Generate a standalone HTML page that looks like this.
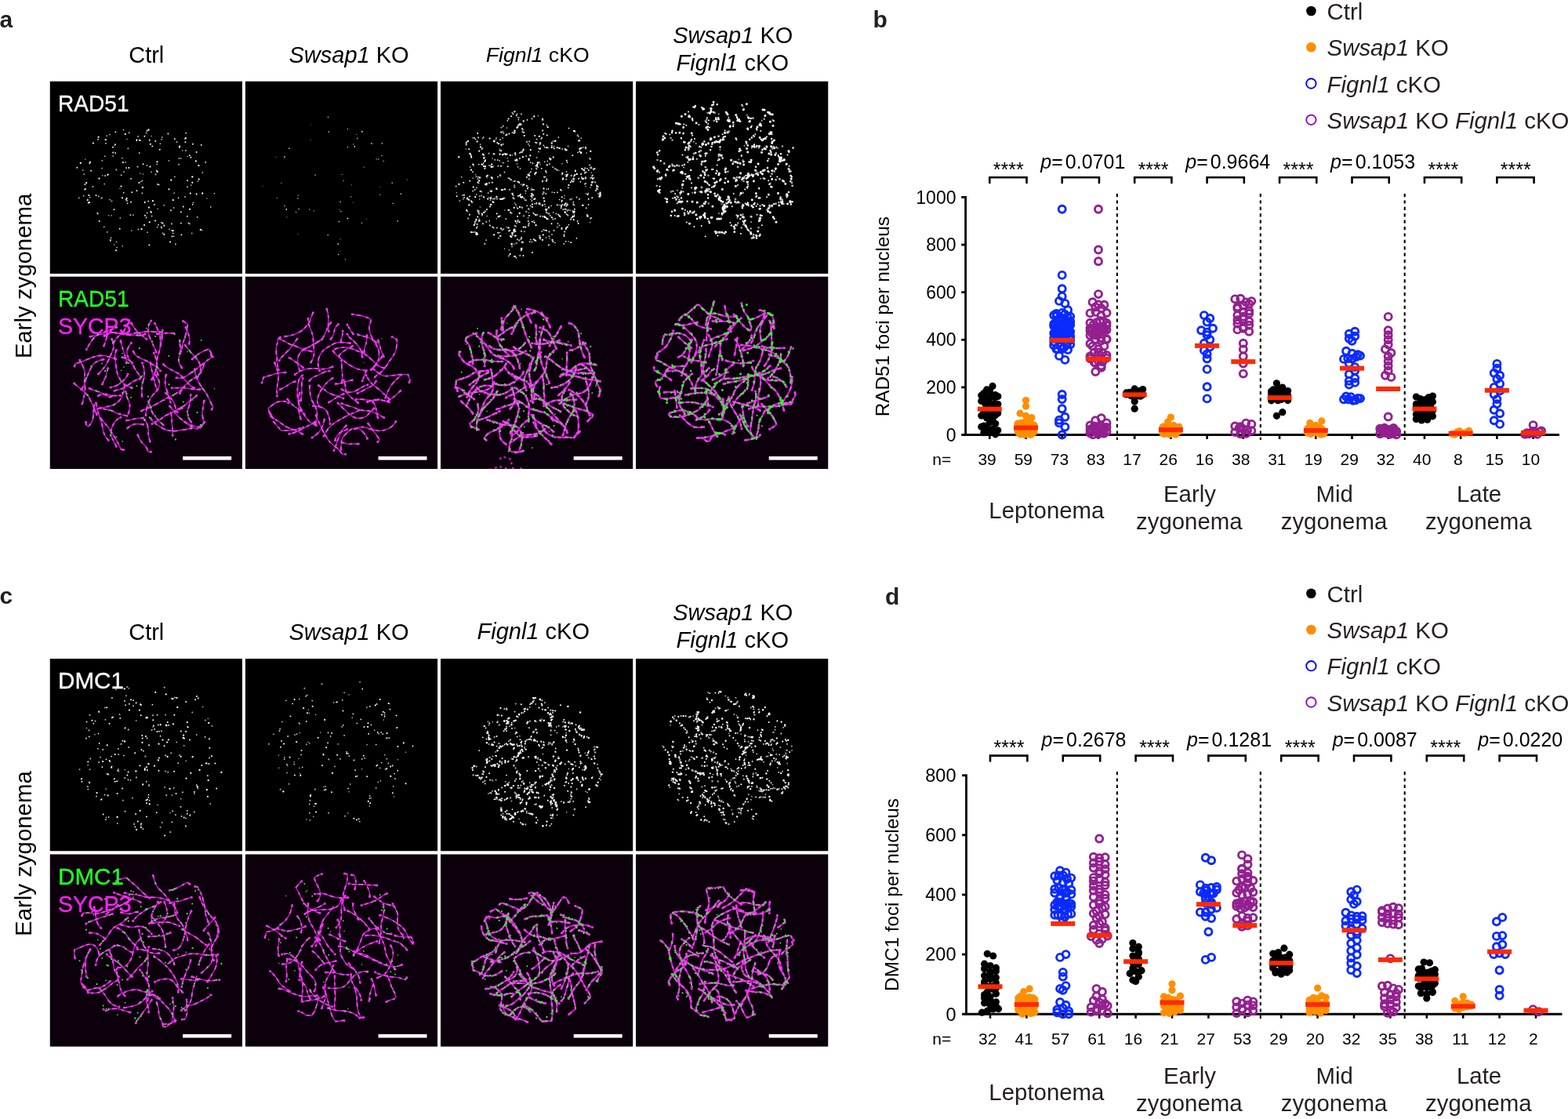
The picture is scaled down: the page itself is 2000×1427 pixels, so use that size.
<!DOCTYPE html>
<html><head><meta charset="utf-8"><title>Figure</title>
<style>html,body{margin:0;padding:0;background:#fff;}svg{display:block;}</style>
</head><body>
<svg width="2000" height="1427" viewBox="0 0 2000 1427" font-family="'Liberation Sans', Arial, Helvetica, sans-serif">
<defs><filter id="soft" x="-5%" y="-5%" width="110%" height="110%"><feGaussianBlur stdDeviation="0.45"/></filter></defs>
<rect width="2000" height="1427" fill="#fff"/>
<svg x="63.5" y="103.5" width="245.5" height="245.5" viewBox="0 0 245.5 245.5" overflow="hidden"><rect width="245.5" height="245.5" fill="#000"/><g transform="translate(0 0.0)" filter="url(#soft)"><path d="M78.7 171.4h0M93.3 103.0h0M126.1 62.7h0M200.4 149.5h0M98.4 74.1h0M82.6 82.2h0M181.3 121.9h0M89.5 136.8h0M67.3 120.2h0M129.6 70.1h0M82.3 208.6h0M169.3 88.5h0M194.9 142.6h0M75.3 171.2h0M119.0 118.6h0M66.7 148.6h0M137.6 162.9h0M92.7 210.4h0M115.4 117.6h0M175.7 96.0h0M45.2 99.7h0" stroke="#ffffff" stroke-width="1.63" stroke-opacity="0.67" stroke-linecap="round" fill="none"/><path d="M110.8 75.9h0M69.3 185.7h0M71.4 79.4h0M76.6 68.3h0M142.3 180.3h0M69.6 131.2h0M138.5 183.4h0M182.9 155.0h0M78.2 199.7h0M80.6 95.5h0M167.5 181.3h0M144.3 193.8h0M164.0 148.9h0M175.5 134.9h0M99.1 155.9h0M205.3 160.6h0M157.2 194.1h0M62.3 146.9h0M158.8 142.7h0M77.4 203.6h0M136.6 106.0h0M140.8 79.7h0M96.8 103.5h0M130.2 172.1h0M124.2 168.0h0M167.1 98.5h0M178.3 181.9h0M128.6 166.0h0M186.4 101.4h0M60.6 168.4h0M117.9 142.9h0M194.8 116.6h0M158.3 197.7h0M159.3 122.0h0M143.4 71.5h0M182.2 157.4h0M94.3 142.4h0M167.2 181.1h0M124.6 192.8h0M72.7 69.7h0M76.6 151.3h0M42.3 113.5h0M124.0 107.6h0M50.6 104.9h0M99.8 85.9h0M70.3 95.8h0M89.8 174.5h0M152.6 188.7h0M123.2 66.0h0M137.1 186.3h0M92.4 98.2h0M91.1 119.9h0M106.4 170.8h0M37.3 148.7h0M94.6 115.6h0M145.9 158.3h0M43.7 118.8h0M51.1 148.2h0M164.9 98.6h0M210.0 143.3h0" stroke="#ffffff" stroke-width="1.63" stroke-opacity="1.00" stroke-linecap="round" fill="none"/><path d="M158.1 161.5h0M194.1 190.1h0M188.8 127.6h0M142.2 185.7h0M85.6 212.1h0M136.1 114.0h0M142.7 74.2h0M136.9 115.4h0M65.8 149.2h0M43.2 146.2h0M104.3 190.6h0M180.2 132.6h0M61.4 169.0h0M66.9 101.3h0M129.7 115.9h0M116.3 128.1h0M44.3 138.2h0M151.9 101.4h0M118.0 127.0h0M73.4 192.4h0M66.6 111.1h0M94.0 62.3h0M181.2 194.0h0M85.1 204.9h0" stroke="#ffffff" stroke-width="1.90" stroke-opacity="0.67" stroke-linecap="round" fill="none"/><path d="M120.9 70.3h0M119.1 105.7h0M140.3 87.3h0M97.3 151.1h0M156.0 198.0h0M63.2 178.5h0M167.4 166.9h0M80.5 84.3h0M93.4 103.7h0M73.7 119.5h0M45.5 137.5h0M80.7 91.0h0M167.9 195.9h0M83.9 64.9h0M126.9 209.0h0M59.1 145.7h0M175.6 126.7h0M179.9 97.3h0M127.3 75.2h0M44.9 131.8h0M82.0 163.7h0M74.4 118.9h0M34.9 110.2h0M121.5 171.3h0M111.0 74.8h0M173.6 72.5h0M52.7 114.3h0M130.9 82.9h0M178.4 94.7h0M172.6 73.2h0M172.9 77.8h0M139.0 132.0h0M104.7 141.8h0M170.3 160.0h0M103.5 154.3h0M150.9 67.0h0M110.9 139.8h0M83.5 80.7h0M89.2 188.3h0M133.5 157.4h0M193.2 81.4h0M154.4 164.8h0M83.7 91.6h0M182.5 80.3h0M159.4 73.7h0M124.0 63.2h0M134.8 76.5h0M187.1 90.5h0" stroke="#ffffff" stroke-width="1.90" stroke-opacity="1.00" stroke-linecap="round" fill="none"/><path d="M98.5 152.7h0M135.0 118.9h0M77.4 202.4h0M165.4 84.6h0M118.2 135.7h0M164.5 106.3h0M61.6 74.3h0M102.9 170.7h0M112.9 189.1h0M155.5 181.9h0M186.4 102.4h0M112.5 70.5h0M142.5 187.0h0M97.5 110.7h0M177.0 181.0h0M155.7 190.6h0M173.4 88.5h0M173.7 66.3h0M175.4 172.4h0M79.0 153.0h0M70.6 120.7h0M54.9 134.6h0M123.1 173.9h0M84.9 112.9h0M172.6 147.5h0M112.0 109.2h0M162.1 77.5h0M103.6 124.4h0M160.4 207.9h0M198.7 103.4h0M101.2 65.8h0M114.3 91.7h0M125.6 153.2h0M137.3 131.5h0M188.2 173.5h0" stroke="#ffffff" stroke-width="2.17" stroke-opacity="0.67" stroke-linecap="round" fill="none"/><path d="M143.9 181.1h0M92.5 148.8h0M96.2 67.6h0M126.0 61.9h0M137.0 102.9h0M114.5 75.3h0M190.2 125.1h0M50.6 154.5h0M98.1 149.7h0M181.8 129.3h0M91.0 134.0h0M137.2 115.4h0M46.7 129.7h0M48.3 151.6h0M84.6 215.8h0M63.0 124.2h0M194.7 143.2h0M129.3 167.2h0M134.6 178.0h0M157.3 151.7h0M178.6 163.3h0M145.9 195.5h0M55.4 79.1h0M115.2 75.5h0M120.6 183.5h0M118.6 135.6h0M126.4 161.1h0M179.3 143.1h0M182.0 122.1h0M189.9 107.7h0M165.7 83.2h0M71.2 74.7h0M117.0 188.7h0M51.5 103.4h0M128.0 109.1h0M131.4 152.7h0M187.1 144.0h0M113.9 129.5h0M49.4 155.1h0M153.6 205.0h0M145.8 184.1h0M154.8 126.2h0M152.1 137.8h0M121.2 154.6h0M157.2 190.7h0M100.8 110.5h0M127.2 179.8h0M49.9 145.5h0M39.3 104.4h0M192.3 189.4h0M128.4 80.3h0M62.1 71.3h0" stroke="#ffffff" stroke-width="2.17" stroke-opacity="1.00" stroke-linecap="round" fill="none"/></g></svg>
<svg x="312.8" y="103.5" width="245.5" height="245.5" viewBox="0 0 245.5 245.5" overflow="hidden"><rect width="245.5" height="245.5" fill="#000"/><g transform="translate(0 0.0)" filter="url(#soft)"><path d="M83.4 55.3h0M121.3 216.7h0M172.0 134.9h0" stroke="#ffffff" stroke-width="1.31" stroke-opacity="0.33" stroke-linecap="round" fill="none"/><path d="M87.7 165.5h0M40.5 149.2h0M123.3 118.9h0M151.6 109.7h0M46.0 129.9h0M142.2 67.8h0" stroke="#ffffff" stroke-width="1.31" stroke-opacity="0.67" stroke-linecap="round" fill="none"/><path d="M148.5 180.8h0M50.1 159.2h0M176.4 101.8h0M134.9 147.3h0M64.8 167.1h0M118.9 220.9h0M105.7 45.9h0M130.7 61.1h0M130.6 84.2h0M81.9 163.6h0M174.2 94.9h0M188.4 156.0h0" stroke="#ffffff" stroke-width="1.31" stroke-opacity="1.00" stroke-linecap="round" fill="none"/><path d="M22.2 133.4h0M154.9 176.0h0M67.6 194.9h0M137.7 155.0h0M83.3 75.1h0M39.5 96.8h0" stroke="#ffffff" stroke-width="1.50" stroke-opacity="0.33" stroke-linecap="round" fill="none"/><path d="M171.8 144.8h0M125.4 127.1h0M127.6 227.3h0M167.3 99.5h0M67.6 145.7h0M138.0 80.5h0" stroke="#ffffff" stroke-width="1.50" stroke-opacity="0.67" stroke-linecap="round" fill="none"/><path d="M56.0 85.7h0M106.6 64.6h0M119.7 179.3h0M198.6 143.7h0M174.4 79.4h0" stroke="#ffffff" stroke-width="1.50" stroke-opacity="1.00" stroke-linecap="round" fill="none"/><path d="M120.1 163.8h0M206.4 125.7h0M121.4 201.2h0M135.5 132.3h0M52.9 173.4h0" stroke="#ffffff" stroke-width="1.69" stroke-opacity="0.33" stroke-linecap="round" fill="none"/><path d="M170.0 99.5h0M121.4 153.8h0M105.5 196.3h0M68.4 163.0h0M67.1 149.3h0M122.1 166.1h0M142.9 72.9h0M89.4 119.5h0M194.5 178.4h0M187.4 129.7h0" stroke="#ffffff" stroke-width="1.69" stroke-opacity="0.67" stroke-linecap="round" fill="none"/><path d="M118.5 207.6h0M161.2 79.5h0M130.6 175.1h0M139.5 83.3h0M149.1 64.4h0M52.5 163.4h0M50.1 96.6h0" stroke="#ffffff" stroke-width="1.69" stroke-opacity="1.00" stroke-linecap="round" fill="none"/></g></svg>
<svg x="562.0" y="103.5" width="245.5" height="245.5" viewBox="0 0 245.5 245.5" overflow="hidden"><rect width="245.5" height="245.5" fill="#000"/><g transform="translate(0 0.0)" filter="url(#soft)"><path d="M51.0 140.2h0M85.3 98.1h0M186.1 91.6h0M148.8 141.5h0M183.8 114.5h0M124.3 44.3h0M53.5 92.8h0M141.0 99.1h0M79.1 93.5h0M66.3 98.6h0M94.1 160.9h0M111.6 174.3h0M102.3 213.6h0M199.2 136.6h0M63.7 108.0h0M188.4 142.8h0M75.2 86.5h0M199.3 133.5h0M203.1 144.8h0M44.8 119.7h0M170.6 120.2h0M98.2 201.9h0M95.6 157.0h0M185.3 143.3h0M191.2 135.6h0M151.4 158.0h0M73.6 79.9h0M103.1 160.5h0M55.4 148.7h0M170.2 167.9h0M55.0 98.7h0M70.5 74.3h0M163.1 204.6h0M157.7 149.1h0M174.6 179.1h0M108.2 143.0h0M81.6 213.8h0M185.1 116.4h0M134.9 164.7h0M71.3 175.1h0M133.5 159.8h0M112.7 118.6h0M94.6 155.3h0M179.3 118.8h0M119.8 169.6h0M80.4 104.1h0M77.2 81.0h0M107.4 151.6h0M161.4 156.3h0M100.3 129.4h0M33.4 76.9h0M84.1 186.2h0M169.2 155.2h0M144.7 83.1h0M127.3 201.6h0M52.8 171.2h0M47.6 166.7h0M184.7 122.7h0M182.6 123.5h0M102.8 131.7h0M88.4 125.0h0M190.6 180.1h0M127.0 105.8h0M115.1 150.9h0M94.9 38.3h0M101.8 55.0h0M158.0 145.9h0M131.4 136.7h0M106.1 69.3h0M62.1 129.3h0M52.9 171.4h0M169.8 122.3h0M93.9 208.1h0M137.4 168.8h0M144.3 84.9h0M79.0 103.8h0M80.2 138.1h0M97.5 105.7h0M158.5 86.2h0M49.2 175.9h0M88.4 94.2h0M79.7 66.7h0M53.5 170.4h0M192.3 116.6h0M116.0 136.5h0M130.6 49.0h0M161.4 170.1h0M59.3 123.0h0M28.8 150.4h0M96.1 157.9h0M87.5 215.3h0M61.9 148.4h0M92.2 196.8h0M95.2 191.4h0M131.9 121.8h0M200.5 134.6h0M134.7 163.8h0M159.0 119.1h0M97.0 160.5h0M110.5 76.9h0M161.3 121.2h0M127.4 197.0h0M139.0 200.6h0M119.5 138.7h0M92.4 149.7h0M195.0 112.1h0M136.3 163.0h0M132.8 190.1h0M88.8 190.2h0M56.6 102.7h0M94.1 38.8h0M80.6 66.1h0M150.8 113.8h0M99.6 128.0h0M169.5 153.9h0M56.7 165.5h0M81.8 164.5h0M20.3 142.1h0M91.5 94.5h0M92.8 127.7h0M39.2 153.3h0M133.9 121.9h0M177.3 88.7h0M119.0 178.1h0M41.3 123.6h0M84.6 59.7h0M185.1 134.1h0M191.0 174.6h0M155.0 105.3h0M50.5 160.5h0M138.1 162.2h0M98.1 46.5h0M49.7 150.4h0M112.4 168.0h0M104.5 60.4h0M192.1 109.6h0M32.4 86.5h0M59.2 172.1h0" stroke="#ffffff" stroke-width="1.67" stroke-opacity="0.67" stroke-linecap="round" fill="none"/><path d="M33.0 78.3h0M122.4 155.0h0M122.7 78.6h0M94.3 64.1h0M155.4 157.4h0M92.5 148.3h0M78.6 189.8h0M94.1 132.8h0M36.5 151.4h0M42.0 192.6h0M98.3 58.0h0M128.8 111.4h0M99.4 49.1h0M115.8 138.6h0M178.4 128.3h0M85.4 50.3h0M142.4 174.0h0M130.2 144.1h0M160.6 115.6h0M78.6 150.1h0M37.7 109.5h0M46.8 194.4h0M45.4 122.0h0M81.5 116.1h0M177.3 90.0h0M170.5 166.9h0M126.7 155.5h0M173.4 200.3h0M162.3 185.5h0M116.6 152.6h0M94.7 197.1h0M52.5 86.6h0M128.2 73.3h0M146.0 206.0h0M145.2 142.1h0M120.4 150.5h0M170.4 158.1h0M92.1 145.0h0M72.9 100.6h0M131.4 81.8h0M86.2 164.0h0M202.8 145.4h0M115.0 202.2h0M129.2 191.6h0M149.0 142.0h0M43.3 72.4h0M104.1 205.0h0M175.1 90.8h0M62.3 178.2h0M151.6 151.0h0M157.5 195.6h0M67.8 187.1h0M48.9 165.7h0M154.4 153.4h0M152.7 173.0h0M161.5 103.6h0M60.7 142.6h0M159.8 204.3h0M44.7 74.0h0M116.1 179.0h0M54.7 104.3h0M166.8 174.4h0M110.5 49.4h0M105.1 88.6h0M89.8 44.7h0M169.5 167.2h0M121.5 203.7h0M188.6 157.4h0M48.8 106.2h0M92.4 41.6h0M92.4 42.0h0M89.1 167.2h0M98.2 201.8h0M150.3 71.6h0M141.0 159.0h0M149.4 181.7h0M75.2 101.5h0M143.7 167.5h0M121.3 107.9h0M132.6 84.2h0M115.0 159.2h0M134.6 199.5h0M41.2 140.2h0M93.1 191.1h0M80.3 188.7h0M145.0 86.1h0M97.5 59.4h0M115.0 115.7h0M110.2 158.8h0M130.2 49.7h0M136.4 102.0h0M64.0 149.8h0M174.7 178.3h0M96.4 225.1h0M87.3 164.7h0M80.5 93.1h0M88.0 221.3h0M204.4 145.2h0M93.9 64.0h0M160.5 169.7h0M77.4 80.9h0M148.5 84.8h0M87.9 124.2h0M102.7 215.9h0M53.8 106.3h0M118.1 144.9h0M113.7 204.8h0M117.7 138.2h0M165.7 129.1h0M131.1 196.0h0M47.9 122.2h0M45.7 187.4h0M159.7 155.7h0M130.5 195.9h0M120.8 117.7h0M163.4 183.0h0M161.4 165.5h0M132.9 157.2h0M109.2 95.7h0M84.9 93.2h0M73.4 108.1h0M98.5 178.9h0M110.0 122.1h0M93.9 149.8h0M194.1 120.0h0M158.8 86.8h0M131.5 189.6h0M69.2 100.3h0M143.2 109.7h0M137.6 137.3h0M104.3 90.4h0M45.2 177.8h0M138.4 197.8h0M83.2 175.6h0M114.8 103.6h0M103.0 41.9h0M157.4 207.3h0M146.1 175.4h0M163.6 60.1h0M122.2 156.3h0M90.4 44.8h0" stroke="#ffffff" stroke-width="1.67" stroke-opacity="1.00" stroke-linecap="round" fill="none"/><path d="M116.1 111.9h0M129.7 48.3h0M52.3 141.1h0M198.8 137.2h0M193.3 120.5h0M34.2 166.1h0M27.9 145.6h0M86.0 101.9h0M192.4 174.2h0M113.5 117.0h0M135.8 167.9h0M137.0 85.1h0M91.4 40.0h0M45.9 136.1h0M167.3 150.3h0M146.9 112.0h0M185.3 86.0h0M187.0 111.4h0M49.8 146.7h0M143.7 76.4h0M92.6 145.5h0M194.3 124.5h0M107.0 132.0h0M149.0 186.1h0M109.8 77.7h0M52.9 169.1h0M93.9 190.9h0M154.9 119.0h0M175.7 70.4h0M142.4 141.8h0M125.8 85.7h0M52.2 146.1h0M44.1 192.5h0M151.5 184.0h0M125.1 89.9h0M104.2 64.4h0M142.0 195.4h0M116.4 205.0h0M79.0 72.4h0M79.4 64.2h0M87.9 164.5h0M120.1 156.2h0M160.5 120.1h0M112.7 181.0h0M116.6 148.5h0M56.0 97.4h0M129.8 128.1h0M103.1 199.0h0M97.6 41.9h0M101.6 111.4h0M103.6 60.5h0M53.5 73.0h0M75.8 119.5h0M86.4 123.4h0M130.2 47.7h0M42.0 107.4h0M99.8 46.6h0M62.1 107.6h0M135.4 56.3h0M95.2 65.3h0M24.4 152.4h0M98.6 59.1h0M126.7 86.5h0M54.8 71.5h0M90.6 168.3h0M111.9 80.2h0M192.9 128.5h0M32.9 164.0h0M113.3 82.3h0M82.0 137.2h0M45.7 144.5h0M160.3 186.8h0M111.4 135.6h0M71.1 72.5h0M201.2 143.6h0M50.7 80.8h0M101.5 202.0h0M75.3 193.3h0M154.0 139.4h0M134.9 190.5h0M158.0 163.3h0M39.0 152.5h0M109.9 122.7h0M132.7 102.7h0M127.6 199.5h0M156.2 163.8h0M130.0 172.6h0M86.7 223.0h0M112.0 120.1h0M63.5 151.8h0M134.7 164.0h0M131.1 195.9h0M120.6 149.5h0M105.4 65.2h0M63.5 157.7h0M199.0 132.9h0M58.4 132.7h0M100.2 203.3h0M117.6 138.6h0M58.3 202.7h0M125.0 85.8h0M86.6 164.8h0M91.8 194.9h0M83.0 69.3h0M185.9 116.0h0M124.2 109.4h0M39.7 154.0h0M116.4 144.3h0M96.0 185.2h0M195.6 123.2h0M181.4 112.7h0M179.9 122.6h0M191.4 175.2h0M98.6 109.2h0M61.9 130.0h0M155.2 86.5h0M127.0 157.2h0M91.1 210.9h0M145.7 111.5h0M120.3 119.0h0M47.4 124.4h0M170.0 126.9h0M181.7 84.6h0M170.4 170.4h0M162.7 83.1h0M165.0 164.8h0M135.3 137.8h0M122.6 97.5h0M179.2 72.8h0M41.4 72.3h0M26.7 122.3h0M57.4 166.1h0M106.8 191.8h0" stroke="#ffffff" stroke-width="2.00" stroke-opacity="0.67" stroke-linecap="round" fill="none"/><path d="M178.9 91.8h0M94.4 189.1h0M154.8 152.3h0M161.9 119.1h0M63.7 149.6h0M151.8 85.5h0M113.0 171.6h0M175.7 181.4h0M160.8 101.2h0M54.9 147.6h0M138.0 209.1h0M134.1 114.5h0M119.8 180.6h0M98.9 146.4h0M156.3 123.7h0M129.7 158.6h0M82.1 137.9h0M67.9 76.6h0M53.9 181.8h0M58.6 121.2h0M84.4 68.3h0M102.8 90.6h0M141.7 173.7h0M148.5 113.2h0M83.0 93.7h0M160.4 121.4h0M50.2 123.1h0M199.4 134.3h0M98.3 128.2h0M169.7 176.9h0M135.4 126.8h0M98.1 172.6h0M101.0 98.6h0M99.0 56.4h0M59.0 163.5h0M64.5 140.7h0M46.9 195.3h0M170.4 120.5h0M153.1 138.5h0M63.0 183.9h0M134.6 174.2h0M57.1 100.8h0M89.0 94.6h0M135.8 69.0h0M117.0 160.4h0M77.1 108.3h0M110.9 137.1h0M168.9 128.3h0M168.6 172.5h0M98.3 162.3h0M72.3 78.6h0M179.2 118.5h0M44.0 179.2h0M33.4 165.0h0M183.9 117.0h0M94.6 62.9h0M127.2 172.3h0M47.2 173.1h0M156.1 125.2h0M56.4 111.5h0M120.2 69.5h0M86.6 48.1h0M188.7 150.3h0M105.2 88.0h0M134.8 164.4h0M154.0 160.0h0M168.3 94.7h0M203.5 147.0h0M38.7 94.5h0M118.5 168.4h0M67.5 154.4h0M96.8 43.8h0M110.0 133.4h0M30.0 145.2h0M200.0 137.6h0M158.2 191.9h0M89.9 125.7h0M63.0 160.0h0M74.2 79.7h0M95.0 223.5h0M168.8 172.7h0M47.3 129.0h0M29.3 129.3h0M38.8 192.4h0M78.8 138.8h0M154.5 187.3h0M136.8 176.0h0M36.2 86.7h0M171.4 119.6h0M100.3 129.2h0M159.7 163.3h0M184.3 111.0h0M103.1 200.8h0M93.7 66.2h0M23.1 97.0h0M154.8 147.7h0M46.4 195.6h0M168.4 173.6h0M193.1 129.6h0M46.6 182.6h0M71.7 168.9h0M32.7 80.9h0M20.7 146.7h0M66.4 185.9h0M132.2 172.4h0M37.3 127.2h0M196.5 111.4h0M93.6 161.6h0M87.4 67.1h0M180.3 124.0h0M39.9 192.7h0M88.9 220.3h0M52.8 169.3h0M157.6 197.4h0M131.3 67.4h0M148.8 157.9h0M73.2 193.3h0M172.0 114.9h0M93.3 189.4h0M33.7 150.1h0M96.1 101.3h0M66.0 129.2h0M39.2 96.3h0M120.2 118.0h0M37.1 146.9h0M94.0 223.6h0M94.6 127.5h0M85.7 108.7h0M50.1 123.2h0M159.6 86.9h0M107.0 69.5h0M169.6 176.4h0M166.1 205.8h0M169.1 124.8h0M161.1 186.3h0M83.7 93.1h0M153.8 158.4h0M150.2 170.3h0M36.9 170.2h0M64.7 122.8h0M130.2 63.1h0M121.1 78.3h0M134.8 84.7h0M67.6 92.8h0M141.5 181.7h0M179.5 91.3h0M118.7 201.8h0M77.3 88.8h0M138.0 160.8h0M171.9 114.1h0M155.7 125.1h0M170.9 163.3h0M188.9 113.5h0M176.2 124.3h0M68.5 92.9h0M47.2 66.4h0M119.1 150.6h0M198.1 139.6h0M105.5 222.5h0M193.3 148.7h0M143.4 204.7h0M117.0 218.6h0M179.5 85.2h0" stroke="#ffffff" stroke-width="2.00" stroke-opacity="1.00" stroke-linecap="round" fill="none"/><path d="M131.5 142.7h0M138.4 192.0h0M79.6 80.4h0M162.4 171.2h0M30.1 148.3h0M48.5 129.9h0M178.5 90.3h0M190.1 98.6h0M68.1 75.9h0M125.9 197.6h0M123.1 170.5h0M147.5 169.1h0M77.5 82.0h0M169.4 157.2h0M191.2 110.6h0M111.8 178.5h0M40.2 154.4h0M104.9 133.1h0M106.3 149.3h0M76.1 74.7h0M105.9 86.9h0M126.7 80.7h0M112.4 182.5h0M154.5 188.7h0M95.5 94.0h0M190.2 107.1h0M58.3 131.1h0M97.7 101.2h0M192.4 110.8h0M138.8 105.7h0M48.5 178.6h0M105.0 205.7h0M49.8 122.8h0M32.5 79.0h0M47.2 164.8h0M55.0 94.5h0M95.4 191.3h0M104.9 61.8h0M77.6 59.1h0M34.3 148.8h0M159.2 87.8h0M103.0 191.5h0M160.3 125.1h0M139.9 171.6h0M56.6 108.5h0M19.7 134.1h0M185.8 161.8h0M96.7 206.7h0M61.5 92.1h0M129.2 72.1h0M193.1 122.8h0M146.6 76.2h0M63.3 140.1h0M71.9 150.0h0M101.0 55.8h0M73.0 122.1h0M56.3 207.5h0M122.1 111.1h0M134.7 167.1h0M46.3 195.7h0M195.1 112.6h0M89.4 167.8h0M153.6 161.8h0M49.0 169.0h0M112.1 162.8h0M166.0 176.5h0M117.5 179.4h0M94.7 184.3h0M94.3 135.2h0M122.3 112.1h0M162.0 157.5h0M88.0 138.3h0M101.0 91.5h0M50.5 140.3h0M101.3 222.4h0M41.0 115.7h0M141.9 82.5h0M185.0 130.5h0M135.4 124.8h0M67.0 150.2h0M173.6 148.2h0M124.1 104.9h0M131.4 141.6h0M97.3 59.1h0M162.8 135.8h0M69.1 149.9h0M181.5 158.3h0M167.3 126.6h0M74.1 200.1h0M190.9 99.3h0M162.7 164.2h0M116.5 47.8h0M186.9 170.3h0M184.8 124.3h0M108.9 151.9h0M165.3 150.8h0M134.7 127.4h0M134.6 164.1h0M130.2 127.6h0M132.5 122.4h0M71.8 187.2h0M39.2 97.4h0M96.9 180.8h0M109.3 166.5h0M95.0 100.9h0M71.3 136.7h0M23.5 96.3h0M158.7 156.7h0M102.0 144.5h0M117.4 104.9h0M65.2 140.0h0M93.7 192.3h0M64.4 148.2h0M106.3 65.4h0M91.7 65.7h0M122.6 74.2h0M102.7 55.5h0M138.4 169.0h0M65.7 124.3h0M112.2 184.3h0M184.1 131.2h0M43.7 181.3h0M90.8 208.5h0M130.3 157.8h0M159.7 156.7h0M135.9 84.6h0M194.4 128.2h0M134.8 116.3h0M178.3 85.5h0M170.5 124.7h0M117.7 146.1h0M149.4 84.7h0M197.2 129.0h0M101.9 54.4h0M168.4 165.4h0M79.8 57.1h0M166.7 128.1h0M91.3 195.7h0M166.8 120.5h0M143.4 176.1h0M76.2 120.7h0M125.8 103.5h0M94.3 39.1h0M187.4 172.4h0M46.6 185.8h0M58.3 179.4h0M112.7 163.2h0M43.7 138.3h0M91.4 193.6h0M191.5 123.4h0M53.2 85.7h0M81.4 149.1h0M174.7 68.9h0M112.9 124.8h0M48.3 167.4h0M103.4 148.7h0M104.1 161.5h0M75.7 88.4h0M103.7 205.5h0M98.6 177.4h0M168.6 172.4h0M177.0 150.5h0M108.5 140.1h0M106.0 171.8h0M113.2 77.0h0M185.2 123.2h0M134.3 143.4h0M144.6 190.5h0M48.1 71.9h0M200.7 134.5h0M35.2 175.2h0" stroke="#ffffff" stroke-width="2.33" stroke-opacity="0.67" stroke-linecap="round" fill="none"/><path d="M142.6 202.6h0M159.8 188.3h0M173.8 118.5h0M127.0 86.1h0M155.4 117.4h0M160.6 87.9h0M100.7 168.5h0M39.0 113.2h0M49.6 177.9h0M184.9 84.7h0M151.7 171.9h0M45.9 193.5h0M91.5 193.6h0M90.7 207.4h0M121.1 170.6h0M169.4 167.2h0M134.6 190.4h0M101.0 145.8h0M79.1 93.8h0M104.3 147.6h0M41.8 135.1h0M68.6 76.9h0M177.1 75.7h0M96.9 99.8h0M132.4 153.0h0M78.1 138.7h0M141.8 84.6h0M37.4 92.5h0M76.3 150.4h0M146.1 76.3h0M102.3 147.7h0M135.5 175.3h0M73.7 172.9h0M123.0 108.2h0M94.3 189.4h0M158.8 167.0h0M86.6 187.0h0M76.3 197.3h0M90.3 198.6h0M64.7 109.4h0M119.3 45.0h0M59.9 120.5h0M115.7 146.5h0M121.7 116.6h0M105.8 50.9h0M176.2 76.1h0M130.0 202.3h0M54.2 93.3h0M170.1 172.3h0M71.4 137.7h0M136.7 58.7h0M171.1 64.0h0M181.3 158.3h0M193.9 124.3h0M181.7 124.7h0M91.5 143.3h0M89.1 197.7h0M108.3 186.1h0M65.2 106.2h0M140.1 99.9h0M141.8 79.0h0M41.3 106.1h0M46.6 76.9h0M68.2 195.8h0M44.2 147.6h0M133.1 173.3h0M160.5 159.1h0M66.6 109.1h0M134.4 163.4h0M132.7 173.4h0M55.3 167.3h0M143.8 97.1h0M64.3 157.5h0M45.3 194.8h0M75.4 172.1h0M177.5 86.4h0M84.1 68.2h0M187.5 171.9h0M66.7 153.9h0M35.1 76.6h0M126.6 200.0h0M180.4 111.6h0M75.6 93.2h0M113.2 120.3h0M120.2 202.9h0M112.6 100.4h0M125.5 156.2h0M36.3 158.0h0M163.4 132.6h0M161.2 119.8h0M57.0 108.9h0M77.3 65.1h0M131.6 137.1h0M114.7 87.6h0M170.0 63.3h0M187.5 144.3h0M42.8 183.3h0M37.7 92.7h0M111.6 119.3h0M52.6 106.1h0M51.0 84.0h0M78.4 150.4h0M182.9 113.5h0M158.7 167.3h0M82.3 92.7h0M95.6 197.2h0M112.6 99.1h0M57.1 131.3h0M203.4 143.6h0M95.1 92.0h0M127.1 79.0h0M157.9 158.1h0M192.3 132.3h0M104.9 96.7h0M202.5 147.2h0M65.6 123.2h0M123.2 106.3h0M105.6 131.8h0M151.4 85.6h0M49.1 127.0h0M117.0 157.1h0M55.1 108.6h0M123.8 103.8h0M95.6 178.5h0M131.6 149.2h0M45.5 176.3h0M23.4 131.4h0M170.5 166.2h0M135.8 106.9h0M56.5 101.8h0M59.0 130.8h0M116.3 143.7h0M103.3 214.6h0M100.4 54.9h0M80.1 149.7h0M71.4 147.4h0M87.4 190.8h0M100.9 160.4h0M60.2 150.1h0M203.6 142.2h0M105.8 186.1h0M103.4 213.5h0M35.7 150.8h0M139.1 98.6h0M62.6 73.1h0M77.2 187.9h0M100.6 179.6h0M125.9 70.4h0M191.3 89.4h0M114.3 94.9h0M49.3 89.1h0M121.6 183.7h0M131.0 54.8h0M55.3 97.8h0" stroke="#ffffff" stroke-width="2.33" stroke-opacity="1.00" stroke-linecap="round" fill="none"/></g></svg>
<svg x="811.0" y="103.5" width="245.5" height="245.5" viewBox="0 0 245.5 245.5" overflow="hidden"><rect width="245.5" height="245.5" fill="#000"/><g transform="translate(0 -3.5)" filter="url(#soft)"><path d="M30.2 127.9h0M105.7 45.2h0M147.4 197.2h0M76.1 145.3h0M116.6 46.4h0M175.4 176.5h0M98.1 138.6h0M132.0 90.6h0M171.1 55.2h0M154.0 63.7h0M76.7 82.9h0M52.3 175.8h0M136.5 104.2h0M105.9 172.0h0M124.7 188.4h0M163.2 89.5h0M53.6 57.7h0M39.1 117.1h0M81.2 144.5h0M91.3 44.1h0M138.6 85.7h0M167.2 88.0h0M136.8 186.4h0M61.1 113.4h0M59.1 139.7h0M38.4 122.9h0M91.7 134.7h0M83.4 145.0h0M133.7 147.3h0M34.3 76.4h0M111.1 75.5h0M129.5 177.7h0M118.2 51.0h0M63.8 121.8h0M147.8 176.4h0M45.8 69.4h0M109.4 160.2h0M50.1 112.5h0M56.6 148.5h0M132.5 158.6h0M52.3 150.2h0M158.6 198.6h0M147.1 183.1h0M106.4 104.3h0M193.4 148.1h0M60.4 70.8h0M75.4 142.0h0M98.2 127.6h0M125.4 127.1h0M141.8 46.8h0M135.0 163.1h0M117.7 132.2h0M52.0 153.8h0M160.8 53.8h0M159.1 127.7h0M181.0 89.0h0M124.6 188.9h0M83.4 162.3h0M173.4 87.9h0M78.5 158.2h0M147.9 88.8h0M97.9 177.0h0M82.3 179.0h0M107.5 91.0h0M145.6 123.6h0M143.9 162.4h0M68.3 89.1h0M131.0 52.2h0M114.1 133.4h0M59.5 119.3h0M132.6 148.9h0M136.3 35.5h0M117.5 153.8h0M136.0 163.6h0M53.0 142.7h0M112.5 160.4h0M72.2 145.8h0M96.8 115.9h0M111.6 74.8h0M118.4 49.6h0M131.3 103.5h0M33.7 127.1h0M73.8 80.8h0M164.7 48.4h0" stroke="#ffffff" stroke-width="2.03" stroke-opacity="0.67" stroke-linecap="round" fill="none"/><path d="M38.8 70.8h0M62.0 174.5h0M92.3 58.1h0M98.5 116.1h0M73.6 170.7h0M57.8 145.0h0M67.1 42.6h0M82.4 123.8h0M133.6 179.1h0M173.5 71.2h0M134.0 92.0h0M104.7 104.4h0M72.2 72.8h0M173.4 161.7h0M153.4 118.1h0M145.0 124.6h0M112.3 197.2h0M69.7 103.5h0M192.1 109.2h0M93.0 53.5h0M62.9 81.6h0M112.5 166.4h0M176.0 54.3h0M112.7 164.9h0M174.1 162.4h0M178.3 116.1h0M69.8 87.0h0M167.1 151.3h0M74.4 189.1h0M115.2 158.9h0M111.1 77.0h0M88.8 98.8h0M113.0 198.1h0M119.3 151.4h0M156.8 181.9h0M65.8 169.8h0M49.7 175.0h0M71.1 133.6h0M159.3 66.9h0M182.3 158.3h0M89.6 84.0h0M75.1 77.0h0M186.2 104.8h0M140.1 124.0h0M173.6 46.1h0M103.1 117.5h0M102.0 81.1h0M164.5 128.1h0M142.6 126.8h0M113.4 161.4h0M195.6 111.7h0M130.6 158.5h0M43.3 71.6h0M199.8 157.2h0M102.2 50.0h0M77.5 139.3h0M64.3 59.8h0M170.9 43.6h0M150.4 122.7h0M73.1 36.6h0M136.5 182.0h0M169.4 102.5h0M84.5 37.5h0M114.2 73.9h0M139.6 159.6h0M66.4 106.8h0M71.8 50.9h0M64.4 128.0h0M157.3 166.4h0M83.7 188.1h0M152.3 71.3h0M143.0 131.9h0M133.1 178.9h0M83.6 108.8h0M143.3 65.2h0M141.7 138.7h0M87.4 39.1h0M153.6 163.1h0M80.4 59.0h0M175.7 160.3h0M72.5 53.7h0M70.2 79.9h0M76.2 138.8h0M95.1 76.3h0M136.4 160.7h0M53.9 176.0h0M74.7 169.4h0M62.7 122.0h0M61.2 58.4h0M52.8 159.2h0M144.5 194.4h0M43.0 112.0h0M85.5 117.9h0M110.5 164.6h0M139.3 181.8h0M104.5 200.5h0M119.5 52.7h0M118.4 53.8h0M181.9 99.4h0M162.8 117.4h0M101.2 136.2h0M119.8 155.2h0M68.1 48.6h0M47.2 117.8h0M81.6 163.8h0M155.3 160.6h0M71.1 139.6h0M122.9 163.3h0M105.8 99.1h0M156.1 123.5h0M169.2 130.3h0M97.0 138.7h0M174.8 53.2h0M161.3 160.9h0M94.1 62.5h0M57.1 58.6h0M110.6 71.2h0M183.2 100.4h0M183.8 128.4h0M179.3 87.8h0M141.4 83.6h0M193.5 97.4h0M68.0 48.1h0M153.2 151.3h0M69.7 128.9h0M58.1 157.8h0M128.5 78.2h0M176.6 160.2h0M137.9 127.6h0M106.5 150.4h0M171.9 124.7h0M112.2 171.2h0M138.2 125.5h0M100.9 149.8h0M64.8 183.5h0M180.4 125.4h0M50.2 146.9h0M103.7 110.6h0M37.2 70.1h0M127.4 131.2h0M129.0 130.2h0M120.4 183.9h0M183.7 103.6h0M195.6 119.0h0M65.9 125.9h0M158.6 162.4h0M154.3 65.8h0M157.2 182.3h0M91.6 133.4h0M69.6 168.9h0M166.9 74.3h0M97.3 116.1h0M137.7 177.7h0M196.6 158.0h0M47.4 143.8h0M91.1 116.2h0M134.3 174.6h0M83.9 36.9h0M30.7 126.7h0M30.5 137.8h0M181.6 98.0h0M38.2 122.3h0M49.3 111.4h0M149.3 164.2h0M59.5 97.6h0M90.9 50.3h0M164.2 162.4h0M56.9 145.9h0M150.5 160.4h0M116.0 154.7h0M66.7 147.7h0M110.7 157.0h0M139.2 141.5h0M108.5 77.9h0M26.8 94.7h0M103.8 118.5h0M66.5 101.7h0M143.1 137.6h0M183.0 128.3h0M150.0 123.9h0M117.5 118.8h0M55.4 154.5h0M138.0 185.3h0M147.8 60.8h0M37.5 152.7h0M93.9 141.3h0M85.1 162.0h0M66.5 99.8h0M115.2 43.5h0M161.1 175.0h0M88.7 201.6h0M142.6 125.8h0M59.2 110.9h0M195.2 116.2h0M62.9 167.8h0M116.9 53.7h0M154.6 173.7h0M60.4 144.4h0M46.5 78.8h0M192.7 151.6h0M134.0 198.0h0M160.8 187.2h0M113.6 66.6h0M160.3 121.1h0M92.6 83.6h0" stroke="#ffffff" stroke-width="2.03" stroke-opacity="1.00" stroke-linecap="round" fill="none"/><path d="M92.1 140.7h0M99.8 53.9h0M156.5 190.3h0M64.7 125.2h0M77.9 102.7h0M172.6 96.5h0M184.8 157.4h0M119.8 54.8h0M133.6 174.0h0M30.0 119.7h0M83.8 110.3h0M184.3 100.8h0M128.6 174.5h0M133.1 91.3h0M117.7 67.7h0M106.9 81.7h0M146.7 191.5h0M81.4 97.7h0M142.3 192.1h0M136.7 145.8h0M67.9 47.3h0M30.6 145.9h0M137.6 130.9h0M27.5 104.1h0M187.0 86.6h0M185.9 158.2h0M110.0 196.8h0M124.8 147.1h0M27.7 94.1h0M150.7 160.8h0M151.0 74.1h0M168.0 113.8h0M199.2 157.2h0M124.5 58.6h0M96.7 38.4h0M85.4 118.9h0M92.5 123.7h0M90.4 52.4h0M136.4 173.6h0M174.3 89.5h0M196.0 116.6h0M44.6 76.1h0M120.7 60.3h0M163.7 51.7h0M45.0 144.4h0M117.5 158.5h0M92.7 159.5h0M108.9 178.6h0M143.0 134.9h0M105.6 97.0h0M134.7 190.6h0M170.8 71.3h0M26.7 137.1h0M151.5 88.0h0M119.1 67.6h0M73.0 100.2h0M137.7 39.0h0M57.6 158.1h0M55.1 111.4h0M62.5 173.5h0M156.8 88.4h0M97.0 177.7h0M130.3 184.6h0M128.9 187.3h0M142.2 139.8h0M130.1 136.0h0M41.0 117.1h0M31.2 128.7h0M88.7 54.6h0M83.5 87.8h0M29.7 142.5h0M117.7 69.2h0M96.1 145.0h0M46.4 109.4h0M47.3 152.7h0M171.4 134.1h0" stroke="#ffffff" stroke-width="2.50" stroke-opacity="0.67" stroke-linecap="round" fill="none"/><path d="M69.1 169.9h0M137.7 183.6h0M52.5 110.9h0M107.4 154.7h0M184.6 153.3h0M185.0 96.3h0M134.9 98.6h0M66.9 172.2h0M71.0 78.1h0M144.1 50.8h0M168.6 118.2h0M197.9 160.6h0M62.9 91.3h0M145.3 77.7h0M59.3 156.9h0M89.0 105.2h0M154.1 64.0h0M159.5 119.0h0M88.1 160.1h0M144.5 106.4h0M87.3 80.5h0M142.5 123.6h0M119.7 155.5h0M153.1 112.8h0M156.8 152.6h0M117.3 46.0h0M132.5 126.1h0M97.2 34.3h0M153.9 203.7h0M170.1 44.5h0M112.6 74.6h0M197.7 124.1h0M187.5 104.7h0M151.6 159.3h0M158.4 199.7h0M130.4 157.4h0M31.7 105.2h0M90.1 56.1h0M32.9 126.3h0M172.3 138.1h0M60.7 131.1h0M46.2 68.9h0M165.4 76.8h0M56.5 145.9h0M86.8 159.6h0M135.4 128.9h0M124.2 61.1h0M111.2 167.3h0M157.1 140.2h0M137.6 176.9h0M110.7 78.3h0M80.7 93.5h0M107.5 87.6h0M167.9 114.3h0M126.5 157.3h0M46.1 169.8h0M96.5 87.0h0M105.4 178.8h0M90.4 95.4h0M154.4 86.0h0M65.6 156.7h0M135.9 165.2h0M170.5 135.1h0M98.9 33.2h0M146.6 196.3h0M155.6 122.8h0M121.9 187.4h0M76.4 94.9h0M73.6 171.0h0M133.2 54.7h0M92.5 82.5h0M78.0 179.1h0M153.4 121.6h0M78.3 179.0h0M191.9 109.4h0M110.7 101.5h0M94.6 44.4h0M86.2 174.3h0M125.5 188.9h0M49.9 151.9h0M97.4 83.8h0M124.2 55.9h0M168.2 104.9h0M75.4 139.9h0M85.3 163.0h0M187.1 157.1h0M111.8 163.3h0M81.3 86.9h0M44.8 174.9h0M97.7 82.0h0M98.7 43.0h0M143.0 193.2h0M129.6 54.1h0M42.1 113.1h0M197.4 118.6h0M170.5 161.9h0M197.2 131.2h0M140.8 80.8h0M142.8 85.4h0M146.5 197.0h0M87.4 105.7h0M176.6 178.9h0M51.2 69.5h0M141.2 190.1h0M62.0 171.7h0M113.9 116.6h0M146.7 51.0h0M34.1 78.4h0M39.8 116.0h0M171.5 91.9h0M106.0 154.8h0M28.2 143.5h0M66.8 83.3h0M150.9 86.8h0M99.8 127.7h0M90.6 62.3h0M154.1 150.0h0M102.6 80.1h0M157.6 59.5h0M66.8 88.4h0M186.2 158.2h0M147.9 75.5h0M143.3 126.1h0M173.5 138.5h0M151.0 84.6h0M108.5 98.6h0M75.9 34.9h0M30.2 92.3h0M172.4 94.0h0M60.7 70.1h0M189.0 131.4h0M123.7 108.9h0M110.2 196.3h0M72.2 52.0h0M102.3 197.6h0M143.1 126.0h0M68.5 127.7h0M91.8 178.9h0M105.6 73.7h0M46.5 66.7h0M61.9 109.9h0M173.2 77.1h0M163.0 77.4h0M28.0 97.3h0M107.1 130.3h0M67.3 48.8h0M127.7 76.6h0M49.9 168.4h0M102.4 121.0h0M86.8 126.6h0M127.1 186.7h0M38.1 123.8h0M127.8 130.2h0M161.4 91.1h0M183.8 102.4h0M118.5 54.7h0M104.5 148.4h0M131.8 53.6h0M165.2 76.1h0M149.6 164.2h0M106.4 103.0h0M189.2 103.6h0M57.9 76.3h0M195.0 144.9h0M153.6 200.1h0M73.0 103.0h0M142.7 158.8h0M193.6 149.6h0M92.0 148.3h0M150.1 73.1h0M93.9 184.3h0M159.9 60.2h0M170.0 70.6h0M132.6 89.7h0M117.2 53.2h0M114.4 127.5h0M113.5 133.0h0M145.7 54.4h0M165.6 90.2h0M92.2 152.4h0M131.8 93.1h0M134.3 146.7h0M197.5 157.8h0M105.1 50.2h0M35.1 77.7h0M115.2 42.9h0M84.8 84.8h0M95.1 91.2h0M158.9 120.0h0M170.9 171.1h0M93.7 136.0h0M95.8 43.1h0M157.5 200.8h0M159.8 77.8h0M70.2 117.1h0M58.0 152.4h0M198.7 125.5h0M200.6 88.4h0M103.8 33.2h0M103.2 55.1h0M146.8 62.3h0M37.1 75.9h0" stroke="#ffffff" stroke-width="2.50" stroke-opacity="1.00" stroke-linecap="round" fill="none"/><path d="M127.0 153.9h0M192.5 109.0h0M124.9 106.4h0M28.2 128.3h0M93.3 182.2h0M173.2 68.9h0M176.6 118.5h0M173.6 121.8h0M92.3 143.5h0M159.5 59.7h0M112.5 161.9h0M170.8 163.7h0M162.9 127.5h0M114.9 163.0h0M100.6 43.7h0M57.4 145.9h0M185.6 157.9h0M84.8 82.9h0M184.6 151.4h0M105.4 196.5h0M49.6 168.1h0M111.8 169.3h0M67.3 171.9h0M199.7 136.9h0M184.6 154.2h0M178.9 95.6h0M148.0 203.7h0M64.8 100.8h0M188.2 160.1h0M149.4 50.7h0M149.4 203.0h0M119.4 53.9h0M167.7 167.7h0M114.3 164.9h0M173.6 162.9h0M129.1 126.2h0M157.9 178.2h0M169.5 119.3h0M89.0 145.2h0M178.6 129.3h0M126.1 127.6h0M90.3 141.3h0M90.2 132.5h0M108.3 179.2h0M107.7 152.2h0M194.8 115.2h0M192.1 149.4h0M175.7 87.3h0M128.2 158.6h0M47.1 111.6h0M146.9 176.2h0M186.7 154.7h0M155.4 120.8h0M116.6 68.9h0M153.7 87.3h0M79.8 127.0h0M82.8 92.3h0M58.0 144.0h0M150.1 199.6h0M125.1 126.9h0M84.0 139.1h0M135.3 33.9h0M103.7 196.2h0M113.2 161.5h0M110.1 173.6h0M51.4 154.4h0M195.4 93.9h0M199.0 133.1h0M116.3 159.4h0M74.3 95.9h0M112.4 168.5h0M53.7 151.6h0M178.6 159.8h0M72.0 171.4h0M158.4 152.6h0M36.3 108.4h0M185.9 103.1h0M67.3 91.0h0M106.8 97.2h0M88.8 113.3h0M28.0 117.2h0M130.1 113.0h0" stroke="#ffffff" stroke-width="2.96" stroke-opacity="0.67" stroke-linecap="round" fill="none"/><path d="M91.6 61.8h0M118.4 157.5h0M164.1 117.1h0M166.8 87.1h0M168.7 169.6h0M172.8 97.2h0M158.8 178.3h0M189.4 104.1h0M172.0 68.8h0M61.5 81.3h0M136.4 176.7h0M130.1 175.5h0M152.5 117.3h0M197.0 157.1h0M162.3 117.8h0M69.1 103.2h0M120.1 61.5h0M100.4 75.1h0M114.7 114.9h0M148.3 155.1h0M48.4 117.1h0M141.5 89.5h0M134.0 146.5h0M143.4 49.8h0M74.8 36.8h0M139.6 187.5h0M95.7 77.5h0M147.8 162.5h0M179.0 183.3h0M105.5 52.1h0M142.5 132.2h0M68.1 124.4h0M190.8 134.6h0M99.1 30.2h0M172.1 70.2h0M149.3 124.8h0M128.3 129.6h0M30.3 142.3h0M68.0 86.0h0M158.7 58.0h0M90.4 143.1h0M57.3 157.3h0M142.1 132.3h0M63.1 45.8h0M55.3 58.2h0M101.5 195.5h0M57.5 120.0h0M116.5 163.4h0M184.6 101.4h0M155.8 195.1h0M100.6 147.1h0M88.9 95.9h0M175.2 177.0h0M89.4 84.8h0M106.3 179.3h0M66.9 147.6h0M66.1 125.3h0M164.1 40.2h0M183.7 101.9h0M68.5 185.3h0M169.4 148.3h0M173.7 128.6h0M91.9 65.6h0M93.7 43.9h0M131.5 52.4h0M137.6 110.1h0M181.6 109.6h0M139.2 181.4h0M102.5 150.2h0M75.4 145.8h0M127.8 46.8h0M171.8 45.8h0M169.3 165.8h0M67.9 103.8h0M137.3 106.3h0M84.6 106.2h0M143.1 161.0h0M186.6 159.5h0M118.3 153.2h0M137.0 162.3h0M161.4 79.0h0M195.0 92.8h0M174.3 46.0h0M165.0 47.4h0M89.7 117.3h0M111.8 78.1h0M83.0 123.8h0M181.5 146.6h0M108.8 156.6h0M141.0 81.4h0M184.0 103.9h0M155.0 62.0h0M59.5 121.1h0M68.4 127.8h0M121.6 104.3h0M174.2 80.8h0M171.5 55.3h0M158.0 180.2h0M29.3 144.4h0M121.2 158.4h0M163.5 162.4h0M54.0 57.7h0M108.2 128.8h0M96.2 177.6h0M84.0 145.1h0M72.9 102.7h0M175.0 60.5h0M85.8 83.7h0M78.2 158.2h0M165.2 76.4h0M157.5 86.5h0M39.7 154.0h0M97.9 163.2h0M146.9 198.3h0M71.3 70.1h0M169.7 43.8h0M88.8 143.7h0M114.5 119.5h0M83.2 176.7h0M83.3 144.7h0M131.5 53.9h0M198.2 128.2h0M162.0 40.1h0M140.3 188.2h0M185.4 101.0h0M68.2 82.0h0M88.1 131.5h0M102.4 52.2h0M106.8 152.2h0M193.6 159.9h0M172.6 86.7h0M130.1 52.7h0M171.4 170.9h0M117.7 131.5h0M147.2 104.3h0M95.6 38.4h0M35.1 74.0h0M87.5 174.8h0M133.1 108.4h0M95.4 77.9h0M147.9 122.9h0M85.4 38.2h0M54.3 175.6h0M140.9 127.6h0M109.3 98.3h0M113.0 165.2h0M88.0 172.3h0M96.1 77.0h0M64.0 88.2h0M143.4 121.5h0M77.2 57.1h0M196.8 156.7h0M158.1 181.2h0M105.5 81.0h0M99.8 137.7h0M27.4 118.4h0M144.9 54.9h0M116.1 44.5h0M100.7 81.5h0M158.4 166.3h0M103.8 179.3h0M158.1 75.4h0M105.9 123.1h0M58.4 48.4h0M160.5 94.6h0M125.9 191.6h0M107.2 80.1h0M59.8 135.2h0M96.0 41.6h0M76.9 174.1h0M164.1 89.6h0M113.3 164.0h0M114.1 169.5h0M130.0 107.7h0M117.9 151.0h0M177.8 97.6h0M132.1 126.3h0M43.1 112.1h0M85.8 39.3h0M58.9 119.3h0M82.5 99.1h0M111.0 166.2h0M103.2 132.1h0M142.6 64.1h0M68.8 49.1h0M169.9 95.9h0M178.4 115.0h0M107.3 196.2h0M153.3 146.8h0M127.4 137.6h0M129.1 49.8h0M150.3 203.1h0M150.5 131.1h0M76.2 140.2h0M88.2 122.9h0M156.1 109.0h0M136.3 127.6h0M162.8 77.5h0M143.9 122.8h0M146.6 106.7h0M173.9 117.8h0M154.0 201.2h0M22.7 113.1h0M168.6 43.3h0M59.4 166.2h0M60.7 62.4h0M182.8 162.1h0M72.1 157.3h0M110.9 157.6h0M159.1 174.8h0M31.7 127.9h0M141.6 160.7h0M88.0 176.3h0M81.6 177.3h0M183.3 105.7h0M103.2 81.0h0M23.8 114.8h0M95.2 144.7h0M55.9 69.2h0M127.4 106.6h0M148.6 86.8h0M107.9 79.3h0M161.5 121.9h0M192.7 147.8h0M59.4 136.2h0M125.8 195.7h0M173.7 82.6h0M110.1 172.3h0M137.3 40.1h0M54.9 157.6h0M112.7 169.7h0M113.6 69.5h0M89.9 63.0h0M105.9 153.6h0M87.7 120.3h0M176.7 89.0h0M39.7 157.6h0M133.6 121.1h0M110.3 141.5h0M89.0 157.5h0M184.4 106.1h0M142.7 94.1h0M114.6 195.9h0M187.4 130.5h0M100.9 133.3h0M88.2 177.4h0M106.4 121.3h0M51.4 57.2h0M176.5 79.1h0M143.2 124.8h0M141.4 32.8h0" stroke="#ffffff" stroke-width="2.96" stroke-opacity="1.00" stroke-linecap="round" fill="none"/></g></svg>
<svg x="63.5" y="352.5" width="245.5" height="245.5" viewBox="0 0 245.5 245.5" overflow="hidden"><rect width="245.5" height="245.5" fill="#0b000b"/><g transform="translate(0 0.0)" filter="url(#soft)"><path d="M172.5 87.6l2.2 2.8l2.3 2.8l2.3 2.8l2.4 2.7l2.4 2.6l2.4 2.7l2.2 2.9l1.9 3.1l1.3 3.3l0.7 3.5l-0.4 3.6l-1.1 3.4l-1.6 3.3l-1.8 3.0M148.0 148.8l2.6 2.5l2.3 2.7l2.5 2.7l2.2 2.8l1.5 3.3l1.1 3.4l1.0 3.5l1.5 3.2M181.6 105.5l2.7 -2.3l2.8 -2.3l2.9 -2.2l3.1 -1.8l3.2 -1.6l3.3 -1.6l3.5 -0.8l1.8 3.1l1.5 3.3l1.6 3.2M82.5 145.7l3.6 -0.8l3.4 -0.9l3.5 -1.1l3.1 -1.8l3.0 -2.0l2.9 -2.1l2.9 -2.1l3.2 -1.8l3.3 -1.4l3.4 -1.1M166.1 149.0l1.4 -3.4l2.1 -2.9l2.2 -2.8l2.6 -2.5l2.5 -2.6l2.8 -2.3l3.0 -2.0l3.2 -1.6l3.0 -1.9l2.6 -2.6l1.9 -3.0l1.7 -3.2l1.0 -3.4l0.4 -3.6M98.4 177.7l-3.5 -0.7l-3.6 -0.7l-3.4 -1.1l-3.4 -1.1l-3.2 -1.7l-3.2 -1.6l-3.5 -0.9l-3.6 -0.4l-3.5 -0.9l-3.5 -0.7M112.3 72.5l3.5 -0.9l3.5 -0.6l3.6 -0.4l3.6 -0.3l3.6 0.1l3.6 0.3l3.6 0.2l3.6 0.0M172.3 185.6l2.8 2.4l2.8 2.1l3.1 1.9l3.3 1.4l3.4 1.2l2.6 -2.6M148.4 125.6l-0.8 3.6l-0.4 3.5l0.0 3.6l0.4 3.6l0.9 3.5l1.4 3.3l1.2 3.4l0.6 3.5l1.1 3.5l1.1 3.4M100.4 174.6l0.9 -3.4l0.6 -3.6l0.1 -3.6l-0.8 -3.5l-1.3 -3.4l-1.5 -3.3l-1.0 -3.4l-0.7 -3.5M128.4 110.1l0.4 3.6l0.7 3.5l0.9 3.5l0.8 3.5l0.8 3.5l0.8 3.5l0.9 3.5l1.0 3.5l1.1 3.4l1.2 3.4M168.5 116.4l-2.1 -3.0l-1.4 -3.3l-0.7 -3.6l0.5 -3.5l0.9 -3.5l0.6 -3.6l0.3 -3.6l-0.3 -3.5l-0.4 -3.6l-0.1 -3.6M180.4 185.4l-2.3 -2.8l-1.4 -3.2l-0.7 -3.6l-0.3 -3.6l0.8 -3.5l1.2 -3.4l0.8 -3.5l0.8 -3.5l0.4 -3.6l0.0 -3.6M92.5 103.2l3.5 1.1l3.3 1.4l3.0 1.9l2.5 2.6l1.6 3.3l1.6 3.2l1.8 3.1l2.1 2.9l2.2 2.9l2.1 2.9M103.8 59.2l1.9 3.1l1.9 3.0l2.2 2.9l2.4 2.7l2.7 2.4l2.8 2.2l2.8 2.3l2.9 2.1M69.0 88.6l1.2 -3.4l1.3 -3.4l0.9 -3.5l1.4 -3.3l1.8 -3.1l2.3 -2.8M187.3 152.0l-2.7 2.4l-2.9 2.2l-2.9 2.1l-2.8 2.3l-2.6 2.5l-2.9 2.1l-3.1 1.8l-3.2 1.6M158.3 72.5l-3.6 -0.2l-3.6 -0.1l-3.6 0.1l-3.6 0.4l-3.6 0.5l-3.6 0.1M154.6 174.1l0.6 3.5l0.4 3.6l0.1 3.6l0.3 3.6l0.4 3.6l0.3 3.5l0.0 3.6l0.0 3.6M46.0 185.8l0.5 3.6l2.9 2.0l2.3 -2.8l1.9 -3.0l1.3 -3.4l0.4 -3.5l0.2 -3.6l0.4 -3.6l0.5 -3.6l0.2 -3.6M152.9 165.4l2.4 2.7l2.2 2.8l2.2 2.8l2.2 2.9l2.5 2.6l2.6 2.4l2.9 2.2l3.0 2.1l3.0 1.9l3.3 1.4l3.4 1.2l3.5 1.0l3.5 0.5l3.6 0.0l2.1 -2.9l2.1 -2.9M144.6 189.2l-2.7 -2.4l-2.5 -2.5l-2.5 -2.7l-2.3 -2.7l-2.3 -2.8l-1.8 -3.1l-1.3 -3.4l-1.0 -3.4l-1.1 -3.5l-1.1 -3.4M116.9 171.6l3.1 -1.8l3.3 -1.3l3.5 -1.1l3.2 -1.5l3.2 -1.8l3.2 -1.6l3.2 -1.7l3.0 -1.8l3.1 -2.0l3.2 -1.6l3.3 -1.5l3.3 -1.4l3.1 -1.7l3.1 -1.9l3.1 -1.9l2.9 -2.0M50.6 142.8l3.2 1.5l3.5 1.1l3.3 1.3l3.5 1.0l3.2 1.6l3.2 1.6l3.3 1.5l3.3 1.4M205.7 99.4l1.0 3.4l-2.8 2.2l-3.0 2.1l-2.7 2.3l-2.9 2.1l-2.9 2.3l-2.8 2.1l-2.8 2.4l-2.9 2.0l-3.0 2.0l-2.9 2.1l-2.9 2.2l-3.2 1.6l-3.4 1.2l-3.6 0.5l-3.5 -0.7M99.6 124.6l-1.6 3.3l-2.1 2.9l-2.7 2.4l-2.7 2.3l-2.8 2.3l-3.2 1.7l-3.4 1.1l-3.5 1.0M61.8 152.2l3.3 -1.5l3.5 -0.6l3.6 0.0l3.5 1.0l3.5 0.7l3.6 0.3l3.6 -0.1l3.6 -0.2M68.6 105.8l-3.5 0.8l-3.4 1.3l-3.2 1.6l-2.8 2.3l-2.0 2.9l-1.8 3.2l-1.6 3.2l-1.3 3.3l-1.4 3.4l-1.3 3.3l-1.1 3.4l-1.3 3.4l-1.6 3.2l-2.2 2.9M191.4 144.0l-3.6 0.3l-3.6 -0.2l-3.6 -0.6l-3.5 -0.7l-3.5 -0.7l-3.6 0.0l-3.6 -0.1l-3.6 0.1l-3.6 0.1l-3.6 0.1M112.3 202.3l1.4 3.3l1.6 3.2l2.1 2.9l2.6 2.5l2.5 2.6l1.7 3.2l1.2 3.4l3.6 0.3M111.0 71.5l-3.4 1.1l-3.5 0.9l-3.6 0.5l-3.5 0.3l-3.6 -0.4l-3.4 -1.2l-3.5 -0.8l-3.6 -0.5l-3.6 0.4l-3.5 0.9l-3.2 1.6l-3.1 1.8M104.9 110.2l-2.6 -2.5l-1.8 -3.1l-1.3 -3.4l-0.8 -3.5l0.3 -3.5l1.3 -3.4l1.9 -3.0l2.1 -3.0M74.8 208.8l-2.4 -2.6l-1.9 -3.1l-1.5 -3.3l-1.0 -3.4l-0.5 -3.6l-0.8 -3.5l-0.8 -3.5l-1.1 -3.4l-1.2 -3.5l-1.3 -3.3l-1.0 -3.4l-0.9 -3.5l-0.6 -3.6l-0.8 -3.5M90.4 82.0l0.8 3.5l0.9 3.5l1.0 3.4l1.1 3.5l1.1 3.4l1.1 3.4l1.1 3.4l0.8 3.6M67.0 137.5l1.5 -3.3l1.6 -3.2l1.4 -3.4l0.8 -3.5l0.8 -3.5l1.1 -3.4M168.7 168.0l-3.3 1.4l-3.4 1.4l-3.3 1.4l-3.3 1.4l-3.2 1.6l-3.3 1.6l-3.1 1.8l-2.8 2.2l-3.0 2.0l-3.1 1.7l-3.2 1.7l-3.2 1.7M84.7 216.7l-1.4 -3.3l-1.6 -3.2l-1.8 -3.1l-1.2 -3.4l-0.5 -3.6l0.1 -3.6l0.8 -3.5l1.4 -3.3l1.8 -3.1l2.1 -2.9l2.9 -2.2l3.1 -1.8M135.9 96.5l-1.4 -3.2l-1.5 -3.4l-1.5 -3.2l-1.4 -3.3l-1.6 -3.3l-1.4 -3.3l-1.1 -3.4l-0.8 -3.5l0.2 -3.6l0.7 -3.6l1.2 -3.3l2.0 -3.0M59.8 176.3l-1.1 -3.4l-1.2 -3.4l-1.6 -3.2l-1.6 -3.3l-1.5 -3.3l-1.7 -3.1l-1.5 -3.3l-2.4 -2.7l-2.4 -2.6l-2.6 -2.6l-2.7 -2.4l-3.0 -1.9l-2.8 -2.3l-2.5 -2.5M127.8 210.4l-0.9 -3.5l-0.8 -3.5l-0.5 -3.5l0.0 -3.6l-0.4 -3.6l-0.7 -3.5l-1.5 -3.3l-1.9 -3.1M184.4 142.4l-3.3 -1.5l-2.8 -2.4l-2.4 -2.7l-2.2 -2.7l-2.6 -2.6l-2.4 -2.6l-2.5 -2.7l-3.0 -1.9l-3.3 -1.5l-3.1 -1.8l-3.2 -1.7l-3.0 -1.9l-3.1 -1.9l-2.6 -2.5M41.3 162.6l1.1 -3.4l0.7 -3.5l0.7 -3.6l0.6 -3.5l0.5 -3.6l0.1 -3.6l-0.3 -3.6l-0.5 -3.5l0.3 -3.6l0.1 -3.6l0.1 -3.6l-0.5 -3.6l-1.1 -3.4l-1.4 -3.3l-1.6 -3.2l-1.8 -3.2M61.9 124.4l2.6 -2.5l2.3 -2.8l2.3 -2.7l2.2 -2.9l1.8 -3.1l1.6 -3.2l1.5 -3.3l1.4 -3.3l1.4 -3.3l1.6 -3.3l0.8 -3.5l-0.1 -3.6l-0.7 -3.5l-1.5 -3.3M65.3 181.3l2.2 2.9l2.3 2.7l2.4 2.7l2.3 2.8l2.1 2.9l1.9 3.1l1.9 3.0l2.0 3.0l1.8 3.1l1.8 3.1l1.6 3.3l1.6 3.2l1.4 3.3l3.5 0.8M130.0 131.4l1.6 -3.2l1.6 -3.2l1.3 -3.4l1.2 -3.4l1.0 -3.4l0.0 -3.6l-0.6 -3.6l-0.8 -3.5l-1.1 -3.4l-1.5 -3.3M98.0 183.6l3.6 -0.3l3.5 -0.9l3.5 -0.8l3.6 -0.6l3.6 -0.2l3.6 -0.3M106.6 95.6l1.7 3.2l2.4 2.6l3.1 2.0l3.2 1.5l3.3 1.5l3.3 1.4l3.0 2.0l3.1 1.8l3.2 1.7l3.1 1.9l2.7 2.4l2.4 2.7M117.5 152.7l-0.1 -3.6l-0.1 -3.6l0.0 -3.6l0.5 -3.6l0.8 -3.5l1.0 -3.4l0.9 -3.5l0.1 -3.6l-0.2 -3.6l-0.4 -3.6l-0.8 -3.5l-1.2 -3.4M184.8 118.3l0.2 3.6l1.0 3.5l1.1 3.4l1.5 3.2l1.6 3.3l1.8 3.1l2.0 3.0l2.1 2.9l2.1 2.9l1.9 3.1l1.8 3.1l1.5 3.3l1.5 3.2l1.6 3.3l1.7 3.1l-1.7 3.2M197.0 158.6l-0.8 3.5l-0.5 3.6l-0.5 3.5l-0.5 3.6l-0.2 3.6l0.6 3.6l0.9 3.4l0.6 3.6l-2.5 2.6l-2.3 2.8M84.8 93.9l-1.0 3.4l-0.8 3.5l0.0 3.6l0.6 3.6l0.5 3.6l0.6 3.5l0.5 3.6l0.6 3.5l0.9 3.5l1.6 3.2l1.9 3.1l2.1 2.9l2.7 2.5l3.1 1.8l3.2 1.5l3.3 1.5M84.4 105.6l-3.4 -1.1l-3.4 -1.2l-3.5 -1.1l-3.4 -1.0l-3.6 -0.4l-3.6 0.2l-3.5 0.6l-3.5 0.9l-3.4 1.2l-3.4 1.4l-3.3 1.3l-3.3 1.4l-3.4 1.3l-3.4 1.1l-3.5 0.8l-1.3 3.4M81.1 85.3l1.8 -3.1l2.0 -3.0l2.4 -2.7l2.7 -2.4l2.6 -2.5l2.2 -2.8l2.0 -3.0l1.6 -3.2l1.5 -3.3l1.3 -3.4M51.3 76.8l3.5 -0.8l3.6 -0.6l3.5 -0.9l3.4 -1.2l3.2 -1.5l3.2 -1.8l3.3 -1.3l3.5 -1.0l3.3 -1.4l3.4 -1.3M173.4 65.1l1.6 3.3l1.3 3.3l1.0 3.5l0.9 3.5l0.1 3.5l-0.6 3.6M138.1 125.3l-1.2 -3.5l-0.7 -3.5l-0.2 -3.6l0.2 -3.6l0.4 -3.6l0.5 -3.5l0.9 -3.5l1.3 -3.4l0.8 -3.5l0.7 -3.5l0.8 -3.5l0.9 -3.5l0.6 -3.6l0.2 -3.6l0.1 -3.6l0.3 -3.5M169.9 56.9l3.0 2.0l3.0 2.0l-0.3 3.6l-0.5 3.5l-0.9 3.5l-1.0 3.5l-1.2 3.4l-1.0 3.4l-1.3 3.4l-0.7 3.5l-0.7 3.5l-1.0 3.5M95.4 138.6l-0.3 3.6l-0.7 3.5l-1.0 3.4l-1.0 3.5l-1.6 3.2l-2.3 2.8l-2.7 2.4l-3.0 2.0l-3.2 1.7l-3.5 0.8l-3.5 0.7l-3.5 0.8l-3.6 0.5l-3.4 1.0l-3.3 1.5l-3.0 2.0M128.5 180.7l2.0 3.0l2.5 2.6l2.8 2.2l3.1 1.9l3.0 2.0l3.0 1.9l3.4 1.4l3.4 0.9l3.6 0.3l3.6 0.2l3.6 -0.3l3.5 -0.7l3.6 -0.4l3.6 -0.5l3.5 -0.8l3.5 -0.8M141.5 87.1l-0.4 -3.6l-0.1 -3.6l-0.2 -3.5l-0.7 -3.6l-1.6 -3.2l-1.4 -3.3l-1.5 -3.3l-1.7 -3.2M121.7 73.4l-3.3 1.6l-3.6 0.3l-3.6 -0.2l-3.6 -0.2l-3.6 0.0l-3.5 -0.2l-3.6 -0.8l-3.5 -0.7l-3.6 -0.5l-3.5 -0.4l-3.6 -0.4l-3.6 -0.5M72.5 76.3l-2.9 -2.1l-3.5 -0.9l-3.6 0.6l-3.2 1.7l-2.6 2.4l-2.3 2.7l-2.1 3.0l-2.0 3.0l-1.7 3.1l-1.7 3.2M134.8 125.6l2.0 2.9l1.8 3.2l1.2 3.4l0.0 3.6l-1.1 3.4l-1.8 3.1l-2.4 2.7l-2.5 2.6l-2.2 2.9l-1.8 3.0l-1.6 3.3l-1.2 3.4l-1.1 3.4l-0.9 3.5l-0.6 3.6l-0.1 3.5M99.1 193.6l2.7 -2.3l3.1 -1.9l3.4 -1.1l3.6 -0.3l3.6 0.3l3.6 0.5" stroke="#a81aa8" stroke-width="1.8" stroke-linecap="round" stroke-linejoin="round" fill="none"/><path d="M172.5 87.6l2.2 2.8l2.3 2.8l2.3 2.8l2.4 2.7l2.4 2.6l2.4 2.7l2.2 2.9l1.9 3.1l1.3 3.3l0.7 3.5l-0.4 3.6l-1.1 3.4l-1.6 3.3l-1.8 3.0M148.0 148.8l2.6 2.5l2.3 2.7l2.5 2.7l2.2 2.8l1.5 3.3l1.1 3.4l1.0 3.5l1.5 3.2M181.6 105.5l2.7 -2.3l2.8 -2.3l2.9 -2.2l3.1 -1.8l3.2 -1.6l3.3 -1.6l3.5 -0.8l1.8 3.1l1.5 3.3l1.6 3.2M82.5 145.7l3.6 -0.8l3.4 -0.9l3.5 -1.1l3.1 -1.8l3.0 -2.0l2.9 -2.1l2.9 -2.1l3.2 -1.8l3.3 -1.4l3.4 -1.1M166.1 149.0l1.4 -3.4l2.1 -2.9l2.2 -2.8l2.6 -2.5l2.5 -2.6l2.8 -2.3l3.0 -2.0l3.2 -1.6l3.0 -1.9l2.6 -2.6l1.9 -3.0l1.7 -3.2l1.0 -3.4l0.4 -3.6M98.4 177.7l-3.5 -0.7l-3.6 -0.7l-3.4 -1.1l-3.4 -1.1l-3.2 -1.7l-3.2 -1.6l-3.5 -0.9l-3.6 -0.4l-3.5 -0.9l-3.5 -0.7M112.3 72.5l3.5 -0.9l3.5 -0.6l3.6 -0.4l3.6 -0.3l3.6 0.1l3.6 0.3l3.6 0.2l3.6 0.0M172.3 185.6l2.8 2.4l2.8 2.1l3.1 1.9l3.3 1.4l3.4 1.2l2.6 -2.6M148.4 125.6l-0.8 3.6l-0.4 3.5l0.0 3.6l0.4 3.6l0.9 3.5l1.4 3.3l1.2 3.4l0.6 3.5l1.1 3.5l1.1 3.4M100.4 174.6l0.9 -3.4l0.6 -3.6l0.1 -3.6l-0.8 -3.5l-1.3 -3.4l-1.5 -3.3l-1.0 -3.4l-0.7 -3.5M128.4 110.1l0.4 3.6l0.7 3.5l0.9 3.5l0.8 3.5l0.8 3.5l0.8 3.5l0.9 3.5l1.0 3.5l1.1 3.4l1.2 3.4M168.5 116.4l-2.1 -3.0l-1.4 -3.3l-0.7 -3.6l0.5 -3.5l0.9 -3.5l0.6 -3.6l0.3 -3.6l-0.3 -3.5l-0.4 -3.6l-0.1 -3.6M180.4 185.4l-2.3 -2.8l-1.4 -3.2l-0.7 -3.6l-0.3 -3.6l0.8 -3.5l1.2 -3.4l0.8 -3.5l0.8 -3.5l0.4 -3.6l0.0 -3.6M92.5 103.2l3.5 1.1l3.3 1.4l3.0 1.9l2.5 2.6l1.6 3.3l1.6 3.2l1.8 3.1l2.1 2.9l2.2 2.9l2.1 2.9M103.8 59.2l1.9 3.1l1.9 3.0l2.2 2.9l2.4 2.7l2.7 2.4l2.8 2.2l2.8 2.3l2.9 2.1M69.0 88.6l1.2 -3.4l1.3 -3.4l0.9 -3.5l1.4 -3.3l1.8 -3.1l2.3 -2.8M187.3 152.0l-2.7 2.4l-2.9 2.2l-2.9 2.1l-2.8 2.3l-2.6 2.5l-2.9 2.1l-3.1 1.8l-3.2 1.6M158.3 72.5l-3.6 -0.2l-3.6 -0.1l-3.6 0.1l-3.6 0.4l-3.6 0.5l-3.6 0.1M154.6 174.1l0.6 3.5l0.4 3.6l0.1 3.6l0.3 3.6l0.4 3.6l0.3 3.5l0.0 3.6l0.0 3.6M46.0 185.8l0.5 3.6l2.9 2.0l2.3 -2.8l1.9 -3.0l1.3 -3.4l0.4 -3.5l0.2 -3.6l0.4 -3.6l0.5 -3.6l0.2 -3.6M152.9 165.4l2.4 2.7l2.2 2.8l2.2 2.8l2.2 2.9l2.5 2.6l2.6 2.4l2.9 2.2l3.0 2.1l3.0 1.9l3.3 1.4l3.4 1.2l3.5 1.0l3.5 0.5l3.6 0.0l2.1 -2.9l2.1 -2.9M144.6 189.2l-2.7 -2.4l-2.5 -2.5l-2.5 -2.7l-2.3 -2.7l-2.3 -2.8l-1.8 -3.1l-1.3 -3.4l-1.0 -3.4l-1.1 -3.5l-1.1 -3.4M116.9 171.6l3.1 -1.8l3.3 -1.3l3.5 -1.1l3.2 -1.5l3.2 -1.8l3.2 -1.6l3.2 -1.7l3.0 -1.8l3.1 -2.0l3.2 -1.6l3.3 -1.5l3.3 -1.4l3.1 -1.7l3.1 -1.9l3.1 -1.9l2.9 -2.0M50.6 142.8l3.2 1.5l3.5 1.1l3.3 1.3l3.5 1.0l3.2 1.6l3.2 1.6l3.3 1.5l3.3 1.4M205.7 99.4l1.0 3.4l-2.8 2.2l-3.0 2.1l-2.7 2.3l-2.9 2.1l-2.9 2.3l-2.8 2.1l-2.8 2.4l-2.9 2.0l-3.0 2.0l-2.9 2.1l-2.9 2.2l-3.2 1.6l-3.4 1.2l-3.6 0.5l-3.5 -0.7M99.6 124.6l-1.6 3.3l-2.1 2.9l-2.7 2.4l-2.7 2.3l-2.8 2.3l-3.2 1.7l-3.4 1.1l-3.5 1.0M61.8 152.2l3.3 -1.5l3.5 -0.6l3.6 0.0l3.5 1.0l3.5 0.7l3.6 0.3l3.6 -0.1l3.6 -0.2M68.6 105.8l-3.5 0.8l-3.4 1.3l-3.2 1.6l-2.8 2.3l-2.0 2.9l-1.8 3.2l-1.6 3.2l-1.3 3.3l-1.4 3.4l-1.3 3.3l-1.1 3.4l-1.3 3.4l-1.6 3.2l-2.2 2.9M191.4 144.0l-3.6 0.3l-3.6 -0.2l-3.6 -0.6l-3.5 -0.7l-3.5 -0.7l-3.6 0.0l-3.6 -0.1l-3.6 0.1l-3.6 0.1l-3.6 0.1M112.3 202.3l1.4 3.3l1.6 3.2l2.1 2.9l2.6 2.5l2.5 2.6l1.7 3.2l1.2 3.4l3.6 0.3M111.0 71.5l-3.4 1.1l-3.5 0.9l-3.6 0.5l-3.5 0.3l-3.6 -0.4l-3.4 -1.2l-3.5 -0.8l-3.6 -0.5l-3.6 0.4l-3.5 0.9l-3.2 1.6l-3.1 1.8M104.9 110.2l-2.6 -2.5l-1.8 -3.1l-1.3 -3.4l-0.8 -3.5l0.3 -3.5l1.3 -3.4l1.9 -3.0l2.1 -3.0M74.8 208.8l-2.4 -2.6l-1.9 -3.1l-1.5 -3.3l-1.0 -3.4l-0.5 -3.6l-0.8 -3.5l-0.8 -3.5l-1.1 -3.4l-1.2 -3.5l-1.3 -3.3l-1.0 -3.4l-0.9 -3.5l-0.6 -3.6l-0.8 -3.5M90.4 82.0l0.8 3.5l0.9 3.5l1.0 3.4l1.1 3.5l1.1 3.4l1.1 3.4l1.1 3.4l0.8 3.6M67.0 137.5l1.5 -3.3l1.6 -3.2l1.4 -3.4l0.8 -3.5l0.8 -3.5l1.1 -3.4M168.7 168.0l-3.3 1.4l-3.4 1.4l-3.3 1.4l-3.3 1.4l-3.2 1.6l-3.3 1.6l-3.1 1.8l-2.8 2.2l-3.0 2.0l-3.1 1.7l-3.2 1.7l-3.2 1.7M84.7 216.7l-1.4 -3.3l-1.6 -3.2l-1.8 -3.1l-1.2 -3.4l-0.5 -3.6l0.1 -3.6l0.8 -3.5l1.4 -3.3l1.8 -3.1l2.1 -2.9l2.9 -2.2l3.1 -1.8M135.9 96.5l-1.4 -3.2l-1.5 -3.4l-1.5 -3.2l-1.4 -3.3l-1.6 -3.3l-1.4 -3.3l-1.1 -3.4l-0.8 -3.5l0.2 -3.6l0.7 -3.6l1.2 -3.3l2.0 -3.0M59.8 176.3l-1.1 -3.4l-1.2 -3.4l-1.6 -3.2l-1.6 -3.3l-1.5 -3.3l-1.7 -3.1l-1.5 -3.3l-2.4 -2.7l-2.4 -2.6l-2.6 -2.6l-2.7 -2.4l-3.0 -1.9l-2.8 -2.3l-2.5 -2.5M127.8 210.4l-0.9 -3.5l-0.8 -3.5l-0.5 -3.5l0.0 -3.6l-0.4 -3.6l-0.7 -3.5l-1.5 -3.3l-1.9 -3.1M184.4 142.4l-3.3 -1.5l-2.8 -2.4l-2.4 -2.7l-2.2 -2.7l-2.6 -2.6l-2.4 -2.6l-2.5 -2.7l-3.0 -1.9l-3.3 -1.5l-3.1 -1.8l-3.2 -1.7l-3.0 -1.9l-3.1 -1.9l-2.6 -2.5M41.3 162.6l1.1 -3.4l0.7 -3.5l0.7 -3.6l0.6 -3.5l0.5 -3.6l0.1 -3.6l-0.3 -3.6l-0.5 -3.5l0.3 -3.6l0.1 -3.6l0.1 -3.6l-0.5 -3.6l-1.1 -3.4l-1.4 -3.3l-1.6 -3.2l-1.8 -3.2M61.9 124.4l2.6 -2.5l2.3 -2.8l2.3 -2.7l2.2 -2.9l1.8 -3.1l1.6 -3.2l1.5 -3.3l1.4 -3.3l1.4 -3.3l1.6 -3.3l0.8 -3.5l-0.1 -3.6l-0.7 -3.5l-1.5 -3.3M65.3 181.3l2.2 2.9l2.3 2.7l2.4 2.7l2.3 2.8l2.1 2.9l1.9 3.1l1.9 3.0l2.0 3.0l1.8 3.1l1.8 3.1l1.6 3.3l1.6 3.2l1.4 3.3l3.5 0.8M130.0 131.4l1.6 -3.2l1.6 -3.2l1.3 -3.4l1.2 -3.4l1.0 -3.4l0.0 -3.6l-0.6 -3.6l-0.8 -3.5l-1.1 -3.4l-1.5 -3.3M98.0 183.6l3.6 -0.3l3.5 -0.9l3.5 -0.8l3.6 -0.6l3.6 -0.2l3.6 -0.3M106.6 95.6l1.7 3.2l2.4 2.6l3.1 2.0l3.2 1.5l3.3 1.5l3.3 1.4l3.0 2.0l3.1 1.8l3.2 1.7l3.1 1.9l2.7 2.4l2.4 2.7M117.5 152.7l-0.1 -3.6l-0.1 -3.6l0.0 -3.6l0.5 -3.6l0.8 -3.5l1.0 -3.4l0.9 -3.5l0.1 -3.6l-0.2 -3.6l-0.4 -3.6l-0.8 -3.5l-1.2 -3.4M184.8 118.3l0.2 3.6l1.0 3.5l1.1 3.4l1.5 3.2l1.6 3.3l1.8 3.1l2.0 3.0l2.1 2.9l2.1 2.9l1.9 3.1l1.8 3.1l1.5 3.3l1.5 3.2l1.6 3.3l1.7 3.1l-1.7 3.2M197.0 158.6l-0.8 3.5l-0.5 3.6l-0.5 3.5l-0.5 3.6l-0.2 3.6l0.6 3.6l0.9 3.4l0.6 3.6l-2.5 2.6l-2.3 2.8M84.8 93.9l-1.0 3.4l-0.8 3.5l0.0 3.6l0.6 3.6l0.5 3.6l0.6 3.5l0.5 3.6l0.6 3.5l0.9 3.5l1.6 3.2l1.9 3.1l2.1 2.9l2.7 2.5l3.1 1.8l3.2 1.5l3.3 1.5M84.4 105.6l-3.4 -1.1l-3.4 -1.2l-3.5 -1.1l-3.4 -1.0l-3.6 -0.4l-3.6 0.2l-3.5 0.6l-3.5 0.9l-3.4 1.2l-3.4 1.4l-3.3 1.3l-3.3 1.4l-3.4 1.3l-3.4 1.1l-3.5 0.8l-1.3 3.4M81.1 85.3l1.8 -3.1l2.0 -3.0l2.4 -2.7l2.7 -2.4l2.6 -2.5l2.2 -2.8l2.0 -3.0l1.6 -3.2l1.5 -3.3l1.3 -3.4M51.3 76.8l3.5 -0.8l3.6 -0.6l3.5 -0.9l3.4 -1.2l3.2 -1.5l3.2 -1.8l3.3 -1.3l3.5 -1.0l3.3 -1.4l3.4 -1.3M173.4 65.1l1.6 3.3l1.3 3.3l1.0 3.5l0.9 3.5l0.1 3.5l-0.6 3.6M138.1 125.3l-1.2 -3.5l-0.7 -3.5l-0.2 -3.6l0.2 -3.6l0.4 -3.6l0.5 -3.5l0.9 -3.5l1.3 -3.4l0.8 -3.5l0.7 -3.5l0.8 -3.5l0.9 -3.5l0.6 -3.6l0.2 -3.6l0.1 -3.6l0.3 -3.5M169.9 56.9l3.0 2.0l3.0 2.0l-0.3 3.6l-0.5 3.5l-0.9 3.5l-1.0 3.5l-1.2 3.4l-1.0 3.4l-1.3 3.4l-0.7 3.5l-0.7 3.5l-1.0 3.5M95.4 138.6l-0.3 3.6l-0.7 3.5l-1.0 3.4l-1.0 3.5l-1.6 3.2l-2.3 2.8l-2.7 2.4l-3.0 2.0l-3.2 1.7l-3.5 0.8l-3.5 0.7l-3.5 0.8l-3.6 0.5l-3.4 1.0l-3.3 1.5l-3.0 2.0M128.5 180.7l2.0 3.0l2.5 2.6l2.8 2.2l3.1 1.9l3.0 2.0l3.0 1.9l3.4 1.4l3.4 0.9l3.6 0.3l3.6 0.2l3.6 -0.3l3.5 -0.7l3.6 -0.4l3.6 -0.5l3.5 -0.8l3.5 -0.8M141.5 87.1l-0.4 -3.6l-0.1 -3.6l-0.2 -3.5l-0.7 -3.6l-1.6 -3.2l-1.4 -3.3l-1.5 -3.3l-1.7 -3.2M121.7 73.4l-3.3 1.6l-3.6 0.3l-3.6 -0.2l-3.6 -0.2l-3.6 0.0l-3.5 -0.2l-3.6 -0.8l-3.5 -0.7l-3.6 -0.5l-3.5 -0.4l-3.6 -0.4l-3.6 -0.5M72.5 76.3l-2.9 -2.1l-3.5 -0.9l-3.6 0.6l-3.2 1.7l-2.6 2.4l-2.3 2.7l-2.1 3.0l-2.0 3.0l-1.7 3.1l-1.7 3.2M134.8 125.6l2.0 2.9l1.8 3.2l1.2 3.4l0.0 3.6l-1.1 3.4l-1.8 3.1l-2.4 2.7l-2.5 2.6l-2.2 2.9l-1.8 3.0l-1.6 3.3l-1.2 3.4l-1.1 3.4l-0.9 3.5l-0.6 3.6l-0.1 3.5M99.1 193.6l2.7 -2.3l3.1 -1.9l3.4 -1.1l3.6 -0.3l3.6 0.3l3.6 0.5" stroke="#ff3cff" stroke-width="1.90" stroke-dasharray="3 6 2 8 4 5" stroke-linecap="round" fill="none"/><path d="M172.5 87.6h0M187.7 130.1h0M148.0 148.8h0M162.7 172.9h0M181.6 105.5h0M208.0 102.5h0M82.5 145.7h0M114.8 130.6h0M166.1 149.0h0M196.5 111.2h0M98.4 177.7h0M64.0 167.9h0M112.3 72.5h0M140.9 70.9h0M172.3 185.6h0M190.3 192.0h0M148.4 125.6h0M153.9 160.5h0M100.4 174.6h0M96.7 146.9h0M128.4 110.1h0M137.0 145.0h0M168.5 116.4h0M165.8 81.6h0M180.4 185.4h0M179.7 151.1h0M92.5 103.2h0M116.2 128.5h0M103.8 59.2h0M123.4 79.9h0M69.0 88.6h0M77.9 69.1h0M187.3 152.0h0M164.2 169.0h0M158.3 72.5h0M136.7 73.3h0M154.6 174.1h0M156.7 202.7h0M46.0 185.8h0M56.6 164.3h0M152.9 165.4h0M197.4 186.1h0M144.6 189.2h0M126.0 159.3h0M116.9 171.6h0M167.7 145.0h0M50.6 142.8h0M77.1 153.8h0M205.7 99.4h0M161.4 129.2h0M99.6 124.6h0M77.6 141.6h0M61.8 152.2h0M90.0 151.8h0M68.6 105.8h0M40.1 144.0h0M191.4 144.0h0M155.6 142.3h0M112.3 202.3h0M129.0 223.7h0M111.0 71.5h0M69.5 76.1h0M104.9 110.2h0M104.0 84.8h0M74.8 208.8h0M59.0 161.6h0M90.4 82.0h0M98.3 109.7h0M67.0 137.5h0M74.2 117.2h0M168.7 168.0h0M130.5 187.9h0M84.7 216.7h0M90.4 179.7h0M135.9 96.5h0M129.3 56.4h0M59.8 176.3h0M31.2 136.3h0M127.8 210.4h0M121.1 182.8h0M184.4 142.4h0M144.9 112.0h0M41.3 162.6h0M38.3 106.8h0M61.9 124.4h0M79.1 80.1h0M65.3 181.3h0M94.1 221.2h0M130.0 131.4h0M132.7 97.4h0M98.0 183.6h0M119.4 180.5h0M106.6 95.6h0M141.1 120.3h0M117.5 152.7h0M118.0 110.2h0M184.8 118.3h0M206.5 169.5h0M197.0 158.6h0M191.8 192.4h0M84.8 93.9h0M104.6 142.2h0M84.4 105.6h0M31.5 114.4h0M81.1 85.3h0M101.2 55.9h0M51.3 76.8h0M85.2 65.0h0M173.4 65.1h0M177.7 85.8h0M138.1 125.3h0M143.7 68.8h0M169.9 56.9h0M167.3 95.7h0M95.4 138.6h0M55.8 172.0h0M128.5 180.7h0M180.2 193.6h0M141.5 87.1h0M133.9 59.8h0M121.7 73.4h0M79.1 71.4h0M72.5 76.3h0M46.9 93.0h0M134.8 125.6h0M122.5 177.1h0M99.1 193.6h0M119.1 188.8h0" stroke="#ff30ff" stroke-width="3.0" stroke-linecap="round" fill="none"/><path d="M78.7 171.4h0M93.3 103.0h0M200.4 149.5h0M98.4 74.1h0M82.6 82.2h0M181.3 121.9h0M89.5 136.8h0M69.6 131.2h0M129.6 70.1h0M182.9 155.0h0M78.2 199.7h0M167.5 181.3h0M99.1 155.9h0M169.3 88.5h0M205.3 160.6h0M62.3 146.9h0M77.4 203.6h0M140.8 79.7h0M130.2 172.1h0M167.1 98.5h0M178.3 181.9h0M128.6 166.0h0M186.4 101.4h0M117.9 142.9h0M194.8 116.6h0M158.3 197.7h0M143.4 71.5h0M75.3 171.2h0M182.2 157.4h0M124.6 192.8h0M50.6 104.9h0M89.8 174.5h0M123.2 66.0h0M92.4 98.2h0M92.7 210.4h0M91.1 119.9h0M175.7 96.0h0M94.6 115.6h0M145.9 158.3h0M164.9 98.6h0M210.0 143.3h0" stroke="#2cff2c" stroke-width="1.63" stroke-opacity="1.00" stroke-linecap="round" fill="none"/><path d="M194.1 190.1h0M167.4 166.9h0M80.5 84.3h0M73.7 119.5h0M83.9 64.9h0M142.7 74.2h0M136.9 115.4h0M59.1 145.7h0M179.9 97.3h0M44.9 131.8h0M82.0 163.7h0M180.2 132.6h0M111.0 74.8h0M52.7 114.3h0M130.9 82.9h0M178.4 94.7h0M139.0 132.0h0M151.9 101.4h0M104.7 141.8h0M170.3 160.0h0M103.5 154.3h0M118.0 127.0h0M110.9 139.8h0M66.6 111.1h0M193.2 81.4h0M181.2 194.0h0M85.1 204.9h0M159.4 73.7h0" stroke="#2cff2c" stroke-width="1.89" stroke-opacity="1.00" stroke-linecap="round" fill="none"/><path d="M92.5 148.8h0M126.0 61.9h0M135.0 118.9h0M77.4 202.4h0M118.2 135.7h0M114.5 75.3h0M164.5 106.3h0M190.2 125.1h0M98.1 149.7h0M91.0 134.0h0M61.6 74.3h0M137.2 115.4h0M46.7 129.7h0M48.3 151.6h0M186.4 102.4h0M142.5 187.0h0M194.7 143.2h0M129.3 167.2h0M134.6 178.0h0M157.3 151.7h0M97.5 110.7h0M55.4 79.1h0M120.6 183.5h0M118.6 135.6h0M126.4 161.1h0M182.0 122.1h0M177.0 181.0h0M165.7 83.2h0M175.4 172.4h0M79.0 153.0h0M116.3 128.1h0M172.9 77.8h0M70.6 120.7h0M152.1 137.8h0M100.8 110.5h0M127.2 179.8h0M160.4 207.9h0M192.3 189.4h0M134.8 76.5h0M101.2 65.8h0M114.3 91.7h0M125.6 153.2h0M188.2 173.5h0" stroke="#2cff2c" stroke-width="2.16" stroke-opacity="1.00" stroke-linecap="round" fill="none"/></g></svg>
<rect x="233.2" y="582.0" width="62" height="4.6" fill="#fff"/>
<svg x="312.8" y="352.5" width="245.5" height="245.5" viewBox="0 0 245.5 245.5" overflow="hidden"><rect width="245.5" height="245.5" fill="#0b000b"/><g transform="translate(0 0.0)" filter="url(#soft)"><path d="M169.7 156.9l-3.4 1.3l-3.6 0.2l-3.6 -0.3l-3.5 -0.4l-3.6 -0.6l-3.6 -0.4l-3.6 -0.2l-3.5 0.4M136.4 132.3l-3.6 0.6l-3.4 1.0l-3.4 1.2l-3.5 1.0l-3.5 0.7l-3.6 0.2M35.3 180.3l-3.2 -1.7l-1.0 -3.4l-0.9 -3.5l-0.8 -3.5l2.9 -2.2l2.7 -2.3l2.9 -2.1l3.3 -1.5l3.5 -0.8l3.6 -0.2l3.6 0.6l3.2 1.6M144.5 213.6l-3.6 0.0l-3.6 0.0l-3.6 0.2l-3.6 -0.3l-3.5 -0.8l-3.4 -1.1M44.6 144.0l3.3 -1.5l3.2 -1.6l2.9 -2.0l3.0 -2.1l3.2 -1.7l3.4 -1.1M143.9 161.2l-2.9 -2.1l-2.9 -2.2l-2.7 -2.4l-2.5 -2.6l-2.5 -2.6l-1.8 -3.1l-0.8 -3.5l-0.2 -3.6l-0.7 -3.5l-1.4 -3.4M121.9 83.6l0.8 -3.6l0.9 -3.4l0.7 -3.6l0.0 -3.6M177.3 116.8l-3.5 -0.9l-3.3 -1.5l-3.0 -1.9l-2.5 -2.6l-2.5 -2.6l-2.7 -2.5l-2.7 -2.3l-2.9 -2.2l-2.8 -2.2l-2.7 -2.3M63.3 125.2l3.0 -2.0l3.0 -1.9l3.3 -1.6l3.3 -1.3l3.6 -0.6l3.6 -0.2l3.6 -0.3l3.5 0.1l3.6 0.6l3.6 0.2l3.6 -0.1l3.5 -0.6l3.5 -1.0l3.4 -1.3M156.8 187.6l2.1 2.9l2.2 2.9l2.0 3.0l2.0 3.0l2.2 2.8l2.1 2.9l1.9 3.1l-2.3 2.8M122.2 220.7l0.0 -3.6l0.2 -3.6l0.4 -3.6l1.0 -3.4l2.0 -3.0l2.4 -2.6l2.6 -2.6l2.7 -2.4l3.1 -1.7l3.5 -0.7l3.6 0.3l3.3 1.5l2.6 2.5l2.3 2.7l2.1 3.0l1.6 3.2M167.0 133.6l-2.1 3.0l-2.6 2.5l-3.1 1.8l-3.3 1.5l-3.2 1.7l-3.1 1.8l-3.2 1.7l-3.3 1.4M69.8 120.5l-1.4 -3.3l-1.0 -3.5l-0.6 -3.5l0.1 -3.6l0.5 -3.6l1.3 -3.3l1.9 -3.1l2.6 -2.5l3.2 -1.6l3.3 -1.6l3.1 -1.7l3.2 -1.8l3.2 -1.5l3.1 -1.9l3.0 -2.0l2.9 -2.0M128.9 190.3l-2.7 2.4l-2.2 2.8l-1.8 3.1l-1.5 3.3l-1.4 3.4l-1.3 3.3l-1.2 3.4l-1.1 3.4l-1.4 3.4l-1.2 3.3M86.8 165.1l3.6 0.5l3.5 0.6l3.6 0.8l3.2 1.6l2.7 2.4l1.7 3.1l1.1 3.5l1.1 3.4l0.5 3.5l0.3 3.6M165.3 128.4l2.7 -2.5l2.9 -2.1l2.8 -2.2l2.4 -2.7l2.3 -2.8l2.2 -2.8l1.8 -3.1l2.0 -3.0l2.3 -2.8l1.9 -3.1l1.8 -3.0l1.5 -3.3l0.8 -3.5l0.6 -3.6l0.3 -3.6l-0.1 -3.6l-3.0 -2.0l-3.1 -1.8M70.8 181.6l-1.0 -3.5l-0.9 -3.5l-0.4 -3.5l-0.3 -3.6l0.1 -3.6l-0.4 -3.6l-0.6 -3.6l-0.6 -3.5l-0.3 -3.6l0.1 -3.6l0.2 -3.6l0.4 -3.6l0.6 -3.5l0.8 -3.5l1.8 -3.2l2.6 -2.4M90.2 177.3l1.3 3.4l1.5 3.3l1.6 3.2l1.4 3.3l1.5 3.3l1.6 3.2l1.8 3.1l1.8 3.2l1.8 3.1l2.0 2.9l2.5 2.7l2.5 2.5l2.9 2.1l2.8 2.3l2.6 2.5l2.3 2.8l2.1 2.9l3.6 -0.4M44.5 77.4l-2.7 2.4l-0.5 3.6l-0.8 3.5l-0.8 3.5l-0.3 3.6l0.2 3.6l0.5 3.6l0.5 3.5l-0.1 3.6l0.6 3.6l0.6 3.5l0.8 3.5M162.7 160.0l2.2 2.8l1.4 3.3l0.6 3.6l0.6 3.5l0.7 3.6l0.9 3.5M51.4 122.6l-3.6 0.1l-3.6 0.4l-3.6 0.6l-3.5 0.9l-3.3 1.2l-3.5 0.9l-3.5 1.0l-3.5 0.9l-0.9 3.5l-1.1 3.4M179.0 154.7l1.1 -3.4l1.4 -3.4l1.4 -3.3l1.7 -3.2l1.9 -3.0l2.3 -2.8l2.4 -2.7l2.7 -2.4l2.6 -2.4l2.4 -2.7M164.7 114.9l2.4 -2.8l1.8 -3.1l1.3 -3.3l0.6 -3.6l0.0 -3.6l-0.4 -3.5l-1.2 -3.5l-1.5 -3.2l-1.9 -3.1l-2.0 -2.9l-2.6 -2.6l-3.2 -1.7l-3.4 -0.9l-3.6 -0.8l-3.4 -0.9l-3.5 -1.0M149.3 102.7l-0.6 -3.5l-0.7 -3.5l-1.5 -3.3l-2.0 -3.0l-2.3 -2.8l-2.4 -2.7l-2.5 -2.6l-2.9 -2.1l-2.5 -2.6l-1.7 -3.2M123.1 143.9l3.0 2.1l3.4 1.1l3.5 0.7l3.6 -0.4l3.4 -1.1l3.2 -1.7l3.1 -1.8l3.1 -1.8l3.3 -1.6l3.4 -1.2M37.5 110.1l1.3 3.4l1.2 3.4l1.2 3.4l0.8 3.5l0.4 3.6l-0.2 3.6l-0.4 3.5l-0.7 3.6l-0.4 3.5l-0.3 3.6l0.0 3.6l0.3 3.6M139.9 194.4l3.3 -1.3l3.5 -0.9l3.6 -0.2l3.5 0.9l3.4 1.1l3.5 1.0l3.5 0.7l3.5 0.9l3.6 0.3l3.6 -0.2l3.4 -1.0l3.4 -1.2l3.2 -1.6l2.8 -2.3l2.4 -2.7l2.1 -2.9M118.7 61.1l-2.6 2.5l-1.7 3.2l-1.0 3.5l-0.8 3.5l-1.4 3.3l-2.2 2.9M160.4 119.1l2.5 -2.7l2.2 -2.8l2.3 -2.8l2.5 -2.6l2.4 -2.6l2.0 -3.0M82.3 139.6l-0.2 3.6l0.4 3.6l0.5 3.5l0.6 3.6l1.0 3.4l1.6 3.2l1.9 3.1l1.6 3.2l1.3 3.4l0.6 3.5l0.0 3.6l-0.3 3.6l-0.8 3.5l-0.9 3.5M123.1 135.8l0.3 -3.6l0.5 -3.6l0.0 -3.6l-0.3 -3.6l-0.3 -3.5l-0.1 -3.6l-0.2 -3.6l-0.2 -3.6M83.8 109.5l1.7 -3.1l1.3 -3.4l0.9 -3.5l0.0 -3.6l-0.2 -3.6l-0.1 -3.6l-0.4 -3.5l-0.3 -3.6l-0.1 -3.6l-0.7 -3.6l-1.1 -3.4l-1.4 -3.3l-1.3 -3.4l-1.0 -3.4l-0.7 -3.6l-0.2 -3.6M169.5 81.5l1.1 3.4l1.1 3.5l0.8 3.5l1.3 3.3l1.3 3.4l1.4 3.3M69.3 148.8l-0.6 3.5l-0.2 3.6l-0.1 3.6l0.5 3.6l1.0 3.4l1.7 3.2l1.7 3.2l1.7 3.1l1.9 3.1l2.1 2.9l2.6 2.6l2.8 2.2l3.1 1.8l3.3 1.5M53.9 156.5l2.2 2.8l2.4 2.7l2.7 2.4l2.8 2.2l3.0 2.1l2.9 2.1l2.8 2.3l2.6 2.4M106.7 160.4l3.2 -1.7l3.0 -2.0l3.1 -1.9l3.1 -1.7l3.1 -1.8l3.3 -1.6M177.0 180.1l-3.1 -1.9l-3.1 -1.8l-3.2 -1.5l-3.4 -1.2l-3.4 -1.2l-3.5 -1.0l-3.6 -0.4l-3.6 -0.3l-3.5 -0.5l-3.4 -1.2l-3.3 -1.4l-3.4 -1.2l-3.5 -1.0l-3.4 -1.1l-3.4 -1.3l-3.4 -1.2M73.1 201.0l-3.2 -1.7l-3.2 -1.7l-3.2 -1.6l-3.4 -1.2l-3.4 -1.0l-3.3 -1.5l-3.3 -1.6l-2.7 -2.3l-3.0 -2.1l-2.9 -2.1l-3.0 -1.9l-3.3 -1.4l-1.4 -3.3l-2.0 -3.0M164.0 168.3l-2.4 2.7l-2.5 2.6l-2.5 2.6l-2.7 2.3l-3.2 1.6l-3.6 0.7l-3.6 0.0l-3.5 -0.7l-3.2 -1.6l-3.1 -1.9l-2.8 -2.3l-2.4 -2.6l-2.7 -2.5l-2.4 -2.6l-2.6 -2.5l-2.6 -2.5M36.3 185.6l2.3 2.7l2.4 2.7l2.4 2.7l2.3 2.8l3.6 0.0l3.6 0.0l3.6 -0.4l3.5 -0.5l3.6 -0.6l3.5 -0.6l3.5 -0.9l3.5 -1.0M129.8 195.1l-3.3 1.4l-3.2 1.6l-3.2 1.7l-2.3 2.7l-2.0 3.0l-1.2 3.4M154.2 120.4l-3.5 -0.9l-3.6 -0.5l-3.5 -0.8l-3.3 -1.3l-3.2 -1.6l-3.2 -1.8l-3.1 -1.7l-2.8 -2.3l-2.7 -2.3l-2.8 -2.3l-3.0 -2.1l-2.8 -2.2l-2.5 -2.6l-2.0 -3.0M209.2 135.3l0.9 -3.4l-1.3 -3.4l-1.2 -3.4l-3.6 0.0l-3.6 0.0l-3.6 0.0l-3.5 0.5l-3.6 0.5l-3.6 0.4l-3.6 0.5l-3.6 0.1l-3.5 -0.8l-3.2 -1.6l-2.9 -2.1l-2.9 -2.1l-2.8 -2.3M84.5 95.6l-3.5 -0.7l-3.5 -0.6l-3.5 -1.0l-3.3 -1.5l-3.2 -1.5l-3.3 -1.5l-3.5 -1.0l-3.4 -1.2l-3.2 -1.6l-3.2 -1.7l-3.1 -1.8l-3.2 -1.7M56.3 103.7l3.0 1.9l3.0 2.1l3.0 1.9l2.9 2.1l2.8 2.3l2.8 2.3M93.5 139.0l3.0 2.1l2.9 2.1l2.8 2.3l2.7 2.3l3.4 1.4l3.2 1.5l3.5 1.1l3.3 1.2l3.4 1.3l3.4 1.3M184.0 156.9l-2.4 -2.7l-2.6 -2.5l-2.7 -2.4l-2.6 -2.4l-2.7 -2.5l-2.8 -2.2l-2.9 -2.1l-2.7 -2.4l-2.6 -2.5l-2.2 -2.9l-1.8 -3.1l-1.8 -3.1M66.2 79.5l-1.9 3.1l-2.1 2.9l-2.4 2.6l-2.0 3.1l-2.3 2.7l-2.6 2.5l-2.5 2.6l-2.6 2.5l-2.4 2.7l-1.9 3.0M50.8 76.5l3.6 -0.5l3.6 -0.6l3.4 -1.1l3.4 -1.2l3.2 -1.5l3.1 -1.8l2.9 -2.3l2.6 -2.5l2.4 -2.6l2.3 -2.8l1.4 -3.3l1.1 -3.5l1.3 -3.3l1.4 -3.3M101.0 182.6l-0.9 3.5l-0.9 3.4l-1.5 3.3l-1.8 3.1l-2.1 2.9l-2.7 2.5l-2.7 2.3l-3.1 1.9M133.7 85.0l-3.6 -0.1l-3.6 -0.5l-3.6 -0.3l-3.6 -0.2l-3.5 0.9l-3.3 1.4l-3.1 1.8l-3.1 1.8l-3.1 1.8l-2.9 2.1l-2.5 2.7l-2.0 3.0l-1.5 3.3l-1.0 3.4l-0.4 3.6l0.1 3.6l0.7 3.5l1.1 3.4M114.8 92.4l3.5 -0.9l3.6 -0.6l3.5 -0.4l3.6 0.1l3.6 0.6l3.4 1.0l3.4 1.2l3.3 1.5l3.4 1.3l3.4 1.2M154.6 120.0l-1.5 3.2l-1.2 3.4l-1.3 3.4l-1.3 3.3M109.2 58.9l-2.1 2.9l-1.9 3.1l-1.3 3.3l-1.4 3.4l-1.5 3.2l-1.7 3.2l-2.3 2.8l-3.2 1.7l-3.2 1.5l-3.1 1.9l-2.9 2.1l-3.2 1.7l-3.2 1.7l-3.3 1.2M137.8 73.6l-2.1 -2.9l-2.0 -3.0l-1.8 -3.1l-1.8 -3.2M104.0 41.4l0.9 3.5l0.7 3.5l0.5 3.6l0.1 3.6l-0.3 3.6l0.0 3.6l0.5 3.5l0.1 3.6M119.6 101.6l2.1 -3.0l2.6 -2.4l3.0 -2.0l3.1 -2.0l3.1 -1.7l3.2 -1.7M70.7 158.5l0.6 -3.5l0.5 -3.6l0.3 -3.6l-0.2 -3.6l0.1 -3.6l0.1 -3.6l0.4 -3.5l0.9 -3.5M88.6 185.8l-2.9 2.1l-3.3 1.5l-3.2 1.6l-3.2 1.7l-3.2 1.6l-3.2 1.7l-3.2 1.6l-3.3 1.5l-3.5 1.0l-3.5 0.7M81.9 133.0l2.5 -2.6l2.9 -2.1l3.3 -1.4l3.4 -1.4l3.1 -1.8l3.2 -1.5l3.5 -1.0l3.6 -0.6M155.2 75.2l0.0 3.6l-0.4 3.6l-0.7 3.5l-1.2 3.4l-0.8 3.5l-0.5 3.6M145.5 170.4l-3.2 1.7l-3.2 1.6l-3.4 1.4l-3.3 1.3l-3.2 1.6l-3.2 1.7l-3.0 1.9l-3.2 1.7l-3.2 1.7l-3.0 2.0l-2.8 2.3l-2.7 2.3l-2.5 2.6l-1.9 3.1l-1.9 3.1l-1.6 3.2M181.3 159.2l3.0 -2.0l3.0 -1.9l2.9 -2.2l2.6 -2.5l2.6 -2.4l2.7 -2.5M111.4 129.8l-2.9 2.0l-2.9 2.2l-2.5 2.6l-2.3 2.8l-2.2 2.8l-2.0 3.0l-1.7 3.2l-1.4 3.3l-1.2 3.4l-0.5 3.6l0.7 3.5l1.6 3.2M167.2 84.3l-2.7 -2.3l-2.0 -3.0l-1.8 -3.1l-1.3 -3.4l-0.9 -3.5l-0.4 -3.5l0.6 -3.6l1.0 -3.5l0.9 -3.4l-3.1 -1.8l-3.4 -1.3l-3.4 -1.0l-3.5 -1.0l-3.6 -0.5l-3.5 -0.6l-3.6 -0.5M155.6 160.0l3.5 -0.8l3.5 -1.1l3.5 -0.8l3.5 -0.4l3.6 0.7l3.5 0.8l3.5 0.9l3.5 0.9" stroke="#a81aa8" stroke-width="1.75" stroke-linecap="round" stroke-linejoin="round" fill="none"/><path d="M169.7 156.9l-3.4 1.3l-3.6 0.2l-3.6 -0.3l-3.5 -0.4l-3.6 -0.6l-3.6 -0.4l-3.6 -0.2l-3.5 0.4M136.4 132.3l-3.6 0.6l-3.4 1.0l-3.4 1.2l-3.5 1.0l-3.5 0.7l-3.6 0.2M35.3 180.3l-3.2 -1.7l-1.0 -3.4l-0.9 -3.5l-0.8 -3.5l2.9 -2.2l2.7 -2.3l2.9 -2.1l3.3 -1.5l3.5 -0.8l3.6 -0.2l3.6 0.6l3.2 1.6M144.5 213.6l-3.6 0.0l-3.6 0.0l-3.6 0.2l-3.6 -0.3l-3.5 -0.8l-3.4 -1.1M44.6 144.0l3.3 -1.5l3.2 -1.6l2.9 -2.0l3.0 -2.1l3.2 -1.7l3.4 -1.1M143.9 161.2l-2.9 -2.1l-2.9 -2.2l-2.7 -2.4l-2.5 -2.6l-2.5 -2.6l-1.8 -3.1l-0.8 -3.5l-0.2 -3.6l-0.7 -3.5l-1.4 -3.4M121.9 83.6l0.8 -3.6l0.9 -3.4l0.7 -3.6l0.0 -3.6M177.3 116.8l-3.5 -0.9l-3.3 -1.5l-3.0 -1.9l-2.5 -2.6l-2.5 -2.6l-2.7 -2.5l-2.7 -2.3l-2.9 -2.2l-2.8 -2.2l-2.7 -2.3M63.3 125.2l3.0 -2.0l3.0 -1.9l3.3 -1.6l3.3 -1.3l3.6 -0.6l3.6 -0.2l3.6 -0.3l3.5 0.1l3.6 0.6l3.6 0.2l3.6 -0.1l3.5 -0.6l3.5 -1.0l3.4 -1.3M156.8 187.6l2.1 2.9l2.2 2.9l2.0 3.0l2.0 3.0l2.2 2.8l2.1 2.9l1.9 3.1l-2.3 2.8M122.2 220.7l0.0 -3.6l0.2 -3.6l0.4 -3.6l1.0 -3.4l2.0 -3.0l2.4 -2.6l2.6 -2.6l2.7 -2.4l3.1 -1.7l3.5 -0.7l3.6 0.3l3.3 1.5l2.6 2.5l2.3 2.7l2.1 3.0l1.6 3.2M167.0 133.6l-2.1 3.0l-2.6 2.5l-3.1 1.8l-3.3 1.5l-3.2 1.7l-3.1 1.8l-3.2 1.7l-3.3 1.4M69.8 120.5l-1.4 -3.3l-1.0 -3.5l-0.6 -3.5l0.1 -3.6l0.5 -3.6l1.3 -3.3l1.9 -3.1l2.6 -2.5l3.2 -1.6l3.3 -1.6l3.1 -1.7l3.2 -1.8l3.2 -1.5l3.1 -1.9l3.0 -2.0l2.9 -2.0M128.9 190.3l-2.7 2.4l-2.2 2.8l-1.8 3.1l-1.5 3.3l-1.4 3.4l-1.3 3.3l-1.2 3.4l-1.1 3.4l-1.4 3.4l-1.2 3.3M86.8 165.1l3.6 0.5l3.5 0.6l3.6 0.8l3.2 1.6l2.7 2.4l1.7 3.1l1.1 3.5l1.1 3.4l0.5 3.5l0.3 3.6M165.3 128.4l2.7 -2.5l2.9 -2.1l2.8 -2.2l2.4 -2.7l2.3 -2.8l2.2 -2.8l1.8 -3.1l2.0 -3.0l2.3 -2.8l1.9 -3.1l1.8 -3.0l1.5 -3.3l0.8 -3.5l0.6 -3.6l0.3 -3.6l-0.1 -3.6l-3.0 -2.0l-3.1 -1.8M70.8 181.6l-1.0 -3.5l-0.9 -3.5l-0.4 -3.5l-0.3 -3.6l0.1 -3.6l-0.4 -3.6l-0.6 -3.6l-0.6 -3.5l-0.3 -3.6l0.1 -3.6l0.2 -3.6l0.4 -3.6l0.6 -3.5l0.8 -3.5l1.8 -3.2l2.6 -2.4M90.2 177.3l1.3 3.4l1.5 3.3l1.6 3.2l1.4 3.3l1.5 3.3l1.6 3.2l1.8 3.1l1.8 3.2l1.8 3.1l2.0 2.9l2.5 2.7l2.5 2.5l2.9 2.1l2.8 2.3l2.6 2.5l2.3 2.8l2.1 2.9l3.6 -0.4M44.5 77.4l-2.7 2.4l-0.5 3.6l-0.8 3.5l-0.8 3.5l-0.3 3.6l0.2 3.6l0.5 3.6l0.5 3.5l-0.1 3.6l0.6 3.6l0.6 3.5l0.8 3.5M162.7 160.0l2.2 2.8l1.4 3.3l0.6 3.6l0.6 3.5l0.7 3.6l0.9 3.5M51.4 122.6l-3.6 0.1l-3.6 0.4l-3.6 0.6l-3.5 0.9l-3.3 1.2l-3.5 0.9l-3.5 1.0l-3.5 0.9l-0.9 3.5l-1.1 3.4M179.0 154.7l1.1 -3.4l1.4 -3.4l1.4 -3.3l1.7 -3.2l1.9 -3.0l2.3 -2.8l2.4 -2.7l2.7 -2.4l2.6 -2.4l2.4 -2.7M164.7 114.9l2.4 -2.8l1.8 -3.1l1.3 -3.3l0.6 -3.6l0.0 -3.6l-0.4 -3.5l-1.2 -3.5l-1.5 -3.2l-1.9 -3.1l-2.0 -2.9l-2.6 -2.6l-3.2 -1.7l-3.4 -0.9l-3.6 -0.8l-3.4 -0.9l-3.5 -1.0M149.3 102.7l-0.6 -3.5l-0.7 -3.5l-1.5 -3.3l-2.0 -3.0l-2.3 -2.8l-2.4 -2.7l-2.5 -2.6l-2.9 -2.1l-2.5 -2.6l-1.7 -3.2M123.1 143.9l3.0 2.1l3.4 1.1l3.5 0.7l3.6 -0.4l3.4 -1.1l3.2 -1.7l3.1 -1.8l3.1 -1.8l3.3 -1.6l3.4 -1.2M37.5 110.1l1.3 3.4l1.2 3.4l1.2 3.4l0.8 3.5l0.4 3.6l-0.2 3.6l-0.4 3.5l-0.7 3.6l-0.4 3.5l-0.3 3.6l0.0 3.6l0.3 3.6M139.9 194.4l3.3 -1.3l3.5 -0.9l3.6 -0.2l3.5 0.9l3.4 1.1l3.5 1.0l3.5 0.7l3.5 0.9l3.6 0.3l3.6 -0.2l3.4 -1.0l3.4 -1.2l3.2 -1.6l2.8 -2.3l2.4 -2.7l2.1 -2.9M118.7 61.1l-2.6 2.5l-1.7 3.2l-1.0 3.5l-0.8 3.5l-1.4 3.3l-2.2 2.9M160.4 119.1l2.5 -2.7l2.2 -2.8l2.3 -2.8l2.5 -2.6l2.4 -2.6l2.0 -3.0M82.3 139.6l-0.2 3.6l0.4 3.6l0.5 3.5l0.6 3.6l1.0 3.4l1.6 3.2l1.9 3.1l1.6 3.2l1.3 3.4l0.6 3.5l0.0 3.6l-0.3 3.6l-0.8 3.5l-0.9 3.5M123.1 135.8l0.3 -3.6l0.5 -3.6l0.0 -3.6l-0.3 -3.6l-0.3 -3.5l-0.1 -3.6l-0.2 -3.6l-0.2 -3.6M83.8 109.5l1.7 -3.1l1.3 -3.4l0.9 -3.5l0.0 -3.6l-0.2 -3.6l-0.1 -3.6l-0.4 -3.5l-0.3 -3.6l-0.1 -3.6l-0.7 -3.6l-1.1 -3.4l-1.4 -3.3l-1.3 -3.4l-1.0 -3.4l-0.7 -3.6l-0.2 -3.6M169.5 81.5l1.1 3.4l1.1 3.5l0.8 3.5l1.3 3.3l1.3 3.4l1.4 3.3M69.3 148.8l-0.6 3.5l-0.2 3.6l-0.1 3.6l0.5 3.6l1.0 3.4l1.7 3.2l1.7 3.2l1.7 3.1l1.9 3.1l2.1 2.9l2.6 2.6l2.8 2.2l3.1 1.8l3.3 1.5M53.9 156.5l2.2 2.8l2.4 2.7l2.7 2.4l2.8 2.2l3.0 2.1l2.9 2.1l2.8 2.3l2.6 2.4M106.7 160.4l3.2 -1.7l3.0 -2.0l3.1 -1.9l3.1 -1.7l3.1 -1.8l3.3 -1.6M177.0 180.1l-3.1 -1.9l-3.1 -1.8l-3.2 -1.5l-3.4 -1.2l-3.4 -1.2l-3.5 -1.0l-3.6 -0.4l-3.6 -0.3l-3.5 -0.5l-3.4 -1.2l-3.3 -1.4l-3.4 -1.2l-3.5 -1.0l-3.4 -1.1l-3.4 -1.3l-3.4 -1.2M73.1 201.0l-3.2 -1.7l-3.2 -1.7l-3.2 -1.6l-3.4 -1.2l-3.4 -1.0l-3.3 -1.5l-3.3 -1.6l-2.7 -2.3l-3.0 -2.1l-2.9 -2.1l-3.0 -1.9l-3.3 -1.4l-1.4 -3.3l-2.0 -3.0M164.0 168.3l-2.4 2.7l-2.5 2.6l-2.5 2.6l-2.7 2.3l-3.2 1.6l-3.6 0.7l-3.6 0.0l-3.5 -0.7l-3.2 -1.6l-3.1 -1.9l-2.8 -2.3l-2.4 -2.6l-2.7 -2.5l-2.4 -2.6l-2.6 -2.5l-2.6 -2.5M36.3 185.6l2.3 2.7l2.4 2.7l2.4 2.7l2.3 2.8l3.6 0.0l3.6 0.0l3.6 -0.4l3.5 -0.5l3.6 -0.6l3.5 -0.6l3.5 -0.9l3.5 -1.0M129.8 195.1l-3.3 1.4l-3.2 1.6l-3.2 1.7l-2.3 2.7l-2.0 3.0l-1.2 3.4M154.2 120.4l-3.5 -0.9l-3.6 -0.5l-3.5 -0.8l-3.3 -1.3l-3.2 -1.6l-3.2 -1.8l-3.1 -1.7l-2.8 -2.3l-2.7 -2.3l-2.8 -2.3l-3.0 -2.1l-2.8 -2.2l-2.5 -2.6l-2.0 -3.0M209.2 135.3l0.9 -3.4l-1.3 -3.4l-1.2 -3.4l-3.6 0.0l-3.6 0.0l-3.6 0.0l-3.5 0.5l-3.6 0.5l-3.6 0.4l-3.6 0.5l-3.6 0.1l-3.5 -0.8l-3.2 -1.6l-2.9 -2.1l-2.9 -2.1l-2.8 -2.3M84.5 95.6l-3.5 -0.7l-3.5 -0.6l-3.5 -1.0l-3.3 -1.5l-3.2 -1.5l-3.3 -1.5l-3.5 -1.0l-3.4 -1.2l-3.2 -1.6l-3.2 -1.7l-3.1 -1.8l-3.2 -1.7M56.3 103.7l3.0 1.9l3.0 2.1l3.0 1.9l2.9 2.1l2.8 2.3l2.8 2.3M93.5 139.0l3.0 2.1l2.9 2.1l2.8 2.3l2.7 2.3l3.4 1.4l3.2 1.5l3.5 1.1l3.3 1.2l3.4 1.3l3.4 1.3M184.0 156.9l-2.4 -2.7l-2.6 -2.5l-2.7 -2.4l-2.6 -2.4l-2.7 -2.5l-2.8 -2.2l-2.9 -2.1l-2.7 -2.4l-2.6 -2.5l-2.2 -2.9l-1.8 -3.1l-1.8 -3.1M66.2 79.5l-1.9 3.1l-2.1 2.9l-2.4 2.6l-2.0 3.1l-2.3 2.7l-2.6 2.5l-2.5 2.6l-2.6 2.5l-2.4 2.7l-1.9 3.0M50.8 76.5l3.6 -0.5l3.6 -0.6l3.4 -1.1l3.4 -1.2l3.2 -1.5l3.1 -1.8l2.9 -2.3l2.6 -2.5l2.4 -2.6l2.3 -2.8l1.4 -3.3l1.1 -3.5l1.3 -3.3l1.4 -3.3M101.0 182.6l-0.9 3.5l-0.9 3.4l-1.5 3.3l-1.8 3.1l-2.1 2.9l-2.7 2.5l-2.7 2.3l-3.1 1.9M133.7 85.0l-3.6 -0.1l-3.6 -0.5l-3.6 -0.3l-3.6 -0.2l-3.5 0.9l-3.3 1.4l-3.1 1.8l-3.1 1.8l-3.1 1.8l-2.9 2.1l-2.5 2.7l-2.0 3.0l-1.5 3.3l-1.0 3.4l-0.4 3.6l0.1 3.6l0.7 3.5l1.1 3.4M114.8 92.4l3.5 -0.9l3.6 -0.6l3.5 -0.4l3.6 0.1l3.6 0.6l3.4 1.0l3.4 1.2l3.3 1.5l3.4 1.3l3.4 1.2M154.6 120.0l-1.5 3.2l-1.2 3.4l-1.3 3.4l-1.3 3.3M109.2 58.9l-2.1 2.9l-1.9 3.1l-1.3 3.3l-1.4 3.4l-1.5 3.2l-1.7 3.2l-2.3 2.8l-3.2 1.7l-3.2 1.5l-3.1 1.9l-2.9 2.1l-3.2 1.7l-3.2 1.7l-3.3 1.2M137.8 73.6l-2.1 -2.9l-2.0 -3.0l-1.8 -3.1l-1.8 -3.2M104.0 41.4l0.9 3.5l0.7 3.5l0.5 3.6l0.1 3.6l-0.3 3.6l0.0 3.6l0.5 3.5l0.1 3.6M119.6 101.6l2.1 -3.0l2.6 -2.4l3.0 -2.0l3.1 -2.0l3.1 -1.7l3.2 -1.7M70.7 158.5l0.6 -3.5l0.5 -3.6l0.3 -3.6l-0.2 -3.6l0.1 -3.6l0.1 -3.6l0.4 -3.5l0.9 -3.5M88.6 185.8l-2.9 2.1l-3.3 1.5l-3.2 1.6l-3.2 1.7l-3.2 1.6l-3.2 1.7l-3.2 1.6l-3.3 1.5l-3.5 1.0l-3.5 0.7M81.9 133.0l2.5 -2.6l2.9 -2.1l3.3 -1.4l3.4 -1.4l3.1 -1.8l3.2 -1.5l3.5 -1.0l3.6 -0.6M155.2 75.2l0.0 3.6l-0.4 3.6l-0.7 3.5l-1.2 3.4l-0.8 3.5l-0.5 3.6M145.5 170.4l-3.2 1.7l-3.2 1.6l-3.4 1.4l-3.3 1.3l-3.2 1.6l-3.2 1.7l-3.0 1.9l-3.2 1.7l-3.2 1.7l-3.0 2.0l-2.8 2.3l-2.7 2.3l-2.5 2.6l-1.9 3.1l-1.9 3.1l-1.6 3.2M181.3 159.2l3.0 -2.0l3.0 -1.9l2.9 -2.2l2.6 -2.5l2.6 -2.4l2.7 -2.5M111.4 129.8l-2.9 2.0l-2.9 2.2l-2.5 2.6l-2.3 2.8l-2.2 2.8l-2.0 3.0l-1.7 3.2l-1.4 3.3l-1.2 3.4l-0.5 3.6l0.7 3.5l1.6 3.2M167.2 84.3l-2.7 -2.3l-2.0 -3.0l-1.8 -3.1l-1.3 -3.4l-0.9 -3.5l-0.4 -3.5l0.6 -3.6l1.0 -3.5l0.9 -3.4l-3.1 -1.8l-3.4 -1.3l-3.4 -1.0l-3.5 -1.0l-3.6 -0.5l-3.5 -0.6l-3.6 -0.5M155.6 160.0l3.5 -0.8l3.5 -1.1l3.5 -0.8l3.5 -0.4l3.6 0.7l3.5 0.8l3.5 0.9l3.5 0.9" stroke="#ff3cff" stroke-width="1.85" stroke-dasharray="3 6 2 8 4 5" stroke-linecap="round" fill="none"/><path d="M169.7 156.9h0M141.3 156.9h0M136.4 132.3h0M115.4 137.0h0M35.3 180.3h0M55.1 161.3h0M144.5 213.6h0M123.2 211.6h0M44.6 144.0h0M63.6 134.0h0M143.9 161.2h0M125.5 132.2h0M121.9 83.6h0M124.3 69.4h0M177.3 116.8h0M148.7 95.8h0M63.3 125.2h0M111.4 115.2h0M156.8 187.6h0M169.0 211.0h0M122.2 220.7h0M155.6 206.7h0M167.0 133.6h0M143.1 149.0h0M69.8 120.5h0M98.2 80.0h0M128.9 190.3h0M113.1 222.1h0M86.8 165.1h0M108.1 188.1h0M165.3 128.4h0M187.4 76.9h0M70.8 181.6h0M72.9 126.2h0M90.2 177.3h0M127.8 226.7h0M44.5 77.4h0M42.5 118.9h0M162.7 160.0h0M169.1 180.3h0M51.4 122.6h0M21.3 135.5h0M179.0 154.7h0M198.9 125.4h0M164.7 114.9h0M144.1 74.4h0M149.3 102.7h0M130.2 73.4h0M123.1 143.9h0M156.1 138.2h0M37.5 110.1h0M40.7 152.4h0M139.9 194.4h0M192.2 185.0h0M118.7 61.1h0M109.0 80.0h0M160.4 119.1h0M174.3 102.6h0M82.3 139.6h0M89.6 187.9h0M123.1 135.8h0M122.8 107.1h0M83.8 109.5h0M80.2 53.7h0M169.5 81.5h0M176.5 101.9h0M69.3 148.8h0M90.8 190.1h0M53.9 156.5h0M75.3 175.5h0M106.7 160.4h0M125.5 149.7h0M177.0 180.1h0M122.8 161.9h0M73.1 201.0h0M31.8 174.6h0M164.0 168.3h0M118.2 161.6h0M36.3 185.6h0M74.1 192.5h0M129.8 195.1h0M114.6 208.9h0M154.2 120.4h0M112.2 95.0h0M209.2 135.3h0M163.6 118.2h0M84.5 95.6h0M44.6 79.8h0M56.3 103.7h0M73.8 116.3h0M93.5 139.0h0M125.1 155.6h0M184.0 156.9h0M154.2 126.1h0M66.2 79.5h0M43.5 107.2h0M50.8 76.5h0M86.5 46.2h0M101.0 182.6h0M85.3 205.5h0M133.7 85.0h0M94.8 120.2h0M114.8 92.4h0M149.5 97.4h0M154.6 120.0h0M149.3 133.3h0M109.2 58.9h0M74.9 92.6h0M137.8 73.6h0M130.1 61.4h0M104.0 41.4h0M106.5 69.9h0M119.6 101.6h0M136.7 88.8h0M70.7 158.5h0M73.4 130.0h0M88.6 185.8h0M56.1 200.8h0M81.9 133.0h0M107.4 120.6h0M155.2 75.2h0M151.6 96.4h0M145.5 170.4h0M100.2 203.6h0M181.3 159.2h0M198.1 145.7h0M111.4 129.8h0M94.1 165.4h0M167.2 84.3h0M136.5 48.3h0M155.6 160.0h0M183.7 160.2h0" stroke="#ff30ff" stroke-width="3.0" stroke-linecap="round" fill="none"/><path d="M83.4 55.3h0M121.3 216.7h0M172.0 134.9h0" stroke="#2cff2c" stroke-width="1.05" stroke-opacity="0.50" stroke-linecap="round" fill="none"/><path d="M50.1 159.2h0M134.9 147.3h0M64.8 167.1h0M40.5 149.2h0M105.7 45.9h0M151.6 109.7h0M81.9 163.6h0" stroke="#2cff2c" stroke-width="1.05" stroke-opacity="1.00" stroke-linecap="round" fill="none"/><path d="M56.0 85.7h0M174.4 79.4h0" stroke="#2cff2c" stroke-width="1.20" stroke-opacity="1.00" stroke-linecap="round" fill="none"/><path d="M135.5 132.3h0" stroke="#2cff2c" stroke-width="1.35" stroke-opacity="0.50" stroke-linecap="round" fill="none"/><path d="M170.0 99.5h0M161.2 79.5h0M105.5 196.3h0M68.4 163.0h0M139.5 83.3h0M142.9 72.9h0" stroke="#2cff2c" stroke-width="1.35" stroke-opacity="1.00" stroke-linecap="round" fill="none"/></g></svg>
<rect x="482.5" y="582.0" width="62" height="4.6" fill="#fff"/>
<svg x="562.0" y="352.5" width="245.5" height="245.5" viewBox="0 0 245.5 245.5" overflow="hidden"><rect width="245.5" height="245.5" fill="#0b000b"/><g transform="translate(0 0.0)" filter="url(#soft)"><path d="M62.4 252.8l1.3 -3.4l1.0 -3.4l3.3 -1.3l3.5 -1.1l3.5 -0.5l3.6 0.0l3.5 1.1l3.4 1.2l3.4 1.1l3.2 1.5M69.8 261.4l3.0 2.0l3.2 1.7l3.1 1.7l3.3 1.5l3.1 1.8l3.2 1.7l3.2 1.7l3.2 1.5M61.5 260.5l2.1 2.9l3.4 -1.3l3.2 -1.5l3.2 -1.7l2.9 -2.1l2.5 -2.6M76.1 232.2l2.9 -2.1l3.6 0.8l3.4 1.0l3.4 1.2l0.6 3.6l1.0 3.5l1.0 3.4l1.4 3.3l1.6 3.2l2.2 2.9l2.3 2.7l2.6 2.6M61.6 246.3l-0.9 3.5l-0.2 3.6l0.7 3.5l1.6 3.2l2.3 2.8l2.9 2.2l2.9 2.1l2.9 2.1l3.1 1.8l3.1 1.8l3.2 1.6l3.2 1.8l3.2 1.6l3.2 -1.6l3.2 -1.7l3.0 -1.9M102.5 244.9l2.9 2.0l2.4 2.8l1.8 3.1l-0.9 3.4l-3.6 0.4l-3.6 0.1l-3.6 -0.3l-3.6 -0.3l-3.5 0.6l-3.4 1.3l-3.1 1.8l-3.2 1.7l-3.0 2.0l-2.8 2.2l-2.6 2.4l-2.3 2.9" stroke="#e020e0" stroke-width="2.6" stroke-dasharray="0.5 6" stroke-linecap="round" fill="none" opacity="0.85"/><path d="M131.3 80.4l3.3 1.4l3.5 1.1l3.4 1.0l3.6 0.5l3.6 -0.2l3.6 0.6l3.5 0.8l3.5 0.8l3.5 0.8l3.5 0.7M116.2 147.4l-0.4 -3.6l-1.2 -3.4l-1.8 -3.1l-2.6 -2.5l-3.2 -1.7l-3.3 -1.3l-3.1 -1.8l-3.2 -1.7l-3.1 -1.9l-3.1 -1.8M105.8 121.7l-1.5 3.3l-2.2 2.8l-2.6 2.5l-2.8 2.3l-3.0 2.0l-3.1 1.7l-3.3 1.5l-3.5 0.7l-3.6 0.3l-3.6 -0.2l-3.6 -0.6l-3.4 -1.1M121.4 62.2l0.5 3.6l0.2 3.6l-0.2 3.6l-0.2 3.6l0.3 3.6l0.4 3.5M51.6 171.5l1.1 -3.4l1.4 -3.3l1.3 -3.4l1.6 -3.2l2.2 -2.9l2.3 -2.8l2.3 -2.7l2.0 -3.0l1.1 -3.4l0.0 -3.6l-0.4 -3.6l-0.1 -3.6l-0.4 -3.6l-0.4 -3.6l-0.6 -3.5l-1.0 -3.5M121.5 190.6l-0.3 -3.6l-1.0 -3.4l-1.3 -3.4l-0.7 -3.5M83.4 214.1l-2.9 -2.2l-2.5 -2.6l-1.9 -3.1l-0.8 -3.5l-0.3 -3.6l0.1 -3.6l0.3 -3.6l0.4 -3.6M93.5 38.1l2.5 2.6l2.1 2.9l1.6 3.2l1.4 3.4l1.0 3.4l0.8 3.5l1.1 3.5l1.1 3.4l1.3 3.3l1.0 3.5l1.2 3.4l1.2 3.4l1.4 3.3l1.6 3.2l1.6 3.3l1.5 3.2M71.8 77.7l2.8 -2.3l3.0 -2.0l2.9 -2.0l3.0 -2.1l2.9 -2.0l3.2 -1.7l3.3 -1.4l3.2 -1.7M143.3 183.5l-2.0 -3.0l-2.5 -2.6l-2.8 -2.1l-3.2 -1.8l-3.4 -1.1l-3.5 -0.8l-3.5 -1.0l-3.4 -0.9l-3.5 -1.0l-3.1 -1.8l-3.1 -1.9l-2.8 -2.2l-3.0 -2.0l-3.1 -1.8l-3.3 -1.5l-3.2 -1.7M158.3 145.7l-2.0 3.0l-1.3 3.3l-0.4 3.6l0.4 3.6l0.9 3.5l1.3 3.3l2.3 2.8l2.7 2.4l2.6 2.5l2.8 2.2l3.3 1.5l3.5 0.9M23.5 153.3l3.3 -1.5l3.3 -1.3l3.5 -1.0l3.5 -0.7l3.5 -0.8l3.6 -0.5l3.6 -0.3l3.5 -0.5l3.5 -0.8l3.5 -1.0l3.2 -1.7l2.9 -2.1l2.2 -2.8l1.6 -3.2M77.4 67.6l0.5 -3.6l0.3 -3.6l-0.2 -3.6l-0.1 -3.6M108.5 140.8l-3.1 1.8l-3.0 2.1l-2.9 2.1l-3.1 1.7l-3.3 1.6l-3.3 1.3l-3.3 1.4l-3.1 2.0M114.0 140.9l3.1 -1.9l2.8 -2.3l2.5 -2.5l2.7 -2.4l2.4 -2.7l2.2 -2.8l2.0 -3.1l1.6 -3.2l0.9 -3.5l0.7 -3.5l0.3 -3.6l0.9 -3.5l1.5 -3.3l1.9 -3.0l2.4 -2.6l2.6 -2.5M201.8 152.6l1.2 -3.4l1.3 -3.3l-1.7 -3.2l-1.5 -3.3l-1.3 -3.3l-1.0 -3.5l-1.4 -3.3l-1.9 -3.0l-2.4 -2.8l-2.4 -2.7l-2.5 -2.5l-2.6 -2.5l-3.0 -2.1l-3.2 -1.6M40.9 111.6l0.1 -3.6l-0.3 -3.6l-0.9 -3.5l-0.8 -3.5l-0.7 -3.5l-1.0 -3.5l-1.3 -3.3l-2.2 -2.9l-2.4 -2.7l1.2 -3.4l3.2 -1.6l3.2 -1.6l3.4 -1.2l3.4 -1.2M49.6 127.0l-1.8 -3.2l-1.6 -3.2l-2.1 -2.9l-2.9 -2.2l-3.1 -1.9l-3.2 -1.4l-3.1 -1.9l-2.8 -2.3l-2.1 -2.9l-2.0 -3.0l-1.7 -3.2l1.9 -3.0M119.8 154.9l-0.3 -3.6l-0.7 -3.5l-1.1 -3.4l-1.2 -3.4l-1.1 -3.5l-0.8 -3.5l-0.7 -3.5l-0.7 -3.5l-0.2 -3.6l0.7 -3.6l0.7 -3.5l0.7 -3.5l1.0 -3.5l1.5 -3.3M60.9 71.8l3.2 1.7l3.0 2.0l3.0 2.0l3.1 1.7l3.5 1.1l3.6 0.0M71.6 69.3l-0.2 3.6l0.4 3.6l0.8 3.5l1.2 3.4l1.5 3.2l2.1 2.9l2.0 3.0l2.4 2.7l2.4 2.7l2.6 2.5M147.6 92.3l-1.3 -3.3l-1.7 -3.2l-1.5 -3.2l-1.3 -3.4l-1.3 -3.4l-1.9 -3.0l-2.4 -2.7l-2.9 -2.1l-3.3 -1.5l-3.3 -1.3M73.7 101.5l3.6 0.5l3.6 0.0l3.6 -0.1l3.6 -0.4l3.6 -0.4l3.5 -0.7l3.5 -0.7l3.5 -1.0l3.2 -1.6l3.0 -1.9M95.8 224.4l3.6 -0.2l1.4 -3.3l1.1 -3.5l1.1 -3.4l0.3 -3.6l0.5 -3.6l0.4 -3.5l0.5 -3.6M92.0 142.2l-2.7 2.4l-2.9 2.0l-3.2 1.8l-3.3 1.3l-3.4 1.2l-3.6 0.3l-3.6 -0.2l-3.6 -0.7l-3.5 -0.8l-3.5 -0.8l-3.5 -0.8l-3.3 -1.4l-2.9 -2.1l-2.7 -2.4M151.8 81.5l-3.4 1.1l-3.5 1.0l-3.4 1.1l-3.6 0.6l-3.6 0.2l-3.5 0.5l-3.6 0.2l-3.6 0.0l-3.6 -0.4l-3.6 -0.6M65.7 139.9l-3.6 -0.5l-3.6 -0.2l-3.6 0.2l-3.5 0.9l-3.2 1.5l-2.8 2.4l-2.5 2.5l-2.4 2.7l-1.9 3.1l-1.5 3.2l-1.4 3.4l-1.5 3.2M123.4 133.9l-2.1 2.9l-1.6 3.2l-1.2 3.4l-1.1 3.4l-1.1 3.5l0.0 3.6l0.6 3.5l1.1 3.4M120.6 45.7l-3.6 0.5l-3.4 1.0l-3.2 1.7l-3.2 1.7l-2.9 2.0l-3.0 2.1l-2.6 2.4l-2.1 3.0l-2.0 3.0l-1.0 3.4l-1.0 3.5l-2.0 3.0M110.5 41.6l3.6 0.6l3.5 0.8l3.4 1.0l3.4 1.3l3.0 2.0l2.8 2.2l3.0 2.1l3.0 2.0M81.6 115.0l1.7 3.2l2.3 2.8l2.4 2.7l2.5 2.6l3.0 2.0l2.9 2.1M107.7 84.8l-2.2 2.9l-2.7 2.4l-2.8 2.3l-3.2 1.6l-3.5 0.7l-3.6 0.2l-3.6 -0.5l-3.6 -0.3l-3.6 -0.1l-3.6 -0.1l-3.5 -0.7l-3.5 -1.0l-3.2 -1.4l-3.0 -2.1M48.4 195.3l-3.4 -1.3l-3.3 -1.5l-3.2 -1.5l-1.4 -3.3l2.7 -2.4l2.7 -2.4l2.3 -2.8l1.7 -3.2l1.3 -3.4l0.5 -3.5l-0.4 -3.6l-0.6 -3.6M139.8 64.7l-1.5 -3.3l-1.6 -3.2l-2.0 -3.0l-2.2 -2.9l-1.9 -3.0l-1.8 -3.1M154.6 188.2l-2.4 -2.7l-2.4 -2.7l-2.4 -2.7l-2.6 -2.5l-2.2 -2.8l-2.3 -2.8l-2.4 -2.7l-2.3 -2.8l-2.1 -2.9l-1.9 -3.1l-1.9 -3.0l-2.4 -2.8l-2.6 -2.4l-3.1 -1.9M121.7 109.6l1.4 -3.3l1.4 -3.3l1.7 -3.2l1.8 -3.1M60.9 122.4l-3.1 1.8l-3.3 1.4l-3.0 1.9l-3.1 1.9l-2.8 2.3l-2.9 2.1l-2.9 2.1l-2.8 2.3M190.2 176.9l-1.5 -3.3l-1.3 -3.3l-1.1 -3.4l-1.7 -3.3l-1.9 -3.0l-2.1 -2.9l-2.3 -2.8l-2.5 -2.6l-2.9 -2.2l-2.9 -2.0l-3.0 -2.0l-3.2 -1.7M21.7 146.3l-1.0 -3.4l-1.7 -3.2l0.7 -3.5l0.3 -3.6l3.4 -1.1l3.5 -0.9l3.4 -1.1l3.4 -1.3l3.2 -1.5l3.0 -2.0l3.0 -2.0l3.4 -1.2l3.6 -0.5l3.6 -0.4l3.6 -0.1l3.6 -0.3M160.6 119.5l3.2 1.6l3.4 1.2l3.6 0.6l3.5 0.3l3.6 -0.3l3.6 0.1l3.6 0.6l3.6 0.2l3.5 -0.6l3.6 -0.6M181.1 84.0l2.1 3.0l2.0 3.0l1.9 3.1l1.6 3.2l1.0 3.4l0.4 3.6l0.0 3.6l0.4 3.6l0.8 3.5l0.9 3.5l1.6 3.2l1.9 3.0M115.3 58.6l-1.4 -3.3l-1.7 -3.2l-1.6 -3.2l-1.4 -3.3M79.3 68.7l0.0 -3.6l0.3 -3.6l0.7 -3.5l1.3 -3.4l2.1 -2.9l2.5 -2.6l2.4 -2.7l2.4 -2.7l2.3 -2.8l1.9 -3.0M119.7 120.1l1.7 -3.1l0.9 -3.5l0.6 -3.6l0.5 -3.5l0.3 -3.6l0.8 -3.5l0.8 -3.5l1.2 -3.5l0.5 -3.5l0.0 -3.6l0.1 -3.6l0.3 -3.6l0.6 -3.6l0.9 -3.4l1.1 -3.5l1.2 -3.4M161.6 199.3l-1.1 -3.4l-1.7 -3.2l-2.5 -2.6l-2.9 -2.1l-3.1 -1.9l-3.1 -1.8l-2.8 -2.2l-2.8 -2.4M112.2 184.8l-0.1 -3.6l0.1 -3.6l0.2 -3.6l0.4 -3.5l0.3 -3.6l-0.5 -3.6l-0.8 -3.5l-1.3 -3.3l-1.7 -3.2l-2.1 -2.9l-2.7 -2.5l-3.0 -2.0l-2.9 -2.0l-3.0 -2.1M111.7 183.3l-3.1 1.8l-2.8 2.3l-2.5 2.5l-2.2 2.9l-1.9 3.1l-2.1 2.9l-2.9 2.1l-3.2 1.6M153.0 172.2l-3.2 -1.7l-3.2 -1.6l-3.2 -1.6l-3.1 -1.8l-3.0 -2.0l-3.0 -2.1l-2.8 -2.3l-3.0 -1.8l-3.5 -1.0l-3.6 0.0l-3.5 0.7l-3.1 1.8M79.9 185.1l3.4 1.1l3.1 1.8l2.7 2.4l2.4 2.7l2.2 2.8l2.4 2.7l2.5 2.6l3.0 2.0l3.3 1.4l3.6 0.4l3.6 -0.1l3.6 -0.2l3.5 -0.6l3.5 -0.9M36.4 109.8l3.2 -1.7l3.4 -1.3l3.6 -0.3l3.6 -0.2l3.6 0.0l3.5 0.3l3.6 0.6l3.6 0.6l3.5 0.4l3.6 0.2l3.6 0.3l3.6 -0.2M126.7 80.6l-1.0 3.5l-0.5 3.5l0.1 3.6l0.6 3.6l0.8 3.5l0.6 3.5l0.4 3.6l0.7 3.6l0.8 3.5l1.4 3.3l1.5 3.3l1.3 3.3l1.1 3.4l1.5 3.3l1.4 3.3l1.4 3.3M141.2 214.0l-2.6 -2.6l-2.5 -2.5l-2.6 -2.5l-2.6 -2.5l-2.5 -2.6l-2.2 -2.8l-2.2 -2.9l-2.0 -3.0l-1.9 -3.1l-1.6 -3.2M172.9 157.1l-3.6 -0.1l-3.6 0.4l-3.6 0.4l-3.6 0.3l-3.6 0.0l-3.6 -0.2l-3.6 0.1l-3.5 0.7l-3.4 1.2l-3.3 1.5l-3.1 1.8l-2.9 2.1M26.2 159.3l2.6 2.5l2.8 2.3l2.6 2.5l2.6 2.4l2.3 2.9l2.0 2.9M49.0 183.0l3.5 -1.0l3.4 -1.2l3.4 -1.2l3.3 -1.4l3.2 -1.7l3.3 -1.5l3.2 -1.5l3.1 -1.8M198.2 112.8l-3.6 -0.6l-3.5 -0.4l-3.6 -0.7l-3.6 -0.3l-3.6 0.4l-3.4 1.0l-3.3 1.5l-2.9 2.1l-2.8 2.2l-3.0 2.0l-3.1 1.9l-3.1 1.8l-3.1 1.9l-3.1 1.8M184.2 84.7l-3.1 1.8l-3.1 2.0l-2.9 2.0l-3.1 1.8l-3.4 1.1l-3.6 0.7M164.0 59.6l3.4 1.1l2.9 2.2l2.3 2.8l2.0 2.9l1.3 3.4l0.5 3.6l0.3 3.6l0.6 3.5l0.6 3.6l0.7 3.5l0.9 3.5l1.0 3.4l1.5 3.3l1.6 3.3M160.5 126.1l0.3 -3.6l-0.1 -3.6l0.0 -3.6l0.2 -3.6l0.2 -3.6l0.1 -3.6l0.0 -3.6l-0.1 -3.6M18.7 141.6l3.5 0.5l3.4 1.3l3.0 2.0l2.7 2.3l2.6 2.6l2.8 2.2l3.1 1.9l3.0 2.0M59.7 183.0l3.5 1.0l3.5 0.9l3.4 1.0l3.4 1.1l3.4 1.2l3.6 0.7l3.5 0.4l3.6 0.2l3.6 0.3l3.5 0.8l3.2 1.7l2.5 2.6l1.7 3.2l1.2 3.4M93.3 90.1l2.9 2.1l2.9 2.1l3.2 1.7l3.4 1.2l3.3 1.5l3.3 1.5l3.2 1.6l3.0 2.0M100.9 116.9l-0.6 -3.6l-1.0 -3.4l-1.0 -3.5l-1.6 -3.2l-1.8 -3.1l-2.4 -2.7l-3.0 -1.9l-3.2 -1.7l-3.5 -0.9l-3.6 0.2M165.8 149.2l2.1 2.9l1.5 3.3l0.9 3.5l0.2 3.6l-0.1 3.6l-0.7 3.5l-1.2 3.4l-1.8 3.2l-2.2 2.8l-1.8 3.1l-1.4 3.3l-1.3 3.4l-0.9 3.5l-0.9 3.4l-1.1 3.5l-1.2 3.4M185.1 164.4l1.1 -3.5l1.5 -3.3l0.9 -3.4l0.5 -3.6l-0.1 -3.6l-0.9 -3.5l-0.8 -3.5l-0.9 -3.5l-0.7 -3.5l-0.8 -3.5M133.8 101.9l2.9 2.2l3.1 1.8l2.9 2.2l2.8 2.1l2.8 2.3l2.8 2.3l3.0 2.1l3.2 1.5l3.4 1.2l3.6 0.5l3.6 0.1l3.6 -0.2l3.5 -0.5l3.5 -0.8l3.5 -0.8l3.5 -1.0M194.2 128.5l-1.2 3.4l-1.2 3.4l-1.6 3.3l-1.7 3.1l-2.4 2.7l-2.7 2.4l-3.1 1.8l-3.5 0.8l-3.6 0.3l-3.5 1.1l-3.3 1.4l-3.1 1.7l-3.1 1.8l-3.1 1.9l-2.8 2.2l-2.6 2.5M171.9 170.3l1.5 3.3l1.3 3.3l0.7 3.6l0.3 3.5l0.2 3.6l0.2 3.6l-0.5 3.6l0.1 3.6l-2.7 2.4l-1.8 3.1M153.7 63.7l-1.8 3.1l-1.9 3.0l-1.6 3.3l-2.1 2.9l-1.9 3.1l-1.7 3.1l-2.0 3.1l-1.7 3.1M164.6 135.1l-1.7 3.2l-2.1 2.9l-2.5 2.6l-2.6 2.5l-2.5 2.6l-2.6 2.5M46.5 195.5l-0.7 -3.6l0.2 -3.5l0.4 -3.6l1.1 -3.5l1.4 -3.2l1.6 -3.3l1.9 -3.1l2.0 -3.0l2.2 -2.8l2.5 -2.5l2.7 -2.5l2.6 -2.4l2.3 -2.8l1.9 -3.0l1.9 -3.1l1.7 -3.2M71.5 169.3l3.5 -0.8l3.3 -1.4l3.4 -1.2l3.5 -1.2l3.4 -1.0l3.4 -1.1l3.6 -0.6l3.6 -0.3M93.3 208.9l3.0 -2.0l3.1 -1.9l3.3 -1.4l3.5 -0.9l3.5 -0.5l3.6 -0.3l3.6 -0.3l3.6 -0.6l3.5 -0.8l3.3 -1.3l3.0 -2.0l2.8 -2.3M89.0 200.1l1.6 -3.2l1.5 -3.3l1.2 -3.4l1.4 -3.3l1.2 -3.4l1.1 -3.4l1.0 -3.5l1.1 -3.4l0.6 -3.5l-0.3 -3.6l-1.2 -3.4l-1.8 -3.1M131.5 161.8l0.6 -3.5l0.4 -3.6l-0.3 -3.6l-0.5 -3.6l-0.1 -3.6l0.1 -3.6l-0.2 -3.6l-0.5 -3.5l-0.5 -3.6l-1.1 -3.4M58.1 208.7l-2.4 -2.6l2.1 -3.0l2.6 -2.4l3.0 -2.0l3.3 -1.4l3.4 -1.3l3.2 -1.6l3.0 -2.0l2.9 -2.1l3.0 -2.1l2.7 -2.4l2.0 -3.0M49.2 122.2l-0.2 3.6l-0.7 3.5l-1.2 3.4l-1.9 3.1l-2.1 2.9l-2.4 2.7l-2.1 2.9l-2.0 3.0l-1.7 3.2l-1.3 3.3M187.6 184.5l2.6 -2.5l3.0 -2.1l0.9 -3.4l-2.8 -2.3l-3.1 -1.8l-3.4 -1.2l-3.5 -0.9l-3.4 -0.9l-3.5 -1.1l-3.4 -1.1l-3.4 -1.1l-3.4 -1.2l-3.4 -1.3l-3.2 -1.5M177.5 197.7l-2.4 2.7l-2.5 2.5l-2.4 2.7l-3.6 -0.2l-3.6 -0.2l-3.6 0.2l-3.6 -0.1l-3.6 0.0l-3.6 -0.2l-3.6 -0.6l-3.3 -1.2l-3.4 -1.4l-2.9 -2.1l-2.5 -2.6l-2.0 -3.0l-1.0 -3.4M54.4 71.9l-1.2 3.3l-0.8 3.6l0.0 3.6l0.4 3.6l0.7 3.5l1.1 3.4l1.2 3.4l0.7 3.5l-0.1 3.6l-0.2 3.6l-0.1 3.6l0.1 3.6M83.7 110.9l-1.7 3.2l-2.1 2.9l-2.4 2.7l-2.6 2.4l-2.7 2.4l-2.9 2.2l-3.1 1.9l-3.3 1.3l-3.4 1.1l-3.5 0.8M172.7 116.9l-0.6 3.6l-1.2 3.3l-1.8 3.2l-2.3 2.7l-2.5 2.6l-2.8 2.3l-3.0 2.0l-3.3 1.5l-3.3 1.3l-3.4 1.2l-3.5 0.8l-3.6 0.6M144.0 198.0l-2.8 -2.4l-2.8 -2.2l-2.9 -2.1l-3.3 -1.6l-3.2 -1.5l-3.2 -1.7l-2.9 -2.1l-3.0 -2.1l-2.5 -2.5l-1.4 -3.3M105.2 222.5l-3.4 1.1l-3.5 0.6l-3.6 -0.1l-3.6 -0.5l-3.4 -1.1l-0.1 -3.6l0.3 -3.6l0.9 -3.5l1.2 -3.4l0.8 -3.5l0.4 -3.5l0.5 -3.6l0.6 -3.6l1.0 -3.4l1.4 -3.3l1.4 -3.4M154.0 125.3l3.6 -0.2l3.6 0.1l3.6 0.5l3.5 0.6l3.5 0.8l3.5 1.0l3.5 1.0l3.4 1.1l3.5 0.8l3.6 0.4l3.6 0.2l3.5 0.6l3.5 0.8l3.6 0.7M114.5 111.1l-1.2 3.5l-1.3 3.3l-1.5 3.3l-1.5 3.3l-1.5 3.2l-0.9 3.5l-0.1 3.6l0.6 3.5l1.0 3.5l1.3 3.4M88.8 168.7l2.4 -2.7l1.8 -3.1l1.1 -3.4l0.3 -3.6l-0.3 -3.6l-0.9 -3.5l-1.3 -3.3l-1.3 -3.4M93.7 117.4l-1.8 -3.1l-2.3 -2.8l-2.7 -2.4l-3.0 -2.0l-3.2 -1.6l-3.3 -1.4l-3.4 -1.2l-3.3 -1.4l-3.2 -1.7l-2.6 -2.4l-2.3 -2.8l-2.0 -3.0l-2.0 -3.0l-2.3 -2.8l-2.5 -2.6l-2.4 -2.6l-2.7 -2.5l-2.6 -2.4" stroke="#c21ec2" stroke-width="2.3" stroke-linecap="round" stroke-linejoin="round" fill="none"/><path d="M131.3 80.4l3.3 1.4l3.5 1.1l3.4 1.0l3.6 0.5l3.6 -0.2l3.6 0.6l3.5 0.8l3.5 0.8l3.5 0.8l3.5 0.7M116.2 147.4l-0.4 -3.6l-1.2 -3.4l-1.8 -3.1l-2.6 -2.5l-3.2 -1.7l-3.3 -1.3l-3.1 -1.8l-3.2 -1.7l-3.1 -1.9l-3.1 -1.8M105.8 121.7l-1.5 3.3l-2.2 2.8l-2.6 2.5l-2.8 2.3l-3.0 2.0l-3.1 1.7l-3.3 1.5l-3.5 0.7l-3.6 0.3l-3.6 -0.2l-3.6 -0.6l-3.4 -1.1M121.4 62.2l0.5 3.6l0.2 3.6l-0.2 3.6l-0.2 3.6l0.3 3.6l0.4 3.5M51.6 171.5l1.1 -3.4l1.4 -3.3l1.3 -3.4l1.6 -3.2l2.2 -2.9l2.3 -2.8l2.3 -2.7l2.0 -3.0l1.1 -3.4l0.0 -3.6l-0.4 -3.6l-0.1 -3.6l-0.4 -3.6l-0.4 -3.6l-0.6 -3.5l-1.0 -3.5M121.5 190.6l-0.3 -3.6l-1.0 -3.4l-1.3 -3.4l-0.7 -3.5M83.4 214.1l-2.9 -2.2l-2.5 -2.6l-1.9 -3.1l-0.8 -3.5l-0.3 -3.6l0.1 -3.6l0.3 -3.6l0.4 -3.6M93.5 38.1l2.5 2.6l2.1 2.9l1.6 3.2l1.4 3.4l1.0 3.4l0.8 3.5l1.1 3.5l1.1 3.4l1.3 3.3l1.0 3.5l1.2 3.4l1.2 3.4l1.4 3.3l1.6 3.2l1.6 3.3l1.5 3.2M71.8 77.7l2.8 -2.3l3.0 -2.0l2.9 -2.0l3.0 -2.1l2.9 -2.0l3.2 -1.7l3.3 -1.4l3.2 -1.7M143.3 183.5l-2.0 -3.0l-2.5 -2.6l-2.8 -2.1l-3.2 -1.8l-3.4 -1.1l-3.5 -0.8l-3.5 -1.0l-3.4 -0.9l-3.5 -1.0l-3.1 -1.8l-3.1 -1.9l-2.8 -2.2l-3.0 -2.0l-3.1 -1.8l-3.3 -1.5l-3.2 -1.7M158.3 145.7l-2.0 3.0l-1.3 3.3l-0.4 3.6l0.4 3.6l0.9 3.5l1.3 3.3l2.3 2.8l2.7 2.4l2.6 2.5l2.8 2.2l3.3 1.5l3.5 0.9M23.5 153.3l3.3 -1.5l3.3 -1.3l3.5 -1.0l3.5 -0.7l3.5 -0.8l3.6 -0.5l3.6 -0.3l3.5 -0.5l3.5 -0.8l3.5 -1.0l3.2 -1.7l2.9 -2.1l2.2 -2.8l1.6 -3.2M77.4 67.6l0.5 -3.6l0.3 -3.6l-0.2 -3.6l-0.1 -3.6M108.5 140.8l-3.1 1.8l-3.0 2.1l-2.9 2.1l-3.1 1.7l-3.3 1.6l-3.3 1.3l-3.3 1.4l-3.1 2.0M114.0 140.9l3.1 -1.9l2.8 -2.3l2.5 -2.5l2.7 -2.4l2.4 -2.7l2.2 -2.8l2.0 -3.1l1.6 -3.2l0.9 -3.5l0.7 -3.5l0.3 -3.6l0.9 -3.5l1.5 -3.3l1.9 -3.0l2.4 -2.6l2.6 -2.5M201.8 152.6l1.2 -3.4l1.3 -3.3l-1.7 -3.2l-1.5 -3.3l-1.3 -3.3l-1.0 -3.5l-1.4 -3.3l-1.9 -3.0l-2.4 -2.8l-2.4 -2.7l-2.5 -2.5l-2.6 -2.5l-3.0 -2.1l-3.2 -1.6M40.9 111.6l0.1 -3.6l-0.3 -3.6l-0.9 -3.5l-0.8 -3.5l-0.7 -3.5l-1.0 -3.5l-1.3 -3.3l-2.2 -2.9l-2.4 -2.7l1.2 -3.4l3.2 -1.6l3.2 -1.6l3.4 -1.2l3.4 -1.2M49.6 127.0l-1.8 -3.2l-1.6 -3.2l-2.1 -2.9l-2.9 -2.2l-3.1 -1.9l-3.2 -1.4l-3.1 -1.9l-2.8 -2.3l-2.1 -2.9l-2.0 -3.0l-1.7 -3.2l1.9 -3.0M119.8 154.9l-0.3 -3.6l-0.7 -3.5l-1.1 -3.4l-1.2 -3.4l-1.1 -3.5l-0.8 -3.5l-0.7 -3.5l-0.7 -3.5l-0.2 -3.6l0.7 -3.6l0.7 -3.5l0.7 -3.5l1.0 -3.5l1.5 -3.3M60.9 71.8l3.2 1.7l3.0 2.0l3.0 2.0l3.1 1.7l3.5 1.1l3.6 0.0M71.6 69.3l-0.2 3.6l0.4 3.6l0.8 3.5l1.2 3.4l1.5 3.2l2.1 2.9l2.0 3.0l2.4 2.7l2.4 2.7l2.6 2.5M147.6 92.3l-1.3 -3.3l-1.7 -3.2l-1.5 -3.2l-1.3 -3.4l-1.3 -3.4l-1.9 -3.0l-2.4 -2.7l-2.9 -2.1l-3.3 -1.5l-3.3 -1.3M73.7 101.5l3.6 0.5l3.6 0.0l3.6 -0.1l3.6 -0.4l3.6 -0.4l3.5 -0.7l3.5 -0.7l3.5 -1.0l3.2 -1.6l3.0 -1.9M95.8 224.4l3.6 -0.2l1.4 -3.3l1.1 -3.5l1.1 -3.4l0.3 -3.6l0.5 -3.6l0.4 -3.5l0.5 -3.6M92.0 142.2l-2.7 2.4l-2.9 2.0l-3.2 1.8l-3.3 1.3l-3.4 1.2l-3.6 0.3l-3.6 -0.2l-3.6 -0.7l-3.5 -0.8l-3.5 -0.8l-3.5 -0.8l-3.3 -1.4l-2.9 -2.1l-2.7 -2.4M151.8 81.5l-3.4 1.1l-3.5 1.0l-3.4 1.1l-3.6 0.6l-3.6 0.2l-3.5 0.5l-3.6 0.2l-3.6 0.0l-3.6 -0.4l-3.6 -0.6M65.7 139.9l-3.6 -0.5l-3.6 -0.2l-3.6 0.2l-3.5 0.9l-3.2 1.5l-2.8 2.4l-2.5 2.5l-2.4 2.7l-1.9 3.1l-1.5 3.2l-1.4 3.4l-1.5 3.2M123.4 133.9l-2.1 2.9l-1.6 3.2l-1.2 3.4l-1.1 3.4l-1.1 3.5l0.0 3.6l0.6 3.5l1.1 3.4M120.6 45.7l-3.6 0.5l-3.4 1.0l-3.2 1.7l-3.2 1.7l-2.9 2.0l-3.0 2.1l-2.6 2.4l-2.1 3.0l-2.0 3.0l-1.0 3.4l-1.0 3.5l-2.0 3.0M110.5 41.6l3.6 0.6l3.5 0.8l3.4 1.0l3.4 1.3l3.0 2.0l2.8 2.2l3.0 2.1l3.0 2.0M81.6 115.0l1.7 3.2l2.3 2.8l2.4 2.7l2.5 2.6l3.0 2.0l2.9 2.1M107.7 84.8l-2.2 2.9l-2.7 2.4l-2.8 2.3l-3.2 1.6l-3.5 0.7l-3.6 0.2l-3.6 -0.5l-3.6 -0.3l-3.6 -0.1l-3.6 -0.1l-3.5 -0.7l-3.5 -1.0l-3.2 -1.4l-3.0 -2.1M48.4 195.3l-3.4 -1.3l-3.3 -1.5l-3.2 -1.5l-1.4 -3.3l2.7 -2.4l2.7 -2.4l2.3 -2.8l1.7 -3.2l1.3 -3.4l0.5 -3.5l-0.4 -3.6l-0.6 -3.6M139.8 64.7l-1.5 -3.3l-1.6 -3.2l-2.0 -3.0l-2.2 -2.9l-1.9 -3.0l-1.8 -3.1M154.6 188.2l-2.4 -2.7l-2.4 -2.7l-2.4 -2.7l-2.6 -2.5l-2.2 -2.8l-2.3 -2.8l-2.4 -2.7l-2.3 -2.8l-2.1 -2.9l-1.9 -3.1l-1.9 -3.0l-2.4 -2.8l-2.6 -2.4l-3.1 -1.9M121.7 109.6l1.4 -3.3l1.4 -3.3l1.7 -3.2l1.8 -3.1M60.9 122.4l-3.1 1.8l-3.3 1.4l-3.0 1.9l-3.1 1.9l-2.8 2.3l-2.9 2.1l-2.9 2.1l-2.8 2.3M190.2 176.9l-1.5 -3.3l-1.3 -3.3l-1.1 -3.4l-1.7 -3.3l-1.9 -3.0l-2.1 -2.9l-2.3 -2.8l-2.5 -2.6l-2.9 -2.2l-2.9 -2.0l-3.0 -2.0l-3.2 -1.7M21.7 146.3l-1.0 -3.4l-1.7 -3.2l0.7 -3.5l0.3 -3.6l3.4 -1.1l3.5 -0.9l3.4 -1.1l3.4 -1.3l3.2 -1.5l3.0 -2.0l3.0 -2.0l3.4 -1.2l3.6 -0.5l3.6 -0.4l3.6 -0.1l3.6 -0.3M160.6 119.5l3.2 1.6l3.4 1.2l3.6 0.6l3.5 0.3l3.6 -0.3l3.6 0.1l3.6 0.6l3.6 0.2l3.5 -0.6l3.6 -0.6M181.1 84.0l2.1 3.0l2.0 3.0l1.9 3.1l1.6 3.2l1.0 3.4l0.4 3.6l0.0 3.6l0.4 3.6l0.8 3.5l0.9 3.5l1.6 3.2l1.9 3.0M115.3 58.6l-1.4 -3.3l-1.7 -3.2l-1.6 -3.2l-1.4 -3.3M79.3 68.7l0.0 -3.6l0.3 -3.6l0.7 -3.5l1.3 -3.4l2.1 -2.9l2.5 -2.6l2.4 -2.7l2.4 -2.7l2.3 -2.8l1.9 -3.0M119.7 120.1l1.7 -3.1l0.9 -3.5l0.6 -3.6l0.5 -3.5l0.3 -3.6l0.8 -3.5l0.8 -3.5l1.2 -3.5l0.5 -3.5l0.0 -3.6l0.1 -3.6l0.3 -3.6l0.6 -3.6l0.9 -3.4l1.1 -3.5l1.2 -3.4M161.6 199.3l-1.1 -3.4l-1.7 -3.2l-2.5 -2.6l-2.9 -2.1l-3.1 -1.9l-3.1 -1.8l-2.8 -2.2l-2.8 -2.4M112.2 184.8l-0.1 -3.6l0.1 -3.6l0.2 -3.6l0.4 -3.5l0.3 -3.6l-0.5 -3.6l-0.8 -3.5l-1.3 -3.3l-1.7 -3.2l-2.1 -2.9l-2.7 -2.5l-3.0 -2.0l-2.9 -2.0l-3.0 -2.1M111.7 183.3l-3.1 1.8l-2.8 2.3l-2.5 2.5l-2.2 2.9l-1.9 3.1l-2.1 2.9l-2.9 2.1l-3.2 1.6M153.0 172.2l-3.2 -1.7l-3.2 -1.6l-3.2 -1.6l-3.1 -1.8l-3.0 -2.0l-3.0 -2.1l-2.8 -2.3l-3.0 -1.8l-3.5 -1.0l-3.6 0.0l-3.5 0.7l-3.1 1.8M79.9 185.1l3.4 1.1l3.1 1.8l2.7 2.4l2.4 2.7l2.2 2.8l2.4 2.7l2.5 2.6l3.0 2.0l3.3 1.4l3.6 0.4l3.6 -0.1l3.6 -0.2l3.5 -0.6l3.5 -0.9M36.4 109.8l3.2 -1.7l3.4 -1.3l3.6 -0.3l3.6 -0.2l3.6 0.0l3.5 0.3l3.6 0.6l3.6 0.6l3.5 0.4l3.6 0.2l3.6 0.3l3.6 -0.2M126.7 80.6l-1.0 3.5l-0.5 3.5l0.1 3.6l0.6 3.6l0.8 3.5l0.6 3.5l0.4 3.6l0.7 3.6l0.8 3.5l1.4 3.3l1.5 3.3l1.3 3.3l1.1 3.4l1.5 3.3l1.4 3.3l1.4 3.3M141.2 214.0l-2.6 -2.6l-2.5 -2.5l-2.6 -2.5l-2.6 -2.5l-2.5 -2.6l-2.2 -2.8l-2.2 -2.9l-2.0 -3.0l-1.9 -3.1l-1.6 -3.2M172.9 157.1l-3.6 -0.1l-3.6 0.4l-3.6 0.4l-3.6 0.3l-3.6 0.0l-3.6 -0.2l-3.6 0.1l-3.5 0.7l-3.4 1.2l-3.3 1.5l-3.1 1.8l-2.9 2.1M26.2 159.3l2.6 2.5l2.8 2.3l2.6 2.5l2.6 2.4l2.3 2.9l2.0 2.9M49.0 183.0l3.5 -1.0l3.4 -1.2l3.4 -1.2l3.3 -1.4l3.2 -1.7l3.3 -1.5l3.2 -1.5l3.1 -1.8M198.2 112.8l-3.6 -0.6l-3.5 -0.4l-3.6 -0.7l-3.6 -0.3l-3.6 0.4l-3.4 1.0l-3.3 1.5l-2.9 2.1l-2.8 2.2l-3.0 2.0l-3.1 1.9l-3.1 1.8l-3.1 1.9l-3.1 1.8M184.2 84.7l-3.1 1.8l-3.1 2.0l-2.9 2.0l-3.1 1.8l-3.4 1.1l-3.6 0.7M164.0 59.6l3.4 1.1l2.9 2.2l2.3 2.8l2.0 2.9l1.3 3.4l0.5 3.6l0.3 3.6l0.6 3.5l0.6 3.6l0.7 3.5l0.9 3.5l1.0 3.4l1.5 3.3l1.6 3.3M160.5 126.1l0.3 -3.6l-0.1 -3.6l0.0 -3.6l0.2 -3.6l0.2 -3.6l0.1 -3.6l0.0 -3.6l-0.1 -3.6M18.7 141.6l3.5 0.5l3.4 1.3l3.0 2.0l2.7 2.3l2.6 2.6l2.8 2.2l3.1 1.9l3.0 2.0M59.7 183.0l3.5 1.0l3.5 0.9l3.4 1.0l3.4 1.1l3.4 1.2l3.6 0.7l3.5 0.4l3.6 0.2l3.6 0.3l3.5 0.8l3.2 1.7l2.5 2.6l1.7 3.2l1.2 3.4M93.3 90.1l2.9 2.1l2.9 2.1l3.2 1.7l3.4 1.2l3.3 1.5l3.3 1.5l3.2 1.6l3.0 2.0M100.9 116.9l-0.6 -3.6l-1.0 -3.4l-1.0 -3.5l-1.6 -3.2l-1.8 -3.1l-2.4 -2.7l-3.0 -1.9l-3.2 -1.7l-3.5 -0.9l-3.6 0.2M165.8 149.2l2.1 2.9l1.5 3.3l0.9 3.5l0.2 3.6l-0.1 3.6l-0.7 3.5l-1.2 3.4l-1.8 3.2l-2.2 2.8l-1.8 3.1l-1.4 3.3l-1.3 3.4l-0.9 3.5l-0.9 3.4l-1.1 3.5l-1.2 3.4M185.1 164.4l1.1 -3.5l1.5 -3.3l0.9 -3.4l0.5 -3.6l-0.1 -3.6l-0.9 -3.5l-0.8 -3.5l-0.9 -3.5l-0.7 -3.5l-0.8 -3.5M133.8 101.9l2.9 2.2l3.1 1.8l2.9 2.2l2.8 2.1l2.8 2.3l2.8 2.3l3.0 2.1l3.2 1.5l3.4 1.2l3.6 0.5l3.6 0.1l3.6 -0.2l3.5 -0.5l3.5 -0.8l3.5 -0.8l3.5 -1.0M194.2 128.5l-1.2 3.4l-1.2 3.4l-1.6 3.3l-1.7 3.1l-2.4 2.7l-2.7 2.4l-3.1 1.8l-3.5 0.8l-3.6 0.3l-3.5 1.1l-3.3 1.4l-3.1 1.7l-3.1 1.8l-3.1 1.9l-2.8 2.2l-2.6 2.5M171.9 170.3l1.5 3.3l1.3 3.3l0.7 3.6l0.3 3.5l0.2 3.6l0.2 3.6l-0.5 3.6l0.1 3.6l-2.7 2.4l-1.8 3.1M153.7 63.7l-1.8 3.1l-1.9 3.0l-1.6 3.3l-2.1 2.9l-1.9 3.1l-1.7 3.1l-2.0 3.1l-1.7 3.1M164.6 135.1l-1.7 3.2l-2.1 2.9l-2.5 2.6l-2.6 2.5l-2.5 2.6l-2.6 2.5M46.5 195.5l-0.7 -3.6l0.2 -3.5l0.4 -3.6l1.1 -3.5l1.4 -3.2l1.6 -3.3l1.9 -3.1l2.0 -3.0l2.2 -2.8l2.5 -2.5l2.7 -2.5l2.6 -2.4l2.3 -2.8l1.9 -3.0l1.9 -3.1l1.7 -3.2M71.5 169.3l3.5 -0.8l3.3 -1.4l3.4 -1.2l3.5 -1.2l3.4 -1.0l3.4 -1.1l3.6 -0.6l3.6 -0.3M93.3 208.9l3.0 -2.0l3.1 -1.9l3.3 -1.4l3.5 -0.9l3.5 -0.5l3.6 -0.3l3.6 -0.3l3.6 -0.6l3.5 -0.8l3.3 -1.3l3.0 -2.0l2.8 -2.3M89.0 200.1l1.6 -3.2l1.5 -3.3l1.2 -3.4l1.4 -3.3l1.2 -3.4l1.1 -3.4l1.0 -3.5l1.1 -3.4l0.6 -3.5l-0.3 -3.6l-1.2 -3.4l-1.8 -3.1M131.5 161.8l0.6 -3.5l0.4 -3.6l-0.3 -3.6l-0.5 -3.6l-0.1 -3.6l0.1 -3.6l-0.2 -3.6l-0.5 -3.5l-0.5 -3.6l-1.1 -3.4M58.1 208.7l-2.4 -2.6l2.1 -3.0l2.6 -2.4l3.0 -2.0l3.3 -1.4l3.4 -1.3l3.2 -1.6l3.0 -2.0l2.9 -2.1l3.0 -2.1l2.7 -2.4l2.0 -3.0M49.2 122.2l-0.2 3.6l-0.7 3.5l-1.2 3.4l-1.9 3.1l-2.1 2.9l-2.4 2.7l-2.1 2.9l-2.0 3.0l-1.7 3.2l-1.3 3.3M187.6 184.5l2.6 -2.5l3.0 -2.1l0.9 -3.4l-2.8 -2.3l-3.1 -1.8l-3.4 -1.2l-3.5 -0.9l-3.4 -0.9l-3.5 -1.1l-3.4 -1.1l-3.4 -1.1l-3.4 -1.2l-3.4 -1.3l-3.2 -1.5M177.5 197.7l-2.4 2.7l-2.5 2.5l-2.4 2.7l-3.6 -0.2l-3.6 -0.2l-3.6 0.2l-3.6 -0.1l-3.6 0.0l-3.6 -0.2l-3.6 -0.6l-3.3 -1.2l-3.4 -1.4l-2.9 -2.1l-2.5 -2.6l-2.0 -3.0l-1.0 -3.4M54.4 71.9l-1.2 3.3l-0.8 3.6l0.0 3.6l0.4 3.6l0.7 3.5l1.1 3.4l1.2 3.4l0.7 3.5l-0.1 3.6l-0.2 3.6l-0.1 3.6l0.1 3.6M83.7 110.9l-1.7 3.2l-2.1 2.9l-2.4 2.7l-2.6 2.4l-2.7 2.4l-2.9 2.2l-3.1 1.9l-3.3 1.3l-3.4 1.1l-3.5 0.8M172.7 116.9l-0.6 3.6l-1.2 3.3l-1.8 3.2l-2.3 2.7l-2.5 2.6l-2.8 2.3l-3.0 2.0l-3.3 1.5l-3.3 1.3l-3.4 1.2l-3.5 0.8l-3.6 0.6M144.0 198.0l-2.8 -2.4l-2.8 -2.2l-2.9 -2.1l-3.3 -1.6l-3.2 -1.5l-3.2 -1.7l-2.9 -2.1l-3.0 -2.1l-2.5 -2.5l-1.4 -3.3M105.2 222.5l-3.4 1.1l-3.5 0.6l-3.6 -0.1l-3.6 -0.5l-3.4 -1.1l-0.1 -3.6l0.3 -3.6l0.9 -3.5l1.2 -3.4l0.8 -3.5l0.4 -3.5l0.5 -3.6l0.6 -3.6l1.0 -3.4l1.4 -3.3l1.4 -3.4M154.0 125.3l3.6 -0.2l3.6 0.1l3.6 0.5l3.5 0.6l3.5 0.8l3.5 1.0l3.5 1.0l3.4 1.1l3.5 0.8l3.6 0.4l3.6 0.2l3.5 0.6l3.5 0.8l3.6 0.7M114.5 111.1l-1.2 3.5l-1.3 3.3l-1.5 3.3l-1.5 3.3l-1.5 3.2l-0.9 3.5l-0.1 3.6l0.6 3.5l1.0 3.5l1.3 3.4M88.8 168.7l2.4 -2.7l1.8 -3.1l1.1 -3.4l0.3 -3.6l-0.3 -3.6l-0.9 -3.5l-1.3 -3.3l-1.3 -3.4M93.7 117.4l-1.8 -3.1l-2.3 -2.8l-2.7 -2.4l-3.0 -2.0l-3.2 -1.6l-3.3 -1.4l-3.4 -1.2l-3.3 -1.4l-3.2 -1.7l-2.6 -2.4l-2.3 -2.8l-2.0 -3.0l-2.0 -3.0l-2.3 -2.8l-2.5 -2.6l-2.4 -2.6l-2.7 -2.5l-2.6 -2.4" stroke="#ff3cff" stroke-width="2.40" stroke-dasharray="3 6 2 8 4 5" stroke-linecap="round" fill="none"/><path d="M131.3 80.4h0M166.3 87.9h0M116.2 147.4h0M91.2 124.6h0M105.8 121.7h0M69.6 136.9h0M121.4 62.2h0M122.4 83.7h0M51.6 171.5h0M64.0 118.4h0M121.5 190.6h0M118.2 176.7h0M83.4 214.1h0M75.8 188.3h0M93.5 38.1h0M115.9 90.6h0M71.8 77.7h0M96.1 62.5h0M143.3 183.5h0M93.9 156.3h0M158.3 145.7h0M174.4 178.3h0M23.5 153.3h0M68.2 135.1h0M77.4 67.6h0M77.9 53.2h0M108.5 140.8h0M83.4 154.8h0M114.0 140.9h0M144.5 94.5h0M201.8 152.6h0M179.4 112.1h0M40.9 111.6h0M45.8 72.5h0M49.6 127.0h0M25.1 95.9h0M119.8 154.9h0M117.6 106.0h0M60.9 71.8h0M80.3 80.3h0M71.6 69.3h0M86.8 100.4h0M147.6 92.3h0M126.7 65.2h0M73.7 101.5h0M108.4 95.2h0M95.8 224.4h0M104.7 199.7h0M92.0 142.2h0M46.3 142.0h0M151.8 81.5h0M116.4 85.2h0M65.7 139.9h0M34.2 162.3h0M123.4 133.9h0M118.0 160.8h0M120.6 45.7h0M90.6 73.0h0M110.5 41.6h0M136.2 53.6h0M81.6 115.0h0M96.4 130.4h0M107.7 84.8h0M62.1 88.7h0M48.4 195.3h0M47.3 162.8h0M139.8 64.7h0M128.8 46.2h0M154.6 188.2h0M121.6 150.4h0M121.7 109.6h0M128.0 96.7h0M60.9 122.4h0M37.0 138.2h0M190.2 176.9h0M163.8 144.4h0M21.7 146.3h0M60.7 120.2h0M160.6 119.5h0M195.8 122.6h0M181.1 84.0h0M195.7 123.7h0M115.3 58.6h0M109.2 45.6h0M79.3 68.7h0M95.2 37.9h0M119.7 120.1h0M131.2 64.1h0M161.6 199.3h0M141.6 179.7h0M112.2 184.8h0M95.1 141.8h0M111.7 183.3h0M91.0 202.5h0M153.0 172.2h0M114.8 158.8h0M79.9 185.1h0M122.7 203.2h0M36.4 109.8h0M78.8 108.5h0M126.7 80.6h0M138.8 135.7h0M141.2 214.0h0M118.5 186.3h0M172.9 157.1h0M131.5 165.3h0M26.2 159.3h0M41.1 174.8h0M49.0 183.0h0M75.4 171.7h0M198.2 112.8h0M152.5 127.4h0M184.2 84.7h0M165.0 94.1h0M164.0 59.6h0M183.6 103.3h0M160.5 126.1h0M161.1 97.3h0M18.7 141.6h0M42.8 156.4h0M59.7 183.0h0M103.3 201.5h0M93.3 90.1h0M118.5 103.8h0M100.9 116.9h0M79.2 93.1h0M165.8 149.2h0M155.9 202.6h0M185.1 164.4h0M184.9 129.5h0M133.8 101.9h0M185.5 116.9h0M194.2 128.5h0M151.7 162.3h0M171.9 170.3h0M171.2 203.9h0M153.7 63.7h0M139.0 88.4h0M164.6 135.1h0M150.6 151.4h0M46.5 195.5h0M72.2 146.4h0M71.5 169.3h0M99.2 161.7h0M93.3 208.9h0M133.1 194.6h0M89.0 200.1h0M96.4 159.6h0M131.5 161.8h0M129.4 126.2h0M58.1 208.7h0M86.9 182.8h0M49.2 122.2h0M33.6 153.8h0M187.6 184.5h0M157.6 162.1h0M177.5 197.7h0M129.9 190.8h0M54.4 71.9h0M56.2 114.2h0M83.7 110.9h0M56.0 131.8h0M172.7 116.9h0M141.4 142.0h0M144.0 198.0h0M116.0 176.5h0M105.2 222.5h0M96.1 184.1h0M154.0 125.3h0M203.5 133.7h0M114.5 111.1h0M109.4 145.2h0M88.8 168.7h0M90.6 142.1h0M93.7 117.4h0M46.1 75.7h0" stroke="#ff30ff" stroke-width="3.0" stroke-linecap="round" fill="none"/><path d="M33.0 78.3h0M51.0 140.2h0M122.4 155.0h0M94.3 64.1h0M155.4 157.4h0M92.5 148.3h0M78.6 189.8h0M186.1 91.6h0M42.0 192.6h0M141.0 99.1h0M99.4 49.1h0M79.1 93.5h0M115.8 138.6h0M178.4 128.3h0M85.4 50.3h0M142.4 174.0h0M94.1 160.9h0M102.3 213.6h0M160.6 115.6h0M37.7 109.5h0M46.8 194.4h0M63.7 108.0h0M188.4 142.8h0M75.2 86.5h0M199.3 133.5h0M126.7 155.5h0M203.1 144.8h0M162.3 185.5h0M98.2 201.9h0M116.6 152.6h0M94.7 197.1h0M146.0 206.0h0M151.4 158.0h0M73.6 79.9h0M72.9 100.6h0M131.4 81.8h0M55.0 98.7h0M70.5 74.3h0M157.7 149.1h0M174.6 179.1h0M108.2 143.0h0M202.8 145.4h0M185.1 116.4h0M71.3 175.1h0M115.0 202.2h0M94.6 155.3h0M149.0 142.0h0M179.3 118.8h0M104.1 205.0h0M119.8 169.6h0M80.4 104.1h0M77.2 81.0h0M161.4 156.3h0M100.3 129.4h0M175.1 90.8h0M84.1 186.2h0M169.2 155.2h0M144.7 83.1h0M127.3 201.6h0M62.3 178.2h0M47.6 166.7h0M157.5 195.6h0M67.8 187.1h0M154.4 153.4h0M184.7 122.7h0M152.7 173.0h0M161.5 103.6h0M190.6 180.1h0M159.8 204.3h0M44.7 74.0h0M127.0 105.8h0M115.1 150.9h0M54.7 104.3h0M94.9 38.3h0M101.8 55.0h0M158.0 145.9h0M166.8 174.4h0M105.1 88.6h0M106.1 69.3h0M89.8 44.7h0M121.5 203.7h0M62.1 129.3h0M48.8 106.2h0M52.9 171.4h0M137.4 168.8h0M92.4 42.0h0M89.1 167.2h0M144.3 84.9h0M150.3 71.6h0M149.4 181.7h0M75.2 101.5h0M121.3 107.9h0M80.2 138.1h0M97.5 105.7h0M49.2 175.9h0M41.2 140.2h0M79.7 66.7h0M145.0 86.1h0M97.5 59.4h0M53.5 170.4h0M192.3 116.6h0M115.0 115.7h0M110.2 158.8h0M130.6 49.0h0M161.4 170.1h0M174.7 178.3h0M59.3 123.0h0M96.4 225.1h0M87.3 164.7h0M92.2 196.8h0M80.5 93.1h0M88.0 221.3h0M200.5 134.6h0M134.7 163.8h0M97.0 160.5h0M161.3 121.2h0M127.4 197.0h0M119.5 138.7h0M102.7 215.9h0M53.8 106.3h0M118.1 144.9h0M136.3 163.0h0M132.8 190.1h0M117.7 138.2h0M131.1 196.0h0M45.7 187.4h0M88.8 190.2h0M130.5 195.9h0M150.8 113.8h0M163.4 183.0h0M161.4 165.5h0M169.5 153.9h0M56.7 165.5h0M81.8 164.5h0M20.3 142.1h0M73.4 108.1h0M98.5 178.9h0M39.2 153.3h0M110.0 122.1h0M133.9 121.9h0M194.1 120.0h0M119.0 178.1h0M131.5 189.6h0M41.3 123.6h0M69.2 100.3h0M143.2 109.7h0M137.6 137.3h0M84.6 59.7h0M185.1 134.1h0M138.4 197.8h0M155.0 105.3h0M114.8 103.6h0M103.0 41.9h0M138.1 162.2h0M146.1 175.4h0M98.1 46.5h0M49.7 150.4h0M104.5 60.4h0M122.2 156.3h0M90.4 44.8h0M192.1 109.6h0M32.4 86.5h0M59.2 172.1h0" stroke="#2cff2c" stroke-width="1.58" stroke-opacity="1.00" stroke-linecap="round" fill="none"/><path d="M94.4 189.1h0M116.1 111.9h0M129.7 48.3h0M154.8 152.3h0M161.9 119.1h0M151.8 85.5h0M52.3 141.1h0M198.8 137.2h0M160.8 101.2h0M193.3 120.5h0M138.0 209.1h0M119.8 180.6h0M27.9 145.6h0M86.0 101.9h0M98.9 146.4h0M135.8 167.9h0M137.0 85.1h0M91.4 40.0h0M45.9 136.1h0M167.3 150.3h0M146.9 112.0h0M185.3 86.0h0M156.3 123.7h0M143.7 76.4h0M92.6 145.5h0M53.9 181.8h0M107.0 132.0h0M149.0 186.1h0M84.4 68.3h0M102.8 90.6h0M93.9 190.9h0M148.5 113.2h0M154.9 119.0h0M50.2 123.1h0M199.4 134.3h0M98.3 128.2h0M169.7 176.9h0M135.4 126.8h0M142.4 141.8h0M125.8 85.7h0M101.0 98.6h0M99.0 56.4h0M59.0 163.5h0M64.5 140.7h0M52.2 146.1h0M46.9 195.3h0M125.1 89.9h0M104.2 64.4h0M153.1 138.5h0M63.0 183.9h0M79.4 64.2h0M57.1 100.8h0M87.9 164.5h0M120.1 156.2h0M112.7 181.0h0M56.0 97.4h0M135.8 69.0h0M117.0 160.4h0M77.1 108.3h0M168.9 128.3h0M103.1 199.0h0M98.3 162.3h0M179.2 118.5h0M101.6 111.4h0M44.0 179.2h0M53.5 73.0h0M33.4 165.0h0M183.9 117.0h0M75.8 119.5h0M94.6 62.9h0M47.2 173.1h0M86.4 123.4h0M156.1 125.2h0M42.0 107.4h0M62.1 107.6h0M86.6 48.1h0M135.4 56.3h0M95.2 65.3h0M24.4 152.4h0M188.7 150.3h0M98.6 59.1h0M154.0 160.0h0M168.3 94.7h0M126.7 86.5h0M54.8 71.5h0M203.5 147.0h0M38.7 94.5h0M111.9 80.2h0M118.5 168.4h0M67.5 154.4h0M96.8 43.8h0M192.9 128.5h0M32.9 164.0h0M113.3 82.3h0M82.0 137.2h0M110.0 133.4h0M30.0 145.2h0M63.0 160.0h0M29.3 129.3h0M38.8 192.4h0M154.5 187.3h0M101.5 202.0h0M136.8 176.0h0M171.4 119.6h0M134.9 190.5h0M158.0 163.3h0M109.9 122.7h0M132.7 102.7h0M154.8 147.7h0M46.4 195.6h0M86.7 223.0h0M168.4 173.6h0M46.6 182.6h0M32.7 80.9h0M66.4 185.9h0M63.5 151.8h0M132.2 172.4h0M134.7 164.0h0M196.5 111.4h0M131.1 195.9h0M39.9 192.7h0M88.9 220.3h0M52.8 169.3h0M120.6 149.5h0M131.3 67.4h0M199.0 132.9h0M73.2 193.3h0M100.2 203.3h0M172.0 114.9h0M93.3 189.4h0M58.3 202.7h0M33.7 150.1h0M96.1 101.3h0M39.2 96.3h0M120.2 118.0h0M94.6 127.5h0M85.7 108.7h0M50.1 123.2h0M159.6 86.9h0M169.6 176.4h0M166.1 205.8h0M169.1 124.8h0M161.1 186.3h0M185.9 116.0h0M83.7 93.1h0M39.7 154.0h0M116.4 144.3h0M150.2 170.3h0M96.0 185.2h0M195.6 123.2h0M64.7 122.8h0M121.1 78.3h0M141.5 181.7h0M179.5 91.3h0M98.6 109.2h0M61.9 130.0h0M155.2 86.5h0M127.0 157.2h0M77.3 88.8h0M91.1 210.9h0M120.3 119.0h0M171.9 114.1h0M181.7 84.6h0M170.4 170.4h0M170.9 163.3h0M162.7 83.1h0M165.0 164.8h0M135.3 137.8h0M176.2 124.3h0M68.5 92.9h0M179.2 72.8h0M47.2 66.4h0M41.4 72.3h0M198.1 139.6h0M105.5 222.5h0M193.3 148.7h0M26.7 122.3h0M57.4 166.1h0M117.0 218.6h0M106.8 191.8h0" stroke="#2cff2c" stroke-width="1.90" stroke-opacity="1.00" stroke-linecap="round" fill="none"/><path d="M131.5 142.7h0M142.6 202.6h0M159.8 188.3h0M138.4 192.0h0M79.6 80.4h0M162.4 171.2h0M30.1 148.3h0M160.6 87.9h0M100.7 168.5h0M49.6 177.9h0M48.5 129.9h0M178.5 90.3h0M190.1 98.6h0M125.9 197.6h0M123.1 170.5h0M147.5 169.1h0M45.9 193.5h0M90.7 207.4h0M77.5 82.0h0M121.1 170.6h0M169.4 167.2h0M134.6 190.4h0M169.4 157.2h0M191.2 110.6h0M111.8 178.5h0M104.3 147.6h0M41.8 135.1h0M68.6 76.9h0M106.3 149.3h0M76.1 74.7h0M105.9 86.9h0M126.7 80.7h0M112.4 182.5h0M78.1 138.7h0M190.2 107.1h0M141.8 84.6h0M58.3 131.1h0M192.4 110.8h0M37.4 92.5h0M138.8 105.7h0M48.5 178.6h0M76.3 150.4h0M146.1 76.3h0M105.0 205.7h0M102.3 147.7h0M135.5 175.3h0M49.8 122.8h0M32.5 79.0h0M123.0 108.2h0M47.2 164.8h0M55.0 94.5h0M95.4 191.3h0M104.9 61.8h0M77.6 59.1h0M86.6 187.0h0M76.3 197.3h0M64.7 109.4h0M103.0 191.5h0M119.3 45.0h0M115.7 146.5h0M121.7 116.6h0M139.9 171.6h0M56.6 108.5h0M105.8 50.9h0M19.7 134.1h0M176.2 76.1h0M130.0 202.3h0M170.1 172.3h0M71.4 137.7h0M185.8 161.8h0M171.1 64.0h0M129.2 72.1h0M181.7 124.7h0M146.6 76.2h0M71.9 150.0h0M56.3 207.5h0M91.5 143.3h0M89.1 197.7h0M65.2 106.2h0M122.1 111.1h0M140.1 99.9h0M141.8 79.0h0M41.3 106.1h0M134.7 167.1h0M46.6 76.9h0M46.3 195.7h0M68.2 195.8h0M195.1 112.6h0M44.2 147.6h0M133.1 173.3h0M160.5 159.1h0M66.6 109.1h0M153.6 161.8h0M112.1 162.8h0M134.4 163.4h0M132.7 173.4h0M166.0 176.5h0M117.5 179.4h0M94.3 135.2h0M162.0 157.5h0M88.0 138.3h0M55.3 167.3h0M101.0 91.5h0M143.8 97.1h0M50.5 140.3h0M64.3 157.5h0M177.5 86.4h0M187.5 171.9h0M141.9 82.5h0M185.0 130.5h0M135.4 124.8h0M173.6 148.2h0M124.1 104.9h0M131.4 141.6h0M126.6 200.0h0M69.1 149.9h0M167.3 126.6h0M75.6 93.2h0M162.7 164.2h0M116.5 47.8h0M186.9 170.3h0M184.8 124.3h0M113.2 120.3h0M108.9 151.9h0M165.3 150.8h0M120.2 202.9h0M112.6 100.4h0M125.5 156.2h0M36.3 158.0h0M163.4 132.6h0M134.7 127.4h0M131.6 137.1h0M114.7 87.6h0M134.6 164.1h0M187.5 144.3h0M42.8 183.3h0M130.2 127.6h0M132.5 122.4h0M71.8 187.2h0M37.7 92.7h0M39.2 97.4h0M109.3 166.5h0M95.0 100.9h0M52.6 106.1h0M71.3 136.7h0M51.0 84.0h0M23.5 96.3h0M158.7 156.7h0M102.0 144.5h0M117.4 104.9h0M158.7 167.3h0M82.3 92.7h0M57.1 131.3h0M93.7 192.3h0M106.3 65.4h0M91.7 65.7h0M122.6 74.2h0M95.1 92.0h0M138.4 169.0h0M112.2 184.3h0M157.9 158.1h0M104.9 96.7h0M202.5 147.2h0M65.6 123.2h0M43.7 181.3h0M123.2 106.3h0M105.6 131.8h0M130.3 157.8h0M159.7 156.7h0M135.9 84.6h0M194.4 128.2h0M49.1 127.0h0M134.8 116.3h0M178.3 85.5h0M55.1 108.6h0M170.5 124.7h0M123.8 103.8h0M117.7 146.1h0M131.6 149.2h0M149.4 84.7h0M45.5 176.3h0M197.2 129.0h0M101.9 54.4h0M168.4 165.4h0M79.8 57.1h0M166.7 128.1h0M91.3 195.7h0M166.8 120.5h0M116.3 143.7h0M103.3 214.6h0M80.1 149.7h0M125.8 103.5h0M71.4 147.4h0M94.3 39.1h0M187.4 172.4h0M46.6 185.8h0M100.9 160.4h0M60.2 150.1h0M91.4 193.6h0M191.5 123.4h0M53.2 85.7h0M174.7 68.9h0M112.9 124.8h0M35.7 150.8h0M139.1 98.6h0M104.1 161.5h0M75.7 88.4h0M98.6 177.4h0M168.6 172.4h0M100.6 179.6h0M125.9 70.4h0M191.3 89.4h0M114.3 94.9h0M106.0 171.8h0M49.3 89.1h0M113.2 77.0h0M185.2 123.2h0M131.0 54.8h0M144.6 190.5h0M55.3 97.8h0" stroke="#2cff2c" stroke-width="2.22" stroke-opacity="1.00" stroke-linecap="round" fill="none"/></g></svg>
<rect x="731.7" y="582.0" width="62" height="4.6" fill="#fff"/>
<svg x="811.0" y="352.5" width="245.5" height="245.5" viewBox="0 0 245.5 245.5" overflow="hidden"><rect width="245.5" height="245.5" fill="#0b000b"/><g transform="translate(0 3.5)" filter="url(#soft)"><path d="M188.7 105.6l1.9 -3.0l2.3 -2.8l1.6 -3.2l1.3 -3.4l1.3 -3.3l1.0 -3.5M45.1 128.8l-2.8 -2.2l-3.0 -2.0l-3.1 -1.8l-3.2 -1.6l-3.2 -1.7l-3.2 -1.8l-3.2 -1.6l-0.2 -3.6M26.2 100.8l0.6 -3.5l0.7 -3.5l3.2 -1.7l3.0 -2.1l2.8 -2.1l2.6 -2.6l1.8 -3.0l1.8 -3.2l1.7 -3.2l1.3 -3.3l1.2 -3.4l0.9 -3.5M109.8 53.2l-3.2 -1.6l-3.1 -1.8l-3.3 -1.5l-3.2 -1.6l-3.2 -1.8l-2.9 -2.1l-2.7 -2.4l-2.7 -2.3l-2.4 -2.7l-2.3 -2.7l-3.6 0.5l-2.4 2.6l-2.7 2.4l-2.6 2.5l-2.7 2.4l-2.6 2.5M124.4 160.2l1.4 -3.3l2.0 -3.1l2.3 -2.7l2.6 -2.6l2.6 -2.4l2.7 -2.4l2.6 -2.5l1.7 -3.1l1.2 -3.5l0.0 -3.6l-0.5 -3.5l-1.4 -3.3M165.0 43.4l-3.1 1.7l-3.3 1.6l-3.2 1.7l-3.3 1.4l-3.4 1.1l-3.4 1.1M146.5 122.8l-3.4 0.9l-3.6 0.7l-3.5 0.7l-3.6 0.5l-3.5 0.7l-3.6 0.4l-3.6 0.1l-3.6 -0.1l-3.6 -0.1l-3.5 0.9l-3.3 1.3l-2.9 2.2l-2.5 2.6l-2.2 2.8l-2.2 2.9l-2.0 2.9M170.8 53.1l1.0 3.5l0.6 3.5l0.3 3.6l-0.7 3.5l-1.4 3.4l-2.4 2.7l-2.7 2.4l-2.9 2.0l-2.9 2.2l-2.7 2.4l-2.8 2.2l-3.1 1.9l-3.4 1.3l-3.3 1.3l-3.5 0.9l-3.5 1.0M148.2 141.5l1.1 -3.4l1.1 -3.5l0.8 -3.5l0.4 -3.5l0.1 -3.6l0.2 -3.6l0.5 -3.6l0.9 -3.5l1.6 -3.2l1.9 -3.1l1.7 -3.2l1.1 -3.4l1.0 -3.5l1.0 -3.4l1.1 -3.4l1.6 -3.3M145.1 65.3l-3.1 -1.8l-2.8 -2.2l-2.6 -2.6l-2.4 -2.7l-2.1 -2.8l-2.3 -2.8l-2.5 -2.6l-2.3 -2.8M171.2 110.4l-2.7 2.4l-2.7 2.4l-2.8 2.3l-3.0 1.9l-3.2 1.6l-3.5 1.0l-3.5 0.9l-3.5 0.9l-3.2 1.5l-3.4 1.4l-3.3 1.3l-3.4 1.1l-3.6 0.7l-3.5 0.7l-3.5 0.7l-3.6 0.6l-3.5 0.8l-3.4 1.0M164.0 110.2l2.4 -2.7l1.8 -3.1l1.5 -3.3l1.5 -3.3l1.4 -3.3l0.7 -3.5l0.2 -3.6l0.1 -3.6l-0.2 -3.6l-0.2 -3.6l-0.2 -3.6l-0.3 -3.6l0.1 -3.6l0.2 -3.6l0.7 -3.5l1.3 -3.3M118.7 150.4l-1.3 3.4l-0.9 3.4l-0.8 3.5l-1.0 3.5l-1.4 3.3l-1.6 3.2M119.9 55.1l-1.2 -3.4l-1.4 -3.3l-1.5 -3.3l-1.1 -3.4l-0.6 -3.6l-0.6 -3.5M189.0 167.3l-1.1 -3.5l-1.0 -3.4l-1.0 -3.5l-1.2 -3.3l-1.6 -3.3l-1.6 -3.2l-1.8 -3.1l-2.4 -2.7l-2.8 -2.3l-2.5 -2.6l-2.5 -2.6l-2.6 -2.5l-2.3 -2.7l-2.3 -2.8l-2.3 -2.8l-2.7 -2.4M139.6 205.3l3.6 -0.4l3.5 -0.7l3.4 -1.2l3.4 -1.1l0.9 -3.5l1.1 -3.5l0.7 -3.5l0.4 -3.6l0.4 -3.6l0.8 -3.4l1.6 -3.3l1.9 -3.1l1.7 -3.1l1.5 -3.3M78.4 202.6l3.6 -0.2l3.6 -0.1l3.5 -0.6l3.6 -0.7l3.5 -0.6l3.5 -1.0l3.3 -1.2l3.5 -1.1l3.4 -1.1l3.3 -1.6l3.3 -1.3l3.4 -1.2l3.3 -1.3l3.3 -1.4M112.7 125.9l0.6 -3.6l1.0 -3.4l1.6 -3.3l2.4 -2.6l2.9 -2.2l2.9 -2.1M101.3 85.7l2.2 -2.8l2.9 -2.1l2.9 -2.2l2.5 -2.6l2.4 -2.7l2.2 -2.8l2.1 -2.9l2.2 -2.8l2.3 -2.9l2.2 -2.8l2.3 -2.7l2.4 -2.7M124.7 188.5l-2.5 -2.6l-2.6 -2.5l-3.0 -2.0l-3.3 -1.6l-3.5 -0.8l-3.5 -0.6l-3.6 -0.2l-3.6 -0.1l-3.6 0.1l-3.5 0.7l-3.6 0.4l-3.6 -0.3l-3.5 -0.9l-3.3 -1.5M132.9 172.9l1.6 3.2l1.4 3.3l1.4 3.3l1.5 3.3l1.7 3.2l2.0 3.0l2.2 2.9l2.4 2.6l2.7 2.4l2.7 2.4l3.5 -0.9l2.3 -2.7M114.8 103.8l3.4 1.1l3.5 0.8l3.6 0.6l3.6 0.5l3.5 0.5l3.6 0.1l3.6 -0.2l3.6 -0.6l3.4 -1.0l3.3 -1.6M186.7 157.5l2.0 -3.0l1.9 -3.0l2.1 -2.9l1.8 -3.2l1.7 -3.2l1.4 -3.3l0.8 -3.5l0.6 -3.5l0.6 -3.6l-0.1 -3.6M68.7 88.8l-0.1 3.6l-0.6 3.6l-0.4 3.5l-0.7 3.6l-1.1 3.4l-1.8 3.1l-1.9 3.1l-1.7 3.1l-1.2 3.4l-0.7 3.6M86.7 188.6l-3.6 0.5l-3.6 0.0l-3.6 -0.5l-3.4 -1.0l-3.1 -1.9l-2.8 -2.2l-2.7 -2.4l-2.5 -2.6l-2.6 -2.4l-2.8 -2.4M92.9 98.7l1.2 -3.4l1.1 -3.4l1.2 -3.5l1.0 -3.4l0.0 -3.6l-0.9 -3.5l-1.6 -3.2l-1.9 -3.1M148.2 112.1l1.3 3.4l2.0 3.0l2.5 2.5l2.8 2.2l3.0 2.1l3.1 1.8l3.4 1.2l3.5 0.7l3.6 0.1l3.6 0.1l3.6 -0.1l3.6 0.2M126.9 77.0l2.2 2.8l1.7 3.2l1.2 3.4l0.9 3.5l1.0 3.5l1.2 3.4l0.8 3.5l0.6 3.5l0.2 3.6l0.2 3.6M117.2 118.7l-3.5 1.0l-3.2 1.6l-3.0 2.0l-2.9 2.1l-3.3 1.5l-3.3 1.4M184.8 113.7l-3.5 0.9l-3.5 0.8l-3.4 1.2l-3.3 1.4l-3.2 1.6l-3.4 1.3l-3.5 0.7l-3.5 0.8l-3.6 0.6l-3.6 0.2l-3.6 -0.1l-3.6 -0.2M142.5 158.3l3.4 -1.1l3.4 -1.1l3.4 -1.2l3.5 -0.9l3.5 -1.0l3.3 -1.3l3.4 -1.1l3.2 -1.7M199.5 156.9l-1.9 3.1l-3.6 -0.2l-3.6 0.1l-3.6 0.5l-3.4 1.0l-3.5 0.7l-3.6 0.2l-3.6 0.0l-3.6 0.2l-3.6 0.1l-3.6 0.1l-3.6 -0.3l-3.6 0.2l-3.5 0.6l-3.5 1.0l-3.4 1.1M97.9 53.6l3.6 0.3l3.6 -0.1l3.6 0.0l3.6 0.1l3.6 -0.1l3.6 0.3l3.6 0.7l3.3 1.2M62.5 171.3l-2.1 -2.9l-2.1 -2.9l-1.7 -3.2l-1.3 -3.4l-0.1 -3.6l0.4 -3.5l1.0 -3.5l0.9 -3.5l1.0 -3.4l0.8 -3.5l1.0 -3.5l1.4 -3.3l2.0 -3.0l2.4 -2.7l2.7 -2.4l2.8 -2.3M95.2 78.1l2.8 -2.3l3.3 -1.5l3.3 -1.2l3.4 -1.1l3.4 -1.3l3.4 -1.3l3.3 -1.5l3.4 -1.1M113.8 198.2l-3.2 -1.5l-3.6 -0.6l-3.6 0.3l-3.2 1.7l-2.7 2.3l-2.0 3.0l-1.6 3.3l-3.6 -0.1l-2.8 -2.2l-3.1 -1.8M26.9 136.3l-1.8 -3.1l0.4 -3.5l3.4 -1.1l3.2 -1.8l2.5 -2.5l2.1 -3.0l1.6 -3.2l1.8 -3.1l2.9 -2.2l3.4 -1.0l3.6 -0.4l3.6 -0.1l3.6 -0.3l3.6 -0.2M30.6 137.6l-0.7 3.5l-0.1 3.6l0.5 3.6l1.1 3.4l3.6 0.5l3.6 0.5l3.5 -0.5l3.6 -0.6l3.5 -0.6l3.5 -1.0l3.0 -2.1l2.2 -2.8M108.4 81.9l-0.7 3.5l-0.1 3.6l0.0 3.6l0.8 3.5l0.9 3.5l1.0 3.5M129.5 74.9l-0.4 3.6l-0.3 3.5l-0.6 3.6l-0.9 3.5l-0.6 3.5l-0.7 3.6M152.6 202.6l-3.5 0.5l-1.2 -3.4l-1.1 -3.5l-0.6 -3.5l0.2 -3.6l0.5 -3.6l0.8 -3.5l0.5 -3.6l0.3 -3.5l0.5 -3.6l0.5 -3.6l0.5 -3.5l0.9 -3.5l1.1 -3.5l0.8 -3.5l0.4 -3.5l-0.2 -3.6l-0.3 -3.6M33.9 82.6l0.3 -3.6l0.8 -3.5l1.0 -3.5l3.4 -1.1l3.5 -0.7l3.6 -0.6l3.6 -0.5l3.5 -0.4l3.6 0.6l3.4 1.2l3.2 1.6l2.7 2.4l2.4 2.7l1.9 3.0M89.3 106.3l-3.5 -0.6l-3.5 -1.0l-3.6 -0.5l-3.6 -0.3l-3.5 -0.8l-3.3 -1.3l-3.3 -1.4l-3.2 -1.7M158.5 167.5l-3.1 -1.8l-3.2 -1.6l-3.4 -1.4l-3.5 -0.8l-3.5 -0.8l-3.4 -1.2l-3.5 -0.9l-3.4 -0.9l-3.6 -0.8l-3.4 -1.0M156.3 162.1l-0.2 -3.6l0.1 -3.6l0.0 -3.6l0.3 -3.6l0.6 -3.6l0.9 -3.4l0.7 -3.6l0.4 -3.5l0.1 -3.6l-0.2 -3.6l-0.6 -3.6l-0.7 -3.5M175.5 124.2l3.3 1.3l3.2 1.8l3.0 1.8l2.8 2.3l2.1 3.0l2.2 2.8M135.8 160.3l0.1 3.6l0.4 3.6l0.7 3.5l0.7 3.6l0.8 3.5l1.1 3.4l1.5 3.3l1.9 3.0M91.6 161.4l0.4 -3.5l-0.1 -3.6l-0.6 -3.6l-0.8 -3.5l-0.3 -3.6l-0.1 -3.6M119.0 151.4l0.8 3.5l0.8 3.5l1.2 3.5l1.7 3.1l1.8 3.1l2.1 3.0l1.9 3.0l1.5 3.3l1.4 3.3l1.2 3.4l1.0 3.5l0.6 3.5M57.4 145.7l-3.4 -1.2l-3.5 -0.3l-3.6 -0.1l-3.6 -0.2l-3.6 0.0l-3.6 0.4M84.6 119.9l-0.6 -3.6l-0.4 -3.5l-0.2 -3.6l-0.3 -3.6l-1.0 -3.5l-0.6 -3.5l0.2 -3.6l0.8 -3.5l0.9 -3.5l1.2 -3.4l1.1 -3.4l1.2 -3.4M118.1 64.0l2.4 -2.7l2.8 -2.3l3.0 -2.0l2.7 -2.4l2.7 -2.4l2.5 -2.5M54.3 99.5l3.2 -1.8l2.7 -2.3l2.2 -2.9l1.7 -3.1l2.1 -3.0l2.1 -2.9l1.8 -3.1l1.5 -3.3M89.6 58.9l0.2 -3.6l0.5 -3.5l1.2 -3.4l2.4 -2.8l3.1 -1.6l3.6 -0.4l3.6 0.7l3.4 1.1l3.4 1.0l3.6 0.8l3.5 0.3l3.6 0.3l3.6 0.1l3.6 -0.3M86.2 129.2l2.7 2.4l2.7 2.4l2.7 2.3l2.6 2.5l2.6 2.5l2.3 2.7l2.1 3.0l2.1 2.9l2.2 2.9l2.0 3.0l1.5 3.3l1.1 3.4l0.3 3.6l-0.3 3.5l-0.9 3.5l-1.3 3.4M70.7 139.4l3.6 -0.3l3.6 -0.1l3.6 0.0l3.6 0.1l3.6 0.6l3.3 1.5l3.0 2.0l2.7 2.4l2.7 2.3l2.6 2.5l2.4 2.7l2.2 2.8l2.3 2.8l1.8 3.1M76.1 142.2l-1.7 -3.2l-1.8 -3.1l-1.5 -3.3l-1.5 -3.2l-2.1 -3.0l-2.2 -2.8l-2.7 -2.4l-3.1 -1.8l-3.2 -1.8l-3.4 -0.9l-3.6 0.0l-3.6 0.2l-3.6 0.3l-3.6 0.2M70.8 106.1l1.4 -3.3l1.8 -3.2l2.0 -3.0l2.1 -2.9l2.3 -2.8l2.3 -2.7l2.8 -2.3l3.2 -1.5l3.5 -0.9l3.6 -0.7l3.5 -0.9l3.4 -0.9l3.5 -1.0l3.4 -1.3l3.3 -1.3l3.4 -1.2M93.3 113.5l-2.7 2.4l-2.8 2.3l-2.5 2.5l-2.2 2.8l-2.1 3.0l-2.1 2.9l-1.6 3.2l-0.9 3.5l-0.4 3.6l-0.3 3.6M160.5 159.2l2.4 2.7l2.5 2.6l2.5 2.6l2.2 2.8l2.3 2.7l2.4 2.7l1.7 3.2l1.5 3.3l1.4 3.3l-2.7 2.4l-3.0 2.0l-3.2 1.7M159.4 76.0l-0.4 -3.6l-0.5 -3.5l-0.1 -3.6l0.5 -3.6l1.0 -3.4l1.5 -3.3l1.8 -3.1l1.8 -3.1l2.4 -2.8l2.7 -2.4l3.2 1.6l1.3 3.3l1.0 3.5l0.7 3.5l0.0 3.6l0.1 3.6M185.0 95.7l0.0 3.6l-0.8 3.5l-1.4 3.4l-1.6 3.2l-1.6 3.2l-1.6 3.2l-2.1 3.0l-2.3 2.7l-2.4 2.7l-2.7 2.3M70.9 87.7l-2.8 -2.3l-2.9 -2.2l-2.9 -2.1l-2.6 -2.5l-2.7 -2.4l-2.6 -2.5M89.5 89.1l0.3 3.6l-0.4 3.5l-0.8 3.5l-0.8 3.6l-1.0 3.4l-0.4 3.6l-0.4 3.6l0.3 3.6l1.0 3.4l1.4 3.3M99.9 28.6l-1.5 3.3l-0.9 3.5l-0.6 3.5l-0.7 3.5l-0.8 3.6l-0.9 3.4l-1.3 3.4l-1.0 3.5l-0.8 3.5l-0.3 3.6l-0.3 3.6l-0.2 3.5l-0.3 3.6l-0.3 3.6M98.8 147.3l-3.4 -1.3l-3.5 -0.9l-3.6 -0.1l-3.6 -0.1l-3.6 -0.1l-3.6 0.4l-3.5 0.4l-3.6 0.5l-3.5 0.7l-3.6 0.7M49.5 142.3l0.7 3.5l0.6 3.6l0.4 3.6l0.5 3.5l0.4 3.6l0.2 3.6M77.0 179.4l3.4 -1.4l3.3 -1.4l3.1 -1.9l2.6 -2.4l2.5 -2.6l2.1 -3.0M203.0 144.5l0.6 3.5l-1.8 3.2l-1.8 3.1l-1.5 3.3l-3.6 0.2l-3.6 0.1l-3.6 -0.1l-3.6 0.4l-3.5 0.6l-3.3 1.3l-3.1 1.9l-2.7 2.4l-1.9 3.0l-1.0 3.5M134.9 30.7l0.5 3.6l1.0 3.4l1.5 3.3l2.0 3.0l2.3 2.8l1.7 3.2l1.2 3.3l1.0 3.5l0.7 3.5l0.1 3.6M160.9 85.5l3.4 0.9l3.6 0.7l3.5 0.5l3.6 0.4l3.6 0.1l3.6 -0.1l3.6 -0.3l3.6 0.1M186.4 104.2l-2.4 -2.7l-2.6 -2.4l-2.7 -2.4l-2.8 -2.3l-3.1 -1.8l-3.4 -1.3l-3.5 -0.8l-3.5 -0.8l-3.3 -1.3l-3.5 -1.0l-3.4 -1.1l-3.5 -0.8l-3.6 -0.5l-3.6 -0.4l-3.6 -0.4l-3.5 -0.4M83.9 129.1l3.0 -2.0l2.9 -2.2l2.5 -2.5l2.0 -3.0l2.4 -2.7l3.0 -2.1M197.6 132.2l0.2 -3.6l-0.2 -3.6l-0.6 -3.6l-0.5 -3.5l-0.9 -3.5l-1.8 -3.1l-2.5 -2.7l-2.6 -2.4l-2.6 -2.6l-2.9 -2.1l-3.2 -1.6l-3.3 -1.4l-3.4 -1.2l-3.4 -1.3M78.7 55.1l-3.6 0.6l-3.5 0.8l-3.5 0.9l-3.5 0.8l-3.5 0.7l-3.6 -0.1l-3.6 -0.2l-3.5 -0.9M147.2 81.1l1.8 -3.1l1.4 -3.3l0.9 -3.5l0.9 -3.5l1.5 -3.2l1.8 -3.2l2.1 -2.9l2.0 -3.0l1.8 -3.1l1.5 -3.3l1.2 -3.4l0.5 -3.5l-3.1 -1.8l-3.5 -0.9M77.0 174.9l-2.8 -2.2l-3.0 -2.0l-3.3 -1.5l-3.4 -1.0l-3.4 -1.2l-3.6 0.2l-3.6 0.5l-3.4 1.2l-3.5 0.9l-3.5 0.8M56.3 158.2l3.5 -0.7l3.6 -0.5l3.6 -0.2l3.6 0.0l3.5 0.3l3.5 0.9l3.5 1.0l3.5 0.6l3.6 0.6l3.6 0.5l3.5 0.8l3.2 1.6M110.4 174.2l0.4 -3.5l0.5 -3.6l0.7 -3.5l0.0 -3.6l-0.3 -3.6l-0.6 -3.6M42.5 172.5l1.7 3.2l3.6 0.1l3.6 -0.1l3.6 0.1l3.6 -0.4l3.5 -1.0l3.4 -1.0l3.5 -1.1l3.1 -1.7l3.3 -1.5l3.3 -1.5l2.8 -2.2l2.6 -2.6l2.4 -2.6l1.9 -3.1l2.1 -2.9M93.6 181.4l1.5 3.3l1.5 3.3l1.6 3.2l1.7 3.2l1.8 3.1l1.7 3.1M53.6 57.0l3.2 1.6l3.2 1.7l2.8 2.3l2.6 2.4l2.6 2.5l2.5 2.6l2.3 2.8l2.3 2.7l1.6 3.2l0.9 3.5l0.3 3.6l-0.5 3.6l-0.7 3.5l-1.1 3.5l-1.3 3.3l-1.7 3.2M146.2 122.7l-2.8 2.3l-2.6 2.5l-2.7 2.4l-2.9 2.1l-2.7 2.4l-2.4 2.6l-2.2 2.9l-2.0 3.0l-1.4 3.3l-1.5 3.3l-1.8 3.1l-2.0 3.0l-2.0 3.0l-1.9 3.1l-1.6 3.2l-1.9 3.0l-2.6 2.6l-3.0 1.9M95.8 63.4l-3.6 -0.6l-3.5 -0.3l-3.5 -1.0l-3.4 -1.2l-3.3 -1.5l-2.8 -2.2l-2.4 -2.7l-2.2 -2.9l-2.5 -2.5l-3.0 -2.1l-3.0 -2.0l-2.9 2.2l-2.5 2.6l-1.9 3.0M64.2 121.6l-3.4 -1.2l-3.2 -1.7l-3.1 -1.7l-3.3 -1.5l-3.3 -1.4l-3.4 -1.3l-3.1 -1.8l-3.1 -1.8l-3.1 -1.8l-3.1 -1.8l-3.3 -1.4l-3.4 -1.4l-0.1 -3.6l2.4 -2.8M107.9 93.4l-1.2 3.4l-0.6 3.6l-0.5 3.5l-0.6 3.6l-0.5 3.5l-0.7 3.6l-0.6 3.5l-0.7 3.5M123.4 197.1l1.3 -3.3l1.7 -3.2l1.6 -3.2l1.7 -3.2l1.9 -3.0l2.1 -2.9M147.8 71.8l-1.0 3.5l-1.7 3.2l-2.1 2.9l-2.4 2.7l-2.4 2.6l-2.4 2.8" stroke="#c21ec2" stroke-width="2.2" stroke-linecap="round" stroke-linejoin="round" fill="none"/><path d="M188.7 105.6l1.9 -3.0l2.3 -2.8l1.6 -3.2l1.3 -3.4l1.3 -3.3l1.0 -3.5M45.1 128.8l-2.8 -2.2l-3.0 -2.0l-3.1 -1.8l-3.2 -1.6l-3.2 -1.7l-3.2 -1.8l-3.2 -1.6l-0.2 -3.6M26.2 100.8l0.6 -3.5l0.7 -3.5l3.2 -1.7l3.0 -2.1l2.8 -2.1l2.6 -2.6l1.8 -3.0l1.8 -3.2l1.7 -3.2l1.3 -3.3l1.2 -3.4l0.9 -3.5M109.8 53.2l-3.2 -1.6l-3.1 -1.8l-3.3 -1.5l-3.2 -1.6l-3.2 -1.8l-2.9 -2.1l-2.7 -2.4l-2.7 -2.3l-2.4 -2.7l-2.3 -2.7l-3.6 0.5l-2.4 2.6l-2.7 2.4l-2.6 2.5l-2.7 2.4l-2.6 2.5M124.4 160.2l1.4 -3.3l2.0 -3.1l2.3 -2.7l2.6 -2.6l2.6 -2.4l2.7 -2.4l2.6 -2.5l1.7 -3.1l1.2 -3.5l0.0 -3.6l-0.5 -3.5l-1.4 -3.3M165.0 43.4l-3.1 1.7l-3.3 1.6l-3.2 1.7l-3.3 1.4l-3.4 1.1l-3.4 1.1M146.5 122.8l-3.4 0.9l-3.6 0.7l-3.5 0.7l-3.6 0.5l-3.5 0.7l-3.6 0.4l-3.6 0.1l-3.6 -0.1l-3.6 -0.1l-3.5 0.9l-3.3 1.3l-2.9 2.2l-2.5 2.6l-2.2 2.8l-2.2 2.9l-2.0 2.9M170.8 53.1l1.0 3.5l0.6 3.5l0.3 3.6l-0.7 3.5l-1.4 3.4l-2.4 2.7l-2.7 2.4l-2.9 2.0l-2.9 2.2l-2.7 2.4l-2.8 2.2l-3.1 1.9l-3.4 1.3l-3.3 1.3l-3.5 0.9l-3.5 1.0M148.2 141.5l1.1 -3.4l1.1 -3.5l0.8 -3.5l0.4 -3.5l0.1 -3.6l0.2 -3.6l0.5 -3.6l0.9 -3.5l1.6 -3.2l1.9 -3.1l1.7 -3.2l1.1 -3.4l1.0 -3.5l1.0 -3.4l1.1 -3.4l1.6 -3.3M145.1 65.3l-3.1 -1.8l-2.8 -2.2l-2.6 -2.6l-2.4 -2.7l-2.1 -2.8l-2.3 -2.8l-2.5 -2.6l-2.3 -2.8M171.2 110.4l-2.7 2.4l-2.7 2.4l-2.8 2.3l-3.0 1.9l-3.2 1.6l-3.5 1.0l-3.5 0.9l-3.5 0.9l-3.2 1.5l-3.4 1.4l-3.3 1.3l-3.4 1.1l-3.6 0.7l-3.5 0.7l-3.5 0.7l-3.6 0.6l-3.5 0.8l-3.4 1.0M164.0 110.2l2.4 -2.7l1.8 -3.1l1.5 -3.3l1.5 -3.3l1.4 -3.3l0.7 -3.5l0.2 -3.6l0.1 -3.6l-0.2 -3.6l-0.2 -3.6l-0.2 -3.6l-0.3 -3.6l0.1 -3.6l0.2 -3.6l0.7 -3.5l1.3 -3.3M118.7 150.4l-1.3 3.4l-0.9 3.4l-0.8 3.5l-1.0 3.5l-1.4 3.3l-1.6 3.2M119.9 55.1l-1.2 -3.4l-1.4 -3.3l-1.5 -3.3l-1.1 -3.4l-0.6 -3.6l-0.6 -3.5M189.0 167.3l-1.1 -3.5l-1.0 -3.4l-1.0 -3.5l-1.2 -3.3l-1.6 -3.3l-1.6 -3.2l-1.8 -3.1l-2.4 -2.7l-2.8 -2.3l-2.5 -2.6l-2.5 -2.6l-2.6 -2.5l-2.3 -2.7l-2.3 -2.8l-2.3 -2.8l-2.7 -2.4M139.6 205.3l3.6 -0.4l3.5 -0.7l3.4 -1.2l3.4 -1.1l0.9 -3.5l1.1 -3.5l0.7 -3.5l0.4 -3.6l0.4 -3.6l0.8 -3.4l1.6 -3.3l1.9 -3.1l1.7 -3.1l1.5 -3.3M78.4 202.6l3.6 -0.2l3.6 -0.1l3.5 -0.6l3.6 -0.7l3.5 -0.6l3.5 -1.0l3.3 -1.2l3.5 -1.1l3.4 -1.1l3.3 -1.6l3.3 -1.3l3.4 -1.2l3.3 -1.3l3.3 -1.4M112.7 125.9l0.6 -3.6l1.0 -3.4l1.6 -3.3l2.4 -2.6l2.9 -2.2l2.9 -2.1M101.3 85.7l2.2 -2.8l2.9 -2.1l2.9 -2.2l2.5 -2.6l2.4 -2.7l2.2 -2.8l2.1 -2.9l2.2 -2.8l2.3 -2.9l2.2 -2.8l2.3 -2.7l2.4 -2.7M124.7 188.5l-2.5 -2.6l-2.6 -2.5l-3.0 -2.0l-3.3 -1.6l-3.5 -0.8l-3.5 -0.6l-3.6 -0.2l-3.6 -0.1l-3.6 0.1l-3.5 0.7l-3.6 0.4l-3.6 -0.3l-3.5 -0.9l-3.3 -1.5M132.9 172.9l1.6 3.2l1.4 3.3l1.4 3.3l1.5 3.3l1.7 3.2l2.0 3.0l2.2 2.9l2.4 2.6l2.7 2.4l2.7 2.4l3.5 -0.9l2.3 -2.7M114.8 103.8l3.4 1.1l3.5 0.8l3.6 0.6l3.6 0.5l3.5 0.5l3.6 0.1l3.6 -0.2l3.6 -0.6l3.4 -1.0l3.3 -1.6M186.7 157.5l2.0 -3.0l1.9 -3.0l2.1 -2.9l1.8 -3.2l1.7 -3.2l1.4 -3.3l0.8 -3.5l0.6 -3.5l0.6 -3.6l-0.1 -3.6M68.7 88.8l-0.1 3.6l-0.6 3.6l-0.4 3.5l-0.7 3.6l-1.1 3.4l-1.8 3.1l-1.9 3.1l-1.7 3.1l-1.2 3.4l-0.7 3.6M86.7 188.6l-3.6 0.5l-3.6 0.0l-3.6 -0.5l-3.4 -1.0l-3.1 -1.9l-2.8 -2.2l-2.7 -2.4l-2.5 -2.6l-2.6 -2.4l-2.8 -2.4M92.9 98.7l1.2 -3.4l1.1 -3.4l1.2 -3.5l1.0 -3.4l0.0 -3.6l-0.9 -3.5l-1.6 -3.2l-1.9 -3.1M148.2 112.1l1.3 3.4l2.0 3.0l2.5 2.5l2.8 2.2l3.0 2.1l3.1 1.8l3.4 1.2l3.5 0.7l3.6 0.1l3.6 0.1l3.6 -0.1l3.6 0.2M126.9 77.0l2.2 2.8l1.7 3.2l1.2 3.4l0.9 3.5l1.0 3.5l1.2 3.4l0.8 3.5l0.6 3.5l0.2 3.6l0.2 3.6M117.2 118.7l-3.5 1.0l-3.2 1.6l-3.0 2.0l-2.9 2.1l-3.3 1.5l-3.3 1.4M184.8 113.7l-3.5 0.9l-3.5 0.8l-3.4 1.2l-3.3 1.4l-3.2 1.6l-3.4 1.3l-3.5 0.7l-3.5 0.8l-3.6 0.6l-3.6 0.2l-3.6 -0.1l-3.6 -0.2M142.5 158.3l3.4 -1.1l3.4 -1.1l3.4 -1.2l3.5 -0.9l3.5 -1.0l3.3 -1.3l3.4 -1.1l3.2 -1.7M199.5 156.9l-1.9 3.1l-3.6 -0.2l-3.6 0.1l-3.6 0.5l-3.4 1.0l-3.5 0.7l-3.6 0.2l-3.6 0.0l-3.6 0.2l-3.6 0.1l-3.6 0.1l-3.6 -0.3l-3.6 0.2l-3.5 0.6l-3.5 1.0l-3.4 1.1M97.9 53.6l3.6 0.3l3.6 -0.1l3.6 0.0l3.6 0.1l3.6 -0.1l3.6 0.3l3.6 0.7l3.3 1.2M62.5 171.3l-2.1 -2.9l-2.1 -2.9l-1.7 -3.2l-1.3 -3.4l-0.1 -3.6l0.4 -3.5l1.0 -3.5l0.9 -3.5l1.0 -3.4l0.8 -3.5l1.0 -3.5l1.4 -3.3l2.0 -3.0l2.4 -2.7l2.7 -2.4l2.8 -2.3M95.2 78.1l2.8 -2.3l3.3 -1.5l3.3 -1.2l3.4 -1.1l3.4 -1.3l3.4 -1.3l3.3 -1.5l3.4 -1.1M113.8 198.2l-3.2 -1.5l-3.6 -0.6l-3.6 0.3l-3.2 1.7l-2.7 2.3l-2.0 3.0l-1.6 3.3l-3.6 -0.1l-2.8 -2.2l-3.1 -1.8M26.9 136.3l-1.8 -3.1l0.4 -3.5l3.4 -1.1l3.2 -1.8l2.5 -2.5l2.1 -3.0l1.6 -3.2l1.8 -3.1l2.9 -2.2l3.4 -1.0l3.6 -0.4l3.6 -0.1l3.6 -0.3l3.6 -0.2M30.6 137.6l-0.7 3.5l-0.1 3.6l0.5 3.6l1.1 3.4l3.6 0.5l3.6 0.5l3.5 -0.5l3.6 -0.6l3.5 -0.6l3.5 -1.0l3.0 -2.1l2.2 -2.8M108.4 81.9l-0.7 3.5l-0.1 3.6l0.0 3.6l0.8 3.5l0.9 3.5l1.0 3.5M129.5 74.9l-0.4 3.6l-0.3 3.5l-0.6 3.6l-0.9 3.5l-0.6 3.5l-0.7 3.6M152.6 202.6l-3.5 0.5l-1.2 -3.4l-1.1 -3.5l-0.6 -3.5l0.2 -3.6l0.5 -3.6l0.8 -3.5l0.5 -3.6l0.3 -3.5l0.5 -3.6l0.5 -3.6l0.5 -3.5l0.9 -3.5l1.1 -3.5l0.8 -3.5l0.4 -3.5l-0.2 -3.6l-0.3 -3.6M33.9 82.6l0.3 -3.6l0.8 -3.5l1.0 -3.5l3.4 -1.1l3.5 -0.7l3.6 -0.6l3.6 -0.5l3.5 -0.4l3.6 0.6l3.4 1.2l3.2 1.6l2.7 2.4l2.4 2.7l1.9 3.0M89.3 106.3l-3.5 -0.6l-3.5 -1.0l-3.6 -0.5l-3.6 -0.3l-3.5 -0.8l-3.3 -1.3l-3.3 -1.4l-3.2 -1.7M158.5 167.5l-3.1 -1.8l-3.2 -1.6l-3.4 -1.4l-3.5 -0.8l-3.5 -0.8l-3.4 -1.2l-3.5 -0.9l-3.4 -0.9l-3.6 -0.8l-3.4 -1.0M156.3 162.1l-0.2 -3.6l0.1 -3.6l0.0 -3.6l0.3 -3.6l0.6 -3.6l0.9 -3.4l0.7 -3.6l0.4 -3.5l0.1 -3.6l-0.2 -3.6l-0.6 -3.6l-0.7 -3.5M175.5 124.2l3.3 1.3l3.2 1.8l3.0 1.8l2.8 2.3l2.1 3.0l2.2 2.8M135.8 160.3l0.1 3.6l0.4 3.6l0.7 3.5l0.7 3.6l0.8 3.5l1.1 3.4l1.5 3.3l1.9 3.0M91.6 161.4l0.4 -3.5l-0.1 -3.6l-0.6 -3.6l-0.8 -3.5l-0.3 -3.6l-0.1 -3.6M119.0 151.4l0.8 3.5l0.8 3.5l1.2 3.5l1.7 3.1l1.8 3.1l2.1 3.0l1.9 3.0l1.5 3.3l1.4 3.3l1.2 3.4l1.0 3.5l0.6 3.5M57.4 145.7l-3.4 -1.2l-3.5 -0.3l-3.6 -0.1l-3.6 -0.2l-3.6 0.0l-3.6 0.4M84.6 119.9l-0.6 -3.6l-0.4 -3.5l-0.2 -3.6l-0.3 -3.6l-1.0 -3.5l-0.6 -3.5l0.2 -3.6l0.8 -3.5l0.9 -3.5l1.2 -3.4l1.1 -3.4l1.2 -3.4M118.1 64.0l2.4 -2.7l2.8 -2.3l3.0 -2.0l2.7 -2.4l2.7 -2.4l2.5 -2.5M54.3 99.5l3.2 -1.8l2.7 -2.3l2.2 -2.9l1.7 -3.1l2.1 -3.0l2.1 -2.9l1.8 -3.1l1.5 -3.3M89.6 58.9l0.2 -3.6l0.5 -3.5l1.2 -3.4l2.4 -2.8l3.1 -1.6l3.6 -0.4l3.6 0.7l3.4 1.1l3.4 1.0l3.6 0.8l3.5 0.3l3.6 0.3l3.6 0.1l3.6 -0.3M86.2 129.2l2.7 2.4l2.7 2.4l2.7 2.3l2.6 2.5l2.6 2.5l2.3 2.7l2.1 3.0l2.1 2.9l2.2 2.9l2.0 3.0l1.5 3.3l1.1 3.4l0.3 3.6l-0.3 3.5l-0.9 3.5l-1.3 3.4M70.7 139.4l3.6 -0.3l3.6 -0.1l3.6 0.0l3.6 0.1l3.6 0.6l3.3 1.5l3.0 2.0l2.7 2.4l2.7 2.3l2.6 2.5l2.4 2.7l2.2 2.8l2.3 2.8l1.8 3.1M76.1 142.2l-1.7 -3.2l-1.8 -3.1l-1.5 -3.3l-1.5 -3.2l-2.1 -3.0l-2.2 -2.8l-2.7 -2.4l-3.1 -1.8l-3.2 -1.8l-3.4 -0.9l-3.6 0.0l-3.6 0.2l-3.6 0.3l-3.6 0.2M70.8 106.1l1.4 -3.3l1.8 -3.2l2.0 -3.0l2.1 -2.9l2.3 -2.8l2.3 -2.7l2.8 -2.3l3.2 -1.5l3.5 -0.9l3.6 -0.7l3.5 -0.9l3.4 -0.9l3.5 -1.0l3.4 -1.3l3.3 -1.3l3.4 -1.2M93.3 113.5l-2.7 2.4l-2.8 2.3l-2.5 2.5l-2.2 2.8l-2.1 3.0l-2.1 2.9l-1.6 3.2l-0.9 3.5l-0.4 3.6l-0.3 3.6M160.5 159.2l2.4 2.7l2.5 2.6l2.5 2.6l2.2 2.8l2.3 2.7l2.4 2.7l1.7 3.2l1.5 3.3l1.4 3.3l-2.7 2.4l-3.0 2.0l-3.2 1.7M159.4 76.0l-0.4 -3.6l-0.5 -3.5l-0.1 -3.6l0.5 -3.6l1.0 -3.4l1.5 -3.3l1.8 -3.1l1.8 -3.1l2.4 -2.8l2.7 -2.4l3.2 1.6l1.3 3.3l1.0 3.5l0.7 3.5l0.0 3.6l0.1 3.6M185.0 95.7l0.0 3.6l-0.8 3.5l-1.4 3.4l-1.6 3.2l-1.6 3.2l-1.6 3.2l-2.1 3.0l-2.3 2.7l-2.4 2.7l-2.7 2.3M70.9 87.7l-2.8 -2.3l-2.9 -2.2l-2.9 -2.1l-2.6 -2.5l-2.7 -2.4l-2.6 -2.5M89.5 89.1l0.3 3.6l-0.4 3.5l-0.8 3.5l-0.8 3.6l-1.0 3.4l-0.4 3.6l-0.4 3.6l0.3 3.6l1.0 3.4l1.4 3.3M99.9 28.6l-1.5 3.3l-0.9 3.5l-0.6 3.5l-0.7 3.5l-0.8 3.6l-0.9 3.4l-1.3 3.4l-1.0 3.5l-0.8 3.5l-0.3 3.6l-0.3 3.6l-0.2 3.5l-0.3 3.6l-0.3 3.6M98.8 147.3l-3.4 -1.3l-3.5 -0.9l-3.6 -0.1l-3.6 -0.1l-3.6 -0.1l-3.6 0.4l-3.5 0.4l-3.6 0.5l-3.5 0.7l-3.6 0.7M49.5 142.3l0.7 3.5l0.6 3.6l0.4 3.6l0.5 3.5l0.4 3.6l0.2 3.6M77.0 179.4l3.4 -1.4l3.3 -1.4l3.1 -1.9l2.6 -2.4l2.5 -2.6l2.1 -3.0M203.0 144.5l0.6 3.5l-1.8 3.2l-1.8 3.1l-1.5 3.3l-3.6 0.2l-3.6 0.1l-3.6 -0.1l-3.6 0.4l-3.5 0.6l-3.3 1.3l-3.1 1.9l-2.7 2.4l-1.9 3.0l-1.0 3.5M134.9 30.7l0.5 3.6l1.0 3.4l1.5 3.3l2.0 3.0l2.3 2.8l1.7 3.2l1.2 3.3l1.0 3.5l0.7 3.5l0.1 3.6M160.9 85.5l3.4 0.9l3.6 0.7l3.5 0.5l3.6 0.4l3.6 0.1l3.6 -0.1l3.6 -0.3l3.6 0.1M186.4 104.2l-2.4 -2.7l-2.6 -2.4l-2.7 -2.4l-2.8 -2.3l-3.1 -1.8l-3.4 -1.3l-3.5 -0.8l-3.5 -0.8l-3.3 -1.3l-3.5 -1.0l-3.4 -1.1l-3.5 -0.8l-3.6 -0.5l-3.6 -0.4l-3.6 -0.4l-3.5 -0.4M83.9 129.1l3.0 -2.0l2.9 -2.2l2.5 -2.5l2.0 -3.0l2.4 -2.7l3.0 -2.1M197.6 132.2l0.2 -3.6l-0.2 -3.6l-0.6 -3.6l-0.5 -3.5l-0.9 -3.5l-1.8 -3.1l-2.5 -2.7l-2.6 -2.4l-2.6 -2.6l-2.9 -2.1l-3.2 -1.6l-3.3 -1.4l-3.4 -1.2l-3.4 -1.3M78.7 55.1l-3.6 0.6l-3.5 0.8l-3.5 0.9l-3.5 0.8l-3.5 0.7l-3.6 -0.1l-3.6 -0.2l-3.5 -0.9M147.2 81.1l1.8 -3.1l1.4 -3.3l0.9 -3.5l0.9 -3.5l1.5 -3.2l1.8 -3.2l2.1 -2.9l2.0 -3.0l1.8 -3.1l1.5 -3.3l1.2 -3.4l0.5 -3.5l-3.1 -1.8l-3.5 -0.9M77.0 174.9l-2.8 -2.2l-3.0 -2.0l-3.3 -1.5l-3.4 -1.0l-3.4 -1.2l-3.6 0.2l-3.6 0.5l-3.4 1.2l-3.5 0.9l-3.5 0.8M56.3 158.2l3.5 -0.7l3.6 -0.5l3.6 -0.2l3.6 0.0l3.5 0.3l3.5 0.9l3.5 1.0l3.5 0.6l3.6 0.6l3.6 0.5l3.5 0.8l3.2 1.6M110.4 174.2l0.4 -3.5l0.5 -3.6l0.7 -3.5l0.0 -3.6l-0.3 -3.6l-0.6 -3.6M42.5 172.5l1.7 3.2l3.6 0.1l3.6 -0.1l3.6 0.1l3.6 -0.4l3.5 -1.0l3.4 -1.0l3.5 -1.1l3.1 -1.7l3.3 -1.5l3.3 -1.5l2.8 -2.2l2.6 -2.6l2.4 -2.6l1.9 -3.1l2.1 -2.9M93.6 181.4l1.5 3.3l1.5 3.3l1.6 3.2l1.7 3.2l1.8 3.1l1.7 3.1M53.6 57.0l3.2 1.6l3.2 1.7l2.8 2.3l2.6 2.4l2.6 2.5l2.5 2.6l2.3 2.8l2.3 2.7l1.6 3.2l0.9 3.5l0.3 3.6l-0.5 3.6l-0.7 3.5l-1.1 3.5l-1.3 3.3l-1.7 3.2M146.2 122.7l-2.8 2.3l-2.6 2.5l-2.7 2.4l-2.9 2.1l-2.7 2.4l-2.4 2.6l-2.2 2.9l-2.0 3.0l-1.4 3.3l-1.5 3.3l-1.8 3.1l-2.0 3.0l-2.0 3.0l-1.9 3.1l-1.6 3.2l-1.9 3.0l-2.6 2.6l-3.0 1.9M95.8 63.4l-3.6 -0.6l-3.5 -0.3l-3.5 -1.0l-3.4 -1.2l-3.3 -1.5l-2.8 -2.2l-2.4 -2.7l-2.2 -2.9l-2.5 -2.5l-3.0 -2.1l-3.0 -2.0l-2.9 2.2l-2.5 2.6l-1.9 3.0M64.2 121.6l-3.4 -1.2l-3.2 -1.7l-3.1 -1.7l-3.3 -1.5l-3.3 -1.4l-3.4 -1.3l-3.1 -1.8l-3.1 -1.8l-3.1 -1.8l-3.1 -1.8l-3.3 -1.4l-3.4 -1.4l-0.1 -3.6l2.4 -2.8M107.9 93.4l-1.2 3.4l-0.6 3.6l-0.5 3.5l-0.6 3.6l-0.5 3.5l-0.7 3.6l-0.6 3.5l-0.7 3.5M123.4 197.1l1.3 -3.3l1.7 -3.2l1.6 -3.2l1.7 -3.2l1.9 -3.0l2.1 -2.9M147.8 71.8l-1.0 3.5l-1.7 3.2l-2.1 2.9l-2.4 2.7l-2.4 2.6l-2.4 2.8" stroke="#ff3cff" stroke-width="2.30" stroke-dasharray="3 6 2 8 4 5" stroke-linecap="round" fill="none"/><path d="M188.7 105.6h0M198.1 86.4h0M45.1 128.8h0M23.2 112.5h0M26.2 100.8h0M47.8 65.7h0M109.8 53.2h0M64.2 45.6h0M124.4 160.2h0M141.6 124.2h0M165.0 43.4h0M145.3 52.0h0M146.5 122.8h0M95.9 142.2h0M170.8 53.1h0M137.4 90.9h0M148.2 141.5h0M164.3 86.8h0M145.1 65.3h0M125.0 45.0h0M171.2 110.4h0M111.9 133.6h0M164.0 110.2h0M175.0 55.4h0M118.7 150.4h0M111.7 170.7h0M119.9 55.1h0M113.5 34.6h0M189.0 167.3h0M157.3 120.6h0M139.6 205.3h0M164.5 168.0h0M78.4 202.6h0M126.5 189.2h0M112.7 125.9h0M124.1 108.7h0M101.3 85.7h0M129.9 53.7h0M124.7 188.5h0M78.0 176.6h0M132.9 172.9h0M158.3 198.9h0M114.8 103.8h0M149.9 104.0h0M186.7 157.5h0M199.5 124.7h0M68.7 88.8h0M58.5 122.8h0M86.7 188.6h0M56.0 173.7h0M92.9 98.7h0M93.0 71.6h0M148.2 112.1h0M184.2 129.3h0M126.9 77.0h0M136.9 111.0h0M117.2 118.7h0M98.0 128.3h0M184.8 113.7h0M143.1 122.9h0M142.5 158.3h0M169.6 148.9h0M199.5 156.9h0M144.3 165.3h0M97.9 53.6h0M126.4 56.0h0M62.5 171.3h0M71.6 120.7h0M95.2 78.1h0M121.5 66.8h0M113.8 198.2h0M84.4 202.6h0M26.9 136.3h0M60.8 110.8h0M30.6 137.6h0M57.9 145.1h0M108.4 81.9h0M110.3 103.1h0M129.5 74.9h0M126.0 96.2h0M152.6 202.6h0M152.7 143.0h0M33.9 82.6h0M70.8 80.2h0M89.3 106.3h0M61.8 98.7h0M158.5 167.5h0M124.5 156.3h0M156.3 162.1h0M157.7 119.3h0M175.5 124.2h0M192.1 137.2h0M135.8 160.3h0M143.0 187.8h0M91.6 161.4h0M90.1 140.0h0M119.0 151.4h0M135.0 191.1h0M57.4 145.7h0M36.1 144.3h0M84.6 119.9h0M86.9 77.8h0M118.1 64.0h0M134.2 49.7h0M54.3 99.5h0M71.6 77.1h0M89.6 58.9h0M128.9 47.6h0M86.2 129.2h0M110.6 176.5h0M70.7 139.4h0M111.7 161.8h0M76.1 142.2h0M38.5 117.4h0M70.8 106.1h0M116.3 76.2h0M93.3 113.5h0M75.7 143.3h0M160.5 159.2h0M170.5 191.2h0M159.4 76.0h0M176.4 62.7h0M185.0 95.7h0M168.5 126.5h0M70.9 87.7h0M54.4 73.7h0M89.5 89.1h0M88.7 124.2h0M99.9 28.6h0M90.0 77.7h0M98.8 147.3h0M63.3 147.5h0M49.5 142.3h0M52.3 163.7h0M77.0 179.4h0M94.0 166.7h0M203.0 144.5h0M168.6 170.9h0M134.9 30.7h0M146.9 63.9h0M160.9 85.5h0M189.4 87.8h0M186.4 104.2h0M134.4 83.8h0M83.9 129.1h0M99.7 114.6h0M197.6 132.2h0M169.9 96.0h0M78.7 55.1h0M50.4 57.7h0M147.2 81.1h0M158.0 39.4h0M77.0 174.9h0M43.5 170.6h0M56.3 158.2h0M98.5 163.1h0M110.4 174.2h0M111.1 152.8h0M42.5 172.5h0M90.5 154.2h0M93.6 181.4h0M103.4 200.6h0M53.6 57.0h0M72.6 103.0h0M146.2 122.7h0M106.2 172.4h0M95.8 63.4h0M55.3 52.2h0M64.2 121.6h0M27.7 96.4h0M107.9 93.4h0M102.5 121.6h0M123.4 197.1h0M133.7 178.3h0M147.8 71.8h0M135.8 89.5h0" stroke="#ff30ff" stroke-width="3.0" stroke-linecap="round" fill="none"/><path d="M38.8 70.8h0M92.3 58.1h0M98.5 116.1h0M30.2 127.9h0M57.8 145.0h0M67.1 42.6h0M133.6 179.1h0M173.5 71.2h0M134.0 92.0h0M105.7 45.2h0M147.4 197.2h0M153.4 118.1h0M76.1 145.3h0M69.7 103.5h0M192.1 109.2h0M62.9 81.6h0M112.5 166.4h0M176.0 54.3h0M132.0 90.6h0M112.7 164.9h0M174.1 162.4h0M74.4 189.1h0M115.2 158.9h0M111.1 77.0h0M88.8 98.8h0M52.3 175.8h0M136.5 104.2h0M65.8 169.8h0M49.7 175.0h0M159.3 66.9h0M105.9 172.0h0M182.3 158.3h0M75.1 77.0h0M186.2 104.8h0M53.6 57.7h0M173.6 46.1h0M164.5 128.1h0M142.6 126.8h0M91.3 44.1h0M167.2 88.0h0M43.3 71.6h0M77.5 139.3h0M170.9 43.6h0M150.4 122.7h0M61.1 113.4h0M136.5 182.0h0M59.1 139.7h0M91.7 134.7h0M169.4 102.5h0M84.5 37.5h0M133.7 147.3h0M34.3 76.4h0M111.1 75.5h0M71.8 50.9h0M64.4 128.0h0M83.7 188.1h0M152.3 71.3h0M143.0 131.9h0M83.6 108.8h0M143.3 65.2h0M147.8 176.4h0M87.4 39.1h0M45.8 69.4h0M153.6 163.1h0M109.4 160.2h0M175.7 160.3h0M50.1 112.5h0M70.2 79.9h0M56.6 148.5h0M76.2 138.8h0M132.5 158.6h0M52.3 150.2h0M158.6 198.6h0M53.9 176.0h0M147.1 183.1h0M74.7 169.4h0M62.7 122.0h0M61.2 58.4h0M144.5 194.4h0M85.5 117.9h0M139.3 181.8h0M104.5 200.5h0M118.4 53.8h0M101.2 136.2h0M47.2 117.8h0M81.6 163.8h0M155.3 160.6h0M71.1 139.6h0M75.4 142.0h0M122.9 163.3h0M105.8 99.1h0M97.0 138.7h0M174.8 53.2h0M98.2 127.6h0M141.8 46.8h0M183.2 100.4h0M135.0 163.1h0M52.0 153.8h0M160.8 53.8h0M179.3 87.8h0M68.0 48.1h0M153.2 151.3h0M128.5 78.2h0M124.6 188.9h0M137.9 127.6h0M106.5 150.4h0M83.4 162.3h0M173.4 87.9h0M171.9 124.7h0M138.2 125.5h0M180.4 125.4h0M50.2 146.9h0M78.5 158.2h0M103.7 110.6h0M37.2 70.1h0M127.4 131.2h0M129.0 130.2h0M120.4 183.9h0M65.9 125.9h0M154.3 65.8h0M97.9 177.0h0M82.3 179.0h0M157.2 182.3h0M91.6 133.4h0M69.6 168.9h0M166.9 74.3h0M97.3 116.1h0M137.7 177.7h0M145.6 123.6h0M91.1 116.2h0M134.3 174.6h0M68.3 89.1h0M83.9 36.9h0M181.6 98.0h0M131.0 52.2h0M38.2 122.3h0M114.1 133.4h0M49.3 111.4h0M149.3 164.2h0M59.5 97.6h0M90.9 50.3h0M56.9 145.9h0M150.5 160.4h0M132.6 148.9h0M136.3 35.5h0M116.0 154.7h0M66.7 147.7h0M110.7 157.0h0M139.2 141.5h0M108.5 77.9h0M26.8 94.7h0M103.8 118.5h0M66.5 101.7h0M183.0 128.3h0M150.0 123.9h0M138.0 185.3h0M53.0 142.7h0M147.8 60.8h0M112.5 160.4h0M37.5 152.7h0M93.9 141.3h0M115.2 43.5h0M96.8 115.9h0M111.6 74.8h0M161.1 175.0h0M88.7 201.6h0M118.4 49.6h0M59.2 110.9h0M195.2 116.2h0M62.9 167.8h0M154.6 173.7h0M131.3 103.5h0M33.7 127.1h0M160.8 187.2h0" stroke="#2cff2c" stroke-width="2.03" stroke-opacity="1.00" stroke-linecap="round" fill="none"/><path d="M92.1 140.7h0M69.1 169.9h0M156.5 190.3h0M137.7 183.6h0M184.6 153.3h0M185.0 96.3h0M66.9 172.2h0M71.0 78.1h0M144.1 50.8h0M145.3 77.7h0M59.3 156.9h0M89.0 105.2h0M154.1 64.0h0M88.1 160.1h0M144.5 106.4h0M172.6 96.5h0M184.8 157.4h0M119.7 155.5h0M119.8 54.8h0M153.1 112.8h0M117.3 46.0h0M132.5 126.1h0M153.9 203.7h0M197.7 124.1h0M30.0 119.7h0M31.7 105.2h0M83.8 110.3h0M184.3 100.8h0M172.3 138.1h0M60.7 131.1h0M133.1 91.3h0M117.7 67.7h0M46.2 68.9h0M165.4 76.8h0M86.8 159.6h0M157.1 140.2h0M106.9 81.7h0M137.6 176.9h0M110.7 78.3h0M80.7 93.5h0M81.4 97.7h0M142.3 192.1h0M167.9 114.3h0M126.5 157.3h0M46.1 169.8h0M136.7 145.8h0M67.9 47.3h0M30.6 145.9h0M137.6 130.9h0M27.5 104.1h0M105.4 178.8h0M154.4 86.0h0M185.9 158.2h0M110.0 196.8h0M124.8 147.1h0M98.9 33.2h0M146.6 196.3h0M150.7 160.8h0M155.6 122.8h0M121.9 187.4h0M78.0 179.1h0M153.4 121.6h0M151.0 74.1h0M168.0 113.8h0M78.3 179.0h0M110.7 101.5h0M94.6 44.4h0M96.7 38.4h0M90.4 52.4h0M125.5 188.9h0M49.9 151.9h0M97.4 83.8h0M136.4 173.6h0M124.2 55.9h0M174.3 89.5h0M75.4 139.9h0M85.3 163.0h0M187.1 157.1h0M111.8 163.3h0M81.3 86.9h0M44.8 174.9h0M196.0 116.6h0M44.6 76.1h0M120.7 60.3h0M129.6 54.1h0M170.5 161.9h0M197.2 131.2h0M146.5 197.0h0M87.4 105.7h0M176.6 178.9h0M51.2 69.5h0M141.2 190.1h0M62.0 171.7h0M113.9 116.6h0M146.7 51.0h0M34.1 78.4h0M39.8 116.0h0M28.2 143.5h0M66.8 83.3h0M150.9 86.8h0M90.6 62.3h0M45.0 144.4h0M92.7 159.5h0M108.9 178.6h0M154.1 150.0h0M102.6 80.1h0M66.8 88.4h0M186.2 158.2h0M143.0 134.9h0M147.9 75.5h0M143.3 126.1h0M173.5 138.5h0M151.0 84.6h0M75.9 34.9h0M189.0 131.4h0M102.3 197.6h0M73.0 100.2h0M143.1 126.0h0M68.5 127.7h0M91.8 178.9h0M105.6 73.7h0M137.7 39.0h0M107.1 130.3h0M67.3 48.8h0M127.1 186.7h0M57.6 158.1h0M38.1 123.8h0M127.8 130.2h0M161.4 91.1h0M118.5 54.7h0M97.0 177.7h0M104.5 148.4h0M131.8 53.6h0M149.6 164.2h0M73.0 103.0h0M193.6 149.6h0M170.0 70.6h0M117.2 53.2h0M142.2 139.8h0M114.4 127.5h0M92.2 152.4h0M31.2 128.7h0M134.3 146.7h0M105.1 50.2h0M84.8 84.8h0M29.7 142.5h0M170.9 171.1h0M93.7 136.0h0M95.8 43.1h0M117.7 69.2h0M159.8 77.8h0M70.2 117.1h0M58.0 152.4h0M96.1 145.0h0M200.6 88.4h0M46.4 109.4h0M103.2 55.1h0" stroke="#2cff2c" stroke-width="2.50" stroke-opacity="1.00" stroke-linecap="round" fill="none"/><path d="M91.6 61.8h0M164.1 117.1h0M168.7 169.6h0M172.8 97.2h0M158.8 178.3h0M134.9 98.6h0M189.4 104.1h0M172.0 68.8h0M136.4 176.7h0M130.1 175.5h0M152.5 117.3h0M197.0 157.1h0M162.3 117.8h0M192.5 109.0h0M124.9 106.4h0M114.7 114.9h0M148.3 155.1h0M28.2 128.3h0M93.3 182.2h0M173.2 68.9h0M143.4 49.8h0M74.8 36.8h0M176.6 118.5h0M139.6 187.5h0M173.6 121.8h0M95.7 77.5h0M112.5 161.9h0M68.1 124.4h0M190.8 134.6h0M99.1 30.2h0M172.1 70.2h0M68.0 86.0h0M170.8 163.7h0M158.7 58.0h0M162.9 127.5h0M90.4 143.1h0M57.3 157.3h0M142.1 132.3h0M63.1 45.8h0M55.3 58.2h0M101.5 195.5h0M100.6 43.7h0M116.5 163.4h0M184.6 101.4h0M100.6 147.1h0M88.9 95.9h0M175.2 177.0h0M89.4 84.8h0M106.3 179.3h0M66.9 147.6h0M164.1 40.2h0M169.4 148.3h0M173.7 128.6h0M91.9 65.6h0M93.7 43.9h0M185.6 157.9h0M184.6 151.4h0M131.5 52.4h0M105.4 196.5h0M49.6 168.1h0M137.6 110.1h0M181.6 109.6h0M139.2 181.4h0M111.8 169.3h0M75.4 145.8h0M127.8 46.8h0M67.3 171.9h0M171.8 45.8h0M169.3 165.8h0M67.9 103.8h0M137.3 106.3h0M84.6 106.2h0M143.1 161.0h0M186.6 159.5h0M184.6 154.2h0M118.3 153.2h0M178.9 95.6h0M137.0 162.3h0M148.0 203.7h0M195.0 92.8h0M174.3 46.0h0M89.7 117.3h0M108.8 156.6h0M141.0 81.4h0M184.0 103.9h0M188.2 160.1h0M149.4 50.7h0M174.2 80.8h0M171.5 55.3h0M158.0 180.2h0M29.3 144.4h0M163.5 162.4h0M84.0 145.1h0M72.9 102.7h0M167.7 167.7h0M175.0 60.5h0M114.3 164.9h0M173.6 162.9h0M165.2 76.4h0M157.5 86.5h0M39.7 154.0h0M129.1 126.2h0M71.3 70.1h0M169.7 43.8h0M169.5 119.3h0M89.0 145.2h0M88.8 143.7h0M114.5 119.5h0M83.2 176.7h0M198.2 128.2h0M178.6 129.3h0M140.3 188.2h0M68.2 82.0h0M102.4 52.2h0M106.8 152.2h0M172.6 86.7h0M130.1 52.7h0M171.4 170.9h0M117.7 131.5h0M90.3 141.3h0M90.2 132.5h0M147.9 122.9h0M85.4 38.2h0M108.3 179.2h0M107.7 152.2h0M140.9 127.6h0M109.3 98.3h0M113.0 165.2h0M88.0 172.3h0M64.0 88.2h0M143.4 121.5h0M77.2 57.1h0M175.7 87.3h0M196.8 156.7h0M158.1 181.2h0M99.8 137.7h0M27.4 118.4h0M144.9 54.9h0M47.1 111.6h0M116.1 44.5h0M100.7 81.5h0M103.8 179.3h0M58.4 48.4h0M186.7 154.7h0M155.4 120.8h0M125.9 191.6h0M107.2 80.1h0M59.8 135.2h0M116.6 68.9h0M96.0 41.6h0M177.8 97.6h0M132.1 126.3h0M58.9 119.3h0M82.5 99.1h0M103.2 132.1h0M142.6 64.1h0M107.3 196.2h0M153.3 146.8h0M127.4 137.6h0M129.1 49.8h0M153.7 87.3h0M150.3 203.1h0M150.5 131.1h0M88.2 122.9h0M156.1 109.0h0M79.8 127.0h0M82.8 92.3h0M58.0 144.0h0M162.8 77.5h0M143.9 122.8h0M146.6 106.7h0M125.1 126.9h0M154.0 201.2h0M168.6 43.3h0M59.4 166.2h0M60.7 62.4h0M182.8 162.1h0M72.1 157.3h0M84.0 139.1h0M135.3 33.9h0M103.7 196.2h0M141.6 160.7h0M88.0 176.3h0M113.2 161.5h0M110.1 173.6h0M51.4 154.4h0M195.4 93.9h0M95.2 144.7h0M165.6 90.2h0M55.9 69.2h0M53.7 151.6h0M161.5 121.9h0M72.0 171.4h0M158.4 152.6h0M59.4 136.2h0M125.8 195.7h0M173.7 82.6h0M110.1 172.3h0M54.9 157.6h0M113.6 69.5h0M36.3 108.4h0M185.9 103.1h0M39.7 157.6h0M106.8 97.2h0M133.6 121.1h0M110.3 141.5h0M89.0 157.5h0M184.4 106.1h0M142.7 94.1h0M187.4 130.5h0M100.9 133.3h0M28.0 117.2h0M106.4 121.3h0M51.4 57.2h0M141.4 32.8h0" stroke="#2cff2c" stroke-width="2.96" stroke-opacity="1.00" stroke-linecap="round" fill="none"/></g></svg>
<rect x="980.7" y="582.0" width="62" height="4.6" fill="#fff"/>
<svg x="63.5" y="840.0" width="245.5" height="245.5" viewBox="0 0 245.5 245.5" overflow="hidden"><rect width="245.5" height="245.5" fill="#000"/><g transform="translate(0 3.0)" filter="url(#soft)"><path d="M125.4 131.0h0M167.2 175.7h0M96.5 84.8h0M179.2 196.0h0M66.3 175.9h0M88.0 140.6h0M137.7 183.5h0M84.5 36.2h0M110.2 75.9h0M184.5 169.3h0M131.7 84.0h0M152.0 81.6h0M100.7 34.7h0M79.2 134.3h0M72.7 143.7h0M173.8 127.3h0M71.6 163.2h0M195.2 58.3h0M47.0 85.5h0M57.3 93.7h0M72.1 199.4h0M201.9 73.5h0M155.9 170.9h0M126.7 157.6h0M48.6 132.7h0M153.6 193.5h0M95.8 138.5h0M87.6 137.9h0" stroke="#ffffff" stroke-width="1.74" stroke-opacity="0.67" stroke-linecap="round" fill="none"/><path d="M87.7 119.1h0M89.1 68.0h0M141.1 95.7h0M137.1 68.7h0M92.8 101.7h0M202.9 131.2h0M78.6 121.5h0M98.7 33.0h0M139.5 89.7h0M127.1 177.6h0M130.9 55.6h0M124.1 98.4h0M95.9 85.7h0M121.2 139.2h0M78.8 134.9h0M136.3 193.2h0M70.0 170.5h0M203.1 131.1h0M126.0 170.7h0M71.4 202.1h0M175.3 194.7h0M59.5 172.5h0M72.0 125.3h0M76.9 128.1h0M94.4 120.5h0M125.8 173.8h0M96.6 56.2h0M62.0 92.6h0M198.2 96.8h0M63.2 104.9h0M80.6 71.4h0M173.5 200.5h0M47.1 77.4h0M123.7 71.6h0M95.0 102.3h0M75.1 199.1h0M55.9 79.6h0M175.3 190.9h0M103.1 152.0h0M87.4 111.8h0M187.3 158.1h0M201.4 146.2h0M50.3 96.4h0M203.6 123.4h0M163.7 130.1h0M48.8 163.5h0M138.2 81.4h0M101.3 54.7h0M106.5 57.1h0M86.4 207.0h0M89.8 72.9h0M66.8 135.2h0M168.1 197.9h0M178.7 196.9h0M107.6 207.9h0M61.4 111.5h0M106.5 50.2h0M90.9 105.8h0M96.0 191.7h0M150.7 141.6h0M58.1 76.5h0" stroke="#ffffff" stroke-width="1.74" stroke-opacity="1.00" stroke-linecap="round" fill="none"/><path d="M155.2 47.7h0M95.9 149.3h0M93.4 177.7h0M70.9 74.8h0M204.7 182.1h0M150.9 82.1h0M141.1 212.1h0M207.0 82.7h0M95.5 148.9h0M116.1 209.3h0M105.5 174.5h0M147.6 68.6h0M165.7 119.9h0M171.2 107.7h0M188.9 162.4h0M198.4 75.6h0M51.0 138.3h0M188.1 161.0h0M187.3 93.9h0M161.8 103.6h0M181.8 65.6h0M70.3 59.5h0M38.0 138.3h0M97.4 44.3h0M126.3 159.1h0M147.4 140.6h0M64.6 122.7h0M158.2 162.1h0M143.3 206.1h0M146.6 160.9h0" stroke="#ffffff" stroke-width="2.00" stroke-opacity="0.67" stroke-linecap="round" fill="none"/><path d="M98.9 145.5h0M173.4 210.4h0M48.8 128.4h0M116.7 207.5h0M193.8 133.1h0M132.4 82.6h0M110.2 53.3h0M184.4 166.9h0M171.2 199.6h0M173.7 89.9h0M108.7 117.2h0M189.3 47.4h0M116.9 112.9h0M82.3 150.3h0M100.1 141.4h0M158.9 68.8h0M65.6 176.8h0M79.5 72.2h0M158.6 140.8h0M148.8 82.4h0M123.0 177.4h0M123.4 135.3h0M150.2 78.1h0M146.7 222.6h0M121.3 138.6h0M200.2 130.6h0M40.9 153.8h0M83.2 153.7h0M131.8 75.3h0M161.1 169.1h0M126.5 107.2h0M85.7 153.3h0M139.4 123.6h0M199.3 130.6h0M86.7 139.6h0M116.4 56.1h0M137.0 89.9h0M123.4 198.4h0M76.0 79.7h0M76.1 127.1h0M212.7 162.5h0M117.8 94.9h0M167.3 89.4h0M187.5 45.0h0M146.0 108.3h0M124.5 176.4h0M121.3 137.0h0M124.4 138.9h0M103.6 49.3h0M203.9 110.8h0M112.3 204.5h0M86.1 169.0h0M178.4 100.4h0M68.2 195.6h0M118.2 98.4h0M53.9 75.7h0M92.6 162.4h0M211.0 130.6h0M123.5 181.3h0M185.6 49.2h0M114.9 133.6h0M173.8 52.0h0M72.7 59.3h0M139.0 139.7h0M83.2 119.1h0M116.2 69.2h0M109.6 195.1h0M203.5 99.3h0" stroke="#ffffff" stroke-width="2.00" stroke-opacity="1.00" stroke-linecap="round" fill="none"/><path d="M130.1 88.1h0M78.6 136.0h0M110.4 148.4h0M133.6 87.0h0M123.4 153.8h0M131.4 69.3h0M184.3 192.6h0M122.0 121.6h0M169.4 167.4h0M62.6 129.2h0M156.6 191.4h0M51.7 124.6h0M67.7 112.9h0M50.0 88.4h0M159.5 46.6h0M155.9 205.4h0M95.5 50.9h0M153.7 218.2h0M142.4 89.3h0M46.5 98.7h0M148.7 171.2h0M79.4 47.0h0M100.0 151.4h0M147.7 120.3h0M100.3 87.5h0M160.4 196.1h0M48.3 160.2h0M51.0 68.8h0M119.3 114.7h0M118.8 214.1h0M100.6 110.1h0M167.0 185.9h0M146.2 33.6h0M108.8 211.5h0M154.8 117.3h0" stroke="#ffffff" stroke-width="2.26" stroke-opacity="0.67" stroke-linecap="round" fill="none"/><path d="M40.5 150.3h0M115.7 55.3h0M156.9 48.2h0M153.1 162.8h0M170.6 94.7h0M148.4 81.7h0M86.1 199.0h0M114.5 62.6h0M162.0 46.9h0M188.4 160.1h0M171.4 98.6h0M149.7 103.6h0M127.3 182.4h0M179.9 142.8h0M115.2 190.8h0M118.7 157.5h0M176.1 84.2h0M138.4 126.5h0M133.4 133.7h0M206.5 121.3h0M191.1 138.9h0M74.1 171.3h0M170.2 97.9h0M202.8 78.9h0M124.3 72.3h0M67.6 128.1h0M157.5 80.4h0M126.1 131.2h0M144.0 100.6h0M123.0 72.4h0M200.4 164.2h0M134.8 39.8h0M139.1 105.7h0M95.7 102.5h0M122.4 96.1h0M110.6 215.0h0M182.1 122.2h0M175.3 78.1h0M218.9 142.0h0M148.2 42.4h0M109.9 140.5h0M174.0 149.6h0M151.4 100.3h0M73.2 107.3h0M74.3 144.5h0M201.4 172.8h0M50.6 155.0h0M202.2 152.1h0M95.3 35.4h0M101.5 62.6h0M116.4 212.1h0M150.1 122.0h0M162.8 59.0h0M167.2 121.8h0M62.6 64.7h0M60.0 168.1h0M118.0 103.9h0M141.2 81.2h0" stroke="#ffffff" stroke-width="2.26" stroke-opacity="1.00" stroke-linecap="round" fill="none"/></g></svg>
<svg x="312.8" y="840.0" width="245.5" height="245.5" viewBox="0 0 245.5 245.5" overflow="hidden"><rect width="245.5" height="245.5" fill="#000"/><g transform="translate(0 0.0)" filter="url(#soft)"><path d="M68.5 82.1h0M80.6 65.1h0M49.1 169.4h0M69.0 139.5h0M78.0 205.1h0M190.0 176.0h0M54.0 136.8h0M68.1 127.6h0M62.4 131.9h0M158.4 187.9h0M136.4 75.4h0M81.6 69.2h0M96.0 94.1h0M87.0 201.4h0M70.0 146.5h0M80.3 106.5h0M42.6 123.1h0M176.4 78.1h0M192.7 88.2h0M69.5 94.6h0M131.1 197.1h0M148.7 140.7h0M132.3 46.1h0M204.7 119.2h0M132.3 169.7h0M99.9 163.2h0M184.2 57.2h0M43.0 139.2h0M89.9 71.4h0M194.6 128.7h0" stroke="#ffffff" stroke-width="1.62" stroke-opacity="0.67" stroke-linecap="round" fill="none"/><path d="M180.1 101.4h0M148.9 127.9h0M116.2 55.8h0M97.9 136.1h0M137.6 70.4h0M158.5 178.1h0M102.2 163.0h0M63.3 97.1h0M152.3 126.9h0M81.9 185.5h0M170.2 95.7h0M111.2 146.3h0M50.2 126.0h0M121.2 127.9h0M168.7 135.6h0M142.5 82.4h0M160.6 84.4h0M50.0 128.2h0M62.4 134.5h0M114.2 137.6h0M146.0 207.7h0M71.3 122.6h0M100.9 167.6h0M131.3 165.4h0M65.8 96.1h0M165.0 91.3h0M72.9 138.6h0M173.9 132.7h0M108.8 98.9h0M134.0 160.0h0M166.9 164.7h0M166.9 109.6h0M77.3 47.9h0M151.9 86.8h0M147.5 77.4h0M126.3 97.9h0M78.9 46.5h0M126.3 43.2h0M87.8 188.2h0M60.4 57.4h0M52.1 53.2h0M177.8 68.9h0M30.1 108.9h0" stroke="#ffffff" stroke-width="1.62" stroke-opacity="1.00" stroke-linecap="round" fill="none"/><path d="M82.0 107.8h0M113.0 55.8h0M160.4 177.5h0M155.1 62.2h0M177.9 122.6h0M82.6 205.9h0M53.2 145.4h0M172.7 155.8h0M171.9 139.4h0M99.9 122.7h0M118.4 108.8h0M183.9 101.0h0M143.1 149.7h0M47.1 80.4h0M123.3 86.9h0M55.6 159.7h0M155.2 109.6h0M169.6 157.4h0M188.9 162.7h0M146.3 29.8h0M78.2 109.2h0M69.0 51.3h0M36.2 96.2h0" stroke="#ffffff" stroke-width="1.85" stroke-opacity="0.67" stroke-linecap="round" fill="none"/><path d="M194.5 142.8h0M149.4 38.6h0M194.7 112.0h0M192.8 72.5h0M57.7 73.4h0M138.7 129.4h0M193.7 87.9h0M155.4 150.2h0M168.9 93.9h0M213.7 111.5h0M124.7 66.5h0M144.8 204.4h0M184.6 64.6h0M157.4 95.9h0M71.7 117.0h0M117.2 55.1h0M188.0 171.2h0M167.5 136.5h0M53.2 134.8h0M167.9 57.8h0M140.3 142.1h0M110.3 95.0h0M177.7 73.8h0M105.3 107.3h0M151.1 123.7h0M45.2 112.7h0M63.1 148.5h0M54.4 98.9h0M182.7 57.0h0M46.2 104.9h0M78.0 79.9h0M159.1 60.8h0M187.8 136.5h0" stroke="#ffffff" stroke-width="1.85" stroke-opacity="1.00" stroke-linecap="round" fill="none"/><path d="M180.6 127.7h0M69.4 82.7h0M190.4 146.8h0M44.4 89.6h0M89.0 184.8h0M173.5 93.9h0M131.2 121.1h0M177.8 71.5h0M129.4 118.7h0M127.3 200.8h0M182.6 133.4h0M151.5 87.1h0M124.0 52.8h0M98.4 136.2h0M43.6 92.1h0M158.8 174.9h0M82.7 180.9h0M89.1 166.6h0M181.7 101.3h0M132.6 124.3h0M106.5 128.4h0M124.9 84.9h0M44.8 166.7h0M105.8 94.4h0M97.7 32.4h0M85.5 53.5h0M106.3 196.7h0M82.1 196.8h0M191.2 153.1h0M175.5 96.1h0M75.6 37.8h0M178.9 141.0h0" stroke="#ffffff" stroke-width="2.08" stroke-opacity="0.67" stroke-linecap="round" fill="none"/><path d="M90.3 195.5h0M102.6 167.0h0M138.6 203.8h0M83.1 175.4h0M92.9 100.7h0M79.2 69.2h0M185.3 137.6h0M159.4 184.2h0M74.4 63.1h0M70.5 148.9h0M110.2 170.3h0M90.1 185.1h0M48.4 169.4h0M166.0 59.4h0M111.3 145.8h0M142.2 205.5h0M129.5 120.7h0M204.8 159.3h0M99.6 122.0h0M103.3 113.2h0M83.4 174.1h0M141.1 150.3h0M175.9 67.7h0M174.3 71.5h0M180.4 140.3h0M65.4 106.1h0M157.0 181.9h0M62.8 52.1h0M156.7 82.3h0M85.9 60.8h0M117.4 122.7h0M180.8 95.1h0M49.3 108.6h0M171.9 52.0h0M156.3 86.9h0M202.0 107.4h0M101.4 77.9h0M56.8 125.7h0M185.5 149.9h0" stroke="#ffffff" stroke-width="2.08" stroke-opacity="1.00" stroke-linecap="round" fill="none"/></g></svg>
<svg x="562.0" y="840.0" width="245.5" height="245.5" viewBox="0 0 245.5 245.5" overflow="hidden"><rect width="245.5" height="245.5" fill="#000"/><g transform="translate(0 0.0)" filter="url(#soft)"><path d="M180.1 89.0h0M60.4 80.1h0M107.5 115.0h0M197.0 115.1h0M140.5 91.1h0M89.4 203.9h0M143.1 174.2h0M60.9 172.2h0M121.2 58.0h0M143.5 124.3h0M142.8 108.3h0M193.9 150.8h0M100.9 98.7h0M99.2 195.2h0M137.6 159.8h0M148.7 199.5h0M160.3 94.7h0M144.3 145.1h0M163.5 182.6h0M78.1 181.1h0M126.2 150.6h0M99.9 204.4h0M85.6 82.4h0M163.4 140.5h0M139.5 161.7h0M187.1 170.5h0M127.8 105.1h0M146.5 186.5h0M136.8 134.6h0M203.9 150.4h0M90.5 181.5h0M123.1 105.8h0M141.5 86.9h0M70.0 118.9h0M192.1 127.6h0M91.4 200.9h0M124.5 140.5h0M130.1 161.9h0M130.5 121.7h0M64.8 110.4h0M129.9 59.2h0M204.2 154.5h0M126.4 152.1h0M202.3 142.3h0M86.7 161.1h0M201.8 142.9h0M125.3 135.6h0M105.1 155.7h0M100.1 121.7h0M104.7 126.0h0M129.5 60.0h0M155.7 86.8h0M143.4 203.4h0M132.6 160.3h0M94.3 79.3h0M90.5 109.6h0M164.8 132.1h0M85.9 80.2h0M126.0 150.0h0M184.8 169.3h0M72.9 79.9h0M142.2 174.3h0M74.6 72.3h0M129.0 77.1h0M94.7 88.4h0M115.7 167.2h0M132.0 131.7h0M126.8 143.2h0M140.1 152.4h0M164.6 183.3h0M148.8 186.2h0M118.8 92.7h0M184.4 120.3h0M111.1 163.5h0M66.3 80.6h0M61.7 84.6h0M160.7 195.8h0M131.1 105.8h0" stroke="#ffffff" stroke-width="1.77" stroke-opacity="0.67" stroke-linecap="round" fill="none"/><path d="M110.9 165.8h0M115.8 98.9h0M128.1 190.2h0M146.1 185.6h0M97.2 109.1h0M49.7 151.9h0M168.0 141.8h0M139.8 157.0h0M107.1 169.4h0M77.3 199.4h0M104.7 179.1h0M101.4 103.2h0M114.2 58.2h0M126.8 78.7h0M160.2 103.7h0M71.5 176.6h0M70.8 123.9h0M53.8 100.3h0M109.6 186.1h0M149.2 191.5h0M90.7 81.7h0M161.3 148.2h0M96.2 93.6h0M139.7 84.4h0M73.8 167.9h0M124.7 176.7h0M110.0 103.5h0M62.9 171.1h0M158.7 134.5h0M93.8 113.7h0M103.4 105.2h0M117.9 55.4h0M175.3 114.5h0M115.1 99.9h0M163.2 131.1h0M141.2 77.3h0M140.8 186.2h0M76.7 192.7h0M130.5 113.2h0M95.9 130.8h0M49.5 152.0h0M167.0 82.1h0M172.6 84.2h0M176.1 116.5h0M94.6 67.6h0M166.4 155.2h0M61.2 100.1h0M113.9 177.4h0M60.6 94.9h0M115.4 56.7h0M106.3 64.3h0M158.8 86.9h0M172.5 91.6h0M140.6 97.3h0M149.6 127.2h0M100.9 120.5h0M179.9 98.7h0M122.9 132.0h0M80.9 79.4h0M103.6 157.0h0M115.9 163.2h0M127.2 52.4h0M115.4 197.5h0M109.7 194.7h0M96.4 177.6h0M100.5 71.7h0M77.4 181.1h0M202.4 152.8h0M166.3 175.3h0M82.5 162.0h0M144.8 143.1h0M69.7 179.2h0M59.3 132.9h0M142.2 190.2h0M91.5 192.2h0M145.2 154.7h0M112.2 102.8h0M74.5 108.2h0M60.1 92.7h0M89.4 199.5h0M84.0 92.0h0M129.2 59.2h0M126.0 111.4h0M96.2 172.4h0M78.4 133.9h0M128.4 106.0h0M64.6 171.3h0M147.2 139.0h0M114.0 79.6h0M123.4 105.5h0M70.6 170.1h0M82.0 89.9h0M128.0 129.6h0M53.2 146.9h0M141.4 210.7h0M79.5 201.3h0M109.2 185.0h0M189.5 179.4h0M150.7 85.7h0M106.2 170.0h0M73.1 172.6h0M54.0 157.4h0M68.4 179.3h0M59.0 128.1h0M110.6 165.5h0M146.8 114.5h0M90.7 109.3h0M141.7 161.1h0M116.0 163.1h0M71.7 111.6h0M146.4 144.6h0M107.3 165.4h0M176.9 138.5h0M117.8 49.9h0M184.3 136.6h0M81.6 109.5h0M54.4 147.4h0M130.7 213.5h0M113.5 169.6h0M147.6 186.9h0M102.7 195.2h0M166.2 178.6h0M147.1 187.3h0M187.6 122.6h0M57.6 88.3h0M97.7 99.6h0M132.3 174.5h0M137.2 62.4h0M163.1 87.0h0M162.5 182.9h0M87.0 105.1h0M169.5 199.5h0M101.7 177.6h0M109.4 166.4h0M58.5 102.4h0M143.6 176.6h0M119.0 53.3h0M185.1 189.2h0M167.6 154.4h0M96.3 153.4h0M70.2 123.6h0M199.6 113.0h0M167.2 134.5h0M169.3 181.9h0M147.3 188.3h0M178.8 88.5h0M101.5 118.3h0M126.8 151.4h0M180.9 152.9h0M81.6 203.4h0M118.4 170.6h0M198.5 112.3h0M171.1 131.7h0M146.1 143.0h0M49.2 117.2h0M145.6 91.6h0M56.8 159.4h0M84.0 148.6h0M131.7 106.8h0M153.9 182.1h0M163.2 159.0h0" stroke="#ffffff" stroke-width="1.77" stroke-opacity="1.00" stroke-linecap="round" fill="none"/><path d="M95.8 57.5h0M54.3 143.2h0M65.9 169.0h0M84.2 63.3h0M59.7 129.9h0M200.1 162.2h0M75.4 131.8h0M87.0 80.3h0M128.2 79.2h0M179.7 133.0h0M124.2 127.9h0M170.5 192.2h0M90.4 200.5h0M177.7 90.0h0M113.8 158.3h0M66.6 124.5h0M101.1 120.1h0M58.9 130.9h0M113.9 162.7h0M79.6 197.6h0M170.7 104.5h0M83.8 203.9h0M129.3 114.1h0M120.1 186.0h0M180.6 160.6h0M199.9 134.8h0M113.1 103.1h0M175.9 117.2h0M140.9 84.7h0M159.6 85.3h0M81.0 79.6h0M61.6 109.1h0M86.9 82.6h0M88.0 86.2h0M120.7 79.0h0M123.8 206.0h0M150.4 125.4h0M148.8 136.4h0M141.8 177.5h0M109.8 196.7h0M160.8 106.6h0M141.1 152.3h0M181.3 141.6h0M68.0 135.8h0M105.5 69.0h0M127.5 150.4h0M188.7 126.3h0M107.1 112.7h0M87.3 157.8h0M99.3 121.1h0M145.1 142.9h0M89.2 164.6h0M113.8 61.8h0M101.0 164.8h0M159.1 157.8h0M112.3 197.1h0M74.4 180.1h0M189.9 166.0h0M163.7 80.6h0M146.3 118.3h0M98.9 74.3h0M70.6 154.5h0M85.0 160.4h0M121.7 80.0h0M148.0 188.5h0M124.4 126.6h0M186.1 123.3h0M66.3 155.4h0M167.3 176.0h0M95.6 139.4h0M140.8 91.8h0M166.0 173.2h0M98.1 143.3h0M168.1 140.8h0M101.3 149.8h0M77.0 111.9h0M111.8 171.6h0M71.1 124.0h0M84.5 79.4h0M143.9 149.9h0M74.6 172.6h0M181.6 152.5h0M140.4 108.1h0M183.3 138.0h0M171.4 191.7h0M82.7 156.8h0M195.9 112.5h0M99.8 122.1h0M119.8 50.5h0M203.1 144.1h0M173.7 166.4h0M169.2 106.3h0M113.3 176.3h0M133.0 56.1h0M68.6 99.9h0M147.8 87.0h0M45.8 137.6h0M148.4 94.5h0" stroke="#ffffff" stroke-width="2.10" stroke-opacity="0.67" stroke-linecap="round" fill="none"/><path d="M82.3 202.1h0M147.2 184.8h0M109.7 184.2h0M105.2 211.4h0M82.1 169.7h0M89.0 103.5h0M83.7 108.4h0M144.5 180.5h0M176.0 87.0h0M196.7 127.4h0M104.3 180.5h0M125.6 62.5h0M160.2 151.3h0M120.8 157.9h0M133.1 132.8h0M203.4 145.5h0M79.2 111.2h0M146.1 131.0h0M196.0 124.6h0M84.7 197.8h0M98.0 195.8h0M120.3 79.5h0M141.0 203.2h0M58.8 132.7h0M140.3 155.0h0M114.0 197.6h0M74.0 166.8h0M134.0 132.7h0M81.6 180.1h0M100.3 177.0h0M159.0 81.4h0M113.9 167.2h0M137.6 159.2h0M84.0 179.0h0M40.9 142.1h0M103.3 183.0h0M142.1 77.5h0M88.1 204.6h0M57.0 138.3h0M135.0 212.4h0M67.1 135.6h0M139.3 167.2h0M142.2 73.9h0M111.3 165.2h0M131.3 109.9h0M176.6 119.6h0M183.1 98.8h0M58.5 150.9h0M155.8 99.5h0M143.3 198.7h0M139.6 85.6h0M142.7 200.4h0M101.5 152.5h0M85.8 131.5h0M141.2 71.5h0M141.1 78.8h0M177.1 89.3h0M78.6 127.1h0M102.8 58.3h0M107.9 108.4h0M151.0 127.3h0M145.3 142.0h0M75.8 111.5h0M100.1 120.2h0M192.7 128.2h0M93.2 202.8h0M157.4 77.8h0M104.6 126.7h0M160.3 157.1h0M103.3 69.2h0M61.3 97.6h0M121.8 177.1h0M82.7 195.3h0M174.7 152.7h0M114.1 102.5h0M107.1 168.0h0M76.4 62.9h0M78.1 178.2h0M178.6 133.8h0M188.9 118.1h0M113.6 178.3h0M102.3 120.3h0M183.7 142.0h0M118.7 93.5h0M72.4 134.0h0M98.1 111.3h0M183.1 99.9h0M180.4 160.8h0M83.9 88.7h0M72.3 81.2h0M122.9 94.4h0M147.1 183.4h0M85.3 177.8h0M153.0 59.2h0M176.2 86.5h0M82.3 204.7h0M61.8 97.8h0M86.6 130.7h0M97.0 144.2h0M91.8 201.5h0M162.2 168.7h0M77.9 72.6h0M182.1 154.5h0M95.5 95.5h0M98.9 161.8h0M105.0 194.5h0M97.3 94.2h0M71.0 171.0h0M144.5 181.5h0M158.7 100.5h0M117.5 54.8h0M102.2 209.2h0M132.1 110.3h0M92.4 128.0h0M127.5 189.7h0M103.9 112.0h0M124.7 171.4h0M143.0 199.1h0M160.0 104.0h0M104.7 118.1h0M76.5 180.4h0M115.1 164.0h0M166.4 163.6h0M121.0 104.5h0M100.1 173.9h0M171.9 89.7h0M121.3 125.4h0M118.0 93.8h0M178.6 157.2h0M99.2 173.7h0M143.3 73.6h0M100.2 146.6h0M84.4 78.9h0M64.6 136.4h0M76.1 179.6h0M134.0 65.4h0M115.8 198.0h0M96.3 175.5h0M125.3 109.9h0M59.5 127.7h0M116.6 167.0h0M121.1 49.9h0M140.4 75.1h0M108.9 115.8h0M167.1 175.6h0M159.6 104.8h0M158.1 161.7h0M95.8 78.8h0M146.2 66.5h0M136.9 180.7h0M122.0 202.6h0M143.3 66.1h0M93.0 115.0h0M95.5 198.4h0M116.3 169.4h0M163.3 82.0h0M96.4 125.7h0M138.1 85.6h0M93.7 113.7h0M148.0 141.1h0M94.9 155.7h0M142.4 184.5h0M80.7 92.2h0M129.9 64.6h0M175.6 155.0h0M112.2 178.8h0M127.1 128.7h0M200.2 112.9h0M128.8 57.6h0M140.0 69.9h0M63.6 102.5h0M72.4 172.7h0M92.9 207.8h0M62.1 146.2h0M59.6 131.8h0M143.5 173.5h0M77.2 112.6h0M138.2 135.5h0M105.1 193.6h0M71.5 99.0h0M139.0 71.5h0M177.3 85.5h0M178.4 131.3h0M166.3 134.3h0M62.3 82.2h0M65.3 128.0h0M188.1 181.6h0M145.6 153.5h0M68.6 106.6h0M140.4 199.5h0M62.4 130.5h0M110.4 143.0h0M167.7 159.1h0" stroke="#ffffff" stroke-width="2.10" stroke-opacity="1.00" stroke-linecap="round" fill="none"/><path d="M146.6 119.1h0M163.1 131.4h0M172.2 136.6h0M121.8 185.5h0M99.9 121.1h0M84.8 160.1h0M109.5 183.3h0M56.3 155.7h0M92.3 201.6h0M89.1 177.4h0M102.4 117.0h0M84.1 86.6h0M147.0 182.9h0M84.3 64.7h0M106.0 158.7h0M95.5 78.8h0M82.8 90.1h0M133.0 65.2h0M165.3 82.6h0M118.0 161.0h0M41.7 148.4h0M83.9 82.7h0M112.1 125.3h0M127.0 149.9h0M108.3 211.4h0M141.9 155.5h0M63.2 154.7h0M42.2 136.7h0M199.6 162.1h0M164.9 181.7h0M101.7 179.2h0M140.6 85.1h0M189.2 166.8h0M186.6 99.6h0M62.7 125.9h0M84.5 193.7h0M85.7 159.4h0M185.0 137.1h0M146.2 183.3h0M197.2 119.5h0M50.9 153.5h0M137.6 109.1h0M101.1 153.5h0M116.4 57.1h0M206.0 147.3h0M77.2 190.2h0M129.6 136.0h0M60.0 94.2h0M144.9 153.8h0M45.2 148.9h0M71.9 178.6h0M196.0 116.2h0M182.5 100.9h0M93.2 136.5h0M98.8 164.8h0M102.9 110.2h0M200.6 139.6h0M143.0 149.9h0M65.9 136.9h0M91.0 88.9h0M189.2 178.0h0M103.1 194.7h0M125.1 140.2h0M78.2 164.4h0M140.4 65.7h0M75.5 130.5h0M115.8 103.6h0M138.4 107.0h0M120.0 159.5h0M90.9 127.6h0M102.3 161.6h0M99.2 120.4h0M107.3 191.1h0M144.1 136.7h0M129.4 53.1h0M143.4 150.2h0M121.6 124.8h0M97.8 176.4h0M94.9 170.8h0M168.8 145.9h0M84.1 205.5h0M121.9 157.6h0M143.0 68.8h0M156.5 80.4h0M139.5 213.1h0M81.5 63.9h0M93.7 136.2h0M142.2 109.8h0M112.9 88.1h0M74.8 84.6h0M77.7 132.0h0" stroke="#ffffff" stroke-width="2.43" stroke-opacity="0.67" stroke-linecap="round" fill="none"/><path d="M184.5 140.2h0M103.0 194.6h0M120.5 125.2h0M122.7 170.8h0M119.5 103.2h0M110.3 82.2h0M90.5 109.1h0M85.4 109.6h0M77.6 194.1h0M95.0 197.0h0M168.6 153.3h0M178.1 68.5h0M188.2 119.9h0M82.2 161.9h0M160.0 97.8h0M127.1 78.7h0M179.9 90.9h0M178.4 123.8h0M107.1 67.1h0M196.2 133.5h0M161.0 116.6h0M169.0 140.2h0M190.1 183.0h0M135.5 159.2h0M154.0 132.5h0M138.7 83.8h0M112.6 170.9h0M72.7 71.7h0M140.3 82.2h0M159.4 86.5h0M106.2 159.5h0M142.6 178.3h0M59.4 94.8h0M55.8 85.9h0M189.1 183.0h0M174.0 151.2h0M61.6 102.9h0M129.9 149.8h0M91.8 109.8h0M43.2 137.0h0M69.4 135.3h0M121.4 126.5h0M103.8 116.0h0M74.6 135.7h0M61.5 100.7h0M59.2 132.3h0M98.9 123.5h0M90.5 164.8h0M164.3 92.0h0M108.0 191.6h0M110.7 172.8h0M140.6 183.8h0M89.3 204.3h0M90.5 84.3h0M67.0 110.1h0M193.0 152.1h0M104.5 210.9h0M97.1 145.2h0M69.2 136.9h0M118.7 50.2h0M162.0 146.1h0M58.9 107.2h0M105.9 126.4h0M125.0 177.2h0M137.7 81.9h0M179.7 98.3h0M65.6 109.3h0M157.9 86.3h0M82.4 132.3h0M77.5 192.2h0M97.3 73.6h0M93.5 79.4h0M156.0 100.0h0M117.2 198.5h0M126.7 51.8h0M160.5 152.7h0M182.9 90.5h0M58.4 129.1h0M176.1 87.6h0M109.6 165.7h0M107.7 64.0h0M140.2 163.7h0M86.2 76.4h0M188.9 101.0h0M71.0 172.2h0M159.5 90.4h0M177.2 96.8h0M162.4 60.9h0M71.3 177.0h0M170.1 103.0h0M185.4 138.8h0M121.6 90.4h0M185.2 139.8h0M144.9 180.5h0M138.1 157.8h0M79.4 202.5h0M143.3 136.0h0M180.9 151.4h0M168.3 134.9h0M120.1 176.9h0M204.7 147.7h0M144.0 124.7h0M166.9 170.5h0M102.7 107.0h0M81.5 79.5h0M184.9 152.7h0M100.0 70.9h0M52.5 151.7h0M85.7 80.8h0M61.7 101.7h0M79.4 201.1h0M108.2 105.4h0M134.1 160.5h0M121.0 164.2h0M72.5 117.3h0M94.8 198.5h0M127.7 188.8h0M69.6 168.8h0M152.4 134.0h0M40.6 139.3h0M142.5 147.8h0M180.2 162.1h0M157.2 183.4h0M140.5 176.2h0M87.4 198.0h0M129.1 189.2h0M181.1 90.6h0M144.0 173.3h0M141.0 181.6h0M74.7 113.7h0M97.2 129.2h0M145.1 164.9h0M189.7 166.5h0M129.7 188.4h0M148.6 192.5h0M101.8 184.3h0M167.9 82.6h0M47.3 148.9h0M121.1 143.1h0M130.3 213.2h0M140.2 182.7h0M144.3 106.5h0M93.7 125.2h0M97.5 174.5h0M117.3 170.3h0M90.8 203.1h0M119.1 104.4h0M173.6 93.7h0M111.3 80.6h0M110.9 64.6h0M101.5 148.0h0M85.1 82.3h0M99.8 176.9h0M200.7 157.6h0M116.0 160.9h0M171.6 109.1h0M142.3 74.1h0M148.1 188.2h0M54.8 144.2h0M49.6 151.6h0M198.5 161.2h0M85.9 161.0h0M126.4 188.0h0M100.5 111.1h0M152.6 134.3h0M93.6 109.5h0M89.1 108.2h0M98.4 124.3h0M73.9 138.0h0M173.5 152.2h0M92.9 162.1h0M137.2 69.3h0M131.8 78.7h0M146.6 129.8h0M135.5 207.6h0M133.9 139.2h0M87.5 75.6h0M122.1 209.3h0M82.4 130.1h0" stroke="#ffffff" stroke-width="2.43" stroke-opacity="1.00" stroke-linecap="round" fill="none"/></g></svg>
<svg x="811.0" y="840.0" width="245.5" height="245.5" viewBox="0 0 245.5 245.5" overflow="hidden"><rect width="245.5" height="245.5" fill="#000"/><g transform="translate(0 0.0)" filter="url(#soft)"><path d="M193.5 163.0h0M140.3 137.6h0M191.6 121.6h0M97.5 164.7h0M122.5 192.6h0M133.1 125.1h0M85.9 175.3h0M137.7 129.8h0M111.4 197.5h0M67.6 130.3h0M51.4 125.7h0M132.2 192.0h0M102.5 163.3h0M177.6 165.3h0M98.4 126.8h0M174.4 160.6h0M73.2 73.3h0M65.7 94.2h0M138.7 102.9h0M98.5 137.6h0M140.3 97.9h0M154.3 162.2h0M177.4 130.2h0M128.6 72.3h0M126.1 58.1h0M45.5 117.3h0M105.7 177.5h0M53.9 159.3h0M144.9 44.4h0M180.7 139.0h0M71.1 103.8h0M174.2 114.9h0M140.6 123.2h0M165.5 172.9h0M117.6 64.8h0M193.2 133.7h0M116.4 88.1h0M172.9 122.9h0M139.0 184.1h0M121.4 154.8h0M114.3 47.5h0M191.2 120.2h0M45.9 111.4h0M176.7 104.6h0M59.2 136.9h0M78.3 71.9h0M109.6 181.0h0M162.7 168.4h0M137.7 119.7h0M130.0 54.4h0M64.3 112.1h0M183.1 165.7h0M105.6 187.0h0M87.1 116.8h0M80.9 155.7h0M195.6 147.6h0M126.2 57.9h0M70.7 125.5h0M34.1 111.1h0M73.8 126.8h0M168.7 167.7h0M130.2 191.2h0M125.1 57.7h0M102.0 137.4h0M139.5 113.1h0M118.9 95.1h0M161.3 152.0h0M117.6 52.2h0M193.1 162.7h0M150.1 200.6h0M44.1 84.8h0M92.9 99.8h0M169.7 119.9h0M56.5 132.6h0M117.1 81.5h0M95.3 176.4h0M134.3 96.3h0M56.2 128.2h0M72.4 125.8h0M121.3 140.5h0M199.1 117.0h0M126.4 151.9h0M116.8 82.2h0M145.7 110.4h0M130.2 80.1h0M98.4 147.7h0M147.9 175.7h0M90.5 49.8h0M134.0 197.8h0M115.7 210.3h0M43.3 164.0h0M90.6 181.7h0" stroke="#ffffff" stroke-width="1.77" stroke-opacity="0.67" stroke-linecap="round" fill="none"/><path d="M132.8 85.0h0M123.8 167.9h0M66.2 180.3h0M117.5 49.4h0M47.7 154.9h0M144.6 45.9h0M76.8 195.9h0M117.7 186.2h0M103.0 141.1h0M53.5 165.1h0M161.0 169.6h0M57.0 121.5h0M97.1 92.4h0M131.5 83.4h0M114.7 105.0h0M142.4 164.7h0M46.7 113.2h0M115.0 90.5h0M119.5 187.9h0M128.3 145.1h0M167.8 153.3h0M48.7 76.7h0M77.1 96.8h0M77.2 200.0h0M139.7 76.2h0M159.9 127.5h0M149.9 119.1h0M171.9 165.8h0M104.5 131.7h0M101.0 91.1h0M136.7 136.0h0M147.8 104.5h0M121.8 165.7h0M172.3 103.7h0M76.8 77.1h0M91.5 125.2h0M150.3 68.8h0M69.9 165.3h0M80.7 91.0h0M94.2 97.2h0M124.8 58.0h0M115.8 66.1h0M110.9 83.9h0M171.6 123.4h0M133.4 113.7h0M121.8 54.7h0M109.7 196.2h0M112.0 198.9h0M88.0 136.5h0M131.3 162.1h0M147.7 112.8h0M131.0 196.3h0M69.6 117.8h0M85.3 177.2h0M63.9 141.1h0M45.5 155.1h0M94.2 177.7h0M98.3 104.9h0M166.7 153.7h0M115.8 138.3h0M186.5 166.2h0M81.1 146.4h0M80.5 77.3h0M86.7 113.7h0M88.6 186.5h0M84.4 136.5h0M119.6 92.1h0M144.8 111.0h0M159.7 124.9h0M157.6 100.3h0M123.5 198.6h0M92.6 183.4h0M162.2 167.4h0M144.0 133.1h0M172.4 110.2h0M119.4 160.9h0M183.2 122.3h0M98.2 139.9h0M143.8 156.8h0M63.7 130.6h0M56.6 118.4h0M105.5 43.9h0M149.3 150.5h0M157.4 103.5h0M56.2 129.8h0M89.0 168.8h0M137.8 153.7h0M104.6 79.5h0M94.4 55.7h0M132.8 125.3h0M81.6 78.1h0M46.6 144.4h0M159.5 94.3h0M179.2 109.1h0M149.7 204.6h0M142.9 155.4h0M163.9 167.4h0M149.3 99.6h0M125.8 208.0h0M115.2 209.5h0M153.2 176.5h0M158.9 128.6h0M129.3 140.5h0M130.8 143.3h0M150.4 64.4h0M101.4 43.5h0M57.6 118.2h0M157.6 177.2h0M104.9 175.3h0M148.4 100.8h0M84.9 145.6h0M66.9 180.3h0M173.9 103.6h0M108.9 182.3h0M89.3 77.2h0M173.8 130.5h0M94.3 44.1h0M100.4 164.1h0M187.5 125.2h0M182.3 144.8h0M69.0 163.9h0M187.4 170.0h0M138.6 128.1h0M146.3 77.5h0M154.7 164.0h0M147.7 192.4h0M190.2 86.1h0M162.8 108.8h0M120.8 166.9h0M162.4 176.7h0M138.7 116.6h0M101.0 132.0h0M43.7 134.1h0M78.6 145.1h0M57.0 147.9h0M82.5 184.5h0M68.6 128.7h0M169.7 167.4h0M133.8 88.8h0M172.2 122.2h0M171.3 179.5h0M134.3 193.5h0M190.9 163.0h0M138.5 129.6h0M160.0 94.0h0M43.5 130.8h0M103.6 147.0h0M149.4 200.9h0M137.0 83.7h0M143.1 182.6h0M62.2 111.1h0M143.6 154.1h0M191.6 162.2h0M89.7 96.8h0M77.5 74.4h0M68.4 116.9h0M104.3 142.0h0M137.2 82.3h0M117.1 86.8h0M87.0 170.6h0M152.8 111.8h0M157.0 68.8h0M56.1 153.6h0M116.4 114.9h0M106.3 42.0h0M107.5 187.6h0M119.8 163.9h0M172.8 123.1h0M143.3 135.8h0M153.3 145.8h0M171.9 133.2h0M151.0 49.9h0M134.2 191.3h0M53.3 179.6h0M185.3 95.5h0M103.5 77.0h0M193.0 108.8h0M148.6 130.9h0M127.5 128.1h0M155.5 91.2h0" stroke="#ffffff" stroke-width="1.77" stroke-opacity="1.00" stroke-linecap="round" fill="none"/><path d="M108.1 147.0h0M84.4 163.4h0M149.3 158.9h0M127.3 158.6h0M162.3 168.7h0M161.6 151.5h0M125.5 71.1h0M120.5 54.7h0M50.6 158.9h0M177.5 90.6h0M163.0 131.7h0M98.9 109.2h0M84.5 84.5h0M111.8 204.7h0M117.0 184.9h0M175.7 164.9h0M188.1 87.8h0M88.1 177.1h0M126.4 175.0h0M149.6 147.6h0M166.6 124.8h0M136.7 149.2h0M87.1 207.0h0M98.4 102.5h0M106.1 191.2h0M92.3 43.2h0M45.0 79.5h0M198.8 111.6h0M187.1 143.8h0M85.7 81.7h0M80.7 185.2h0M168.4 124.5h0M174.0 123.0h0M77.2 143.6h0M128.9 163.1h0M77.8 81.0h0M89.5 124.8h0M175.4 117.0h0M138.9 97.3h0M179.2 121.9h0M123.5 197.2h0M125.8 152.1h0M88.0 162.1h0M58.1 85.1h0M90.9 136.4h0M55.2 172.5h0M176.2 104.7h0M67.9 156.2h0M160.7 90.0h0M124.9 143.1h0M57.1 145.9h0M114.6 209.5h0M173.2 109.0h0M179.5 108.3h0M109.5 199.5h0M150.5 62.1h0M143.9 173.3h0M133.1 92.2h0M101.7 63.2h0M98.3 129.2h0M96.4 97.0h0M114.3 154.2h0M72.0 106.5h0M129.7 94.9h0M110.1 76.4h0M96.9 138.9h0M100.5 105.7h0M72.0 168.6h0M125.4 143.9h0M146.8 62.4h0M149.9 146.4h0M130.9 80.1h0M143.6 105.8h0M132.0 190.8h0M177.8 86.9h0M62.2 113.3h0M126.4 156.7h0M148.6 203.5h0M154.2 121.5h0M64.1 148.3h0M147.9 162.9h0M127.3 104.2h0M47.3 144.9h0M138.4 118.6h0M49.9 73.0h0M143.4 99.5h0M88.9 117.5h0M83.5 94.2h0M83.6 95.5h0M99.8 66.6h0M139.8 115.4h0M93.4 101.2h0M48.5 152.1h0M103.2 167.6h0M174.0 165.8h0M184.3 113.1h0M59.9 117.8h0M146.9 179.7h0M54.5 180.6h0M82.7 101.9h0M127.5 49.8h0" stroke="#ffffff" stroke-width="2.10" stroke-opacity="0.67" stroke-linecap="round" fill="none"/><path d="M97.8 87.4h0M78.6 189.3h0M50.8 123.4h0M144.6 155.7h0M42.8 133.5h0M94.8 146.2h0M97.2 150.9h0M135.7 190.7h0M156.1 148.3h0M61.3 88.2h0M192.0 104.8h0M118.1 134.3h0M70.9 165.4h0M94.5 96.8h0M78.4 79.6h0M144.3 162.7h0M154.9 128.9h0M142.8 76.2h0M157.5 67.9h0M78.8 146.2h0M176.2 127.1h0M57.9 132.6h0M108.8 146.7h0M84.5 146.9h0M180.5 132.1h0M137.7 120.7h0M109.6 87.9h0M139.5 113.7h0M52.6 156.1h0M57.9 139.4h0M105.7 137.8h0M151.1 68.0h0M90.1 76.3h0M182.2 133.9h0M99.5 104.6h0M67.7 100.3h0M173.4 181.8h0M47.6 112.2h0M71.0 195.1h0M172.0 122.9h0M90.0 127.8h0M111.2 109.3h0M70.9 170.1h0M109.1 165.8h0M77.7 73.3h0M90.8 178.8h0M196.2 119.1h0M139.2 134.9h0M100.8 186.9h0M76.3 105.3h0M147.7 158.9h0M189.0 155.7h0M93.5 208.2h0M110.8 165.2h0M164.9 105.0h0M60.9 113.6h0M99.2 184.3h0M96.5 183.5h0M125.1 58.2h0M167.5 73.3h0M69.6 73.7h0M87.8 131.9h0M185.2 146.1h0M90.4 169.1h0M54.3 73.9h0M42.7 128.1h0M50.4 153.8h0M56.0 139.5h0M189.4 123.6h0M90.6 206.4h0M63.7 73.2h0M139.0 105.5h0M86.5 174.9h0M134.4 160.2h0M142.9 163.4h0M114.7 209.2h0M100.2 68.3h0M75.4 99.0h0M64.5 94.5h0M187.3 105.6h0M124.3 100.9h0M141.7 76.2h0M83.8 79.4h0M159.3 152.1h0M139.8 182.3h0M139.0 46.0h0M68.4 106.9h0M88.9 117.8h0M119.9 162.7h0M80.8 145.9h0M79.4 152.9h0M90.2 124.2h0M74.0 112.0h0M97.9 68.5h0M170.4 155.7h0M190.6 158.0h0M74.8 127.9h0M50.2 124.9h0M194.9 158.4h0M103.9 146.2h0M56.0 82.2h0M164.9 62.1h0M191.8 163.3h0M121.8 54.8h0M79.3 152.9h0M99.5 92.1h0M165.8 108.8h0M87.3 201.2h0M91.4 97.1h0M88.0 116.6h0M141.5 113.4h0M152.3 140.7h0M74.3 127.7h0M108.0 42.1h0M194.8 160.6h0M100.5 164.2h0M51.4 154.8h0M134.6 112.9h0M69.4 157.3h0M190.9 103.1h0M82.6 145.5h0M62.0 110.2h0M97.9 173.3h0M159.6 169.0h0M159.4 126.4h0M67.5 140.2h0M117.9 186.9h0M149.3 116.7h0M79.8 76.3h0M134.8 140.0h0M164.8 176.6h0M44.5 134.6h0M184.1 134.6h0M44.1 79.9h0M136.9 118.3h0M166.5 167.2h0M35.5 112.8h0M78.0 89.2h0M113.9 130.3h0M185.0 146.1h0M52.4 145.0h0M100.0 171.6h0M76.9 151.1h0M140.4 114.4h0M149.2 60.8h0M91.5 179.4h0M190.5 165.9h0M85.2 81.0h0M131.9 60.7h0M127.2 95.1h0M100.2 127.0h0M194.6 149.3h0M150.3 201.3h0M96.9 188.4h0M55.7 147.4h0M63.1 90.3h0M169.6 110.2h0M164.7 62.0h0M114.4 138.2h0M141.1 46.9h0M180.4 79.4h0M37.7 116.4h0M117.4 89.0h0M102.3 121.4h0M79.1 70.6h0M47.6 157.2h0M159.1 104.6h0M55.2 126.6h0M79.1 91.4h0M144.7 158.3h0M47.9 140.8h0M100.7 184.6h0M149.4 61.3h0M57.9 135.7h0M66.1 177.1h0M139.4 139.3h0M82.5 175.3h0M44.7 80.4h0M143.0 193.7h0M169.7 81.0h0M76.9 76.2h0M96.1 185.0h0M81.1 97.0h0M139.0 98.7h0M160.0 99.0h0M64.9 181.4h0M179.8 101.4h0" stroke="#ffffff" stroke-width="2.10" stroke-opacity="1.00" stroke-linecap="round" fill="none"/><path d="M186.0 171.6h0M175.5 93.9h0M57.6 85.5h0M178.9 128.3h0M158.5 152.5h0M76.9 149.8h0M68.1 74.5h0M118.7 159.3h0M103.9 146.3h0M106.1 79.1h0M76.0 151.9h0M103.8 133.2h0M79.5 156.0h0M157.5 168.5h0M149.7 105.0h0M80.1 187.7h0M145.8 99.8h0M104.3 148.6h0M113.5 131.3h0M129.1 55.7h0M194.3 164.4h0M151.4 71.4h0M174.4 102.9h0M118.5 211.0h0M168.1 143.0h0M104.7 156.5h0M119.6 98.2h0M101.3 125.7h0M111.5 182.9h0M103.3 107.8h0M158.6 165.1h0M159.3 176.4h0M50.9 155.2h0M113.5 205.2h0M171.4 180.8h0M79.6 91.9h0M80.0 89.1h0M55.1 125.3h0M72.8 142.9h0M156.8 64.7h0M138.4 134.2h0M77.2 70.8h0M169.3 108.6h0M152.1 111.5h0M192.6 116.7h0M104.7 61.7h0M65.3 92.1h0M84.3 126.8h0M181.5 166.4h0M96.3 182.2h0M109.0 149.2h0M100.1 66.2h0M182.9 132.9h0M172.5 158.2h0M98.6 139.3h0M114.7 104.5h0M108.3 196.1h0M112.7 112.9h0M117.0 140.1h0M127.7 149.0h0M99.0 119.5h0M76.7 88.8h0M57.6 72.9h0M91.5 74.3h0M106.2 86.7h0M97.0 130.3h0M102.7 139.0h0M84.9 126.5h0M170.9 71.1h0M95.7 118.3h0M71.6 141.9h0M133.6 196.3h0M171.8 105.9h0M46.1 152.8h0M66.9 139.3h0M169.1 162.9h0M76.8 108.5h0M124.2 152.5h0M109.8 135.6h0M79.8 191.5h0M97.5 156.2h0M59.7 177.0h0M74.1 79.2h0M93.8 116.8h0M112.8 199.3h0M131.6 110.9h0" stroke="#ffffff" stroke-width="2.43" stroke-opacity="0.67" stroke-linecap="round" fill="none"/><path d="M59.1 84.7h0M72.6 105.4h0M97.5 68.9h0M106.7 180.7h0M97.0 128.2h0M106.2 63.5h0M127.4 57.6h0M103.8 80.0h0M141.2 149.7h0M90.3 123.5h0M76.6 77.3h0M170.2 69.8h0M47.4 105.9h0M107.0 63.1h0M149.6 47.5h0M59.0 136.9h0M150.8 47.9h0M108.3 42.2h0M77.7 125.4h0M149.1 50.1h0M69.4 158.7h0M40.9 119.2h0M147.7 108.1h0M49.7 158.0h0M161.6 91.0h0M86.9 148.1h0M97.2 139.2h0M93.5 151.8h0M125.7 174.1h0M91.1 75.8h0M169.4 163.8h0M118.6 52.5h0M156.8 128.2h0M98.6 67.3h0M129.9 146.9h0M91.2 51.7h0M85.4 80.9h0M80.0 87.1h0M145.0 75.9h0M182.7 132.1h0M116.1 81.1h0M54.3 147.4h0M79.4 76.6h0M150.5 77.2h0M88.4 168.1h0M44.6 132.7h0M88.2 205.4h0M171.2 180.5h0M79.5 87.9h0M116.9 85.0h0M119.4 89.7h0M86.3 146.0h0M81.6 78.5h0M188.9 164.3h0M146.2 166.1h0M192.0 124.8h0M180.5 107.5h0M170.4 176.0h0M137.9 120.2h0M85.0 173.4h0M122.5 142.8h0M55.3 165.4h0M111.7 191.0h0M138.7 132.8h0M83.3 205.5h0M106.8 134.3h0M188.5 154.9h0M70.1 184.1h0M144.1 132.6h0M141.7 178.8h0M186.8 171.3h0M70.2 196.8h0M59.7 136.8h0M93.3 180.7h0M97.4 164.3h0M166.4 146.4h0M190.9 158.1h0M56.4 154.8h0M90.2 98.6h0M159.4 97.1h0M120.0 158.3h0M135.2 112.1h0M42.3 161.4h0M193.8 125.7h0M142.3 152.7h0M135.9 121.8h0M136.1 84.6h0M47.9 153.5h0M54.8 160.0h0M194.2 142.1h0M87.7 137.0h0M65.2 135.7h0M140.8 113.0h0M140.1 119.4h0M51.8 78.7h0M47.2 74.6h0M57.1 132.2h0M148.0 100.0h0M142.6 113.0h0M194.3 103.7h0M100.0 83.9h0M109.1 87.3h0M190.2 84.5h0M140.2 44.6h0M111.5 195.6h0M84.7 96.3h0M159.8 166.7h0M78.6 68.3h0M123.6 168.4h0M110.3 76.5h0M43.4 131.2h0M72.5 117.8h0M158.5 128.1h0M80.7 78.4h0M77.3 96.5h0M78.3 199.3h0M60.7 73.1h0M167.4 107.8h0M50.2 122.7h0M92.1 181.8h0M121.0 92.0h0M145.4 135.7h0M58.2 146.8h0M102.1 106.7h0M88.3 176.6h0M107.6 135.9h0M46.9 153.1h0M132.5 125.7h0M74.6 111.6h0M108.2 147.1h0M131.0 139.2h0M133.9 89.8h0M106.8 193.1h0M101.6 168.4h0M134.1 87.3h0M160.9 128.9h0M56.0 165.6h0M114.5 66.2h0M103.9 143.0h0M162.1 65.2h0M194.5 147.4h0M106.4 191.9h0M155.0 148.4h0M137.2 185.6h0M169.4 71.1h0M115.9 156.8h0M102.3 88.0h0M191.7 127.3h0M129.9 75.0h0M167.6 161.4h0M129.2 201.4h0M193.9 148.3h0M77.5 99.2h0M100.1 109.3h0M78.9 86.5h0M80.1 68.2h0M76.1 143.8h0M133.7 90.9h0M148.6 158.1h0M68.1 156.3h0M171.4 135.1h0M129.9 108.1h0M146.4 108.1h0M82.2 147.5h0M145.1 88.0h0M81.5 182.8h0M132.2 128.6h0M153.5 197.9h0M42.5 122.8h0M185.7 80.6h0M180.4 166.8h0M97.0 53.1h0M72.1 169.7h0M64.7 115.8h0" stroke="#ffffff" stroke-width="2.43" stroke-opacity="1.00" stroke-linecap="round" fill="none"/></g></svg>
<svg x="63.5" y="1089.3" width="245.5" height="245.5" viewBox="0 0 245.5 245.5" overflow="hidden"><rect width="245.5" height="245.5" fill="#0b000b"/><g transform="translate(0 -2.3)" filter="url(#soft)"><path d="M63.7 118.0l2.6 -2.5l2.3 -2.7l2.5 -2.7l2.2 -2.8l2.0 -3.0l1.8 -3.1l2.1 -2.9l2.6 -2.5l3.1 -1.9l3.3 -1.5l3.0 -1.9l2.9 -2.2l2.8 -2.3l2.6 -2.4M160.5 214.3l-3.2 1.8l-3.1 1.8l-2.9 2.1l-2.7 2.4l-3.6 0.1l-1.2 -3.4l-0.9 -3.5l-1.5 -3.3l-1.5 -3.3l-0.8 -3.5l-0.3 -3.6l-0.4 -3.5l-0.9 -3.5l-1.0 -3.5M175.8 111.7l-0.6 -3.5l-0.9 -3.5l-1.3 -3.4l-1.2 -3.4l-1.3 -3.3l-1.9 -3.1l-2.3 -2.8l-2.4 -2.6l-1.7 -3.2l-1.4 -3.3l-1.1 -3.5l-0.4 -3.5l-0.2 -3.6l-0.4 -3.6M159.8 215.8l-0.8 -3.6l-1.3 -3.3l-1.7 -3.2l-2.0 -3.0l-2.0 -3.0l-2.6 -2.5l-2.4 -2.7l-2.4 -2.6l-2.6 -2.5l-2.9 -2.2l-3.1 -1.8l-3.2 -1.7l-3.2 -1.7l-3.5 -0.9M191.2 57.1l1.2 3.4l1.4 3.3l1.7 3.2l1.9 3.0l1.9 3.1l2.1 2.9l2.1 2.9l2.2 2.9l2.5 2.6l2.5 2.5l1.9 3.1l1.4 3.3l0.8 3.5l-0.3 3.6l-0.6 3.6l-0.2 3.6M87.1 162.6l-3.1 1.9l-3.1 1.8l-2.9 2.1l-2.8 2.3l-2.8 2.3l-3.0 1.9l-3.0 2.0l-3.3 1.6l-3.5 0.6l-3.6 0.2l-3.6 0.0l-3.5 -0.6M178.6 40.5l-2.9 -2.2l-3.3 1.3l-3.0 2.0l-3.1 1.9l-3.3 1.5l-3.3 1.4l-3.5 0.9l-3.4 1.0M187.1 161.2l-1.4 3.3l-1.3 3.4l-1.0 3.4l-0.8 3.6l-0.8 3.5l-0.6 3.5l-0.4 3.6l-0.9 3.5l-1.3 3.3l-1.8 3.2l-2.0 2.9l-2.1 3.0M112.0 75.9l-3.5 0.5l-3.4 1.2l-3.6 0.7l-3.6 0.1l-3.5 -0.9l-3.4 -1.0M63.4 173.1l2.0 2.9l2.4 2.8l2.3 2.7l1.9 3.1l1.9 3.0l2.2 2.9l2.6 2.5l3.0 1.9l3.4 1.4l3.5 0.8M87.9 158.8l-2.2 -2.8l-1.9 -3.1l-1.3 -3.3l-0.9 -3.5l-0.3 -3.6l-0.8 -3.5l-0.9 -3.5l-0.8 -3.5l-1.3 -3.4l-1.3 -3.3M201.2 165.0l1.9 -3.1l2.0 -3.0l1.7 -3.2l1.7 -3.1l2.0 -3.1l1.2 -3.3l1.0 -3.5l0.5 -3.6l-0.1 -3.6l-0.8 -3.5M105.4 127.6l-3.5 -1.1l-2.9 -2.1l-2.9 -2.1l-3.1 -1.8l-3.4 -1.4l-3.5 -0.8M181.2 158.5l3.4 1.0l3.4 1.2l3.5 1.0l3.5 0.8l3.5 0.8l3.6 0.4l3.6 -0.1l3.6 -0.3l3.5 -0.5l3.6 -0.4M141.4 63.6l-3.0 2.0l-3.0 2.0l-3.3 1.5l-3.4 1.2l-3.3 1.4l-3.2 1.6l-2.9 2.2l-3.0 2.0l-2.9 2.1l-2.7 2.4l-2.3 2.7l-2.3 2.9M152.6 140.7l2.7 -2.5l2.9 -2.1l3.1 -1.7l3.4 -1.4l3.4 -0.9l3.5 -1.0l3.4 -1.1l3.6 -0.6l3.6 -0.3l3.6 0.3l3.6 0.1l3.5 0.4l3.6 0.6l3.6 0.5l3.6 0.0l3.5 -0.3l3.6 -0.3l3.6 -0.2M189.3 162.1l-3.5 0.9l-3.6 0.0l-3.6 -0.4l-3.5 -0.8l-3.6 -0.5l-3.6 -0.1M202.1 88.8l-1.2 -3.4l-1.2 -3.4l-1.0 -3.5l-0.6 -3.5l-0.3 -3.6l-0.4 -3.6l-0.8 -3.5l-1.1 -3.4l-0.7 -3.5l-1.2 -3.5l-1.5 -3.2l-1.6 -3.2l-1.7 -3.2l-3.5 -0.9M56.6 69.8l0.9 3.5l0.7 3.5l0.4 3.6l0.6 3.5l0.7 3.6l1.2 3.4l1.8 3.1l2.5 2.6M32.3 135.1l-0.9 -3.5l-0.1 -3.6l0.0 -3.6l3.3 -1.5l3.4 -1.2l3.2 -1.6l3.3 -1.4l3.4 -1.0l3.6 -0.5l3.6 0.5l3.0 1.9l2.3 2.8l1.5 3.3l0.8 3.5M94.8 198.1l3.5 -0.4l3.5 -0.8l3.6 -0.7l3.4 -1.1l3.4 -1.3l3.1 -1.8l2.8 -2.3l2.5 -2.5l2.4 -2.7l2.3 -2.8l2.6 -2.5l2.7 -2.3M202.6 117.2l-2.0 3.0l-1.8 3.1l-1.9 3.1l-1.7 3.1l-1.5 3.3l-1.4 3.3l-1.2 3.4l-1.0 3.4M201.9 102.8l1.9 3.0l1.2 3.4l0.5 3.6l0.3 3.6l0.2 3.6l0.1 3.6l0.1 3.6l0.5 3.5l1.2 3.4l1.4 3.3M167.8 201.5l2.5 -2.6l3.0 -2.0l3.4 -1.2l3.5 -0.9l3.5 -0.9l3.3 -1.3l3.2 -1.7l3.2 -1.7l3.3 -1.4l3.2 -1.7l2.9 -2.1l2.8 -2.2M115.4 110.6l-2.8 2.3l-2.3 2.7l-1.7 3.2l-1.3 3.4l-0.9 3.4l-0.6 3.6l-0.8 3.5l-1.4 3.3l-1.8 3.1l-2.0 3.0l-2.6 2.5l-3.2 1.6l-3.5 0.7l-3.6 0.0M41.0 80.5l1.7 -3.2l3.5 -0.3l3.6 0.2l3.6 0.4l3.6 0.2l3.6 -0.1l3.6 -0.3l3.4 -1.1l3.5 -1.1l3.3 -1.3l3.4 -1.2l3.3 -1.4l3.1 -1.8l2.7 -2.4M168.9 98.0l3.1 1.8l3.1 1.8l3.0 2.0l3.1 1.9l3.2 1.6l3.0 1.9l2.8 2.3l2.8 2.3l2.9 2.1l3.0 2.1M139.7 128.5l-3.6 0.3l-3.6 -0.2l-3.5 -0.7l-3.4 -1.1l-3.3 -1.5l-3.4 -1.0l-3.6 -0.8l-3.6 0.0M124.8 175.6l-1.1 3.4l-0.7 3.5l-0.1 3.6l0.3 3.6l1.1 3.5l1.0 3.4l0.7 3.6l0.2 3.5M168.8 213.0l3.6 -0.2l1.6 -3.2l0.9 -3.5l0.3 -3.6l-0.2 -3.6l-0.3 -3.6l-0.2 -3.6l-0.1 -3.6M196.4 99.4l2.2 -2.8l2.4 -2.6l2.4 -2.7l2.5 -2.7l2.4 -2.6l2.2 -2.9M102.6 204.1l-3.4 -1.1l-3.5 -0.9l-3.4 -1.1l-3.5 -1.1l-3.5 -0.8l-3.6 0.2l-3.5 0.4l-3.5 0.9l-3.3 1.5l-3.0 -2.0M50.7 102.6l3.6 -0.1l3.6 0.5l3.4 1.0l3.1 1.9l3.1 1.8l2.9 2.2M179.6 137.5l-0.7 3.6l-1.1 3.4l-1.4 3.3l-1.6 3.2l-1.3 3.4l-1.4 3.3l-1.3 3.4l-1.1 3.4l-0.9 3.5l-0.6 3.5M82.5 119.1l-3.1 1.9l-3.0 2.0l-3.1 1.9l-3.2 1.6l-3.0 2.0l-2.8 2.2l-2.4 2.7l-1.7 3.2l-1.0 3.4l-0.5 3.6M82.8 40.2l1.9 -3.1l2.4 -2.7l3.5 -0.5l3.6 -0.7l3.4 -1.0l2.7 2.3l2.8 2.4l2.6 2.4l2.9 2.2l2.6 2.5l2.5 2.6l2.6 2.4l2.6 2.5l2.8 2.4l2.7 2.3l3.0 2.0M146.1 63.1l1.3 3.4l1.1 3.4l0.8 3.5l0.6 3.6l-0.5 3.5l-1.4 3.3l-2.1 3.0l-2.4 2.6M153.1 64.6l3.5 -1.1l3.5 -0.8l3.6 -0.4l3.5 -0.6l3.4 -1.2l3.4 -1.1l3.4 -1.1l3.5 -1.1M145.0 219.2l3.6 -0.3l3.6 -0.4l3.5 -0.9l0.4 -3.6l0.4 -3.5l0.5 -3.6l0.6 -3.5l0.4 -3.6l0.1 -3.6l-0.4 -3.6l-0.7 -3.5l-0.3 -3.6M131.8 29.5l1.0 3.5l1.0 3.5l1.2 3.3l1.6 3.3l2.2 2.9l2.5 2.5l2.4 2.6l2.5 2.6l2.4 2.8l2.3 2.8l2.1 2.8l2.2 2.9l2.6 2.5l2.2 2.9l1.5 3.2l1.1 3.5M72.6 78.8l2.4 -2.7l3.0 -2.0l3.1 -1.7l3.3 -1.6l3.2 -1.7l3.1 -1.7l3.2 -1.7l3.2 -1.7l2.9 -2.0l3.1 -1.9M129.9 188.0l-1.9 3.1l-1.8 3.1l-2.0 3.0l-2.3 2.8l-2.2 2.9l-2.0 2.9l-2.2 2.9l-2.1 2.9l-2.1 2.9l-1.5 3.3M124.8 163.4l-0.6 -3.6l-0.2 -3.6l0.2 -3.6l0.5 -3.5l0.3 -3.6l0.3 -3.6l-0.1 -3.6l-0.2 -3.6l-0.1 -3.6l-0.2 -3.6l0.6 -3.6l1.0 -3.4M87.1 183.2l2.8 -2.2l3.2 -1.7l3.3 -1.4l3.3 -1.3l3.5 -0.9l3.6 -0.5l3.6 -0.2l3.5 0.6l3.4 1.2l3.5 1.0l3.5 0.8l3.5 0.9l3.3 1.4l3.3 1.5l3.1 1.8l2.8 2.3M147.5 120.4l-0.3 -3.6l-0.4 -3.6l-0.6 -3.5l-0.6 -3.5l-0.9 -3.5l-1.2 -3.4l-1.8 -3.1l-2.0 -3.0l-2.1 -2.9l-2.4 -2.8l-2.3 -2.7l-2.7 -2.4M79.8 78.5l-3.4 1.2l-3.4 1.3l-3.5 0.9l-3.4 1.0l-3.4 1.1l-3.4 1.2l-3.4 1.4l-3.4 1.2l-3.3 1.4l-3.1 1.8M130.3 90.2l3.6 -0.4l3.6 -0.4l3.6 -0.3l3.6 -0.2l3.6 0.0l3.6 0.2l3.5 0.9l3.3 1.3l3.3 1.4l3.4 1.1M124.5 189.3l1.1 -3.4l0.6 -3.5l0.4 -3.6l0.3 -3.6l0.0 -3.6l-0.8 -3.5l-1.4 -3.3l-1.8 -3.1l-1.7 -3.2l-2.1 -3.0l-2.1 -2.9l-2.1 -2.9M95.7 182.9l-2.3 -2.8l-2.1 -2.9l-1.2 -3.4l-0.8 -3.5l-0.6 -3.5l-1.1 -3.5l-1.0 -3.4l-0.5 -3.6l-0.6 -3.5l-0.4 -3.6M131.9 122.9l3.6 0.4l3.5 0.7l3.5 0.8l3.4 1.2l3.1 1.9l2.6 2.4l2.4 2.8l1.9 3.0l1.6 3.2l1.1 3.5M130.6 89.7l-0.6 -3.5l-0.4 -3.6l0.6 -3.6l1.1 -3.4l1.6 -3.2l1.8 -3.1l1.8 -3.1l1.5 -3.3M153.9 102.3l-3.2 1.7l-3.3 1.4l-3.5 1.0l-3.6 0.3l-3.5 0.3l-3.6 0.0l-3.6 0.0l-3.6 0.2M151.8 61.3l-3.4 -1.1l-3.5 -0.9l-3.5 -1.0l-3.5 -0.5l-3.6 -0.4l-3.6 -0.1l-3.6 -0.1l-3.6 -0.1l-3.5 -0.8l-3.5 -1.0l-3.5 -0.7l-3.5 -0.7l-3.6 -0.3l-3.6 -0.2l-3.5 -0.8l-3.4 -1.2M90.7 92.1l3.4 1.1l3.5 1.0l3.5 0.8l3.5 0.4l3.6 -0.3l3.5 -0.7l3.6 -0.2l3.6 0.7l3.2 1.6l2.8 2.3l2.6 2.5l2.4 2.7M114.0 99.1l0.5 3.5l0.8 3.6l1.1 3.4l1.2 3.4l1.3 3.3l1.4 3.4l1.9 3.0l2.5 2.6M163.8 178.2l0.3 -3.6l-0.2 -3.6l-0.9 -3.5l-1.2 -3.4l-1.5 -3.2l-1.9 -3.1l-1.9 -3.1l-2.1 -2.9l-2.2 -2.9l-2.4 -2.6l-2.7 -2.4l-2.7 -2.4l-2.6 -2.5l-2.7 -2.3l-3.0 -2.0l-2.9 -2.1M51.6 123.4l-1.8 3.1l-1.6 3.3l-1.3 3.3l-0.6 3.6l-0.5 3.5l-0.3 3.6l0.1 3.6l0.2 3.6l0.5 3.6l0.4 3.6M77.1 164.2l-2.7 2.3l-3.0 2.0l-3.1 1.9l-3.2 1.4l-3.5 1.0l-3.6 0.4l-3.5 0.8l-3.5 1.0l-3.4 1.1l-2.6 -2.4l-3.0 -2.1l-0.7 -3.5M86.2 96.4l3.3 1.4l2.9 2.1l2.7 2.4l2.5 2.6l2.0 3.0l2.1 2.9l2.4 2.7l2.4 2.7l2.4 2.7l2.6 2.5M193.6 153.6l2.7 -2.4l2.6 -2.4l2.6 -2.6l2.5 -2.5l2.0 -3.0l1.3 -3.4l0.7 -3.5l-0.1 -3.6M212.7 92.1l2.2 2.9l0.9 3.4l-0.1 3.6l-1.0 3.5l-1.6 3.2l-1.9 3.1l-1.9 3.0l-1.6 3.2l-1.2 3.4l-0.1 3.6M105.1 158.4l-2.7 -2.4l-2.5 -2.5l-2.4 -2.7l-2.5 -2.6l-2.5 -2.6l-2.5 -2.6l-2.8 -2.3l-2.9 -2.1l-2.9 -2.2l-2.9 -2.0l-3.0 -2.0l-2.8 -2.3M180.5 74.8l-1.5 3.3l-1.5 3.3l-1.3 3.3l-0.9 3.5l-0.9 3.5l-0.9 3.5l-0.7 3.5l-0.4 3.6l-0.6 3.5l-0.8 3.5l-1.2 3.4l-1.5 3.3l-1.5 3.3l-2.3 2.7l-3.1 1.9l-3.5 0.9M50.8 125.0l-1.5 3.2l-1.9 3.1l-1.4 3.3l-1.1 3.4l-1.2 3.4l-1.0 3.5l-0.7 3.5l-0.5 3.6l-0.7 3.5l-0.5 3.6l-0.6 3.5l-0.2 3.6l2.5 2.6l2.7 2.4l2.3 2.8l1.5 3.2M123.6 135.6l-2.3 2.8l-2.4 2.6l-2.5 2.6l-2.7 2.4l-2.4 2.7l-2.3 2.7l-2.4 2.7l-2.4 2.7l-2.4 2.7l-2.7 2.4M115.7 63.4l-3.3 -1.4l-3.3 -1.4l-3.4 -1.4l-3.3 -1.4l-3.4 -1.1l-3.5 -0.8l-3.5 -0.8l-3.4 -1.2l-3.4 -1.3l-3.3 -1.3M126.9 90.7l3.0 -1.9l3.1 -1.9l3.1 -1.8l3.4 -1.1l3.6 -0.6l3.6 -0.3l3.5 -0.7l3.5 -0.7l3.5 -1.0l3.4 -1.1M169.4 178.4l-2.5 -2.6l-2.6 -2.4l-2.3 -2.8l-2.0 -3.0l-2.4 -2.7l-2.7 -2.4l-3.4 -1.0l-3.6 -0.1l-3.6 0.2l-3.5 0.8l-3.4 1.2l-3.3 1.6" stroke="#a81aa8" stroke-width="1.75" stroke-linecap="round" stroke-linejoin="round" fill="none"/><path d="M63.7 118.0l2.6 -2.5l2.3 -2.7l2.5 -2.7l2.2 -2.8l2.0 -3.0l1.8 -3.1l2.1 -2.9l2.6 -2.5l3.1 -1.9l3.3 -1.5l3.0 -1.9l2.9 -2.2l2.8 -2.3l2.6 -2.4M160.5 214.3l-3.2 1.8l-3.1 1.8l-2.9 2.1l-2.7 2.4l-3.6 0.1l-1.2 -3.4l-0.9 -3.5l-1.5 -3.3l-1.5 -3.3l-0.8 -3.5l-0.3 -3.6l-0.4 -3.5l-0.9 -3.5l-1.0 -3.5M175.8 111.7l-0.6 -3.5l-0.9 -3.5l-1.3 -3.4l-1.2 -3.4l-1.3 -3.3l-1.9 -3.1l-2.3 -2.8l-2.4 -2.6l-1.7 -3.2l-1.4 -3.3l-1.1 -3.5l-0.4 -3.5l-0.2 -3.6l-0.4 -3.6M159.8 215.8l-0.8 -3.6l-1.3 -3.3l-1.7 -3.2l-2.0 -3.0l-2.0 -3.0l-2.6 -2.5l-2.4 -2.7l-2.4 -2.6l-2.6 -2.5l-2.9 -2.2l-3.1 -1.8l-3.2 -1.7l-3.2 -1.7l-3.5 -0.9M191.2 57.1l1.2 3.4l1.4 3.3l1.7 3.2l1.9 3.0l1.9 3.1l2.1 2.9l2.1 2.9l2.2 2.9l2.5 2.6l2.5 2.5l1.9 3.1l1.4 3.3l0.8 3.5l-0.3 3.6l-0.6 3.6l-0.2 3.6M87.1 162.6l-3.1 1.9l-3.1 1.8l-2.9 2.1l-2.8 2.3l-2.8 2.3l-3.0 1.9l-3.0 2.0l-3.3 1.6l-3.5 0.6l-3.6 0.2l-3.6 0.0l-3.5 -0.6M178.6 40.5l-2.9 -2.2l-3.3 1.3l-3.0 2.0l-3.1 1.9l-3.3 1.5l-3.3 1.4l-3.5 0.9l-3.4 1.0M187.1 161.2l-1.4 3.3l-1.3 3.4l-1.0 3.4l-0.8 3.6l-0.8 3.5l-0.6 3.5l-0.4 3.6l-0.9 3.5l-1.3 3.3l-1.8 3.2l-2.0 2.9l-2.1 3.0M112.0 75.9l-3.5 0.5l-3.4 1.2l-3.6 0.7l-3.6 0.1l-3.5 -0.9l-3.4 -1.0M63.4 173.1l2.0 2.9l2.4 2.8l2.3 2.7l1.9 3.1l1.9 3.0l2.2 2.9l2.6 2.5l3.0 1.9l3.4 1.4l3.5 0.8M87.9 158.8l-2.2 -2.8l-1.9 -3.1l-1.3 -3.3l-0.9 -3.5l-0.3 -3.6l-0.8 -3.5l-0.9 -3.5l-0.8 -3.5l-1.3 -3.4l-1.3 -3.3M201.2 165.0l1.9 -3.1l2.0 -3.0l1.7 -3.2l1.7 -3.1l2.0 -3.1l1.2 -3.3l1.0 -3.5l0.5 -3.6l-0.1 -3.6l-0.8 -3.5M105.4 127.6l-3.5 -1.1l-2.9 -2.1l-2.9 -2.1l-3.1 -1.8l-3.4 -1.4l-3.5 -0.8M181.2 158.5l3.4 1.0l3.4 1.2l3.5 1.0l3.5 0.8l3.5 0.8l3.6 0.4l3.6 -0.1l3.6 -0.3l3.5 -0.5l3.6 -0.4M141.4 63.6l-3.0 2.0l-3.0 2.0l-3.3 1.5l-3.4 1.2l-3.3 1.4l-3.2 1.6l-2.9 2.2l-3.0 2.0l-2.9 2.1l-2.7 2.4l-2.3 2.7l-2.3 2.9M152.6 140.7l2.7 -2.5l2.9 -2.1l3.1 -1.7l3.4 -1.4l3.4 -0.9l3.5 -1.0l3.4 -1.1l3.6 -0.6l3.6 -0.3l3.6 0.3l3.6 0.1l3.5 0.4l3.6 0.6l3.6 0.5l3.6 0.0l3.5 -0.3l3.6 -0.3l3.6 -0.2M189.3 162.1l-3.5 0.9l-3.6 0.0l-3.6 -0.4l-3.5 -0.8l-3.6 -0.5l-3.6 -0.1M202.1 88.8l-1.2 -3.4l-1.2 -3.4l-1.0 -3.5l-0.6 -3.5l-0.3 -3.6l-0.4 -3.6l-0.8 -3.5l-1.1 -3.4l-0.7 -3.5l-1.2 -3.5l-1.5 -3.2l-1.6 -3.2l-1.7 -3.2l-3.5 -0.9M56.6 69.8l0.9 3.5l0.7 3.5l0.4 3.6l0.6 3.5l0.7 3.6l1.2 3.4l1.8 3.1l2.5 2.6M32.3 135.1l-0.9 -3.5l-0.1 -3.6l0.0 -3.6l3.3 -1.5l3.4 -1.2l3.2 -1.6l3.3 -1.4l3.4 -1.0l3.6 -0.5l3.6 0.5l3.0 1.9l2.3 2.8l1.5 3.3l0.8 3.5M94.8 198.1l3.5 -0.4l3.5 -0.8l3.6 -0.7l3.4 -1.1l3.4 -1.3l3.1 -1.8l2.8 -2.3l2.5 -2.5l2.4 -2.7l2.3 -2.8l2.6 -2.5l2.7 -2.3M202.6 117.2l-2.0 3.0l-1.8 3.1l-1.9 3.1l-1.7 3.1l-1.5 3.3l-1.4 3.3l-1.2 3.4l-1.0 3.4M201.9 102.8l1.9 3.0l1.2 3.4l0.5 3.6l0.3 3.6l0.2 3.6l0.1 3.6l0.1 3.6l0.5 3.5l1.2 3.4l1.4 3.3M167.8 201.5l2.5 -2.6l3.0 -2.0l3.4 -1.2l3.5 -0.9l3.5 -0.9l3.3 -1.3l3.2 -1.7l3.2 -1.7l3.3 -1.4l3.2 -1.7l2.9 -2.1l2.8 -2.2M115.4 110.6l-2.8 2.3l-2.3 2.7l-1.7 3.2l-1.3 3.4l-0.9 3.4l-0.6 3.6l-0.8 3.5l-1.4 3.3l-1.8 3.1l-2.0 3.0l-2.6 2.5l-3.2 1.6l-3.5 0.7l-3.6 0.0M41.0 80.5l1.7 -3.2l3.5 -0.3l3.6 0.2l3.6 0.4l3.6 0.2l3.6 -0.1l3.6 -0.3l3.4 -1.1l3.5 -1.1l3.3 -1.3l3.4 -1.2l3.3 -1.4l3.1 -1.8l2.7 -2.4M168.9 98.0l3.1 1.8l3.1 1.8l3.0 2.0l3.1 1.9l3.2 1.6l3.0 1.9l2.8 2.3l2.8 2.3l2.9 2.1l3.0 2.1M139.7 128.5l-3.6 0.3l-3.6 -0.2l-3.5 -0.7l-3.4 -1.1l-3.3 -1.5l-3.4 -1.0l-3.6 -0.8l-3.6 0.0M124.8 175.6l-1.1 3.4l-0.7 3.5l-0.1 3.6l0.3 3.6l1.1 3.5l1.0 3.4l0.7 3.6l0.2 3.5M168.8 213.0l3.6 -0.2l1.6 -3.2l0.9 -3.5l0.3 -3.6l-0.2 -3.6l-0.3 -3.6l-0.2 -3.6l-0.1 -3.6M196.4 99.4l2.2 -2.8l2.4 -2.6l2.4 -2.7l2.5 -2.7l2.4 -2.6l2.2 -2.9M102.6 204.1l-3.4 -1.1l-3.5 -0.9l-3.4 -1.1l-3.5 -1.1l-3.5 -0.8l-3.6 0.2l-3.5 0.4l-3.5 0.9l-3.3 1.5l-3.0 -2.0M50.7 102.6l3.6 -0.1l3.6 0.5l3.4 1.0l3.1 1.9l3.1 1.8l2.9 2.2M179.6 137.5l-0.7 3.6l-1.1 3.4l-1.4 3.3l-1.6 3.2l-1.3 3.4l-1.4 3.3l-1.3 3.4l-1.1 3.4l-0.9 3.5l-0.6 3.5M82.5 119.1l-3.1 1.9l-3.0 2.0l-3.1 1.9l-3.2 1.6l-3.0 2.0l-2.8 2.2l-2.4 2.7l-1.7 3.2l-1.0 3.4l-0.5 3.6M82.8 40.2l1.9 -3.1l2.4 -2.7l3.5 -0.5l3.6 -0.7l3.4 -1.0l2.7 2.3l2.8 2.4l2.6 2.4l2.9 2.2l2.6 2.5l2.5 2.6l2.6 2.4l2.6 2.5l2.8 2.4l2.7 2.3l3.0 2.0M146.1 63.1l1.3 3.4l1.1 3.4l0.8 3.5l0.6 3.6l-0.5 3.5l-1.4 3.3l-2.1 3.0l-2.4 2.6M153.1 64.6l3.5 -1.1l3.5 -0.8l3.6 -0.4l3.5 -0.6l3.4 -1.2l3.4 -1.1l3.4 -1.1l3.5 -1.1M145.0 219.2l3.6 -0.3l3.6 -0.4l3.5 -0.9l0.4 -3.6l0.4 -3.5l0.5 -3.6l0.6 -3.5l0.4 -3.6l0.1 -3.6l-0.4 -3.6l-0.7 -3.5l-0.3 -3.6M131.8 29.5l1.0 3.5l1.0 3.5l1.2 3.3l1.6 3.3l2.2 2.9l2.5 2.5l2.4 2.6l2.5 2.6l2.4 2.8l2.3 2.8l2.1 2.8l2.2 2.9l2.6 2.5l2.2 2.9l1.5 3.2l1.1 3.5M72.6 78.8l2.4 -2.7l3.0 -2.0l3.1 -1.7l3.3 -1.6l3.2 -1.7l3.1 -1.7l3.2 -1.7l3.2 -1.7l2.9 -2.0l3.1 -1.9M129.9 188.0l-1.9 3.1l-1.8 3.1l-2.0 3.0l-2.3 2.8l-2.2 2.9l-2.0 2.9l-2.2 2.9l-2.1 2.9l-2.1 2.9l-1.5 3.3M124.8 163.4l-0.6 -3.6l-0.2 -3.6l0.2 -3.6l0.5 -3.5l0.3 -3.6l0.3 -3.6l-0.1 -3.6l-0.2 -3.6l-0.1 -3.6l-0.2 -3.6l0.6 -3.6l1.0 -3.4M87.1 183.2l2.8 -2.2l3.2 -1.7l3.3 -1.4l3.3 -1.3l3.5 -0.9l3.6 -0.5l3.6 -0.2l3.5 0.6l3.4 1.2l3.5 1.0l3.5 0.8l3.5 0.9l3.3 1.4l3.3 1.5l3.1 1.8l2.8 2.3M147.5 120.4l-0.3 -3.6l-0.4 -3.6l-0.6 -3.5l-0.6 -3.5l-0.9 -3.5l-1.2 -3.4l-1.8 -3.1l-2.0 -3.0l-2.1 -2.9l-2.4 -2.8l-2.3 -2.7l-2.7 -2.4M79.8 78.5l-3.4 1.2l-3.4 1.3l-3.5 0.9l-3.4 1.0l-3.4 1.1l-3.4 1.2l-3.4 1.4l-3.4 1.2l-3.3 1.4l-3.1 1.8M130.3 90.2l3.6 -0.4l3.6 -0.4l3.6 -0.3l3.6 -0.2l3.6 0.0l3.6 0.2l3.5 0.9l3.3 1.3l3.3 1.4l3.4 1.1M124.5 189.3l1.1 -3.4l0.6 -3.5l0.4 -3.6l0.3 -3.6l0.0 -3.6l-0.8 -3.5l-1.4 -3.3l-1.8 -3.1l-1.7 -3.2l-2.1 -3.0l-2.1 -2.9l-2.1 -2.9M95.7 182.9l-2.3 -2.8l-2.1 -2.9l-1.2 -3.4l-0.8 -3.5l-0.6 -3.5l-1.1 -3.5l-1.0 -3.4l-0.5 -3.6l-0.6 -3.5l-0.4 -3.6M131.9 122.9l3.6 0.4l3.5 0.7l3.5 0.8l3.4 1.2l3.1 1.9l2.6 2.4l2.4 2.8l1.9 3.0l1.6 3.2l1.1 3.5M130.6 89.7l-0.6 -3.5l-0.4 -3.6l0.6 -3.6l1.1 -3.4l1.6 -3.2l1.8 -3.1l1.8 -3.1l1.5 -3.3M153.9 102.3l-3.2 1.7l-3.3 1.4l-3.5 1.0l-3.6 0.3l-3.5 0.3l-3.6 0.0l-3.6 0.0l-3.6 0.2M151.8 61.3l-3.4 -1.1l-3.5 -0.9l-3.5 -1.0l-3.5 -0.5l-3.6 -0.4l-3.6 -0.1l-3.6 -0.1l-3.6 -0.1l-3.5 -0.8l-3.5 -1.0l-3.5 -0.7l-3.5 -0.7l-3.6 -0.3l-3.6 -0.2l-3.5 -0.8l-3.4 -1.2M90.7 92.1l3.4 1.1l3.5 1.0l3.5 0.8l3.5 0.4l3.6 -0.3l3.5 -0.7l3.6 -0.2l3.6 0.7l3.2 1.6l2.8 2.3l2.6 2.5l2.4 2.7M114.0 99.1l0.5 3.5l0.8 3.6l1.1 3.4l1.2 3.4l1.3 3.3l1.4 3.4l1.9 3.0l2.5 2.6M163.8 178.2l0.3 -3.6l-0.2 -3.6l-0.9 -3.5l-1.2 -3.4l-1.5 -3.2l-1.9 -3.1l-1.9 -3.1l-2.1 -2.9l-2.2 -2.9l-2.4 -2.6l-2.7 -2.4l-2.7 -2.4l-2.6 -2.5l-2.7 -2.3l-3.0 -2.0l-2.9 -2.1M51.6 123.4l-1.8 3.1l-1.6 3.3l-1.3 3.3l-0.6 3.6l-0.5 3.5l-0.3 3.6l0.1 3.6l0.2 3.6l0.5 3.6l0.4 3.6M77.1 164.2l-2.7 2.3l-3.0 2.0l-3.1 1.9l-3.2 1.4l-3.5 1.0l-3.6 0.4l-3.5 0.8l-3.5 1.0l-3.4 1.1l-2.6 -2.4l-3.0 -2.1l-0.7 -3.5M86.2 96.4l3.3 1.4l2.9 2.1l2.7 2.4l2.5 2.6l2.0 3.0l2.1 2.9l2.4 2.7l2.4 2.7l2.4 2.7l2.6 2.5M193.6 153.6l2.7 -2.4l2.6 -2.4l2.6 -2.6l2.5 -2.5l2.0 -3.0l1.3 -3.4l0.7 -3.5l-0.1 -3.6M212.7 92.1l2.2 2.9l0.9 3.4l-0.1 3.6l-1.0 3.5l-1.6 3.2l-1.9 3.1l-1.9 3.0l-1.6 3.2l-1.2 3.4l-0.1 3.6M105.1 158.4l-2.7 -2.4l-2.5 -2.5l-2.4 -2.7l-2.5 -2.6l-2.5 -2.6l-2.5 -2.6l-2.8 -2.3l-2.9 -2.1l-2.9 -2.2l-2.9 -2.0l-3.0 -2.0l-2.8 -2.3M180.5 74.8l-1.5 3.3l-1.5 3.3l-1.3 3.3l-0.9 3.5l-0.9 3.5l-0.9 3.5l-0.7 3.5l-0.4 3.6l-0.6 3.5l-0.8 3.5l-1.2 3.4l-1.5 3.3l-1.5 3.3l-2.3 2.7l-3.1 1.9l-3.5 0.9M50.8 125.0l-1.5 3.2l-1.9 3.1l-1.4 3.3l-1.1 3.4l-1.2 3.4l-1.0 3.5l-0.7 3.5l-0.5 3.6l-0.7 3.5l-0.5 3.6l-0.6 3.5l-0.2 3.6l2.5 2.6l2.7 2.4l2.3 2.8l1.5 3.2M123.6 135.6l-2.3 2.8l-2.4 2.6l-2.5 2.6l-2.7 2.4l-2.4 2.7l-2.3 2.7l-2.4 2.7l-2.4 2.7l-2.4 2.7l-2.7 2.4M115.7 63.4l-3.3 -1.4l-3.3 -1.4l-3.4 -1.4l-3.3 -1.4l-3.4 -1.1l-3.5 -0.8l-3.5 -0.8l-3.4 -1.2l-3.4 -1.3l-3.3 -1.3M126.9 90.7l3.0 -1.9l3.1 -1.9l3.1 -1.8l3.4 -1.1l3.6 -0.6l3.6 -0.3l3.5 -0.7l3.5 -0.7l3.5 -1.0l3.4 -1.1M169.4 178.4l-2.5 -2.6l-2.6 -2.4l-2.3 -2.8l-2.0 -3.0l-2.4 -2.7l-2.7 -2.4l-3.4 -1.0l-3.6 -0.1l-3.6 0.2l-3.5 0.8l-3.4 1.2l-3.3 1.6" stroke="#ff3cff" stroke-width="1.85" stroke-dasharray="3 6 2 8 4 5" stroke-linecap="round" fill="none"/><path d="M63.7 118.0h0M99.5 83.6h0M160.5 214.3h0M136.5 191.4h0M175.8 111.7h0M158.7 65.4h0M159.8 215.8h0M126.1 181.1h0M191.2 57.1h0M213.7 107.6h0M87.1 162.6h0M48.9 178.7h0M178.6 40.5h0M152.8 48.3h0M187.1 161.2h0M172.7 201.4h0M112.0 75.9h0M91.0 76.5h0M63.4 173.1h0M88.6 197.1h0M87.9 158.8h0M76.2 125.3h0M201.2 165.0h0M212.3 132.0h0M105.4 127.6h0M86.1 118.3h0M181.2 158.5h0M216.4 162.4h0M141.4 63.6h0M106.1 87.6h0M152.6 140.7h0M214.4 130.2h0M189.3 162.1h0M167.9 161.2h0M202.1 88.8h0M185.3 43.4h0M56.6 69.8h0M65.4 96.6h0M32.3 135.1h0M62.7 129.2h0M94.8 198.1h0M130.6 176.9h0M202.6 117.2h0M190.1 142.9h0M201.9 102.8h0M209.3 137.4h0M167.8 201.5h0M205.6 181.8h0M115.4 110.6h0M86.9 146.9h0M41.0 80.5h0M86.9 67.1h0M168.9 98.0h0M198.9 117.8h0M139.7 128.5h0M111.7 123.5h0M124.8 175.6h0M126.2 203.7h0M168.8 213.0h0M174.4 188.1h0M196.4 99.4h0M210.5 83.1h0M102.6 204.1h0M68.4 200.1h0M50.7 102.6h0M70.4 109.9h0M179.6 137.5h0M168.2 171.5h0M82.5 119.1h0M58.7 143.6h0M82.8 40.2h0M127.4 58.2h0M146.1 63.1h0M143.5 89.4h0M153.1 64.6h0M180.9 57.2h0M145.0 219.2h0M156.7 185.5h0M131.8 29.5h0M162.6 77.1h0M72.6 78.8h0M103.1 60.1h0M129.9 188.0h0M109.8 217.8h0M124.8 163.4h0M126.3 120.5h0M87.1 183.2h0M140.3 186.5h0M147.5 120.4h0M130.2 82.4h0M79.8 78.5h0M46.1 91.0h0M130.3 90.2h0M165.4 93.8h0M124.5 189.3h0M114.9 149.7h0M95.7 182.9h0M85.1 149.2h0M131.9 122.9h0M158.6 142.8h0M130.6 89.7h0M138.0 62.9h0M153.9 102.3h0M126.0 107.2h0M151.8 61.3h0M95.4 51.4h0M90.7 92.1h0M129.9 104.0h0M114.0 99.1h0M124.7 125.3h0M163.8 178.2h0M133.2 132.6h0M51.6 123.4h0M46.7 158.2h0M77.1 164.2h0M41.3 168.1h0M86.2 96.4h0M111.5 121.4h0M193.6 153.6h0M207.9 130.2h0M212.7 92.1h0M206.4 125.0h0M105.1 158.4h0M72.7 130.1h0M180.5 74.8h0M157.9 124.8h0M50.8 125.0h0M48.5 177.2h0M123.6 135.6h0M99.1 161.9h0M115.7 63.4h0M81.9 51.3h0M126.9 90.7h0M160.6 79.6h0M169.4 178.4h0M134.1 165.2h0" stroke="#ff30ff" stroke-width="3.0" stroke-linecap="round" fill="none"/><path d="M87.7 119.1h0M125.4 131.0h0M89.1 68.0h0M167.2 175.7h0M92.8 101.7h0M202.9 131.2h0M96.5 84.8h0M98.7 33.0h0M127.1 177.6h0M124.1 98.4h0M66.3 175.9h0M95.9 85.7h0M88.0 140.6h0M121.2 139.2h0M136.3 193.2h0M70.0 170.5h0M137.7 183.5h0M126.0 170.7h0M71.4 202.1h0M175.3 194.7h0M84.5 36.2h0M72.0 125.3h0M110.2 75.9h0M76.9 128.1h0M184.5 169.3h0M94.4 120.5h0M96.6 56.2h0M131.7 84.0h0M152.0 81.6h0M173.5 200.5h0M100.7 34.7h0M47.1 77.4h0M123.7 71.6h0M75.1 199.1h0M55.9 79.6h0M175.3 190.9h0M187.3 158.1h0M72.7 143.7h0M201.4 146.2h0M173.8 127.3h0M71.6 163.2h0M203.6 123.4h0M163.7 130.1h0M195.2 58.3h0M72.1 199.4h0M138.2 81.4h0M101.3 54.7h0M106.5 57.1h0M86.4 207.0h0M89.8 72.9h0M66.8 135.2h0M126.7 157.6h0M168.1 197.9h0M61.4 111.5h0M106.5 50.2h0M153.6 193.5h0M96.0 191.7h0M150.7 141.6h0M87.6 137.9h0" stroke="#2cff2c" stroke-width="1.74" stroke-opacity="1.00" stroke-linecap="round" fill="none"/><path d="M155.2 47.7h0M98.9 145.5h0M48.8 128.4h0M116.7 207.5h0M110.2 53.3h0M95.9 149.3h0M184.4 166.9h0M171.2 199.6h0M173.7 89.9h0M189.3 47.4h0M116.9 112.9h0M150.9 82.1h0M65.6 176.8h0M158.6 140.8h0M123.0 177.4h0M123.4 135.3h0M150.2 78.1h0M146.7 222.6h0M121.3 138.6h0M200.2 130.6h0M40.9 153.8h0M141.1 212.1h0M131.8 75.3h0M116.1 209.3h0M161.1 169.1h0M126.5 107.2h0M85.7 153.3h0M139.4 123.6h0M86.7 139.6h0M76.0 79.7h0M212.7 162.5h0M167.3 89.4h0M146.0 108.3h0M124.5 176.4h0M171.2 107.7h0M188.9 162.4h0M198.4 75.6h0M103.6 49.3h0M181.8 65.6h0M203.9 110.8h0M112.3 204.5h0M70.3 59.5h0M86.1 169.0h0M68.2 195.6h0M38.0 138.3h0M53.9 75.7h0M92.6 162.4h0M123.5 181.3h0M185.6 49.2h0M114.9 133.6h0M126.3 159.1h0M147.4 140.6h0M83.2 119.1h0M116.2 69.2h0M64.6 122.7h0" stroke="#2cff2c" stroke-width="2.00" stroke-opacity="1.00" stroke-linecap="round" fill="none"/><path d="M40.5 150.3h0M130.1 88.1h0M78.6 136.0h0M156.9 48.2h0M133.6 87.0h0M123.4 153.8h0M131.4 69.3h0M149.7 103.6h0M127.3 182.4h0M122.0 121.6h0M169.4 167.4h0M156.6 191.4h0M115.2 190.8h0M118.7 157.5h0M133.4 133.7h0M191.1 138.9h0M67.7 112.9h0M170.2 97.9h0M202.8 78.9h0M124.3 72.3h0M50.0 88.4h0M67.6 128.1h0M159.5 46.6h0M157.5 80.4h0M155.9 205.4h0M123.0 72.4h0M134.8 39.8h0M139.1 105.7h0M95.7 102.5h0M122.4 96.1h0M110.6 215.0h0M182.1 122.2h0M46.5 98.7h0M175.3 78.1h0M218.9 142.0h0M174.0 149.6h0M74.3 144.5h0M201.4 172.8h0M147.7 120.3h0M100.3 87.5h0M160.4 196.1h0M48.3 160.2h0M119.3 114.7h0M100.6 110.1h0M162.8 59.0h0M108.8 211.5h0M60.0 168.1h0M118.0 103.9h0M141.2 81.2h0" stroke="#2cff2c" stroke-width="2.26" stroke-opacity="1.00" stroke-linecap="round" fill="none"/></g></svg>
<rect x="233.2" y="1318.8" width="62" height="4.6" fill="#fff"/>
<svg x="312.8" y="1089.3" width="245.5" height="245.5" viewBox="0 0 245.5 245.5" overflow="hidden"><rect width="245.5" height="245.5" fill="#0b000b"/><g transform="translate(0 0.0)" filter="url(#soft)"><path d="M191.3 146.7l-2.4 -2.7l-2.1 -2.9l-1.9 -3.1l-1.7 -3.2l-1.8 -3.1l-1.4 -3.3l-0.9 -3.5l-0.6 -3.5l-0.8 -3.5l-0.9 -3.5l-1.4 -3.3l-1.7 -3.2l-1.7 -3.2l-1.7 -3.2l-1.6 -3.2l-1.7 -3.1M126.6 24.8l3.5 0.6l0.3 3.6l-0.2 3.6l-0.7 3.5l-1.2 3.4l-1.0 3.5l-1.0 3.4l-1.1 3.5l-0.5 3.5l-0.1 3.6l0.2 3.6l0.3 3.6l0.8 3.5l1.0 3.5M176.2 63.7l0.6 3.5l0.1 3.6l-0.3 3.6l-0.5 3.6l-0.8 3.5l-1.1 3.4l-0.8 3.5l-0.2 3.6l0.2 3.6l-0.3 3.6l-0.4 3.6l-0.6 3.5l-0.5 3.6l-0.6 3.6M127.4 53.0l-1.8 3.2l-1.3 3.3l-1.1 3.5l-0.4 3.5l-0.4 3.6l0.2 3.6l0.1 3.6l-0.2 3.6l-0.6 3.5l-1.6 3.3l-1.9 3.0l-2.3 2.8M97.6 196.4l1.2 -3.4l1.5 -3.3l1.1 -3.4l0.9 -3.5l0.1 -3.6l0.0 -3.6l-0.5 -3.5l-0.2 -3.6l0.3 -3.6l1.0 -3.5l1.5 -3.2l1.9 -3.1l1.8 -3.2l1.5 -3.2l1.2 -3.4l1.3 -3.3M71.3 99.5l0.8 -3.5l0.0 -3.6l-0.6 -3.6l-1.1 -3.4l-1.6 -3.2l-2.2 -2.9M47.5 140.3l3.6 -0.3l3.5 -0.6l3.3 -1.4l3.0 -2.0l2.5 -2.6l2.1 -2.9l2.1 -3.0l1.7 -3.1l1.4 -3.3l1.6 -3.3l2.0 -3.0l2.3 -2.7l2.4 -2.7l2.6 -2.5M180.0 188.1l3.3 -1.4l3.4 -1.1l3.5 -1.0l2.1 -2.8l-1.2 -3.4l-1.5 -3.3l-1.7 -3.1l-1.6 -3.3l-0.9 -3.5l-1.1 -3.4l-1.5 -3.3l-1.7 -3.1M112.3 67.9l-2.3 2.8l-2.4 2.7l-2.3 2.7l-2.3 2.8l-2.2 2.8l-1.8 3.2l-1.5 3.2l-1.2 3.4l-0.9 3.5l-1.0 3.5l-0.8 3.5l-1.0 3.4l-1.5 3.3l-1.8 3.1l-2.1 2.9l-2.3 2.8M139.8 44.5l0.9 -3.5l0.4 -3.6l-0.1 -3.6l-0.7 -3.5l-1.4 -3.4l-3.5 -0.5M27.5 91.5l3.2 1.6l3.2 1.7l3.2 1.7l3.0 2.0l2.7 2.4l2.8 2.2l3.0 2.1l3.0 1.9M82.9 184.4l-1.8 -3.1l-1.3 -3.4l-1.0 -3.5l-0.8 -3.5l-1.4 -3.3l-2.3 -2.8l-2.6 -2.4l-2.7 -2.4M79.5 73.8l3.4 -1.2l3.5 -0.8l3.6 -0.6l3.5 -0.1l3.6 -0.3l3.6 -0.1l3.6 0.0l3.6 -0.5l3.5 -0.9l3.4 -1.2l3.0 -2.0l2.3 -2.7l1.6 -3.3l1.3 -3.3M185.5 116.4l1.7 3.1l1.1 3.5l0.3 3.6l-0.4 3.5l-0.7 3.6l-1.2 3.4l-1.2 3.4l-1.2 3.3l-1.5 3.3l-1.9 3.1l-2.5 2.6l-3.0 1.9l-3.3 1.6l-3.2 1.5M95.2 74.9l-3.5 -1.1l-3.3 -1.4l-3.2 -1.6l-3.3 -1.5l-2.9 -2.1l-2.3 -2.8l-2.1 -2.9l-1.9 -3.0l-1.6 -3.3l-1.5 -3.2l-1.5 -3.3l-1.8 -3.1l-1.7 -3.2l2.3 -2.7l2.5 -2.6l2.5 -2.6M151.7 34.3l2.1 3.0l1.7 3.2l1.3 3.3l1.3 3.4l0.7 3.5l-0.1 3.6M164.6 54.0l2.8 2.3l2.9 2.2l3.0 1.8l3.1 2.0l3.4 1.2l3.4 1.1l3.4 1.0l3.5 0.9M119.7 117.4l3.6 0.5l3.5 1.0l3.3 1.3l3.3 1.4l3.2 1.7l3.3 1.4l3.4 1.3l3.5 0.8l3.6 0.7l3.3 1.2l3.3 1.5l3.0 2.0l3.1 1.7l3.2 1.7l3.3 1.5l3.2 1.7M156.1 149.8l-3.6 -0.4l-3.6 0.5l-3.4 1.1l-3.3 1.5l-3.0 2.0l-2.4 2.7l-2.3 2.7l-2.3 2.8l-2.3 2.8l-2.6 2.4l-3.2 1.7l-3.5 0.9l-3.6 0.5l-3.5 0.2l-3.6 -0.2l-3.6 -0.2M76.1 76.1l3.1 -1.8l3.0 -2.0l3.1 -1.8l3.3 -1.3l3.5 -1.1l3.3 -1.4l3.1 -1.8l3.0 -1.9M86.2 123.9l2.8 2.1l2.6 2.5l2.3 2.8l2.3 2.8l2.3 2.7l2.4 2.7M126.2 212.1l-3.6 0.3l-3.5 0.5l-3.6 0.5l-2.3 -2.7l-1.9 -3.1l-1.2 -3.4l-1.0 -3.5l-0.9 -3.4l-0.9 -3.5l-1.0 -3.5l-1.1 -3.4l-0.8 -3.5l-0.8 -3.5l-1.4 -3.4l-1.3 -3.3l-1.5 -3.3M130.7 72.3l3.3 1.5l3.1 1.7l3.1 2.0l2.8 2.1l2.9 2.2l2.6 2.5l2.5 2.6l2.5 2.6l2.4 2.7l2.2 2.8M127.4 111.0l-3.4 -1.2l-3.4 -1.3l-3.3 -1.3l-3.2 -1.8l-3.3 -1.5l-3.2 -1.4M98.6 89.3l-0.8 3.5l-1.0 3.5l-1.2 3.4l-1.2 3.4l-0.9 3.5l-0.9 3.5l-1.1 3.4l-1.5 3.3M93.3 98.8l2.0 2.9l2.4 2.7l2.1 3.0l1.7 3.1l1.8 3.1l1.9 3.1l2.3 2.8l2.2 2.8l2.4 2.7l2.3 2.8M142.4 123.7l2.9 -2.0l3.0 -2.1l3.2 -1.6l3.1 -1.8l3.2 -1.6l3.4 -1.2l3.4 -1.1l3.5 -1.1M168.0 39.6l-3.6 -0.2l-3.6 0.0l-3.6 -0.2l-3.6 -0.3l-3.6 -0.3l-3.6 0.1l-3.6 -0.1l-3.6 -0.1l-3.5 -0.3l-3.5 -0.8M80.2 63.1l-0.2 3.6l-0.3 3.6l0.2 3.6l0.1 3.6l0.5 3.6l1.2 3.4l1.4 3.3l1.9 3.1l1.7 3.1l1.8 3.2l1.3 3.3l1.6 3.2l1.8 3.1l2.2 2.9M132.2 139.5l2.2 2.9l2.5 2.6l2.6 2.5l2.4 2.6l1.8 3.1l1.3 3.4l0.9 3.5l0.6 3.5M137.3 145.5l-3.3 -1.4l-3.1 -2.0l-2.4 -2.6l-2.1 -3.0l-1.8 -3.1l-1.8 -3.1l-1.2 -3.4l-0.4 -3.6l0.0 -3.6l0.0 -3.6l0.2 -3.6l-0.1 -3.6l-0.4 -3.5l-1.0 -3.5M134.9 153.3l-0.2 3.6l0.8 3.6l1.2 3.4l1.7 3.1l1.9 3.1l2.2 2.8l2.0 3.0l1.7 3.2l1.3 3.3l0.4 3.6M213.8 113.9l-2.4 -2.6l-2.0 -3.1l-1.6 -3.2l-1.7 -3.2l-1.7 -3.2l-1.9 -3.0l-2.4 -2.7l-2.8 -2.3l-2.9 -2.0l-2.9 -2.1l-3.2 -1.7l-3.2 -1.6l-3.3 -1.6l-3.3 -1.4l-3.3 -1.5l-3.4 -1.0M115.5 136.3l-3.5 0.7l-3.5 0.8l-3.6 0.6l-3.5 0.9l-3.4 1.1l-3.0 2.0l-2.7 2.4l-2.4 2.7M206.0 157.3l-2.2 2.9l-3.4 -1.3l-3.4 -1.0l-3.5 -0.7l-3.6 -0.5l-3.6 -0.1l-3.5 -0.8l-3.5 -0.8l-3.6 -0.7l-3.4 -1.1l-3.5 -1.0l-3.1 -1.7M100.5 181.1l-3.1 1.9l-3.4 1.3l-3.5 0.8l-3.5 0.8l-3.6 0.3l-3.5 0.6l-3.6 0.6l-3.5 0.6M138.1 128.6l1.8 -3.1l2.0 -2.9l1.8 -3.2l1.4 -3.3l1.4 -3.3l1.2 -3.4l1.1 -3.4l1.6 -3.3l2.3 -2.7l3.0 -2.0l3.3 -1.5l3.4 -1.3l3.5 -0.8l3.6 -0.4M158.1 187.0l0.1 -3.6l0.5 -3.6l1.0 -3.4l1.0 -3.5l1.2 -3.4l1.5 -3.3M93.4 182.8l-0.8 3.5l-0.6 3.6l-1.0 3.4l-1.1 3.5l-1.4 3.3l-1.9 3.0l-2.1 2.9l-3.6 -0.5l-3.6 -0.2l-2.8 -2.2l-3.2 -1.7l-3.4 -1.1M117.9 83.7l1.9 3.1l1.0 3.4l0.0 3.6l-0.2 3.6l-0.1 3.6l0.5 3.6M92.1 59.8l2.2 -2.8l1.2 -3.5l0.2 -3.6l-0.7 -3.5l-1.3 -3.4l-1.6 -3.2l-1.7 -3.1l-1.4 -3.4l-1.1 -3.4l3.1 -1.9l3.2 -1.6l3.4 -1.1M76.9 91.9l-3.2 1.5l-3.4 1.2l-3.5 0.8l-3.5 0.8l-3.5 1.0l-3.6 0.5l-3.6 0.1l-3.5 -0.5l-3.5 -0.9l-3.5 -0.9M53.5 133.5l-0.5 3.6l-0.6 3.5l-0.1 3.6l0.2 3.6l0.4 3.6l0.1 3.6l-0.3 3.6l-0.5 3.6M88.1 174.7l1.6 -3.3l0.4 -3.5l-0.3 -3.6l-1.0 -3.5l-2.1 -2.9l-2.4 -2.7l-2.5 -2.6l-2.5 -2.6l-2.4 -2.7l-2.3 -2.7l-2.3 -2.8l-2.8 -2.3l-2.8 -2.2l-3.3 -1.5l-3.4 -1.2l-3.5 -0.6M72.4 137.4l-0.9 3.5l-0.5 3.5l-0.3 3.6l-0.1 3.6l0.4 3.6l0.9 3.5l1.1 3.4l0.4 3.6l-0.2 3.6l0.0 3.6l-0.3 3.6l-0.5 3.6l-0.2 3.5l0.0 3.6M131.1 55.1l-3.5 0.5l-3.6 0.1l-3.6 -0.1l-3.6 -0.3l-3.5 -0.8l-3.5 -0.9l-3.4 -1.2l-3.4 -1.2l-3.5 -0.9l-3.6 0.0l-3.6 0.3l-3.6 0.0M190.8 103.8l3.5 0.7l3.6 0.5l3.6 0.3l3.5 0.4l3.6 0.2l3.6 0.0l1.1 3.4l0.9 3.5M180.7 50.1l-3.3 1.6l-3.0 1.9l-2.9 2.1l-3.0 2.0l-3.3 1.5l-3.2 1.6l-3.4 1.3l-3.4 1.0l-3.5 1.0l-3.5 1.0M89.6 106.2l2.2 2.8l2.1 3.0l1.9 3.0l1.6 3.2l1.6 3.3l1.1 3.4l1.6 3.3l1.7 3.1l1.7 3.2l1.8 3.1l1.5 3.3l1.6 3.2l1.9 3.1l2.2 2.8M25.2 106.1l0.8 -3.5l1.1 -3.4l3.6 -0.7l3.4 -0.9l3.3 -1.4l3.1 -1.9l2.8 -2.3l2.5 -2.6l2.8 -2.3l2.5 -2.5l2.3 -2.8l2.0 -3.0l1.6 -3.2l1.1 -3.5l0.9 -3.5l1.0 -3.4M56.7 174.8l-2.9 -2.1l-2.9 -2.1l-2.8 -2.2l-2.8 -2.4l-2.1 -2.9l-2.0 -3.0l-2.0 -2.9l-2.2 -2.9l-2.4 -2.7l-2.8 -2.3M91.7 180.2l-3.6 0.2l-3.6 0.2l-3.5 0.6l-3.6 0.3l-3.6 -0.1l-3.5 -0.7l-3.5 -1.0l-3.4 -1.1l-3.4 -1.3l-3.3 -1.3l-3.3 -1.4l-3.2 -1.7l-3.5 -1.1l-3.6 -0.3M42.8 129.5l-0.8 -3.5l-0.4 -3.6l0.2 -3.6l0.6 -3.5l0.5 -3.6l0.3 -3.6M200.8 102.8l-2.6 -2.5l-2.0 -3.0l-1.3 -3.4l-0.5 -3.5l-0.3 -3.6l0.1 -3.6l0.5 -3.6l-0.3 -3.6l-1.2 -3.3l-1.6 -3.3l-1.7 -3.2l-1.8 -3.1M82.7 173.2l1.8 3.2l2.2 2.8l2.5 2.6l2.6 2.5l2.9 2.1l3.1 1.9l3.1 1.7l3.2 1.7l3.3 1.5l3.4 1.2M102.5 150.7l3.6 -0.1l3.6 0.2l3.6 0.4l3.5 0.7l3.6 0.8l3.5 0.7l3.6 0.3l3.6 -0.1M161.1 159.2l1.5 3.3l1.2 3.4l1.0 3.4l0.6 3.6l0.6 3.5l0.9 3.5M144.6 83.1l-1.6 -3.3l-1.6 -3.2l-2.0 -3.0l-1.6 -3.2l-0.6 -3.5l0.3 -3.6M186.4 101.8l-3.6 -0.1l-3.4 -1.0l-3.2 -1.8l-3.1 -1.7l-3.1 -1.9l-2.7 -2.4l-2.5 -2.6l-2.4 -2.7l-2.3 -2.7l-2.2 -2.9M153.7 103.8l3.5 -0.5l3.6 0.0l3.6 0.3l3.6 0.6l3.5 0.7l3.5 0.9l3.5 0.7l3.4 1.3l3.3 1.5l3.4 1.1l3.4 1.0l3.5 1.1l3.1 1.8l2.6 2.5l2.6 2.5l2.4 2.7M199.7 140.9l-3.3 1.5l-3.5 0.8l-3.6 0.4l-3.5 -0.4l-3.5 -0.8l-3.5 -1.1l-3.4 -1.2l-3.2 -1.5l-3.4 -1.4l-3.3 -1.3l-3.3 -1.4l-3.2 -1.7l-3.3 -1.4l-3.4 -1.2l-3.4 -1.3l-3.1 -1.7l-3.4 -1.4l-3.2 -1.5M69.8 155.9l-0.3 -3.6l-0.3 -3.6l-0.5 -3.5l-0.6 -3.6l-1.1 -3.4l-1.4 -3.3l-2.4 -2.7l-2.8 -2.2l-3.1 -1.9l-3.4 -1.2l-3.6 -0.2l-3.5 0.9M151.1 208.1l-3.6 0.4l-1.5 -3.2l-1.5 -3.3l-0.9 -3.5l-0.5 -3.6l-0.4 -3.5l-0.2 -3.6l-0.1 -3.6l-0.5 -3.6l-0.8 -3.5l-0.7 -3.5l-1.0 -3.5M114.1 155.4l-0.2 3.6l0.1 3.6l0.1 3.6l0.3 3.6l0.1 3.6l0.1 3.6l0.3 3.6l-0.2 3.5l-0.3 3.6l-0.4 3.6l-0.3 3.6l0.2 3.6M105.7 196.2l3.5 1.0l3.5 0.9l3.4 1.1l3.5 0.7l3.6 0.0l3.6 0.0l3.6 0.7l3.5 0.9l3.3 1.2l3.2 1.7l2.9 2.2l2.7 2.3" stroke="#a81aa8" stroke-width="1.7" stroke-linecap="round" stroke-linejoin="round" fill="none"/><path d="M191.3 146.7l-2.4 -2.7l-2.1 -2.9l-1.9 -3.1l-1.7 -3.2l-1.8 -3.1l-1.4 -3.3l-0.9 -3.5l-0.6 -3.5l-0.8 -3.5l-0.9 -3.5l-1.4 -3.3l-1.7 -3.2l-1.7 -3.2l-1.7 -3.2l-1.6 -3.2l-1.7 -3.1M126.6 24.8l3.5 0.6l0.3 3.6l-0.2 3.6l-0.7 3.5l-1.2 3.4l-1.0 3.5l-1.0 3.4l-1.1 3.5l-0.5 3.5l-0.1 3.6l0.2 3.6l0.3 3.6l0.8 3.5l1.0 3.5M176.2 63.7l0.6 3.5l0.1 3.6l-0.3 3.6l-0.5 3.6l-0.8 3.5l-1.1 3.4l-0.8 3.5l-0.2 3.6l0.2 3.6l-0.3 3.6l-0.4 3.6l-0.6 3.5l-0.5 3.6l-0.6 3.6M127.4 53.0l-1.8 3.2l-1.3 3.3l-1.1 3.5l-0.4 3.5l-0.4 3.6l0.2 3.6l0.1 3.6l-0.2 3.6l-0.6 3.5l-1.6 3.3l-1.9 3.0l-2.3 2.8M97.6 196.4l1.2 -3.4l1.5 -3.3l1.1 -3.4l0.9 -3.5l0.1 -3.6l0.0 -3.6l-0.5 -3.5l-0.2 -3.6l0.3 -3.6l1.0 -3.5l1.5 -3.2l1.9 -3.1l1.8 -3.2l1.5 -3.2l1.2 -3.4l1.3 -3.3M71.3 99.5l0.8 -3.5l0.0 -3.6l-0.6 -3.6l-1.1 -3.4l-1.6 -3.2l-2.2 -2.9M47.5 140.3l3.6 -0.3l3.5 -0.6l3.3 -1.4l3.0 -2.0l2.5 -2.6l2.1 -2.9l2.1 -3.0l1.7 -3.1l1.4 -3.3l1.6 -3.3l2.0 -3.0l2.3 -2.7l2.4 -2.7l2.6 -2.5M180.0 188.1l3.3 -1.4l3.4 -1.1l3.5 -1.0l2.1 -2.8l-1.2 -3.4l-1.5 -3.3l-1.7 -3.1l-1.6 -3.3l-0.9 -3.5l-1.1 -3.4l-1.5 -3.3l-1.7 -3.1M112.3 67.9l-2.3 2.8l-2.4 2.7l-2.3 2.7l-2.3 2.8l-2.2 2.8l-1.8 3.2l-1.5 3.2l-1.2 3.4l-0.9 3.5l-1.0 3.5l-0.8 3.5l-1.0 3.4l-1.5 3.3l-1.8 3.1l-2.1 2.9l-2.3 2.8M139.8 44.5l0.9 -3.5l0.4 -3.6l-0.1 -3.6l-0.7 -3.5l-1.4 -3.4l-3.5 -0.5M27.5 91.5l3.2 1.6l3.2 1.7l3.2 1.7l3.0 2.0l2.7 2.4l2.8 2.2l3.0 2.1l3.0 1.9M82.9 184.4l-1.8 -3.1l-1.3 -3.4l-1.0 -3.5l-0.8 -3.5l-1.4 -3.3l-2.3 -2.8l-2.6 -2.4l-2.7 -2.4M79.5 73.8l3.4 -1.2l3.5 -0.8l3.6 -0.6l3.5 -0.1l3.6 -0.3l3.6 -0.1l3.6 0.0l3.6 -0.5l3.5 -0.9l3.4 -1.2l3.0 -2.0l2.3 -2.7l1.6 -3.3l1.3 -3.3M185.5 116.4l1.7 3.1l1.1 3.5l0.3 3.6l-0.4 3.5l-0.7 3.6l-1.2 3.4l-1.2 3.4l-1.2 3.3l-1.5 3.3l-1.9 3.1l-2.5 2.6l-3.0 1.9l-3.3 1.6l-3.2 1.5M95.2 74.9l-3.5 -1.1l-3.3 -1.4l-3.2 -1.6l-3.3 -1.5l-2.9 -2.1l-2.3 -2.8l-2.1 -2.9l-1.9 -3.0l-1.6 -3.3l-1.5 -3.2l-1.5 -3.3l-1.8 -3.1l-1.7 -3.2l2.3 -2.7l2.5 -2.6l2.5 -2.6M151.7 34.3l2.1 3.0l1.7 3.2l1.3 3.3l1.3 3.4l0.7 3.5l-0.1 3.6M164.6 54.0l2.8 2.3l2.9 2.2l3.0 1.8l3.1 2.0l3.4 1.2l3.4 1.1l3.4 1.0l3.5 0.9M119.7 117.4l3.6 0.5l3.5 1.0l3.3 1.3l3.3 1.4l3.2 1.7l3.3 1.4l3.4 1.3l3.5 0.8l3.6 0.7l3.3 1.2l3.3 1.5l3.0 2.0l3.1 1.7l3.2 1.7l3.3 1.5l3.2 1.7M156.1 149.8l-3.6 -0.4l-3.6 0.5l-3.4 1.1l-3.3 1.5l-3.0 2.0l-2.4 2.7l-2.3 2.7l-2.3 2.8l-2.3 2.8l-2.6 2.4l-3.2 1.7l-3.5 0.9l-3.6 0.5l-3.5 0.2l-3.6 -0.2l-3.6 -0.2M76.1 76.1l3.1 -1.8l3.0 -2.0l3.1 -1.8l3.3 -1.3l3.5 -1.1l3.3 -1.4l3.1 -1.8l3.0 -1.9M86.2 123.9l2.8 2.1l2.6 2.5l2.3 2.8l2.3 2.8l2.3 2.7l2.4 2.7M126.2 212.1l-3.6 0.3l-3.5 0.5l-3.6 0.5l-2.3 -2.7l-1.9 -3.1l-1.2 -3.4l-1.0 -3.5l-0.9 -3.4l-0.9 -3.5l-1.0 -3.5l-1.1 -3.4l-0.8 -3.5l-0.8 -3.5l-1.4 -3.4l-1.3 -3.3l-1.5 -3.3M130.7 72.3l3.3 1.5l3.1 1.7l3.1 2.0l2.8 2.1l2.9 2.2l2.6 2.5l2.5 2.6l2.5 2.6l2.4 2.7l2.2 2.8M127.4 111.0l-3.4 -1.2l-3.4 -1.3l-3.3 -1.3l-3.2 -1.8l-3.3 -1.5l-3.2 -1.4M98.6 89.3l-0.8 3.5l-1.0 3.5l-1.2 3.4l-1.2 3.4l-0.9 3.5l-0.9 3.5l-1.1 3.4l-1.5 3.3M93.3 98.8l2.0 2.9l2.4 2.7l2.1 3.0l1.7 3.1l1.8 3.1l1.9 3.1l2.3 2.8l2.2 2.8l2.4 2.7l2.3 2.8M142.4 123.7l2.9 -2.0l3.0 -2.1l3.2 -1.6l3.1 -1.8l3.2 -1.6l3.4 -1.2l3.4 -1.1l3.5 -1.1M168.0 39.6l-3.6 -0.2l-3.6 0.0l-3.6 -0.2l-3.6 -0.3l-3.6 -0.3l-3.6 0.1l-3.6 -0.1l-3.6 -0.1l-3.5 -0.3l-3.5 -0.8M80.2 63.1l-0.2 3.6l-0.3 3.6l0.2 3.6l0.1 3.6l0.5 3.6l1.2 3.4l1.4 3.3l1.9 3.1l1.7 3.1l1.8 3.2l1.3 3.3l1.6 3.2l1.8 3.1l2.2 2.9M132.2 139.5l2.2 2.9l2.5 2.6l2.6 2.5l2.4 2.6l1.8 3.1l1.3 3.4l0.9 3.5l0.6 3.5M137.3 145.5l-3.3 -1.4l-3.1 -2.0l-2.4 -2.6l-2.1 -3.0l-1.8 -3.1l-1.8 -3.1l-1.2 -3.4l-0.4 -3.6l0.0 -3.6l0.0 -3.6l0.2 -3.6l-0.1 -3.6l-0.4 -3.5l-1.0 -3.5M134.9 153.3l-0.2 3.6l0.8 3.6l1.2 3.4l1.7 3.1l1.9 3.1l2.2 2.8l2.0 3.0l1.7 3.2l1.3 3.3l0.4 3.6M213.8 113.9l-2.4 -2.6l-2.0 -3.1l-1.6 -3.2l-1.7 -3.2l-1.7 -3.2l-1.9 -3.0l-2.4 -2.7l-2.8 -2.3l-2.9 -2.0l-2.9 -2.1l-3.2 -1.7l-3.2 -1.6l-3.3 -1.6l-3.3 -1.4l-3.3 -1.5l-3.4 -1.0M115.5 136.3l-3.5 0.7l-3.5 0.8l-3.6 0.6l-3.5 0.9l-3.4 1.1l-3.0 2.0l-2.7 2.4l-2.4 2.7M206.0 157.3l-2.2 2.9l-3.4 -1.3l-3.4 -1.0l-3.5 -0.7l-3.6 -0.5l-3.6 -0.1l-3.5 -0.8l-3.5 -0.8l-3.6 -0.7l-3.4 -1.1l-3.5 -1.0l-3.1 -1.7M100.5 181.1l-3.1 1.9l-3.4 1.3l-3.5 0.8l-3.5 0.8l-3.6 0.3l-3.5 0.6l-3.6 0.6l-3.5 0.6M138.1 128.6l1.8 -3.1l2.0 -2.9l1.8 -3.2l1.4 -3.3l1.4 -3.3l1.2 -3.4l1.1 -3.4l1.6 -3.3l2.3 -2.7l3.0 -2.0l3.3 -1.5l3.4 -1.3l3.5 -0.8l3.6 -0.4M158.1 187.0l0.1 -3.6l0.5 -3.6l1.0 -3.4l1.0 -3.5l1.2 -3.4l1.5 -3.3M93.4 182.8l-0.8 3.5l-0.6 3.6l-1.0 3.4l-1.1 3.5l-1.4 3.3l-1.9 3.0l-2.1 2.9l-3.6 -0.5l-3.6 -0.2l-2.8 -2.2l-3.2 -1.7l-3.4 -1.1M117.9 83.7l1.9 3.1l1.0 3.4l0.0 3.6l-0.2 3.6l-0.1 3.6l0.5 3.6M92.1 59.8l2.2 -2.8l1.2 -3.5l0.2 -3.6l-0.7 -3.5l-1.3 -3.4l-1.6 -3.2l-1.7 -3.1l-1.4 -3.4l-1.1 -3.4l3.1 -1.9l3.2 -1.6l3.4 -1.1M76.9 91.9l-3.2 1.5l-3.4 1.2l-3.5 0.8l-3.5 0.8l-3.5 1.0l-3.6 0.5l-3.6 0.1l-3.5 -0.5l-3.5 -0.9l-3.5 -0.9M53.5 133.5l-0.5 3.6l-0.6 3.5l-0.1 3.6l0.2 3.6l0.4 3.6l0.1 3.6l-0.3 3.6l-0.5 3.6M88.1 174.7l1.6 -3.3l0.4 -3.5l-0.3 -3.6l-1.0 -3.5l-2.1 -2.9l-2.4 -2.7l-2.5 -2.6l-2.5 -2.6l-2.4 -2.7l-2.3 -2.7l-2.3 -2.8l-2.8 -2.3l-2.8 -2.2l-3.3 -1.5l-3.4 -1.2l-3.5 -0.6M72.4 137.4l-0.9 3.5l-0.5 3.5l-0.3 3.6l-0.1 3.6l0.4 3.6l0.9 3.5l1.1 3.4l0.4 3.6l-0.2 3.6l0.0 3.6l-0.3 3.6l-0.5 3.6l-0.2 3.5l0.0 3.6M131.1 55.1l-3.5 0.5l-3.6 0.1l-3.6 -0.1l-3.6 -0.3l-3.5 -0.8l-3.5 -0.9l-3.4 -1.2l-3.4 -1.2l-3.5 -0.9l-3.6 0.0l-3.6 0.3l-3.6 0.0M190.8 103.8l3.5 0.7l3.6 0.5l3.6 0.3l3.5 0.4l3.6 0.2l3.6 0.0l1.1 3.4l0.9 3.5M180.7 50.1l-3.3 1.6l-3.0 1.9l-2.9 2.1l-3.0 2.0l-3.3 1.5l-3.2 1.6l-3.4 1.3l-3.4 1.0l-3.5 1.0l-3.5 1.0M89.6 106.2l2.2 2.8l2.1 3.0l1.9 3.0l1.6 3.2l1.6 3.3l1.1 3.4l1.6 3.3l1.7 3.1l1.7 3.2l1.8 3.1l1.5 3.3l1.6 3.2l1.9 3.1l2.2 2.8M25.2 106.1l0.8 -3.5l1.1 -3.4l3.6 -0.7l3.4 -0.9l3.3 -1.4l3.1 -1.9l2.8 -2.3l2.5 -2.6l2.8 -2.3l2.5 -2.5l2.3 -2.8l2.0 -3.0l1.6 -3.2l1.1 -3.5l0.9 -3.5l1.0 -3.4M56.7 174.8l-2.9 -2.1l-2.9 -2.1l-2.8 -2.2l-2.8 -2.4l-2.1 -2.9l-2.0 -3.0l-2.0 -2.9l-2.2 -2.9l-2.4 -2.7l-2.8 -2.3M91.7 180.2l-3.6 0.2l-3.6 0.2l-3.5 0.6l-3.6 0.3l-3.6 -0.1l-3.5 -0.7l-3.5 -1.0l-3.4 -1.1l-3.4 -1.3l-3.3 -1.3l-3.3 -1.4l-3.2 -1.7l-3.5 -1.1l-3.6 -0.3M42.8 129.5l-0.8 -3.5l-0.4 -3.6l0.2 -3.6l0.6 -3.5l0.5 -3.6l0.3 -3.6M200.8 102.8l-2.6 -2.5l-2.0 -3.0l-1.3 -3.4l-0.5 -3.5l-0.3 -3.6l0.1 -3.6l0.5 -3.6l-0.3 -3.6l-1.2 -3.3l-1.6 -3.3l-1.7 -3.2l-1.8 -3.1M82.7 173.2l1.8 3.2l2.2 2.8l2.5 2.6l2.6 2.5l2.9 2.1l3.1 1.9l3.1 1.7l3.2 1.7l3.3 1.5l3.4 1.2M102.5 150.7l3.6 -0.1l3.6 0.2l3.6 0.4l3.5 0.7l3.6 0.8l3.5 0.7l3.6 0.3l3.6 -0.1M161.1 159.2l1.5 3.3l1.2 3.4l1.0 3.4l0.6 3.6l0.6 3.5l0.9 3.5M144.6 83.1l-1.6 -3.3l-1.6 -3.2l-2.0 -3.0l-1.6 -3.2l-0.6 -3.5l0.3 -3.6M186.4 101.8l-3.6 -0.1l-3.4 -1.0l-3.2 -1.8l-3.1 -1.7l-3.1 -1.9l-2.7 -2.4l-2.5 -2.6l-2.4 -2.7l-2.3 -2.7l-2.2 -2.9M153.7 103.8l3.5 -0.5l3.6 0.0l3.6 0.3l3.6 0.6l3.5 0.7l3.5 0.9l3.5 0.7l3.4 1.3l3.3 1.5l3.4 1.1l3.4 1.0l3.5 1.1l3.1 1.8l2.6 2.5l2.6 2.5l2.4 2.7M199.7 140.9l-3.3 1.5l-3.5 0.8l-3.6 0.4l-3.5 -0.4l-3.5 -0.8l-3.5 -1.1l-3.4 -1.2l-3.2 -1.5l-3.4 -1.4l-3.3 -1.3l-3.3 -1.4l-3.2 -1.7l-3.3 -1.4l-3.4 -1.2l-3.4 -1.3l-3.1 -1.7l-3.4 -1.4l-3.2 -1.5M69.8 155.9l-0.3 -3.6l-0.3 -3.6l-0.5 -3.5l-0.6 -3.6l-1.1 -3.4l-1.4 -3.3l-2.4 -2.7l-2.8 -2.2l-3.1 -1.9l-3.4 -1.2l-3.6 -0.2l-3.5 0.9M151.1 208.1l-3.6 0.4l-1.5 -3.2l-1.5 -3.3l-0.9 -3.5l-0.5 -3.6l-0.4 -3.5l-0.2 -3.6l-0.1 -3.6l-0.5 -3.6l-0.8 -3.5l-0.7 -3.5l-1.0 -3.5M114.1 155.4l-0.2 3.6l0.1 3.6l0.1 3.6l0.3 3.6l0.1 3.6l0.1 3.6l0.3 3.6l-0.2 3.5l-0.3 3.6l-0.4 3.6l-0.3 3.6l0.2 3.6M105.7 196.2l3.5 1.0l3.5 0.9l3.4 1.1l3.5 0.7l3.6 0.0l3.6 0.0l3.6 0.7l3.5 0.9l3.3 1.2l3.2 1.7l2.9 2.2l2.7 2.3" stroke="#ff3cff" stroke-width="1.80" stroke-dasharray="3 6 2 8 4 5" stroke-linecap="round" fill="none"/><path d="M191.3 146.7h0M167.0 95.2h0M126.6 24.8h0M126.9 71.2h0M176.2 63.7h0M171.0 113.5h0M127.4 53.0h0M116.1 93.5h0M97.6 196.4h0M112.2 142.0h0M71.3 99.5h0M66.6 79.3h0M47.5 140.3h0M81.6 106.9h0M180.0 188.1h0M181.1 155.4h0M112.3 67.9h0M84.9 117.5h0M139.8 44.5h0M135.4 26.4h0M27.5 91.5h0M51.6 107.1h0M82.9 184.4h0M69.0 160.0h0M79.5 73.8h0M123.0 56.8h0M185.5 116.4h0M168.5 157.8h0M95.2 74.9h0M71.9 34.5h0M151.7 34.3h0M158.7 54.3h0M164.6 54.0h0M190.1 66.5h0M119.7 117.4h0M172.8 138.8h0M156.1 149.8h0M106.3 170.8h0M76.1 76.1h0M101.5 63.0h0M86.2 123.9h0M100.9 139.5h0M126.2 212.1h0M99.4 169.9h0M130.7 72.3h0M158.1 95.0h0M127.4 111.0h0M107.6 102.5h0M98.6 89.3h0M90.0 116.8h0M93.3 98.8h0M114.4 127.8h0M142.4 123.7h0M168.1 111.2h0M168.0 39.6h0M132.2 37.4h0M80.2 63.1h0M95.4 109.7h0M132.2 139.5h0M146.5 163.6h0M137.3 145.5h0M119.9 101.9h0M134.9 153.3h0M147.9 186.0h0M213.8 113.9h0M171.8 77.7h0M115.5 136.3h0M89.9 147.5h0M206.0 157.3h0M165.7 150.5h0M100.5 181.1h0M72.8 188.0h0M138.1 128.6h0M169.5 94.0h0M158.1 187.0h0M163.4 166.2h0M93.4 182.8h0M67.9 200.3h0M117.9 83.7h0M121.0 104.6h0M92.1 59.8h0M97.6 25.3h0M76.9 91.9h0M42.1 95.5h0M53.5 133.5h0M52.2 162.2h0M88.1 174.7h0M56.5 134.0h0M72.4 137.4h0M72.2 187.2h0M131.1 55.1h0M88.7 50.6h0M190.8 103.8h0M214.2 112.8h0M180.7 50.1h0M148.2 65.1h0M89.6 106.2h0M114.1 150.0h0M25.2 106.1h0M60.0 65.2h0M56.7 174.8h0M31.8 149.3h0M91.7 180.2h0M43.1 171.5h0M42.8 129.5h0M43.2 108.1h0M200.8 102.8h0M188.1 63.1h0M82.7 173.2h0M110.8 194.4h0M102.5 150.7h0M131.1 153.6h0M161.1 159.2h0M166.9 179.9h0M144.6 83.1h0M137.5 63.3h0M186.4 101.8h0M157.9 82.0h0M153.7 103.8h0M206.2 122.0h0M199.7 140.9h0M139.2 124.3h0M69.8 155.9h0M46.8 127.6h0M151.1 208.1h0M139.4 170.1h0M114.1 155.4h0M113.9 198.5h0M105.7 196.2h0M146.0 208.9h0" stroke="#ff30ff" stroke-width="3.0" stroke-linecap="round" fill="none"/><path d="M180.1 101.4h0M68.5 82.1h0M80.6 65.1h0M97.9 136.1h0M158.5 178.1h0M190.0 176.0h0M54.0 136.8h0M68.1 127.6h0M170.2 95.7h0M62.4 131.9h0M111.2 146.3h0M168.7 135.6h0M142.5 82.4h0M136.4 75.4h0M160.6 84.4h0M50.0 128.2h0M62.4 134.5h0M42.6 123.1h0M71.3 122.6h0M192.7 88.2h0M69.5 94.6h0M65.8 96.1h0M165.0 91.3h0M108.8 98.9h0M134.0 160.0h0M131.1 197.1h0M148.7 140.7h0M77.3 47.9h0M151.9 86.8h0M204.7 119.2h0M126.3 97.9h0M78.9 46.5h0M132.3 169.7h0M99.9 163.2h0M43.0 139.2h0M89.9 71.4h0M194.6 128.7h0M52.1 53.2h0M30.1 108.9h0" stroke="#2cff2c" stroke-width="1.54" stroke-opacity="1.00" stroke-linecap="round" fill="none"/><path d="M194.5 142.8h0M149.4 38.6h0M194.7 112.0h0M192.8 72.5h0M138.7 129.4h0M193.7 87.9h0M155.4 150.2h0M184.6 64.6h0M172.7 155.8h0M71.7 117.0h0M99.9 122.7h0M188.0 171.2h0M118.4 108.8h0M83.4 174.1h0M124.9 84.9h0M151.1 123.7h0M55.6 159.7h0M45.2 112.7h0M63.1 148.5h0M54.4 98.9h0M46.2 104.9h0M78.2 109.2h0M78.0 79.9h0M187.8 136.5h0M36.2 96.2h0" stroke="#2cff2c" stroke-width="1.76" stroke-opacity="1.00" stroke-linecap="round" fill="none"/><path d="M90.3 195.5h0M190.4 146.8h0M44.4 89.6h0M83.1 175.4h0M92.9 100.7h0M131.2 121.1h0M177.8 71.5h0M129.4 118.7h0M159.4 184.2h0M74.4 63.1h0M127.3 200.8h0M90.1 185.1h0M166.0 59.4h0M111.3 145.8h0M129.5 120.7h0M98.4 136.2h0M204.8 159.3h0M99.6 122.0h0M141.1 150.3h0M89.1 166.6h0M181.7 101.3h0M175.9 67.7h0M174.3 71.5h0M180.4 140.3h0M132.6 124.3h0M65.4 106.1h0M106.5 128.4h0M105.8 94.4h0M85.5 53.5h0M106.3 196.7h0M191.2 153.1h0M75.6 37.8h0M180.8 95.1h0M171.9 52.0h0M202.0 107.4h0M56.8 125.7h0M185.5 149.9h0" stroke="#2cff2c" stroke-width="1.98" stroke-opacity="1.00" stroke-linecap="round" fill="none"/></g></svg>
<rect x="482.5" y="1318.8" width="62" height="4.6" fill="#fff"/>
<svg x="562.0" y="1089.3" width="245.5" height="245.5" viewBox="0 0 245.5 245.5" overflow="hidden"><rect width="245.5" height="245.5" fill="#0b000b"/><g transform="translate(0 0.0)" filter="url(#soft)"><path d="M151.0 126.8l2.6 2.5l2.7 2.4l2.4 2.6l2.2 2.9l1.4 3.4l0.6 3.5l-0.4 3.6l-0.9 3.5l-1.1 3.4l-1.0 3.5l-1.1 3.4l-1.3 3.3l-1.5 3.3l-1.6 3.3M142.4 176.9l-3.4 -0.9l-3.6 -0.8l-3.4 -0.9l-3.5 -0.9l-3.4 -1.3l-3.4 -1.2l-3.4 -1.3l-3.0 -1.9l-2.8 -2.2l-2.7 -2.5l-2.8 -2.2l-2.7 -2.4l-2.2 -2.8l-2.0 -3.0M137.3 79.7l1.3 3.4l1.0 3.5l1.0 3.4l0.7 3.6l0.5 3.5l0.3 3.6M165.7 98.2l3.1 -1.9l2.8 -2.2l2.5 -2.6l2.0 -3.0l1.4 -3.3l1.2 -3.4l1.0 -3.5l0.8 -3.5l0.6 -3.5l-2.9 -2.2l-3.1 -1.7l-3.3 -1.5M119.5 92.2l-1.9 3.1l-1.9 3.0l-2.2 2.9l-2.4 2.6l-2.6 2.6l-2.2 2.8l-2.0 3.0l-1.9 3.0l-1.8 3.2l-1.6 3.2M153.4 77.3l3.3 1.5l3.1 1.7l3.2 1.6l3.5 1.1l3.5 0.5l3.5 1.1l3.1 1.8l2.6 2.5l2.1 2.9l1.6 3.2M117.6 122.8l3.1 1.9l2.9 2.1l3.0 2.1l3.1 1.8l3.2 1.5l3.2 1.7l3.2 1.6l3.6 0.5l3.6 -0.2l3.5 -1.0l3.4 -1.1l3.3 -1.3l3.3 -1.6l3.0 -1.9M163.9 159.0l1.5 3.3l1.0 3.4l0.5 3.6l0.2 3.6l0.5 3.5l0.7 3.6l1.0 3.4l0.9 3.5l0.8 3.5l0.5 3.6l0.6 3.5l-2.9 2.2l-2.8 2.2l-2.7 2.3M50.2 153.4l2.4 -2.7l1.6 -3.2l1.1 -3.5l0.4 -3.5l0.7 -3.6l1.7 -3.1l2.0 -3.0l2.1 -3.0M78.0 149.2l-3.1 1.9l-3.1 1.9l-3.3 1.2l-3.5 0.9l-3.6 0.1l-3.6 -0.5l-3.5 -0.9l-3.2 -1.7l-3.1 -1.7l-3.3 -1.4l-3.3 -1.4l-0.5 -3.6l-0.4 -3.6l-0.4 -3.6M133.8 190.0l-3.6 0.0l-3.4 -1.0l-3.4 -1.3l-3.4 -1.3l-3.1 -1.7l-3.2 -1.7M57.6 171.6l3.6 -0.2l3.5 -1.0l3.4 -1.1l3.4 -1.4l3.2 -1.5l3.2 -1.8l3.1 -1.8l3.0 -1.9l2.7 -2.4l2.5 -2.6l2.3 -2.7l1.7 -3.2M114.2 200.6l-2.5 -2.6l-2.9 -2.2l-3.4 -1.1l-3.6 0.1l-3.4 1.1l-3.1 1.9l-2.6 2.4l-2.5 2.7l-1.9 3.0l-3.6 -0.6l-2.2 -2.8l-1.6 -3.2l-0.9 -3.5l-0.1 -3.6M137.8 83.4l1.6 -3.3l1.0 -3.4l0.4 -3.6l-0.4 -3.6l-1.2 -3.3l-1.9 -3.1l-1.6 -3.2l-2.3 -2.8l-2.8 -2.3l-3.1 -1.8l-3.4 -1.1l-3.6 -0.8M200.0 161.9l1.0 -3.4l1.8 -3.1l2.4 -2.7l1.0 -3.5l-2.2 -2.8l-1.8 -3.2l-1.8 -3.1l-1.4 -3.3l-1.0 -3.5l-0.6 -3.5l-0.4 -3.6l-0.3 -3.6l0.0 -3.6l0.2 -3.6M161.2 138.1l2.9 2.1l2.8 2.3l2.6 2.5l2.1 2.9l2.1 2.9l2.0 3.0l1.7 3.2l1.7 3.1l2.0 3.1l1.5 3.2l1.8 3.1l1.9 3.1l2.0 3.0l1.8 3.1l1.2 3.4l-2.4 2.6l-2.5 2.6l-2.5 2.6M159.4 103.9l-3.5 0.8l-3.4 1.1l-3.5 0.9l-3.5 0.6l-3.6 0.3l-3.6 0.5l-3.5 1.0l-3.3 1.4l-3.0 2.0l-2.3 2.8M149.4 130.7l-2.5 2.6l-2.4 2.8l-2.5 2.6l-2.6 2.4l-2.9 2.1l-2.8 2.3l-2.5 2.5l-2.1 3.0M139.1 70.9l-2.8 -2.3l-2.3 -2.7l-2.0 -3.0l-2.0 -3.0l-2.0 -3.0l-2.5 -2.6l-2.9 -2.2l-3.1 -1.8l-3.2 -1.6l-3.4 1.1M82.3 156.5l2.5 2.6l2.4 2.6l2.4 2.7l2.5 2.7l2.3 2.7l2.5 2.6l2.4 2.7l1.8 3.1l0.8 3.5l-0.2 3.6M64.2 169.1l3.5 1.1l3.3 1.4l3.0 2.0l2.4 2.7l1.4 3.3l0.4 3.6l-0.5 3.6l-0.6 3.5l-0.7 3.5l-0.8 3.6l2.5 2.5l1.9 3.1l3.5 1.0l3.3 1.5l3.3 1.4l3.1 1.8l3.0 2.0l3.6 -0.3M90.6 181.8l2.7 -2.5l2.7 -2.3l2.7 -2.4l2.9 -2.2l2.9 -2.1l3.0 -2.0l3.0 -2.0l2.8 -2.2l2.9 -2.1l3.0 -2.1l2.8 -2.3l2.6 -2.4M52.1 92.3l0.2 3.6l1.1 3.4l1.7 3.2l2.3 2.8l2.6 2.5l3.0 2.0l3.5 0.4l3.6 0.5l3.5 0.9l3.4 1.1l3.5 0.8l3.6 0.7M163.4 62.0l-1.6 -3.3l-1.8 -3.1l-3.4 -0.9l-2.4 2.7l-2.1 2.9l-2.0 3.0l-2.0 3.0l-1.9 3.0l-2.2 2.9l-2.5 2.6M98.5 72.1l3.5 -1.1l3.2 -1.6l3.0 -2.0l2.5 -2.6l2.2 -2.8l1.8 -3.1l1.9 -3.1l1.8 -3.1l1.5 -3.3l3.6 -0.2M146.1 152.2l-2.5 2.6l-2.9 2.1l-3.1 1.8l-3.2 1.7l-3.2 1.6l-3.5 1.1l-3.5 0.8l-3.5 0.8l-3.5 0.4l-3.6 0.4l-3.6 0.1l-3.5 -0.7l-3.6 -0.4l-3.6 -0.3l-3.6 0.2l-3.6 0.5M109.0 160.1l-2.7 -2.4l-2.2 -2.8l-2.0 -3.1l-1.4 -3.3l-1.3 -3.3l-1.9 -3.1l-1.8 -3.1l-1.6 -3.2M186.2 121.9l2.8 2.3l2.6 2.5l2.1 2.9l1.8 3.1l1.9 3.1l2.1 2.9M144.8 167.4l-1.4 -3.3l-1.1 -3.4l-0.4 -3.6l0.5 -3.5l1.4 -3.4l1.6 -3.2l1.1 -3.4l1.0 -3.5l0.4 -3.5l-0.7 -3.6l-1.5 -3.2l-1.5 -3.4M105.9 161.7l-3.5 -0.5l-3.6 0.1l-3.5 0.9l-3.4 1.3l-3.2 1.6l-3.0 2.0l-2.9 2.2l-3.0 1.9l-3.0 2.0l-2.9 2.1l-2.9 2.1l-2.8 2.4M94.2 132.8l2.7 -2.4l3.0 -1.9l3.2 -1.6l3.5 -1.1l3.5 -0.4l3.6 0.1M70.8 119.9l-2.4 2.8l-2.7 2.3l-3.2 1.6l-3.4 1.3l-3.3 1.5l-3.3 1.3l-3.0 2.0l-3.0 2.0l-3.1 1.9l-3.2 1.5l-0.4 3.6l1.9 3.0M169.6 104.0l1.2 3.4l1.9 3.1l1.8 3.1l1.5 3.3l1.5 3.3l1.5 3.2M63.9 73.0l3.2 -1.6l3.2 -1.7l2.8 2.3l2.9 2.0l3.0 2.1l2.6 2.4l2.4 2.7l2.6 2.5l2.5 2.6l2.4 2.7l2.2 2.9l2.2 2.8l2.0 3.0l2.5 2.6M105.2 192.3l3.4 1.1l3.2 1.7l3.0 2.1l2.6 2.4l2.4 2.7l2.6 2.6l2.2 2.8l2.3 2.8l2.2 2.8l3.6 -0.3M88.5 85.9l2.3 -2.8l2.3 -2.7l2.4 -2.7l2.1 -2.9l2.4 -2.7l2.3 -2.7l2.5 -2.7l2.7 -2.3M154.0 187.2l2.3 -2.7l1.5 -3.3l1.1 -3.4l0.9 -3.5l1.0 -3.5l1.1 -3.4l1.0 -3.5l1.0 -3.4M61.3 100.5l-0.7 -3.6l-1.0 -3.4l-0.8 -3.5l-0.9 -3.5l-1.3 -3.4l2.1 -2.9M107.2 111.9l-3.6 -0.6l-3.6 -0.3l-3.5 -0.8l-3.5 -0.5l-3.6 -0.3l-3.6 0.1l-3.6 0.4l-3.6 0.4l-3.6 -0.3l-3.3 -1.2l-3.2 -1.7l-3.0 -2.0l-2.5 -2.6l-2.4 -2.7M101.2 71.9l-3.1 -1.8l-3.2 -1.7l-3.4 -1.2l-3.3 -1.4l-3.3 -1.3l-3.4 -1.3l-3.5 -1.0l-3.0 2.0M183.8 130.5l-3.4 1.2l-3.2 1.8l-2.9 2.0l-2.7 2.4l-2.6 2.6l-2.2 2.8M81.4 125.1l-2.8 2.2l-2.7 2.4l-2.2 2.8l-2.6 2.6l-2.6 2.4l-2.5 2.7l-2.0 2.9l-2.2 2.9l-2.4 2.7l-2.1 2.9l-2.0 3.0l-1.3 3.3M137.8 89.9l1.2 -3.4l1.3 -3.4l0.9 -3.5l0.6 -3.5l0.5 -3.6l0.7 -3.5l0.6 -3.5l0.6 -3.6M158.8 84.1l0.0 3.6l0.0 3.6l0.1 3.6l0.1 3.6l0.5 3.6l0.3 3.6l0.2 3.6l0.3 3.6l0.7 3.5l1.0 3.4M143.7 165.7l3.0 -1.9l3.1 -1.9l3.3 -1.5l3.5 -1.0l3.4 -1.1l3.2 -1.6l3.0 -2.0l2.6 -2.5M84.8 160.5l3.5 -0.9l3.3 -1.6l2.7 -2.4l2.0 -2.9l1.2 -3.4l0.4 -3.6l-0.7 -3.5l-1.2 -3.4M110.7 214.2l-3.2 -1.6l-3.3 -1.4l-3.4 -1.0l-3.6 -0.5l-2.1 -2.9l-1.7 -3.2l-2.4 -2.7l-2.8 -2.2l-3.3 -1.6l-3.3 -1.4l-3.2 -1.6l-3.3 -1.5M82.2 78.3l-3.4 1.0l-3.5 1.2l-3.5 0.6l-3.6 -0.3l-3.5 -0.6l-3.5 -0.9l-2.6 2.5l-2.4 2.7M95.8 210.6l2.1 -3.0l2.0 -3.0l1.6 -3.2l1.5 -3.3l1.4 -3.3l1.5 -3.3l1.5 -3.2l1.9 -3.1l2.1 -2.9l1.9 -3.1l1.6 -3.2l1.2 -3.4l0.1 -3.6l-0.5 -3.6l-1.1 -3.4l-1.1 -3.4M189.7 102.4l-3.3 -1.4l-3.3 -1.6l-3.3 -1.3l-3.6 -0.7M147.3 187.9l-0.9 -3.5l-1.6 -3.2l-1.8 -3.1l-1.7 -3.2l-1.0 -3.5l-0.4 -3.5l-0.3 -3.6l-0.5 -3.6l-0.1 -3.6l1.0 -3.4l1.5 -3.3l1.6 -3.3l1.4 -3.3l1.6 -3.2l1.7 -3.1l1.9 -3.1M131.9 124.0l-1.2 -3.3l-1.4 -3.4l-1.5 -3.3l-1.5 -3.2l-1.5 -3.3l-1.0 -3.5l-0.7 -3.5l-0.3 -3.6l-0.1 -3.6l0.4 -3.6M110.7 151.7l1.8 3.1l1.4 3.3l0.7 3.5l-0.4 3.6l-1.0 3.5l-1.7 3.1l-2.2 2.9l-2.2 2.8l-2.5 2.7l-2.7 2.4l-2.7 2.3l-2.8 2.2l-2.8 2.3l-3.0 2.0l-3.4 1.3l-3.5 0.8M107.8 82.6l3.4 -1.2l3.3 -1.4l3.5 -0.8l3.6 -0.1l3.6 0.0l3.6 -0.4l3.6 -0.4l3.6 -0.3M109.9 56.3l-3.6 0.5l-3.5 0.4l-3.6 0.5l-3.6 0.1l-3.6 -0.3l-3.6 -0.5M205.3 111.4l-3.6 0.5l-3.5 0.8l-3.5 0.8l-3.4 1.0l-3.1 1.9l-2.4 2.7l-2.5 2.5l-2.8 2.2l-3.2 1.8l-3.5 0.9l-3.6 0.1l-3.6 0.0M148.0 200.8l0.2 -3.6l0.3 -3.6l-0.3 -3.6l-1.2 -3.4l-1.1 -3.4l-1.4 -3.3M55.8 131.1l3.3 1.3l3.4 1.2l3.4 1.2l3.5 1.1l3.4 1.0l3.5 0.9M130.2 126.0l3.2 -1.5l3.6 -0.6l3.6 0.0l3.5 0.4l3.6 0.4l3.6 0.6l3.3 1.4l3.1 1.8l2.9 2.2l3.0 1.9l3.1 1.8l3.4 1.4l3.3 1.3l3.4 1.2l3.2 1.6l3.3 1.5M164.2 87.8l-3.6 -0.6l-3.5 -0.6l-3.6 -0.6l-3.6 -0.4l-3.6 0.0l-3.5 0.6M205.3 143.9l-1.0 3.5l-0.3 3.5l-2.7 2.4l-2.4 2.7l-2.5 2.6l-2.5 2.5l-2.4 2.7l-1.8 3.1l-1.8 3.2l-2.0 3.0M86.0 77.0l-1.1 3.5l-0.9 3.4l-0.7 3.6l0.3 3.6l0.9 3.5l1.1 3.4l1.1 3.4l1.3 3.4l1.4 3.3l1.6 3.2l1.8 3.1l2.1 3.0M63.5 177.9l3.4 1.0l3.5 0.8l3.6 0.4l3.6 -0.2l3.5 -0.9l3.5 -0.8l3.6 -0.5l3.6 0.0M151.8 129.7l-1.3 -3.4l-1.3 -3.3l-1.2 -3.4l-1.3 -3.4l-1.1 -3.4l-0.4 -3.6M107.1 96.4l2.7 2.4l2.8 2.3l3.1 1.8l3.3 1.3l3.6 0.6l3.6 0.2l3.5 1.0l3.3 1.2l3.4 1.3l3.5 0.7M190.1 115.4l-0.7 3.6l-0.8 3.5l-0.8 3.5l-0.8 3.5l-1.2 3.4l-0.8 3.5l-0.7 3.5l-0.7 3.6l-0.5 3.5l-0.9 3.5l-1.3 3.4l-1.5 3.2M152.8 166.7l-3.1 1.8l-2.8 2.4l-2.5 2.5l-1.8 3.1l-1.0 3.5l-0.3 3.6l0.1 3.6l0.4 3.5l0.5 3.6l0.1 3.6l0.1 3.6l-0.1 3.6l-0.3 3.6l-0.6 3.6l-3.5 0.7l-3.6 -0.1M64.1 137.1l3.6 -0.3l3.6 -0.5l3.4 -1.1l3.5 -0.8l3.5 -1.1l3.3 -1.4l3.1 -1.8l2.9 -2.1l2.7 -2.4l3.0 -2.0l2.9 -2.2l2.9 -2.1l3.0 -2.0l3.0 -2.0l2.8 -2.2l2.7 -2.4M96.1 126.2l2.4 -2.7l2.2 -2.8l1.6 -3.2l0.9 -3.5l0.5 -3.6l-0.3 -3.5l-1.0 -3.5l-1.4 -3.3l-1.8 -3.1l-1.9 -3.1l-2.1 -2.9l-2.1 -3.0l-2.1 -2.9l-2.3 -2.8l-2.6 -2.4l-3.1 -1.9M133.2 132.4l-2.8 2.2l-2.7 2.4l-2.5 2.5l-2.5 2.7l-2.8 2.2l-3.1 1.9M158.9 157.9l3.3 -1.5l3.3 -1.2l3.4 -1.2l3.5 -1.0l3.5 -0.7l3.6 -0.4l3.6 0.1l3.6 0.2l3.6 -0.5l3.5 -0.6l3.6 -0.6l3.4 -0.9M182.4 146.5l-0.4 3.6l-0.6 3.5l-1.0 3.5l-1.6 3.2l-1.9 3.0l-2.3 2.8l-2.4 2.7l-2.0 3.0l-1.9 3.1l-1.7 3.1l-1.8 3.1l-1.6 3.3M125.0 154.4l1.1 -3.4l0.2 -3.6l-0.5 -3.6l-0.4 -3.5l-0.4 -3.6l-0.8 -3.5l-1.3 -3.4l-1.2 -3.4l-1.2 -3.4l-1.6 -3.2M112.0 177.7l3.5 -0.6l3.6 -0.5l3.6 -0.1l3.6 0.6l3.5 0.8l3.4 1.0l3.2 1.7l3.2 1.6l3.2 1.7l2.9 2.2l2.8 2.2l2.9 2.1M70.2 125.1l1.2 -3.4l1.2 -3.4l1.5 -3.3l1.7 -3.1M57.9 102.5l3.4 -1.2l3.5 -0.9l3.5 -0.7l3.5 -0.9l3.3 -1.4l2.9 -2.1l2.3 -2.8l2.1 -3.0l1.7 -3.2l1.1 -3.4l0.8 -3.5l0.4 -3.6M116.0 52.7l2.5 2.5l2.7 2.5l2.6 2.4l2.9 2.2l3.2 1.5l3.5 1.1M154.4 100.7l2.4 -2.6l2.6 -2.6l2.8 -2.1l3.3 -1.6l3.5 -0.8l3.6 -0.3l3.6 -0.4l3.5 -0.3l3.6 0.2l3.6 0.5l3.4 1.2l3.3 1.4" stroke="#c21ec2" stroke-width="2.1" stroke-linecap="round" stroke-linejoin="round" fill="none"/><path d="M151.0 126.8l2.6 2.5l2.7 2.4l2.4 2.6l2.2 2.9l1.4 3.4l0.6 3.5l-0.4 3.6l-0.9 3.5l-1.1 3.4l-1.0 3.5l-1.1 3.4l-1.3 3.3l-1.5 3.3l-1.6 3.3M142.4 176.9l-3.4 -0.9l-3.6 -0.8l-3.4 -0.9l-3.5 -0.9l-3.4 -1.3l-3.4 -1.2l-3.4 -1.3l-3.0 -1.9l-2.8 -2.2l-2.7 -2.5l-2.8 -2.2l-2.7 -2.4l-2.2 -2.8l-2.0 -3.0M137.3 79.7l1.3 3.4l1.0 3.5l1.0 3.4l0.7 3.6l0.5 3.5l0.3 3.6M165.7 98.2l3.1 -1.9l2.8 -2.2l2.5 -2.6l2.0 -3.0l1.4 -3.3l1.2 -3.4l1.0 -3.5l0.8 -3.5l0.6 -3.5l-2.9 -2.2l-3.1 -1.7l-3.3 -1.5M119.5 92.2l-1.9 3.1l-1.9 3.0l-2.2 2.9l-2.4 2.6l-2.6 2.6l-2.2 2.8l-2.0 3.0l-1.9 3.0l-1.8 3.2l-1.6 3.2M153.4 77.3l3.3 1.5l3.1 1.7l3.2 1.6l3.5 1.1l3.5 0.5l3.5 1.1l3.1 1.8l2.6 2.5l2.1 2.9l1.6 3.2M117.6 122.8l3.1 1.9l2.9 2.1l3.0 2.1l3.1 1.8l3.2 1.5l3.2 1.7l3.2 1.6l3.6 0.5l3.6 -0.2l3.5 -1.0l3.4 -1.1l3.3 -1.3l3.3 -1.6l3.0 -1.9M163.9 159.0l1.5 3.3l1.0 3.4l0.5 3.6l0.2 3.6l0.5 3.5l0.7 3.6l1.0 3.4l0.9 3.5l0.8 3.5l0.5 3.6l0.6 3.5l-2.9 2.2l-2.8 2.2l-2.7 2.3M50.2 153.4l2.4 -2.7l1.6 -3.2l1.1 -3.5l0.4 -3.5l0.7 -3.6l1.7 -3.1l2.0 -3.0l2.1 -3.0M78.0 149.2l-3.1 1.9l-3.1 1.9l-3.3 1.2l-3.5 0.9l-3.6 0.1l-3.6 -0.5l-3.5 -0.9l-3.2 -1.7l-3.1 -1.7l-3.3 -1.4l-3.3 -1.4l-0.5 -3.6l-0.4 -3.6l-0.4 -3.6M133.8 190.0l-3.6 0.0l-3.4 -1.0l-3.4 -1.3l-3.4 -1.3l-3.1 -1.7l-3.2 -1.7M57.6 171.6l3.6 -0.2l3.5 -1.0l3.4 -1.1l3.4 -1.4l3.2 -1.5l3.2 -1.8l3.1 -1.8l3.0 -1.9l2.7 -2.4l2.5 -2.6l2.3 -2.7l1.7 -3.2M114.2 200.6l-2.5 -2.6l-2.9 -2.2l-3.4 -1.1l-3.6 0.1l-3.4 1.1l-3.1 1.9l-2.6 2.4l-2.5 2.7l-1.9 3.0l-3.6 -0.6l-2.2 -2.8l-1.6 -3.2l-0.9 -3.5l-0.1 -3.6M137.8 83.4l1.6 -3.3l1.0 -3.4l0.4 -3.6l-0.4 -3.6l-1.2 -3.3l-1.9 -3.1l-1.6 -3.2l-2.3 -2.8l-2.8 -2.3l-3.1 -1.8l-3.4 -1.1l-3.6 -0.8M200.0 161.9l1.0 -3.4l1.8 -3.1l2.4 -2.7l1.0 -3.5l-2.2 -2.8l-1.8 -3.2l-1.8 -3.1l-1.4 -3.3l-1.0 -3.5l-0.6 -3.5l-0.4 -3.6l-0.3 -3.6l0.0 -3.6l0.2 -3.6M161.2 138.1l2.9 2.1l2.8 2.3l2.6 2.5l2.1 2.9l2.1 2.9l2.0 3.0l1.7 3.2l1.7 3.1l2.0 3.1l1.5 3.2l1.8 3.1l1.9 3.1l2.0 3.0l1.8 3.1l1.2 3.4l-2.4 2.6l-2.5 2.6l-2.5 2.6M159.4 103.9l-3.5 0.8l-3.4 1.1l-3.5 0.9l-3.5 0.6l-3.6 0.3l-3.6 0.5l-3.5 1.0l-3.3 1.4l-3.0 2.0l-2.3 2.8M149.4 130.7l-2.5 2.6l-2.4 2.8l-2.5 2.6l-2.6 2.4l-2.9 2.1l-2.8 2.3l-2.5 2.5l-2.1 3.0M139.1 70.9l-2.8 -2.3l-2.3 -2.7l-2.0 -3.0l-2.0 -3.0l-2.0 -3.0l-2.5 -2.6l-2.9 -2.2l-3.1 -1.8l-3.2 -1.6l-3.4 1.1M82.3 156.5l2.5 2.6l2.4 2.6l2.4 2.7l2.5 2.7l2.3 2.7l2.5 2.6l2.4 2.7l1.8 3.1l0.8 3.5l-0.2 3.6M64.2 169.1l3.5 1.1l3.3 1.4l3.0 2.0l2.4 2.7l1.4 3.3l0.4 3.6l-0.5 3.6l-0.6 3.5l-0.7 3.5l-0.8 3.6l2.5 2.5l1.9 3.1l3.5 1.0l3.3 1.5l3.3 1.4l3.1 1.8l3.0 2.0l3.6 -0.3M90.6 181.8l2.7 -2.5l2.7 -2.3l2.7 -2.4l2.9 -2.2l2.9 -2.1l3.0 -2.0l3.0 -2.0l2.8 -2.2l2.9 -2.1l3.0 -2.1l2.8 -2.3l2.6 -2.4M52.1 92.3l0.2 3.6l1.1 3.4l1.7 3.2l2.3 2.8l2.6 2.5l3.0 2.0l3.5 0.4l3.6 0.5l3.5 0.9l3.4 1.1l3.5 0.8l3.6 0.7M163.4 62.0l-1.6 -3.3l-1.8 -3.1l-3.4 -0.9l-2.4 2.7l-2.1 2.9l-2.0 3.0l-2.0 3.0l-1.9 3.0l-2.2 2.9l-2.5 2.6M98.5 72.1l3.5 -1.1l3.2 -1.6l3.0 -2.0l2.5 -2.6l2.2 -2.8l1.8 -3.1l1.9 -3.1l1.8 -3.1l1.5 -3.3l3.6 -0.2M146.1 152.2l-2.5 2.6l-2.9 2.1l-3.1 1.8l-3.2 1.7l-3.2 1.6l-3.5 1.1l-3.5 0.8l-3.5 0.8l-3.5 0.4l-3.6 0.4l-3.6 0.1l-3.5 -0.7l-3.6 -0.4l-3.6 -0.3l-3.6 0.2l-3.6 0.5M109.0 160.1l-2.7 -2.4l-2.2 -2.8l-2.0 -3.1l-1.4 -3.3l-1.3 -3.3l-1.9 -3.1l-1.8 -3.1l-1.6 -3.2M186.2 121.9l2.8 2.3l2.6 2.5l2.1 2.9l1.8 3.1l1.9 3.1l2.1 2.9M144.8 167.4l-1.4 -3.3l-1.1 -3.4l-0.4 -3.6l0.5 -3.5l1.4 -3.4l1.6 -3.2l1.1 -3.4l1.0 -3.5l0.4 -3.5l-0.7 -3.6l-1.5 -3.2l-1.5 -3.4M105.9 161.7l-3.5 -0.5l-3.6 0.1l-3.5 0.9l-3.4 1.3l-3.2 1.6l-3.0 2.0l-2.9 2.2l-3.0 1.9l-3.0 2.0l-2.9 2.1l-2.9 2.1l-2.8 2.4M94.2 132.8l2.7 -2.4l3.0 -1.9l3.2 -1.6l3.5 -1.1l3.5 -0.4l3.6 0.1M70.8 119.9l-2.4 2.8l-2.7 2.3l-3.2 1.6l-3.4 1.3l-3.3 1.5l-3.3 1.3l-3.0 2.0l-3.0 2.0l-3.1 1.9l-3.2 1.5l-0.4 3.6l1.9 3.0M169.6 104.0l1.2 3.4l1.9 3.1l1.8 3.1l1.5 3.3l1.5 3.3l1.5 3.2M63.9 73.0l3.2 -1.6l3.2 -1.7l2.8 2.3l2.9 2.0l3.0 2.1l2.6 2.4l2.4 2.7l2.6 2.5l2.5 2.6l2.4 2.7l2.2 2.9l2.2 2.8l2.0 3.0l2.5 2.6M105.2 192.3l3.4 1.1l3.2 1.7l3.0 2.1l2.6 2.4l2.4 2.7l2.6 2.6l2.2 2.8l2.3 2.8l2.2 2.8l3.6 -0.3M88.5 85.9l2.3 -2.8l2.3 -2.7l2.4 -2.7l2.1 -2.9l2.4 -2.7l2.3 -2.7l2.5 -2.7l2.7 -2.3M154.0 187.2l2.3 -2.7l1.5 -3.3l1.1 -3.4l0.9 -3.5l1.0 -3.5l1.1 -3.4l1.0 -3.5l1.0 -3.4M61.3 100.5l-0.7 -3.6l-1.0 -3.4l-0.8 -3.5l-0.9 -3.5l-1.3 -3.4l2.1 -2.9M107.2 111.9l-3.6 -0.6l-3.6 -0.3l-3.5 -0.8l-3.5 -0.5l-3.6 -0.3l-3.6 0.1l-3.6 0.4l-3.6 0.4l-3.6 -0.3l-3.3 -1.2l-3.2 -1.7l-3.0 -2.0l-2.5 -2.6l-2.4 -2.7M101.2 71.9l-3.1 -1.8l-3.2 -1.7l-3.4 -1.2l-3.3 -1.4l-3.3 -1.3l-3.4 -1.3l-3.5 -1.0l-3.0 2.0M183.8 130.5l-3.4 1.2l-3.2 1.8l-2.9 2.0l-2.7 2.4l-2.6 2.6l-2.2 2.8M81.4 125.1l-2.8 2.2l-2.7 2.4l-2.2 2.8l-2.6 2.6l-2.6 2.4l-2.5 2.7l-2.0 2.9l-2.2 2.9l-2.4 2.7l-2.1 2.9l-2.0 3.0l-1.3 3.3M137.8 89.9l1.2 -3.4l1.3 -3.4l0.9 -3.5l0.6 -3.5l0.5 -3.6l0.7 -3.5l0.6 -3.5l0.6 -3.6M158.8 84.1l0.0 3.6l0.0 3.6l0.1 3.6l0.1 3.6l0.5 3.6l0.3 3.6l0.2 3.6l0.3 3.6l0.7 3.5l1.0 3.4M143.7 165.7l3.0 -1.9l3.1 -1.9l3.3 -1.5l3.5 -1.0l3.4 -1.1l3.2 -1.6l3.0 -2.0l2.6 -2.5M84.8 160.5l3.5 -0.9l3.3 -1.6l2.7 -2.4l2.0 -2.9l1.2 -3.4l0.4 -3.6l-0.7 -3.5l-1.2 -3.4M110.7 214.2l-3.2 -1.6l-3.3 -1.4l-3.4 -1.0l-3.6 -0.5l-2.1 -2.9l-1.7 -3.2l-2.4 -2.7l-2.8 -2.2l-3.3 -1.6l-3.3 -1.4l-3.2 -1.6l-3.3 -1.5M82.2 78.3l-3.4 1.0l-3.5 1.2l-3.5 0.6l-3.6 -0.3l-3.5 -0.6l-3.5 -0.9l-2.6 2.5l-2.4 2.7M95.8 210.6l2.1 -3.0l2.0 -3.0l1.6 -3.2l1.5 -3.3l1.4 -3.3l1.5 -3.3l1.5 -3.2l1.9 -3.1l2.1 -2.9l1.9 -3.1l1.6 -3.2l1.2 -3.4l0.1 -3.6l-0.5 -3.6l-1.1 -3.4l-1.1 -3.4M189.7 102.4l-3.3 -1.4l-3.3 -1.6l-3.3 -1.3l-3.6 -0.7M147.3 187.9l-0.9 -3.5l-1.6 -3.2l-1.8 -3.1l-1.7 -3.2l-1.0 -3.5l-0.4 -3.5l-0.3 -3.6l-0.5 -3.6l-0.1 -3.6l1.0 -3.4l1.5 -3.3l1.6 -3.3l1.4 -3.3l1.6 -3.2l1.7 -3.1l1.9 -3.1M131.9 124.0l-1.2 -3.3l-1.4 -3.4l-1.5 -3.3l-1.5 -3.2l-1.5 -3.3l-1.0 -3.5l-0.7 -3.5l-0.3 -3.6l-0.1 -3.6l0.4 -3.6M110.7 151.7l1.8 3.1l1.4 3.3l0.7 3.5l-0.4 3.6l-1.0 3.5l-1.7 3.1l-2.2 2.9l-2.2 2.8l-2.5 2.7l-2.7 2.4l-2.7 2.3l-2.8 2.2l-2.8 2.3l-3.0 2.0l-3.4 1.3l-3.5 0.8M107.8 82.6l3.4 -1.2l3.3 -1.4l3.5 -0.8l3.6 -0.1l3.6 0.0l3.6 -0.4l3.6 -0.4l3.6 -0.3M109.9 56.3l-3.6 0.5l-3.5 0.4l-3.6 0.5l-3.6 0.1l-3.6 -0.3l-3.6 -0.5M205.3 111.4l-3.6 0.5l-3.5 0.8l-3.5 0.8l-3.4 1.0l-3.1 1.9l-2.4 2.7l-2.5 2.5l-2.8 2.2l-3.2 1.8l-3.5 0.9l-3.6 0.1l-3.6 0.0M148.0 200.8l0.2 -3.6l0.3 -3.6l-0.3 -3.6l-1.2 -3.4l-1.1 -3.4l-1.4 -3.3M55.8 131.1l3.3 1.3l3.4 1.2l3.4 1.2l3.5 1.1l3.4 1.0l3.5 0.9M130.2 126.0l3.2 -1.5l3.6 -0.6l3.6 0.0l3.5 0.4l3.6 0.4l3.6 0.6l3.3 1.4l3.1 1.8l2.9 2.2l3.0 1.9l3.1 1.8l3.4 1.4l3.3 1.3l3.4 1.2l3.2 1.6l3.3 1.5M164.2 87.8l-3.6 -0.6l-3.5 -0.6l-3.6 -0.6l-3.6 -0.4l-3.6 0.0l-3.5 0.6M205.3 143.9l-1.0 3.5l-0.3 3.5l-2.7 2.4l-2.4 2.7l-2.5 2.6l-2.5 2.5l-2.4 2.7l-1.8 3.1l-1.8 3.2l-2.0 3.0M86.0 77.0l-1.1 3.5l-0.9 3.4l-0.7 3.6l0.3 3.6l0.9 3.5l1.1 3.4l1.1 3.4l1.3 3.4l1.4 3.3l1.6 3.2l1.8 3.1l2.1 3.0M63.5 177.9l3.4 1.0l3.5 0.8l3.6 0.4l3.6 -0.2l3.5 -0.9l3.5 -0.8l3.6 -0.5l3.6 0.0M151.8 129.7l-1.3 -3.4l-1.3 -3.3l-1.2 -3.4l-1.3 -3.4l-1.1 -3.4l-0.4 -3.6M107.1 96.4l2.7 2.4l2.8 2.3l3.1 1.8l3.3 1.3l3.6 0.6l3.6 0.2l3.5 1.0l3.3 1.2l3.4 1.3l3.5 0.7M190.1 115.4l-0.7 3.6l-0.8 3.5l-0.8 3.5l-0.8 3.5l-1.2 3.4l-0.8 3.5l-0.7 3.5l-0.7 3.6l-0.5 3.5l-0.9 3.5l-1.3 3.4l-1.5 3.2M152.8 166.7l-3.1 1.8l-2.8 2.4l-2.5 2.5l-1.8 3.1l-1.0 3.5l-0.3 3.6l0.1 3.6l0.4 3.5l0.5 3.6l0.1 3.6l0.1 3.6l-0.1 3.6l-0.3 3.6l-0.6 3.6l-3.5 0.7l-3.6 -0.1M64.1 137.1l3.6 -0.3l3.6 -0.5l3.4 -1.1l3.5 -0.8l3.5 -1.1l3.3 -1.4l3.1 -1.8l2.9 -2.1l2.7 -2.4l3.0 -2.0l2.9 -2.2l2.9 -2.1l3.0 -2.0l3.0 -2.0l2.8 -2.2l2.7 -2.4M96.1 126.2l2.4 -2.7l2.2 -2.8l1.6 -3.2l0.9 -3.5l0.5 -3.6l-0.3 -3.5l-1.0 -3.5l-1.4 -3.3l-1.8 -3.1l-1.9 -3.1l-2.1 -2.9l-2.1 -3.0l-2.1 -2.9l-2.3 -2.8l-2.6 -2.4l-3.1 -1.9M133.2 132.4l-2.8 2.2l-2.7 2.4l-2.5 2.5l-2.5 2.7l-2.8 2.2l-3.1 1.9M158.9 157.9l3.3 -1.5l3.3 -1.2l3.4 -1.2l3.5 -1.0l3.5 -0.7l3.6 -0.4l3.6 0.1l3.6 0.2l3.6 -0.5l3.5 -0.6l3.6 -0.6l3.4 -0.9M182.4 146.5l-0.4 3.6l-0.6 3.5l-1.0 3.5l-1.6 3.2l-1.9 3.0l-2.3 2.8l-2.4 2.7l-2.0 3.0l-1.9 3.1l-1.7 3.1l-1.8 3.1l-1.6 3.3M125.0 154.4l1.1 -3.4l0.2 -3.6l-0.5 -3.6l-0.4 -3.5l-0.4 -3.6l-0.8 -3.5l-1.3 -3.4l-1.2 -3.4l-1.2 -3.4l-1.6 -3.2M112.0 177.7l3.5 -0.6l3.6 -0.5l3.6 -0.1l3.6 0.6l3.5 0.8l3.4 1.0l3.2 1.7l3.2 1.6l3.2 1.7l2.9 2.2l2.8 2.2l2.9 2.1M70.2 125.1l1.2 -3.4l1.2 -3.4l1.5 -3.3l1.7 -3.1M57.9 102.5l3.4 -1.2l3.5 -0.9l3.5 -0.7l3.5 -0.9l3.3 -1.4l2.9 -2.1l2.3 -2.8l2.1 -3.0l1.7 -3.2l1.1 -3.4l0.8 -3.5l0.4 -3.6M116.0 52.7l2.5 2.5l2.7 2.5l2.6 2.4l2.9 2.2l3.2 1.5l3.5 1.1M154.4 100.7l2.4 -2.6l2.6 -2.6l2.8 -2.1l3.3 -1.6l3.5 -0.8l3.6 -0.3l3.6 -0.4l3.5 -0.3l3.6 0.2l3.6 0.5l3.4 1.2l3.3 1.4" stroke="#ff3cff" stroke-width="2.20" stroke-dasharray="3 6 2 8 4 5" stroke-linecap="round" fill="none"/><path d="M151.0 126.8h0M154.0 171.4h0M142.4 176.9h0M100.1 152.6h0M137.3 79.7h0M142.1 100.7h0M165.7 98.2h0M171.8 65.9h0M119.5 92.2h0M99.0 121.6h0M153.4 77.3h0M182.9 95.2h0M117.6 122.8h0M163.0 128.9h0M163.9 159.0h0M163.7 204.2h0M50.2 153.4h0M62.2 127.8h0M78.0 149.2h0M40.1 136.8h0M133.8 190.0h0M113.7 183.0h0M57.6 171.6h0M93.2 150.0h0M114.2 200.6h0M79.9 192.2h0M137.8 83.4h0M120.5 51.1h0M200.0 161.9h0M196.9 115.4h0M161.2 138.1h0M183.9 189.9h0M159.4 103.9h0M126.2 115.3h0M149.4 130.7h0M129.1 151.0h0M139.1 70.9h0M112.9 49.8h0M82.3 156.5h0M101.7 185.3h0M64.2 169.1h0M99.8 210.4h0M90.6 181.8h0M124.6 155.2h0M52.1 92.3h0M84.1 114.2h0M163.4 62.0h0M141.5 74.8h0M98.5 72.1h0M123.5 49.2h0M146.1 152.2h0M92.1 164.9h0M109.0 160.1h0M94.1 135.8h0M186.2 121.9h0M199.5 138.7h0M144.8 167.4h0M144.2 126.4h0M105.9 161.7h0M68.2 179.8h0M94.2 132.8h0M113.7 125.5h0M70.8 119.9h0M41.7 144.7h0M169.6 104.0h0M179.0 123.4h0M63.9 73.0h0M100.4 100.3h0M105.2 192.3h0M132.7 213.0h0M88.5 85.9h0M107.5 64.4h0M154.0 187.2h0M163.9 160.5h0M61.3 100.5h0M58.7 80.2h0M107.2 111.9h0M60.6 99.8h0M101.2 71.9h0M75.0 64.2h0M183.8 130.5h0M166.8 143.3h0M81.4 125.1h0M54.0 157.9h0M137.8 89.9h0M144.2 61.9h0M158.8 84.1h0M162.0 119.8h0M143.7 165.7h0M168.8 152.2h0M84.8 160.5h0M96.0 138.8h0M110.7 214.2h0M75.1 192.6h0M82.2 78.3h0M56.2 84.5h0M95.8 210.6h0M113.5 158.6h0M189.7 102.4h0M176.2 97.4h0M147.3 187.9h0M149.7 134.4h0M131.9 124.0h0M123.1 89.7h0M110.7 151.7h0M83.7 193.5h0M107.8 82.6h0M136.0 78.0h0M109.9 56.3h0M88.4 57.0h0M205.3 111.4h0M166.6 126.6h0M148.0 200.8h0M144.5 179.9h0M55.8 131.1h0M76.3 137.8h0M130.2 126.0h0M183.3 141.4h0M164.2 87.8h0M142.8 86.2h0M205.3 143.9h0M185.9 173.1h0M86.0 77.0h0M94.9 117.4h0M63.5 177.9h0M91.8 177.7h0M151.8 129.7h0M145.2 109.2h0M107.1 96.4h0M139.9 109.2h0M190.1 115.4h0M179.4 157.1h0M152.8 166.7h0M134.4 212.9h0M64.1 137.1h0M114.0 110.7h0M96.1 126.2h0M83.0 78.0h0M133.2 132.4h0M116.8 146.3h0M158.9 157.9h0M200.8 149.6h0M182.4 146.5h0M163.2 184.4h0M125.0 154.4h0M118.9 119.8h0M112.0 177.7h0M151.4 190.4h0M70.2 125.1h0M75.8 111.9h0M57.9 102.5h0M86.4 75.8h0M116.0 52.7h0M133.4 64.9h0M154.4 100.7h0M193.6 93.3h0" stroke="#ff30ff" stroke-width="3.0" stroke-linecap="round" fill="none"/><path d="M110.9 165.8h0M115.8 98.9h0M180.1 89.0h0M146.1 185.6h0M49.7 151.9h0M77.3 199.4h0M101.4 103.2h0M114.2 58.2h0M140.5 91.1h0M126.8 78.7h0M89.4 203.9h0M160.2 103.7h0M60.9 172.2h0M70.8 123.9h0M53.8 100.3h0M109.6 186.1h0M161.3 148.2h0M143.5 124.3h0M96.2 93.6h0M139.7 84.4h0M73.8 167.9h0M124.7 176.7h0M62.9 171.1h0M158.7 134.5h0M142.8 108.3h0M117.9 55.4h0M193.9 150.8h0M100.9 98.7h0M99.2 195.2h0M137.6 159.8h0M141.2 77.3h0M148.7 199.5h0M160.3 94.7h0M130.5 113.2h0M144.3 145.1h0M95.9 130.8h0M163.5 182.6h0M78.1 181.1h0M126.2 150.6h0M176.1 116.5h0M166.4 155.2h0M61.2 100.1h0M60.6 94.9h0M85.6 82.4h0M115.4 56.7h0M163.4 140.5h0M127.8 105.1h0M106.3 64.3h0M146.5 186.5h0M158.8 86.9h0M172.5 91.6h0M149.6 127.2h0M203.9 150.4h0M90.5 181.5h0M122.9 132.0h0M123.1 105.8h0M80.9 79.4h0M103.6 157.0h0M141.5 86.9h0M115.9 163.2h0M70.0 118.9h0M127.2 52.4h0M109.7 194.7h0M100.5 71.7h0M202.4 152.8h0M91.4 200.9h0M144.8 143.1h0M69.7 179.2h0M59.3 132.9h0M130.5 121.7h0M145.2 154.7h0M74.5 108.2h0M60.1 92.7h0M84.0 92.0h0M129.2 59.2h0M126.0 111.4h0M64.8 110.4h0M78.4 133.9h0M114.0 79.6h0M123.4 105.5h0M70.6 170.1h0M204.2 154.5h0M126.4 152.1h0M202.3 142.3h0M82.0 89.9h0M128.0 129.6h0M53.2 146.9h0M141.4 210.7h0M68.4 179.3h0M59.0 128.1h0M110.6 165.5h0M146.8 114.5h0M90.7 109.3h0M141.7 161.1h0M116.0 163.1h0M105.1 155.7h0M100.1 121.7h0M176.9 138.5h0M117.8 49.9h0M129.5 60.0h0M184.3 136.6h0M81.6 109.5h0M54.4 147.4h0M143.4 203.4h0M130.7 213.5h0M132.6 160.3h0M94.3 79.3h0M90.5 109.6h0M147.6 186.9h0M164.8 132.1h0M102.7 195.2h0M126.0 150.0h0M147.1 187.3h0M72.9 79.9h0M187.6 122.6h0M57.6 88.3h0M74.6 72.3h0M137.2 62.4h0M129.0 77.1h0M163.1 87.0h0M94.7 88.4h0M162.5 182.9h0M115.7 167.2h0M87.0 105.1h0M132.0 131.7h0M101.7 177.6h0M109.4 166.4h0M58.5 102.4h0M143.6 176.6h0M119.0 53.3h0M185.1 189.2h0M140.1 152.4h0M148.8 186.2h0M96.3 153.4h0M167.2 134.5h0M118.8 92.7h0M147.3 188.3h0M178.8 88.5h0M126.8 151.4h0M180.9 152.9h0M111.1 163.5h0M118.4 170.6h0M198.5 112.3h0M171.1 131.7h0M56.8 159.4h0M84.0 148.6h0M131.7 106.8h0M153.9 182.1h0M131.1 105.8h0M163.2 159.0h0" stroke="#2cff2c" stroke-width="1.68" stroke-opacity="1.00" stroke-linecap="round" fill="none"/><path d="M82.3 202.1h0M95.8 57.5h0M54.3 143.2h0M109.7 184.2h0M82.1 169.7h0M84.2 63.3h0M89.0 103.5h0M83.7 108.4h0M200.1 162.2h0M75.4 131.8h0M87.0 80.3h0M176.0 87.0h0M128.2 79.2h0M179.7 133.0h0M124.2 127.9h0M196.7 127.4h0M104.3 180.5h0M71.5 176.6h0M160.2 151.3h0M120.8 157.9h0M133.1 132.8h0M203.4 145.5h0M113.8 158.3h0M66.6 124.5h0M196.0 124.6h0M58.9 130.9h0M113.9 162.7h0M170.7 104.5h0M141.0 203.2h0M114.0 197.6h0M74.0 166.8h0M134.0 132.7h0M81.6 180.1h0M100.3 177.0h0M159.0 81.4h0M113.9 167.2h0M129.3 114.1h0M84.0 179.0h0M40.9 142.1h0M142.1 77.5h0M88.1 204.6h0M57.0 138.3h0M135.0 212.4h0M139.3 167.2h0M142.2 73.9h0M176.6 119.6h0M183.1 98.8h0M139.6 85.6h0M142.7 200.4h0M101.5 152.5h0M85.8 131.5h0M141.2 71.5h0M175.9 117.2h0M177.1 89.3h0M78.6 127.1h0M102.8 58.3h0M159.6 85.3h0M151.0 127.3h0M81.0 79.6h0M75.8 111.5h0M61.6 109.1h0M86.9 82.6h0M192.7 128.2h0M88.0 86.2h0M157.4 77.8h0M104.6 126.7h0M120.7 79.0h0M160.3 157.1h0M103.3 69.2h0M123.8 206.0h0M150.4 125.4h0M82.7 195.3h0M141.8 177.5h0M107.1 168.0h0M76.4 62.9h0M109.8 196.7h0M78.1 178.2h0M160.8 106.6h0M141.1 152.3h0M188.9 118.1h0M181.3 141.6h0M183.7 142.0h0M118.7 93.5h0M105.5 69.0h0M83.9 88.7h0M72.3 81.2h0M122.9 94.4h0M147.1 183.4h0M188.7 126.3h0M153.0 59.2h0M176.2 86.5h0M82.3 204.7h0M61.8 97.8h0M86.6 130.7h0M107.1 112.7h0M97.0 144.2h0M91.8 201.5h0M162.2 168.7h0M77.9 72.6h0M182.1 154.5h0M87.3 157.8h0M97.3 94.2h0M71.0 171.0h0M144.5 181.5h0M132.1 110.3h0M92.4 128.0h0M127.5 189.7h0M145.1 142.9h0M103.9 112.0h0M124.7 171.4h0M143.0 199.1h0M104.7 118.1h0M76.5 180.4h0M115.1 164.0h0M100.1 173.9h0M159.1 157.8h0M112.3 197.1h0M121.3 125.4h0M118.0 93.8h0M74.4 180.1h0M99.2 173.7h0M143.3 73.6h0M84.4 78.9h0M163.7 80.6h0M98.9 74.3h0M115.8 198.0h0M70.6 154.5h0M96.3 175.5h0M125.3 109.9h0M121.7 80.0h0M59.5 127.7h0M116.6 167.0h0M148.0 188.5h0M124.4 126.6h0M66.3 155.4h0M140.4 75.1h0M108.9 115.8h0M167.1 175.6h0M159.6 104.8h0M158.1 161.7h0M95.8 78.8h0M95.6 139.4h0M146.2 66.5h0M136.9 180.7h0M122.0 202.6h0M140.8 91.8h0M143.3 66.1h0M166.0 173.2h0M98.1 143.3h0M93.0 115.0h0M101.3 149.8h0M95.5 198.4h0M116.3 169.4h0M77.0 111.9h0M94.9 155.7h0M142.4 184.5h0M80.7 92.2h0M71.1 124.0h0M129.9 64.6h0M112.2 178.8h0M127.1 128.7h0M128.8 57.6h0M140.0 69.9h0M63.6 102.5h0M84.5 79.4h0M143.9 149.9h0M92.9 207.8h0M181.6 152.5h0M62.1 146.2h0M140.4 108.1h0M183.3 138.0h0M171.4 191.7h0M82.7 156.8h0M77.2 112.6h0M99.8 122.1h0M138.2 135.5h0M119.8 50.5h0M105.1 193.6h0M71.5 99.0h0M177.3 85.5h0M173.7 166.4h0M178.4 131.3h0M166.3 134.3h0M62.3 82.2h0M65.3 128.0h0M133.0 56.1h0M188.1 181.6h0M145.6 153.5h0M110.4 143.0h0M147.8 87.0h0M148.4 94.5h0" stroke="#2cff2c" stroke-width="1.99" stroke-opacity="1.00" stroke-linecap="round" fill="none"/><path d="M103.0 194.6h0M146.6 119.1h0M120.5 125.2h0M163.1 131.4h0M121.8 185.5h0M119.5 103.2h0M109.5 183.3h0M110.3 82.2h0M56.3 155.7h0M92.3 201.6h0M89.1 177.4h0M102.4 117.0h0M77.6 194.1h0M84.1 86.6h0M178.1 68.5h0M160.0 97.8h0M127.1 78.7h0M84.3 64.7h0M106.0 158.7h0M82.8 90.1h0M165.3 82.6h0M107.1 67.1h0M196.2 133.5h0M161.0 116.6h0M169.0 140.2h0M41.7 148.4h0M190.1 183.0h0M135.5 159.2h0M83.9 82.7h0M112.1 125.3h0M154.0 132.5h0M138.7 83.8h0M112.6 170.9h0M72.7 71.7h0M140.3 82.2h0M141.9 155.5h0M59.4 94.8h0M55.8 85.9h0M189.1 183.0h0M61.6 102.9h0M129.9 149.8h0M91.8 109.8h0M43.2 137.0h0M63.2 154.7h0M42.2 136.7h0M199.6 162.1h0M103.8 116.0h0M164.9 181.7h0M74.6 135.7h0M61.5 100.7h0M98.9 123.5h0M90.5 164.8h0M101.7 179.2h0M140.6 85.1h0M110.7 172.8h0M140.6 183.8h0M189.2 166.8h0M89.3 204.3h0M90.5 84.3h0M67.0 110.1h0M193.0 152.1h0M186.6 99.6h0M118.7 50.2h0M162.0 146.1h0M58.9 107.2h0M125.0 177.2h0M137.7 81.9h0M65.6 109.3h0M84.5 193.7h0M82.4 132.3h0M185.0 137.1h0M77.5 192.2h0M117.2 198.5h0M137.6 109.1h0M126.7 51.8h0M160.5 152.7h0M58.4 129.1h0M176.1 87.6h0M107.7 64.0h0M140.2 163.7h0M86.2 76.4h0M101.1 153.5h0M116.4 57.1h0M206.0 147.3h0M177.2 96.8h0M129.6 136.0h0M170.1 103.0h0M185.4 138.8h0M121.6 90.4h0M185.2 139.8h0M60.0 94.2h0M144.9 180.5h0M79.4 202.5h0M143.3 136.0h0M71.9 178.6h0M180.9 151.4h0M182.5 100.9h0M168.3 134.9h0M120.1 176.9h0M204.7 147.7h0M93.2 136.5h0M144.0 124.7h0M166.9 170.5h0M98.8 164.8h0M102.7 107.0h0M81.5 79.5h0M52.5 151.7h0M200.6 139.6h0M65.9 136.9h0M134.1 160.5h0M121.0 164.2h0M72.5 117.3h0M103.1 194.7h0M94.8 198.5h0M127.7 188.8h0M69.6 168.8h0M125.1 140.2h0M152.4 134.0h0M40.6 139.3h0M142.5 147.8h0M157.2 183.4h0M78.2 164.4h0M76.1 179.6h0M181.1 90.6h0M144.0 173.3h0M141.0 181.6h0M189.7 166.5h0M129.7 188.4h0M138.4 107.0h0M167.9 82.6h0M120.0 159.5h0M90.9 127.6h0M102.3 161.6h0M130.3 213.2h0M99.2 120.4h0M93.7 125.2h0M107.3 191.1h0M90.8 203.1h0M119.1 104.4h0M173.6 93.7h0M110.9 64.6h0M101.5 148.0h0M85.1 82.3h0M99.8 176.9h0M116.0 160.9h0M143.4 150.2h0M97.8 176.4h0M171.6 109.1h0M148.1 188.2h0M54.8 144.2h0M94.9 170.8h0M198.5 161.2h0M168.8 145.9h0M126.4 188.0h0M100.5 111.1h0M152.6 134.3h0M121.9 157.6h0M98.4 124.3h0M73.9 138.0h0M173.5 152.2h0M92.9 162.1h0M143.0 68.8h0M156.5 80.4h0M93.7 136.2h0M131.8 78.7h0M146.6 129.8h0M135.5 207.6h0M122.1 209.3h0M82.4 130.1h0M74.8 84.6h0M77.7 132.0h0" stroke="#2cff2c" stroke-width="2.31" stroke-opacity="1.00" stroke-linecap="round" fill="none"/></g></svg>
<rect x="731.7" y="1318.8" width="62" height="4.6" fill="#fff"/>
<svg x="811.0" y="1089.3" width="245.5" height="245.5" viewBox="0 0 245.5 245.5" overflow="hidden"><rect width="245.5" height="245.5" fill="#0b000b"/><g transform="translate(0 0.0)" filter="url(#soft)"><path d="M173.4 182.8l-1.5 -3.3l-2.0 -3.0l-2.5 -2.6l-2.4 -2.6l-2.8 -2.4l-2.9 -2.1l-3.2 -1.5l-3.4 -1.3l-3.4 -1.2l-3.5 -0.8l-3.6 -0.3l-3.6 0.0l-3.6 0.3l-3.5 0.6l-3.6 0.1l-3.6 -0.1M106.3 195.8l-3.4 1.0l-3.5 1.1l-3.4 1.0l-3.5 0.8l-3.5 1.0l-3.5 1.0M142.9 132.2l-0.7 -3.5l-1.0 -3.4l-1.3 -3.4l-1.6 -3.2l-1.9 -3.0l-2.3 -2.9l-2.3 -2.7l-2.4 -2.7l-2.2 -2.8l-2.2 -2.9l-2.1 -2.9l-1.6 -3.2l-1.4 -3.4l-1.1 -3.4M124.7 153.0l1.9 -3.1l2.1 -2.9l2.4 -2.6l2.9 -2.1l3.1 -1.9l3.1 -1.9l3.0 -1.9l2.8 -2.3M80.3 171.9l3.1 1.9l2.7 2.3l2.9 2.2l2.9 2.1l3.2 1.8l3.2 1.5l3.4 1.4l3.2 1.5l3.2 1.7l3.2 1.7l3.2 1.6l3.5 0.7l3.6 0.1l3.6 -0.4M64.9 175.8l2.0 3.0l1.7 3.2l1.1 3.4l0.7 3.5l-0.1 3.6l0.4 3.6l3.1 1.8l2.9 2.2M87.1 186.7l2.0 -3.0l1.9 -3.0l2.2 -2.8l2.3 -2.9l2.3 -2.7l2.6 -2.5l2.6 -2.5l1.6 -3.2l0.8 -3.5l0.1 -3.6l-0.3 -3.6l-0.9 -3.5l-1.1 -3.4l-1.1 -3.4M128.2 144.7l-3.1 -1.8l-3.3 -1.5l-3.2 -1.6l-3.2 -1.6l-3.3 -1.4l-3.4 -1.2l-3.4 -1.3l-3.2 -1.6l-3.2 -1.7l-3.1 -1.9M189.0 165.3l2.4 -2.7l2.3 -2.8l2.3 -2.8l-0.8 -3.5l-0.7 -3.5l-0.5 -3.6l-0.4 -3.6l-0.1 -3.5l0.2 -3.6l-0.1 -3.6l-0.4 -3.6l-0.4 -3.6l-0.2 -3.6l-0.2 -3.6l0.2 -3.6l0.5 -3.5M161.8 74.1l0.3 3.6l-0.1 3.6l-0.3 3.6l-0.8 3.5l-1.0 3.5l-0.6 3.5l-1.0 3.5l-1.3 3.3l-1.4 3.3l-1.7 3.2l-2.1 2.9l-2.3 2.8M120.9 91.8l-1.1 3.4l-1.2 3.4l-1.5 3.3l-1.5 3.3l-2.1 2.9l-2.8 2.2M162.5 106.6l3.5 0.8l3.5 1.0l3.5 0.6l3.6 0.0l3.6 -0.7l3.4 -1.1l3.3 -1.4l3.5 -1.0l3.5 -0.6l3.6 -0.5l1.7 3.2l2.1 2.9M134.8 62.2l3.6 -0.4l3.6 0.1l3.5 0.8l3.5 0.9l3.5 0.9l3.6 0.3l3.6 -0.1l3.5 -0.6M89.0 99.7l3.0 -1.9l3.1 -2.0l2.8 -2.3l2.5 -2.5l2.5 -2.6l3.1 -1.9l3.2 -1.6l3.4 -1.3l3.3 -1.3l3.6 -0.7M151.6 204.2l-3.3 1.5l-3.2 1.6l-3.5 1.1l-2.3 -2.8l-1.8 -3.1l-1.4 -3.3l-1.5 -3.3l-1.7 -3.1l-2.2 -2.9l-2.3 -2.8M106.8 139.0l-1.8 -3.1l-1.4 -3.3l-1.6 -3.3l-1.3 -3.3l-0.9 -3.5l-0.1 -3.6l-0.2 -3.6l-0.2 -3.6l-0.2 -3.6l-0.5 -3.6l-0.5 -3.5l-0.9 -3.5M46.0 153.2l1.9 3.0l2.1 3.0l2.3 2.7l2.7 2.4l2.6 2.5l2.7 2.3l2.5 2.7l2.3 2.7l2.0 3.1l1.7 3.1l1.2 3.4l0.5 3.6M96.4 43.3l-3.6 -0.4l-3.0 1.9l0.9 3.5l0.8 3.5l1.0 3.5l0.6 3.5l0.4 3.6l-0.6 3.5l-0.9 3.5l-0.9 3.5l-0.9 3.5l-0.7 3.5l-0.8 3.5l-0.4 3.6M174.5 160.1l-2.3 -2.8l-2.8 -2.2l-3.2 -1.6l-3.4 -1.2l-3.5 -0.8l-3.5 -1.0l-3.5 -0.6l-3.6 -0.8M58.5 138.5l1.8 3.1l1.9 3.1l1.7 3.1l1.8 3.2l1.7 3.2l1.8 3.1l1.1 3.4l0.5 3.6l0.3 3.6l0.1 3.6M193.0 160.6l-0.3 3.6l-2.1 2.9l-3.6 -0.3l-3.6 -0.3l-3.5 -0.3l-3.6 -0.4l-3.6 0.2l-3.6 0.2l-3.6 0.5l-3.5 0.5l-3.5 0.8l-3.5 1.1l-3.4 1.2l-3.4 1.1M118.8 51.0l-1.4 3.4l-1.9 3.0l-2.6 2.5l-2.9 2.1l-2.8 2.3l-2.3 2.8M139.4 100.4l-0.4 3.6l0.0 3.6l-0.5 3.6l-0.4 3.5l-0.2 3.6l-0.4 3.6l-0.1 3.6l0.4 3.6l0.7 3.5l0.7 3.5l0.2 3.6l0.4 3.6l0.6 3.6l1.0 3.4l1.4 3.4l1.4 3.3M149.6 203.7l-0.1 -3.6l-0.4 -3.6l-1.1 -3.4l-1.9 -3.0l-1.4 -3.4l-1.0 -3.4l-1.0 -3.5l-0.7 -3.5M133.7 112.2l-1.2 3.4l-1.3 3.3l-1.0 3.5l-1.1 3.4l-1.4 3.3l-1.7 3.2M127.0 202.8l1.4 -3.3l1.5 -3.3l1.9 -3.0l2.1 -2.9l2.2 -2.9l2.3 -2.8l2.1 -2.9l1.8 -3.1M42.4 122.5l1.6 -3.2l1.1 -3.4l1.1 -3.5l0.9 -3.4l0.1 -3.6l-0.1 -3.6M73.3 108.2l-1.3 -3.4l-1.8 -3.1l-2.1 -2.9l-1.9 -3.1l-1.8 -3.1l-2.0 -3.0l-2.1 -2.9l-2.1 -2.9l-2.4 -2.7l-2.6 -2.5l-3.0 -2.0l-3.3 -1.5l-2.5 2.5l0.0 3.6l0.5 3.6l0.9 3.5M184.3 122.3l-3.6 0.0l-3.6 0.0l-3.6 0.3l-3.5 0.5l-3.4 1.2l-3.4 1.4l-3.4 1.1l-3.5 0.9l-3.4 1.2l-3.3 1.3l-3.3 1.4l-3.4 1.4l-3.2 1.5l-3.4 1.3l-3.0 1.9l-3.1 1.9l-3.0 2.1l-2.7 2.3M54.9 128.7l2.0 3.1l2.7 2.3l3.1 1.9l3.0 2.0l2.9 2.1l2.9 2.1l3.1 1.9l3.4 1.2l3.4 1.0l3.4 1.1l3.4 1.2l3.4 1.2l3.4 1.2l3.2 1.7M117.6 77.9l-0.4 3.6l-0.3 3.6l0.2 3.5l0.9 3.5l0.7 3.6l0.9 3.4l0.6 3.6l0.6 3.6M137.4 135.4l-1.4 3.3l-0.8 3.5l-0.2 3.6l0.8 3.5l1.8 3.2l2.4 2.6l3.0 2.0l3.3 1.4l3.4 1.4l3.2 1.5l3.2 1.7l3.0 2.1l2.6 2.4l2.6 2.5M110.8 68.6l3.2 -1.7l3.1 -1.9l3.0 -1.9l3.1 -1.9l2.8 -2.2l2.5 -2.6l2.3 -2.7l2.7 -2.5l2.6 -2.5l2.6 -2.4l2.6 -2.5l3.4 1.2l3.2 1.7l3.2 1.7M168.7 178.9l-3.3 -1.4l-3.5 -0.9l-3.5 -0.8l-3.6 0.0l-3.6 -0.2l-3.6 -0.6l-3.5 -0.6l-3.6 -0.7M78.9 77.4l-0.3 3.6l-0.2 3.6l0.2 3.6l0.3 3.6l-0.4 3.5l-0.6 3.6l-0.7 3.5l-0.7 3.6l-1.0 3.4l-1.1 3.4l-1.3 3.4l-1.3 3.3M72.4 105.5l1.7 -3.1l1.5 -3.3l1.2 -3.4l1.4 -3.3l1.7 -3.2l1.9 -3.0l2.1 -2.9l2.5 -2.7l2.6 -2.5l2.5 -2.5l2.4 -2.7l2.5 -2.6l2.3 -2.8l2.4 -2.7l2.3 -2.7l2.4 -2.7M149.5 100.1l-3.6 -0.7l-3.5 -0.8l-3.4 -1.2l-3.4 -1.0l-3.5 -0.9l-3.5 -0.8l-3.5 -1.0l-3.4 -1.0l-3.4 -1.3l-3.3 -1.5l-3.2 -1.5l-3.2 -1.7l-3.4 -1.3l-3.4 -1.0M120.2 101.0l3.2 -1.7l2.9 -2.0l2.7 -2.4l2.5 -2.6l2.3 -2.9l1.6 -3.2l1.3 -3.3l1.6 -3.2l2.4 -2.8l3.0 -1.9l3.5 -0.7l3.6 0.6M114.1 202.7l-1.8 -3.1l-1.5 -3.3l-1.5 -3.3l-1.2 -3.4l-1.0 -3.4l-0.5 -3.6l-0.5 -3.6l-1.1 -3.4l-2.3 -2.7l-3.0 -2.1M82.0 65.9l-2.3 2.7l-1.7 3.2l-0.5 3.5l0.3 3.6l0.2 3.6l0.7 3.5l1.1 3.5l1.8 3.1l1.8 3.1l1.5 3.3l1.0 3.4l0.9 3.5l0.4 3.6l0.0 3.6M43.1 166.6l-1.7 -3.2l1.7 -3.1l1.6 -3.2l2.0 -3.1l2.5 -2.6l2.9 -2.1l3.3 -1.4l3.0 -1.9l2.8 -2.3l2.2 -2.9l1.5 -3.2l0.6 -3.6l-0.3 -3.6l-0.7 -3.5M140.8 108.2l3.2 -1.7l3.5 -1.0l3.5 -0.9l3.5 -0.4l3.6 0.0l3.6 0.5l3.6 0.4l3.5 0.7l3.4 1.3l3.3 1.4M134.5 64.1l-3.0 -2.0l-3.0 -1.9l-3.0 -2.0l-2.9 -2.2l-2.7 -2.3l-2.4 -2.7l-2.4 -2.7l-1.8 -3.1l-1.7 -3.2l-3.6 0.0l-3.6 0.5l-3.6 0.5l-3.6 0.4l-3.5 0.5M185.5 147.6l0.1 -3.6l-0.9 -3.5l-1.2 -3.4l-1.7 -3.1l-2.2 -2.9l-2.3 -2.8l-2.5 -2.5l-2.6 -2.5l-2.1 -2.9l-2.0 -3.0l-1.5 -3.3l-1.1 -3.4l-1.0 -3.5l-1.1 -3.4M67.2 123.1l3.2 1.6l3.0 2.0l3.1 1.8l3.3 1.4M127.7 176.1l-2.0 -3.0l-1.7 -3.2l-1.5 -3.2l-1.6 -3.3l-1.0 -3.4l-0.9 -3.5l-0.8 -3.5l-1.3 -3.4M128.2 65.5l0.4 3.6l0.5 3.5l0.7 3.6l0.9 3.4l0.9 3.5l1.3 3.4l1.3 3.3l0.7 3.6M124.0 67.5l3.0 2.0l3.1 1.9l3.3 1.5l3.4 1.1l3.5 0.8l3.5 0.8l3.5 0.8l3.6 0.2l3.6 -0.1l3.6 -0.4l3.4 -1.0l3.3 -1.5l3.1 -1.9l2.7 -2.4M152.5 103.1l-2.5 2.6l-2.6 2.5l-2.8 2.2l-2.8 2.3l-2.3 2.8l-1.7 3.1M156.3 153.2l3.5 -1.0l3.1 -1.9l2.5 -2.6l2.0 -2.9l1.5 -3.3l1.0 -3.5l1.4 -3.3l2.2 -2.8l2.8 -2.3l3.4 -1.3M76.1 144.0l3.4 1.2l3.5 1.1l3.5 0.8l3.5 0.3l3.6 0.2l3.6 0.0l3.6 -0.2l3.6 -0.1l3.6 -0.2l3.6 -0.6l3.4 -1.2l3.3 -1.4l3.3 -1.5l3.1 -1.8M31.6 110.2l2.9 2.1l2.6 2.5l2.1 2.9l1.7 3.2l1.1 3.4l0.8 3.5l0.8 3.5l0.9 3.5l1.0 3.5l0.9 3.5l1.0 3.4l1.1 3.4l1.3 3.4l1.5 3.3l2.0 3.0l1.8 3.1M165.5 61.1l-2.5 2.6l-2.9 2.1l-2.9 2.2l-2.8 2.2l-2.6 2.5l-3.0 1.9l-3.3 1.5l-3.4 1.4M120.3 163.2l-2.1 -2.9l-1.9 -3.1l-1.9 -3.1l-2.2 -2.8l-2.4 -2.7l-2.5 -2.6l-2.2 -2.8l-1.8 -3.1l-1.6 -3.3l-1.5 -3.2l-1.5 -3.3l-1.5 -3.3M144.6 111.0l1.4 3.3l2.4 2.8l2.6 2.4l2.6 2.5l2.3 2.8l2.4 2.6l2.8 2.4l2.8 2.1M168.9 112.0l1.4 -3.4l1.3 -3.3l1.4 -3.4l1.4 -3.3l1.3 -3.3l1.2 -3.4l1.1 -3.5l1.1 -3.4l1.0 -3.4l0.3 -3.6M53.8 185.0l-1.8 -3.1l1.7 -3.1l1.1 -3.5l0.7 -3.5l0.1 -3.6l-0.2 -3.6l-0.3 -3.6l0.4 -3.6l0.5 -3.5l0.9 -3.5l1.0 -3.5l1.5 -3.2l1.8 -3.2l1.7 -3.1M117.3 153.8l3.5 0.9l3.5 1.1l3.3 1.3l3.5 1.1l3.4 1.1l3.1 1.8l3.2 1.6l3.1 1.8l3.1 1.9l3.0 2.1M122.9 137.3l-2.9 -2.2l-2.8 -2.3l-2.8 -2.2l-2.8 -2.3l-2.7 -2.4l-3.0 -1.9l-3.2 -1.7l-3.1 -1.9l-3.2 -1.6l-3.4 -1.1l-3.6 -0.6l-3.5 -0.8M48.8 74.0l3.5 -0.5l3.6 -0.4l3.6 -0.3l3.6 0.3l3.6 0.4l3.5 0.6l3.5 0.8l3.5 0.9l3.3 1.4l3.3 1.4M89.6 71.2l3.4 -1.0l3.4 -1.2l3.3 -1.5l3.3 -1.5l3.0 -2.0l2.7 -2.3M186.2 127.0l2.5 -2.6l2.7 -2.4l2.9 -2.2l2.9 -2.1l2.9 -2.2l-0.7 -3.5M170.7 173.1l-0.2 -3.6l-0.4 -3.6l-0.9 -3.5l-1.5 -3.3l-1.8 -3.1l-2.4 -2.6l-2.8 -2.3l-3.1 -1.8l-3.0 -2.1l-2.9 -2.0M92.2 120.7l-1.1 3.4l-1.5 3.3l-2.1 3.0l-1.8 3.1l-1.4 3.3l-1.0 3.5l-1.0 3.4l-1.2 3.4l-1.0 3.5l-1.0 3.4M115.5 211.6l3.5 -0.5l3.6 -0.7l3.4 -1.1l-0.3 -3.5l-0.7 -3.6l-0.8 -3.5l-1.1 -3.4l-1.4 -3.3l-1.6 -3.2l-2.5 -2.6l-3.0 -2.1l-3.3 -1.5l-3.5 -0.7l-3.6 -0.2M134.0 46.1l3.6 -0.4l3.6 0.4l3.5 0.7l3.3 1.4l3.0 2.0l-0.6 3.5l-0.5 3.6l0.2 3.6l0.3 3.6l0.5 3.6l0.9 3.4l1.3 3.4M130.1 128.0l2.2 -2.8l2.3 -2.7l2.9 -2.2l3.1 -1.9l3.1 -1.8l3.1 -1.9l2.9 -2.0l3.2 -1.8l3.4 -1.0l3.6 -0.5l3.6 -0.1l3.6 0.2l3.5 0.6l3.5 0.8M51.2 147.4l2.1 -3.0l2.2 -2.8l2.2 -2.9l2.2 -2.8l2.3 -2.8l2.7 -2.4l3.4 -1.3l3.4 -0.9l3.6 -0.7l3.5 -0.7l3.5 -0.9l3.6 -0.1M73.0 145.1l2.3 2.8l2.0 2.9l1.9 3.1l1.9 3.1l1.9 3.0l1.9 3.1l2.0 3.0l2.0 3.0l2.0 2.9l1.8 3.2l1.5 3.3l1.3 3.3l0.9 3.5l0.7 3.5M55.8 130.8l-0.5 -3.5l0.3 -3.6l0.8 -3.5l1.6 -3.2l2.6 -2.5l2.5 -2.7l2.3 -2.7l2.7 -2.3M170.9 60.9l-0.6 3.6l0.0 3.6l0.1 3.6l-0.1 3.6M181.7 93.3l2.8 -2.2l2.9 -2.1l3.0 -2.1l-0.9 -3.5M134.5 193.1l1.6 -3.2l1.7 -3.1l1.7 -3.2l1.7 -3.2l1.6 -3.2l1.1 -3.4l1.2 -3.4l1.0 -3.5l1.0 -3.4l0.7 -3.6l0.5 -3.5l0.3 -3.6l0.6 -3.6l0.7 -3.5l1.1 -3.4l1.2 -3.4M88.4 163.0l-0.8 3.5l-0.4 3.6l-0.4 3.6l-1.0 3.4l-1.6 3.2l-2.0 3.1l-1.6 3.2l-1.5 3.3l-1.3 3.3l-0.7 3.5l-0.3 3.6l2.9 2.0l2.5 2.7l3.5 0.5l3.6 0.6l3.3 1.3M186.6 171.6l2.1 -2.9l1.4 -3.3l0.6 -3.5l-0.2 -3.6l-1.3 -3.4l-1.7 -3.2l-1.9 -3.0l-1.8 -3.1l-1.1 -3.5l-0.4 -3.5l-0.1 -3.6l0.1 -3.6l0.4 -3.6l0.7 -3.5M113.5 148.4l-2.4 -2.7l-3.0 -2.1l-3.2 -1.7l-3.3 -1.4l-3.2 -1.5l-3.5 -1.0l-3.5 -0.6l-3.6 -0.4M177.4 103.9l-0.6 3.6l-0.4 3.6l-0.7 3.5l-1.0 3.5M124.5 167.1l-3.5 0.3l-3.6 0.0l-3.6 -0.7l-3.5 -0.9l-3.5 -0.9l-3.5 -0.4l-3.6 -0.2l-3.6 -0.1l-3.6 0.2l-3.6 0.4l-3.6 0.4l-3.6 0.3M97.0 91.5l1.1 -3.4l1.5 -3.3l2.0 -3.0l2.7 -2.3l3.1 -1.9l3.2 -1.6l3.3 -1.5l3.2 -1.6l3.3 -1.6l3.4 -1.0l3.5 -0.8l3.6 0.2l3.3 1.6l3.0 1.9M69.9 117.3l-2.6 -2.5l-2.6 -2.5l-3.0 -1.9l-3.1 -1.9M121.8 211.6l-3.5 -0.8l-3.5 -0.6l-1.0 -3.5l-1.0 -3.4l-1.5 -3.3l-1.6 -3.3l-2.1 -2.9l-2.3 -2.7l-2.5 -2.6l-3.1 -1.9l-3.4 -1.2l-3.4 -1.1M58.5 136.2l-1.9 -3.0l-2.1 -3.0l-2.0 -3.0l-1.5 -3.2l-1.0 -3.5l-0.3 -3.6M118.6 115.1l-3.3 -1.4l-3.3 -1.5l-3.2 -1.7l-3.2 -1.7l-3.0 -1.9l-3.2 -1.7l-2.9 -2.1l-2.8 -2.2l-2.8 -2.4l-2.9 -2.1l-3.0 -1.9l-3.3 -1.4" stroke="#c21ec2" stroke-width="2.1" stroke-linecap="round" stroke-linejoin="round" fill="none"/><path d="M173.4 182.8l-1.5 -3.3l-2.0 -3.0l-2.5 -2.6l-2.4 -2.6l-2.8 -2.4l-2.9 -2.1l-3.2 -1.5l-3.4 -1.3l-3.4 -1.2l-3.5 -0.8l-3.6 -0.3l-3.6 0.0l-3.6 0.3l-3.5 0.6l-3.6 0.1l-3.6 -0.1M106.3 195.8l-3.4 1.0l-3.5 1.1l-3.4 1.0l-3.5 0.8l-3.5 1.0l-3.5 1.0M142.9 132.2l-0.7 -3.5l-1.0 -3.4l-1.3 -3.4l-1.6 -3.2l-1.9 -3.0l-2.3 -2.9l-2.3 -2.7l-2.4 -2.7l-2.2 -2.8l-2.2 -2.9l-2.1 -2.9l-1.6 -3.2l-1.4 -3.4l-1.1 -3.4M124.7 153.0l1.9 -3.1l2.1 -2.9l2.4 -2.6l2.9 -2.1l3.1 -1.9l3.1 -1.9l3.0 -1.9l2.8 -2.3M80.3 171.9l3.1 1.9l2.7 2.3l2.9 2.2l2.9 2.1l3.2 1.8l3.2 1.5l3.4 1.4l3.2 1.5l3.2 1.7l3.2 1.7l3.2 1.6l3.5 0.7l3.6 0.1l3.6 -0.4M64.9 175.8l2.0 3.0l1.7 3.2l1.1 3.4l0.7 3.5l-0.1 3.6l0.4 3.6l3.1 1.8l2.9 2.2M87.1 186.7l2.0 -3.0l1.9 -3.0l2.2 -2.8l2.3 -2.9l2.3 -2.7l2.6 -2.5l2.6 -2.5l1.6 -3.2l0.8 -3.5l0.1 -3.6l-0.3 -3.6l-0.9 -3.5l-1.1 -3.4l-1.1 -3.4M128.2 144.7l-3.1 -1.8l-3.3 -1.5l-3.2 -1.6l-3.2 -1.6l-3.3 -1.4l-3.4 -1.2l-3.4 -1.3l-3.2 -1.6l-3.2 -1.7l-3.1 -1.9M189.0 165.3l2.4 -2.7l2.3 -2.8l2.3 -2.8l-0.8 -3.5l-0.7 -3.5l-0.5 -3.6l-0.4 -3.6l-0.1 -3.5l0.2 -3.6l-0.1 -3.6l-0.4 -3.6l-0.4 -3.6l-0.2 -3.6l-0.2 -3.6l0.2 -3.6l0.5 -3.5M161.8 74.1l0.3 3.6l-0.1 3.6l-0.3 3.6l-0.8 3.5l-1.0 3.5l-0.6 3.5l-1.0 3.5l-1.3 3.3l-1.4 3.3l-1.7 3.2l-2.1 2.9l-2.3 2.8M120.9 91.8l-1.1 3.4l-1.2 3.4l-1.5 3.3l-1.5 3.3l-2.1 2.9l-2.8 2.2M162.5 106.6l3.5 0.8l3.5 1.0l3.5 0.6l3.6 0.0l3.6 -0.7l3.4 -1.1l3.3 -1.4l3.5 -1.0l3.5 -0.6l3.6 -0.5l1.7 3.2l2.1 2.9M134.8 62.2l3.6 -0.4l3.6 0.1l3.5 0.8l3.5 0.9l3.5 0.9l3.6 0.3l3.6 -0.1l3.5 -0.6M89.0 99.7l3.0 -1.9l3.1 -2.0l2.8 -2.3l2.5 -2.5l2.5 -2.6l3.1 -1.9l3.2 -1.6l3.4 -1.3l3.3 -1.3l3.6 -0.7M151.6 204.2l-3.3 1.5l-3.2 1.6l-3.5 1.1l-2.3 -2.8l-1.8 -3.1l-1.4 -3.3l-1.5 -3.3l-1.7 -3.1l-2.2 -2.9l-2.3 -2.8M106.8 139.0l-1.8 -3.1l-1.4 -3.3l-1.6 -3.3l-1.3 -3.3l-0.9 -3.5l-0.1 -3.6l-0.2 -3.6l-0.2 -3.6l-0.2 -3.6l-0.5 -3.6l-0.5 -3.5l-0.9 -3.5M46.0 153.2l1.9 3.0l2.1 3.0l2.3 2.7l2.7 2.4l2.6 2.5l2.7 2.3l2.5 2.7l2.3 2.7l2.0 3.1l1.7 3.1l1.2 3.4l0.5 3.6M96.4 43.3l-3.6 -0.4l-3.0 1.9l0.9 3.5l0.8 3.5l1.0 3.5l0.6 3.5l0.4 3.6l-0.6 3.5l-0.9 3.5l-0.9 3.5l-0.9 3.5l-0.7 3.5l-0.8 3.5l-0.4 3.6M174.5 160.1l-2.3 -2.8l-2.8 -2.2l-3.2 -1.6l-3.4 -1.2l-3.5 -0.8l-3.5 -1.0l-3.5 -0.6l-3.6 -0.8M58.5 138.5l1.8 3.1l1.9 3.1l1.7 3.1l1.8 3.2l1.7 3.2l1.8 3.1l1.1 3.4l0.5 3.6l0.3 3.6l0.1 3.6M193.0 160.6l-0.3 3.6l-2.1 2.9l-3.6 -0.3l-3.6 -0.3l-3.5 -0.3l-3.6 -0.4l-3.6 0.2l-3.6 0.2l-3.6 0.5l-3.5 0.5l-3.5 0.8l-3.5 1.1l-3.4 1.2l-3.4 1.1M118.8 51.0l-1.4 3.4l-1.9 3.0l-2.6 2.5l-2.9 2.1l-2.8 2.3l-2.3 2.8M139.4 100.4l-0.4 3.6l0.0 3.6l-0.5 3.6l-0.4 3.5l-0.2 3.6l-0.4 3.6l-0.1 3.6l0.4 3.6l0.7 3.5l0.7 3.5l0.2 3.6l0.4 3.6l0.6 3.6l1.0 3.4l1.4 3.4l1.4 3.3M149.6 203.7l-0.1 -3.6l-0.4 -3.6l-1.1 -3.4l-1.9 -3.0l-1.4 -3.4l-1.0 -3.4l-1.0 -3.5l-0.7 -3.5M133.7 112.2l-1.2 3.4l-1.3 3.3l-1.0 3.5l-1.1 3.4l-1.4 3.3l-1.7 3.2M127.0 202.8l1.4 -3.3l1.5 -3.3l1.9 -3.0l2.1 -2.9l2.2 -2.9l2.3 -2.8l2.1 -2.9l1.8 -3.1M42.4 122.5l1.6 -3.2l1.1 -3.4l1.1 -3.5l0.9 -3.4l0.1 -3.6l-0.1 -3.6M73.3 108.2l-1.3 -3.4l-1.8 -3.1l-2.1 -2.9l-1.9 -3.1l-1.8 -3.1l-2.0 -3.0l-2.1 -2.9l-2.1 -2.9l-2.4 -2.7l-2.6 -2.5l-3.0 -2.0l-3.3 -1.5l-2.5 2.5l0.0 3.6l0.5 3.6l0.9 3.5M184.3 122.3l-3.6 0.0l-3.6 0.0l-3.6 0.3l-3.5 0.5l-3.4 1.2l-3.4 1.4l-3.4 1.1l-3.5 0.9l-3.4 1.2l-3.3 1.3l-3.3 1.4l-3.4 1.4l-3.2 1.5l-3.4 1.3l-3.0 1.9l-3.1 1.9l-3.0 2.1l-2.7 2.3M54.9 128.7l2.0 3.1l2.7 2.3l3.1 1.9l3.0 2.0l2.9 2.1l2.9 2.1l3.1 1.9l3.4 1.2l3.4 1.0l3.4 1.1l3.4 1.2l3.4 1.2l3.4 1.2l3.2 1.7M117.6 77.9l-0.4 3.6l-0.3 3.6l0.2 3.5l0.9 3.5l0.7 3.6l0.9 3.4l0.6 3.6l0.6 3.6M137.4 135.4l-1.4 3.3l-0.8 3.5l-0.2 3.6l0.8 3.5l1.8 3.2l2.4 2.6l3.0 2.0l3.3 1.4l3.4 1.4l3.2 1.5l3.2 1.7l3.0 2.1l2.6 2.4l2.6 2.5M110.8 68.6l3.2 -1.7l3.1 -1.9l3.0 -1.9l3.1 -1.9l2.8 -2.2l2.5 -2.6l2.3 -2.7l2.7 -2.5l2.6 -2.5l2.6 -2.4l2.6 -2.5l3.4 1.2l3.2 1.7l3.2 1.7M168.7 178.9l-3.3 -1.4l-3.5 -0.9l-3.5 -0.8l-3.6 0.0l-3.6 -0.2l-3.6 -0.6l-3.5 -0.6l-3.6 -0.7M78.9 77.4l-0.3 3.6l-0.2 3.6l0.2 3.6l0.3 3.6l-0.4 3.5l-0.6 3.6l-0.7 3.5l-0.7 3.6l-1.0 3.4l-1.1 3.4l-1.3 3.4l-1.3 3.3M72.4 105.5l1.7 -3.1l1.5 -3.3l1.2 -3.4l1.4 -3.3l1.7 -3.2l1.9 -3.0l2.1 -2.9l2.5 -2.7l2.6 -2.5l2.5 -2.5l2.4 -2.7l2.5 -2.6l2.3 -2.8l2.4 -2.7l2.3 -2.7l2.4 -2.7M149.5 100.1l-3.6 -0.7l-3.5 -0.8l-3.4 -1.2l-3.4 -1.0l-3.5 -0.9l-3.5 -0.8l-3.5 -1.0l-3.4 -1.0l-3.4 -1.3l-3.3 -1.5l-3.2 -1.5l-3.2 -1.7l-3.4 -1.3l-3.4 -1.0M120.2 101.0l3.2 -1.7l2.9 -2.0l2.7 -2.4l2.5 -2.6l2.3 -2.9l1.6 -3.2l1.3 -3.3l1.6 -3.2l2.4 -2.8l3.0 -1.9l3.5 -0.7l3.6 0.6M114.1 202.7l-1.8 -3.1l-1.5 -3.3l-1.5 -3.3l-1.2 -3.4l-1.0 -3.4l-0.5 -3.6l-0.5 -3.6l-1.1 -3.4l-2.3 -2.7l-3.0 -2.1M82.0 65.9l-2.3 2.7l-1.7 3.2l-0.5 3.5l0.3 3.6l0.2 3.6l0.7 3.5l1.1 3.5l1.8 3.1l1.8 3.1l1.5 3.3l1.0 3.4l0.9 3.5l0.4 3.6l0.0 3.6M43.1 166.6l-1.7 -3.2l1.7 -3.1l1.6 -3.2l2.0 -3.1l2.5 -2.6l2.9 -2.1l3.3 -1.4l3.0 -1.9l2.8 -2.3l2.2 -2.9l1.5 -3.2l0.6 -3.6l-0.3 -3.6l-0.7 -3.5M140.8 108.2l3.2 -1.7l3.5 -1.0l3.5 -0.9l3.5 -0.4l3.6 0.0l3.6 0.5l3.6 0.4l3.5 0.7l3.4 1.3l3.3 1.4M134.5 64.1l-3.0 -2.0l-3.0 -1.9l-3.0 -2.0l-2.9 -2.2l-2.7 -2.3l-2.4 -2.7l-2.4 -2.7l-1.8 -3.1l-1.7 -3.2l-3.6 0.0l-3.6 0.5l-3.6 0.5l-3.6 0.4l-3.5 0.5M185.5 147.6l0.1 -3.6l-0.9 -3.5l-1.2 -3.4l-1.7 -3.1l-2.2 -2.9l-2.3 -2.8l-2.5 -2.5l-2.6 -2.5l-2.1 -2.9l-2.0 -3.0l-1.5 -3.3l-1.1 -3.4l-1.0 -3.5l-1.1 -3.4M67.2 123.1l3.2 1.6l3.0 2.0l3.1 1.8l3.3 1.4M127.7 176.1l-2.0 -3.0l-1.7 -3.2l-1.5 -3.2l-1.6 -3.3l-1.0 -3.4l-0.9 -3.5l-0.8 -3.5l-1.3 -3.4M128.2 65.5l0.4 3.6l0.5 3.5l0.7 3.6l0.9 3.4l0.9 3.5l1.3 3.4l1.3 3.3l0.7 3.6M124.0 67.5l3.0 2.0l3.1 1.9l3.3 1.5l3.4 1.1l3.5 0.8l3.5 0.8l3.5 0.8l3.6 0.2l3.6 -0.1l3.6 -0.4l3.4 -1.0l3.3 -1.5l3.1 -1.9l2.7 -2.4M152.5 103.1l-2.5 2.6l-2.6 2.5l-2.8 2.2l-2.8 2.3l-2.3 2.8l-1.7 3.1M156.3 153.2l3.5 -1.0l3.1 -1.9l2.5 -2.6l2.0 -2.9l1.5 -3.3l1.0 -3.5l1.4 -3.3l2.2 -2.8l2.8 -2.3l3.4 -1.3M76.1 144.0l3.4 1.2l3.5 1.1l3.5 0.8l3.5 0.3l3.6 0.2l3.6 0.0l3.6 -0.2l3.6 -0.1l3.6 -0.2l3.6 -0.6l3.4 -1.2l3.3 -1.4l3.3 -1.5l3.1 -1.8M31.6 110.2l2.9 2.1l2.6 2.5l2.1 2.9l1.7 3.2l1.1 3.4l0.8 3.5l0.8 3.5l0.9 3.5l1.0 3.5l0.9 3.5l1.0 3.4l1.1 3.4l1.3 3.4l1.5 3.3l2.0 3.0l1.8 3.1M165.5 61.1l-2.5 2.6l-2.9 2.1l-2.9 2.2l-2.8 2.2l-2.6 2.5l-3.0 1.9l-3.3 1.5l-3.4 1.4M120.3 163.2l-2.1 -2.9l-1.9 -3.1l-1.9 -3.1l-2.2 -2.8l-2.4 -2.7l-2.5 -2.6l-2.2 -2.8l-1.8 -3.1l-1.6 -3.3l-1.5 -3.2l-1.5 -3.3l-1.5 -3.3M144.6 111.0l1.4 3.3l2.4 2.8l2.6 2.4l2.6 2.5l2.3 2.8l2.4 2.6l2.8 2.4l2.8 2.1M168.9 112.0l1.4 -3.4l1.3 -3.3l1.4 -3.4l1.4 -3.3l1.3 -3.3l1.2 -3.4l1.1 -3.5l1.1 -3.4l1.0 -3.4l0.3 -3.6M53.8 185.0l-1.8 -3.1l1.7 -3.1l1.1 -3.5l0.7 -3.5l0.1 -3.6l-0.2 -3.6l-0.3 -3.6l0.4 -3.6l0.5 -3.5l0.9 -3.5l1.0 -3.5l1.5 -3.2l1.8 -3.2l1.7 -3.1M117.3 153.8l3.5 0.9l3.5 1.1l3.3 1.3l3.5 1.1l3.4 1.1l3.1 1.8l3.2 1.6l3.1 1.8l3.1 1.9l3.0 2.1M122.9 137.3l-2.9 -2.2l-2.8 -2.3l-2.8 -2.2l-2.8 -2.3l-2.7 -2.4l-3.0 -1.9l-3.2 -1.7l-3.1 -1.9l-3.2 -1.6l-3.4 -1.1l-3.6 -0.6l-3.5 -0.8M48.8 74.0l3.5 -0.5l3.6 -0.4l3.6 -0.3l3.6 0.3l3.6 0.4l3.5 0.6l3.5 0.8l3.5 0.9l3.3 1.4l3.3 1.4M89.6 71.2l3.4 -1.0l3.4 -1.2l3.3 -1.5l3.3 -1.5l3.0 -2.0l2.7 -2.3M186.2 127.0l2.5 -2.6l2.7 -2.4l2.9 -2.2l2.9 -2.1l2.9 -2.2l-0.7 -3.5M170.7 173.1l-0.2 -3.6l-0.4 -3.6l-0.9 -3.5l-1.5 -3.3l-1.8 -3.1l-2.4 -2.6l-2.8 -2.3l-3.1 -1.8l-3.0 -2.1l-2.9 -2.0M92.2 120.7l-1.1 3.4l-1.5 3.3l-2.1 3.0l-1.8 3.1l-1.4 3.3l-1.0 3.5l-1.0 3.4l-1.2 3.4l-1.0 3.5l-1.0 3.4M115.5 211.6l3.5 -0.5l3.6 -0.7l3.4 -1.1l-0.3 -3.5l-0.7 -3.6l-0.8 -3.5l-1.1 -3.4l-1.4 -3.3l-1.6 -3.2l-2.5 -2.6l-3.0 -2.1l-3.3 -1.5l-3.5 -0.7l-3.6 -0.2M134.0 46.1l3.6 -0.4l3.6 0.4l3.5 0.7l3.3 1.4l3.0 2.0l-0.6 3.5l-0.5 3.6l0.2 3.6l0.3 3.6l0.5 3.6l0.9 3.4l1.3 3.4M130.1 128.0l2.2 -2.8l2.3 -2.7l2.9 -2.2l3.1 -1.9l3.1 -1.8l3.1 -1.9l2.9 -2.0l3.2 -1.8l3.4 -1.0l3.6 -0.5l3.6 -0.1l3.6 0.2l3.5 0.6l3.5 0.8M51.2 147.4l2.1 -3.0l2.2 -2.8l2.2 -2.9l2.2 -2.8l2.3 -2.8l2.7 -2.4l3.4 -1.3l3.4 -0.9l3.6 -0.7l3.5 -0.7l3.5 -0.9l3.6 -0.1M73.0 145.1l2.3 2.8l2.0 2.9l1.9 3.1l1.9 3.1l1.9 3.0l1.9 3.1l2.0 3.0l2.0 3.0l2.0 2.9l1.8 3.2l1.5 3.3l1.3 3.3l0.9 3.5l0.7 3.5M55.8 130.8l-0.5 -3.5l0.3 -3.6l0.8 -3.5l1.6 -3.2l2.6 -2.5l2.5 -2.7l2.3 -2.7l2.7 -2.3M170.9 60.9l-0.6 3.6l0.0 3.6l0.1 3.6l-0.1 3.6M181.7 93.3l2.8 -2.2l2.9 -2.1l3.0 -2.1l-0.9 -3.5M134.5 193.1l1.6 -3.2l1.7 -3.1l1.7 -3.2l1.7 -3.2l1.6 -3.2l1.1 -3.4l1.2 -3.4l1.0 -3.5l1.0 -3.4l0.7 -3.6l0.5 -3.5l0.3 -3.6l0.6 -3.6l0.7 -3.5l1.1 -3.4l1.2 -3.4M88.4 163.0l-0.8 3.5l-0.4 3.6l-0.4 3.6l-1.0 3.4l-1.6 3.2l-2.0 3.1l-1.6 3.2l-1.5 3.3l-1.3 3.3l-0.7 3.5l-0.3 3.6l2.9 2.0l2.5 2.7l3.5 0.5l3.6 0.6l3.3 1.3M186.6 171.6l2.1 -2.9l1.4 -3.3l0.6 -3.5l-0.2 -3.6l-1.3 -3.4l-1.7 -3.2l-1.9 -3.0l-1.8 -3.1l-1.1 -3.5l-0.4 -3.5l-0.1 -3.6l0.1 -3.6l0.4 -3.6l0.7 -3.5M113.5 148.4l-2.4 -2.7l-3.0 -2.1l-3.2 -1.7l-3.3 -1.4l-3.2 -1.5l-3.5 -1.0l-3.5 -0.6l-3.6 -0.4M177.4 103.9l-0.6 3.6l-0.4 3.6l-0.7 3.5l-1.0 3.5M124.5 167.1l-3.5 0.3l-3.6 0.0l-3.6 -0.7l-3.5 -0.9l-3.5 -0.9l-3.5 -0.4l-3.6 -0.2l-3.6 -0.1l-3.6 0.2l-3.6 0.4l-3.6 0.4l-3.6 0.3M97.0 91.5l1.1 -3.4l1.5 -3.3l2.0 -3.0l2.7 -2.3l3.1 -1.9l3.2 -1.6l3.3 -1.5l3.2 -1.6l3.3 -1.6l3.4 -1.0l3.5 -0.8l3.6 0.2l3.3 1.6l3.0 1.9M69.9 117.3l-2.6 -2.5l-2.6 -2.5l-3.0 -1.9l-3.1 -1.9M121.8 211.6l-3.5 -0.8l-3.5 -0.6l-1.0 -3.5l-1.0 -3.4l-1.5 -3.3l-1.6 -3.3l-2.1 -2.9l-2.3 -2.7l-2.5 -2.6l-3.1 -1.9l-3.4 -1.2l-3.4 -1.1M58.5 136.2l-1.9 -3.0l-2.1 -3.0l-2.0 -3.0l-1.5 -3.2l-1.0 -3.5l-0.3 -3.6M118.6 115.1l-3.3 -1.4l-3.3 -1.5l-3.2 -1.7l-3.2 -1.7l-3.0 -1.9l-3.2 -1.7l-2.9 -2.1l-2.8 -2.2l-2.8 -2.4l-2.9 -2.1l-3.0 -1.9l-3.3 -1.4" stroke="#ff3cff" stroke-width="2.20" stroke-dasharray="3 6 2 8 4 5" stroke-linecap="round" fill="none"/><path d="M173.4 182.8h0M124.3 162.6h0M106.3 195.8h0M85.5 201.7h0M142.9 132.2h0M118.8 88.8h0M124.7 153.0h0M146.0 134.3h0M80.3 171.9h0M125.2 192.0h0M64.9 175.8h0M76.7 200.1h0M87.1 186.7h0M102.1 143.1h0M128.2 144.7h0M95.8 129.1h0M189.0 165.3h0M193.1 110.6h0M161.8 74.1h0M149.5 114.4h0M120.9 91.8h0M110.7 110.3h0M162.5 106.6h0M201.3 109.8h0M134.8 62.2h0M163.2 64.1h0M89.0 99.7h0M119.5 81.6h0M151.6 204.2h0M128.4 187.1h0M106.8 139.0h0M97.2 97.5h0M46.0 153.2h0M70.5 187.7h0M96.4 43.3h0M88.3 87.0h0M174.5 160.1h0M148.7 149.1h0M58.5 138.5h0M71.2 171.5h0M193.0 160.6h0M148.2 171.4h0M118.8 51.0h0M104.9 67.1h0M139.4 100.4h0M144.2 157.0h0M149.6 203.7h0M142.0 176.3h0M133.7 112.2h0M126.0 132.3h0M127.0 202.8h0M142.3 178.6h0M42.4 122.5h0M47.1 101.8h0M73.3 108.2h0M45.8 88.3h0M184.3 122.3h0M124.5 144.0h0M54.9 128.7h0M98.2 152.7h0M117.6 77.9h0M120.8 106.3h0M137.4 135.4h0M164.3 170.1h0M110.8 68.6h0M151.1 48.4h0M168.7 178.9h0M140.5 173.7h0M78.9 77.4h0M71.8 119.5h0M72.4 105.5h0M105.8 59.4h0M149.5 100.1h0M101.8 84.4h0M120.2 101.0h0M150.8 74.9h0M114.1 202.7h0M99.7 170.8h0M82.0 65.9h0M87.2 113.1h0M43.1 166.6h0M64.5 126.9h0M140.8 108.2h0M175.5 108.5h0M134.5 64.1h0M93.7 43.9h0M185.5 147.6h0M163.4 103.8h0M67.2 123.1h0M79.8 129.9h0M127.7 176.1h0M116.9 149.6h0M128.2 65.5h0M134.9 93.4h0M124.0 67.5h0M170.6 69.3h0M152.5 103.1h0M137.8 118.6h0M156.3 153.2h0M179.7 128.3h0M76.1 144.0h0M124.7 140.6h0M31.6 110.2h0M55.1 161.4h0M165.5 61.1h0M142.1 77.5h0M120.3 163.2h0M97.2 127.0h0M144.6 111.0h0M163.9 131.9h0M168.9 112.0h0M180.4 78.0h0M53.8 185.0h0M62.9 137.4h0M117.3 153.8h0M150.0 168.5h0M122.9 137.3h0M85.9 116.3h0M48.8 74.0h0M83.8 78.6h0M89.6 71.2h0M108.7 61.7h0M186.2 127.0h0M199.4 112.0h0M170.7 173.1h0M151.7 145.2h0M92.2 120.7h0M79.1 154.0h0M115.5 211.6h0M104.2 181.7h0M134.0 46.1h0M153.1 74.9h0M130.1 128.0h0M174.1 110.9h0M51.2 147.4h0M85.9 126.1h0M73.0 145.1h0M97.1 188.8h0M55.8 130.8h0M68.1 106.8h0M170.9 60.9h0M170.3 75.3h0M181.7 93.3h0M189.5 83.4h0M134.5 193.1h0M152.2 138.9h0M88.4 163.0h0M92.6 207.4h0M186.6 171.6h0M183.4 124.3h0M113.5 148.4h0M87.8 137.0h0M177.4 103.9h0M174.7 118.1h0M124.5 167.1h0M81.7 165.5h0M97.0 91.5h0M137.2 73.2h0M69.9 117.3h0M58.6 108.5h0M121.8 211.6h0M92.9 184.3h0M58.5 136.2h0M49.7 116.9h0M118.6 115.1h0M81.7 93.1h0" stroke="#ff30ff" stroke-width="3.0" stroke-linecap="round" fill="none"/><path d="M193.5 163.0h0M123.8 167.9h0M140.3 137.6h0M66.2 180.3h0M117.5 49.4h0M47.7 154.9h0M144.6 45.9h0M76.8 195.9h0M161.0 169.6h0M57.0 121.5h0M97.1 92.4h0M122.5 192.6h0M114.7 105.0h0M142.4 164.7h0M46.7 113.2h0M115.0 90.5h0M119.5 187.9h0M128.3 145.1h0M133.1 125.1h0M85.9 175.3h0M48.7 76.7h0M77.1 96.8h0M77.2 200.0h0M139.7 76.2h0M111.4 197.5h0M159.9 127.5h0M171.9 165.8h0M104.5 131.7h0M67.6 130.3h0M51.4 125.7h0M121.8 165.7h0M132.2 192.0h0M102.5 163.3h0M177.6 165.3h0M76.8 77.1h0M98.4 126.8h0M91.5 125.2h0M150.3 68.8h0M174.4 160.6h0M73.2 73.3h0M80.7 91.0h0M124.8 58.0h0M65.7 94.2h0M140.3 97.9h0M133.4 113.7h0M177.4 130.2h0M109.7 196.2h0M112.0 198.9h0M88.0 136.5h0M147.7 112.8h0M128.6 72.3h0M131.0 196.3h0M126.1 58.1h0M53.9 159.3h0M63.9 141.1h0M94.2 177.7h0M180.7 139.0h0M71.1 103.8h0M86.7 113.7h0M119.6 92.1h0M193.2 133.7h0M116.4 88.1h0M159.7 124.9h0M157.6 100.3h0M114.3 47.5h0M123.5 198.6h0M191.2 120.2h0M45.9 111.4h0M92.6 183.4h0M162.2 167.4h0M59.2 136.9h0M172.4 110.2h0M63.7 130.6h0M105.5 43.9h0M149.3 150.5h0M157.4 103.5h0M78.3 71.9h0M89.0 168.8h0M109.6 181.0h0M162.7 168.4h0M94.4 55.7h0M81.6 78.1h0M179.2 109.1h0M149.7 204.6h0M130.0 54.4h0M142.9 155.4h0M125.8 208.0h0M64.3 112.1h0M183.1 165.7h0M105.6 187.0h0M153.2 176.5h0M158.9 128.6h0M129.3 140.5h0M87.1 116.8h0M150.4 64.4h0M80.9 155.7h0M195.6 147.6h0M126.2 57.9h0M101.4 43.5h0M57.6 118.2h0M104.9 175.3h0M148.4 100.8h0M34.1 111.1h0M173.9 103.6h0M94.3 44.1h0M100.4 164.1h0M187.5 125.2h0M69.0 163.9h0M187.4 170.0h0M125.1 57.7h0M102.0 137.4h0M146.3 77.5h0M154.7 164.0h0M147.7 192.4h0M190.2 86.1h0M162.8 108.8h0M139.5 113.1h0M120.8 166.9h0M118.9 95.1h0M161.3 152.0h0M43.7 134.1h0M78.6 145.1h0M193.1 162.7h0M57.0 147.9h0M150.1 200.6h0M68.6 128.7h0M169.7 167.4h0M133.8 88.8h0M172.2 122.2h0M95.3 176.4h0M134.3 193.5h0M190.9 163.0h0M138.5 129.6h0M160.0 94.0h0M43.5 130.8h0M103.6 147.0h0M149.4 200.9h0M137.0 83.7h0M143.1 182.6h0M143.6 154.1h0M56.2 128.2h0M72.4 125.8h0M121.3 140.5h0M191.6 162.2h0M126.4 151.9h0M77.5 74.4h0M68.4 116.9h0M116.8 82.2h0M104.3 142.0h0M117.1 86.8h0M145.7 110.4h0M130.2 80.1h0M116.4 114.9h0M119.8 163.9h0M172.8 123.1h0M143.3 135.8h0M134.2 191.3h0M185.3 95.5h0M43.3 164.0h0M103.5 77.0h0M90.6 181.7h0M193.0 108.8h0" stroke="#2cff2c" stroke-width="1.68" stroke-opacity="1.00" stroke-linecap="round" fill="none"/><path d="M97.8 87.4h0M108.1 147.0h0M144.6 155.7h0M42.8 133.5h0M97.2 150.9h0M84.4 163.4h0M156.1 148.3h0M127.3 158.6h0M162.3 168.7h0M61.3 88.2h0M192.0 104.8h0M70.9 165.4h0M78.4 79.6h0M50.6 158.9h0M142.8 76.2h0M177.5 90.6h0M176.2 127.1h0M98.9 109.2h0M84.5 146.9h0M137.7 120.7h0M109.6 87.9h0M111.8 204.7h0M117.0 184.9h0M175.7 164.9h0M188.1 87.8h0M52.6 156.1h0M149.6 147.6h0M105.7 137.8h0M151.1 68.0h0M90.1 76.3h0M136.7 149.2h0M87.1 207.0h0M182.2 133.9h0M67.7 100.3h0M173.4 181.8h0M92.3 43.2h0M71.0 195.1h0M172.0 122.9h0M111.2 109.3h0M85.7 81.7h0M109.1 165.8h0M80.7 185.2h0M196.2 119.1h0M139.2 134.9h0M100.8 186.9h0M76.3 105.3h0M168.4 124.5h0M147.7 158.9h0M128.9 163.1h0M164.9 105.0h0M175.4 117.0h0M138.9 97.3h0M60.9 113.6h0M99.2 184.3h0M96.5 183.5h0M167.5 73.3h0M179.2 121.9h0M125.8 152.1h0M88.0 162.1h0M58.1 85.1h0M90.9 136.4h0M50.4 153.8h0M56.0 139.5h0M55.2 172.5h0M90.6 206.4h0M139.0 105.5h0M134.4 160.2h0M114.7 209.2h0M176.2 104.7h0M75.4 99.0h0M67.9 156.2h0M187.3 105.6h0M160.7 90.0h0M83.8 79.4h0M159.3 152.1h0M139.8 182.3h0M124.9 143.1h0M68.4 106.9h0M88.9 117.8h0M57.1 145.9h0M109.5 199.5h0M119.9 162.7h0M150.5 62.1h0M79.4 152.9h0M90.2 124.2h0M133.1 92.2h0M101.7 63.2h0M170.4 155.7h0M98.3 129.2h0M96.4 97.0h0M190.6 158.0h0M74.8 127.9h0M50.2 124.9h0M114.3 154.2h0M56.0 82.2h0M164.9 62.1h0M191.8 163.3h0M121.8 54.8h0M79.3 152.9h0M99.5 92.1h0M72.0 106.5h0M129.7 94.9h0M165.8 108.8h0M91.4 97.1h0M110.1 76.4h0M96.9 138.9h0M100.5 105.7h0M72.0 168.6h0M88.0 116.6h0M141.5 113.4h0M152.3 140.7h0M108.0 42.1h0M100.5 164.2h0M51.4 154.8h0M69.4 157.3h0M190.9 103.1h0M82.6 145.5h0M62.0 110.2h0M97.9 173.3h0M132.0 190.8h0M159.6 169.0h0M117.9 186.9h0M62.2 113.3h0M149.3 116.7h0M44.5 134.6h0M136.9 118.3h0M148.6 203.5h0M154.2 121.5h0M166.5 167.2h0M113.9 130.3h0M127.3 104.2h0M138.4 118.6h0M100.0 171.6h0M143.4 99.5h0M149.2 60.8h0M88.9 117.5h0M91.5 179.4h0M190.5 165.9h0M85.2 81.0h0M83.5 94.2h0M127.2 95.1h0M150.3 201.3h0M83.6 95.5h0M99.8 66.6h0M96.9 188.4h0M63.1 90.3h0M169.6 110.2h0M37.7 116.4h0M102.3 121.4h0M79.1 70.6h0M103.2 167.6h0M79.1 91.4h0M149.4 61.3h0M66.1 177.1h0M44.7 80.4h0M96.1 185.0h0M81.1 97.0h0M184.3 113.1h0M139.0 98.7h0M54.5 180.6h0M160.0 99.0h0M82.7 101.9h0M64.9 181.4h0M179.8 101.4h0" stroke="#2cff2c" stroke-width="1.99" stroke-opacity="1.00" stroke-linecap="round" fill="none"/><path d="M59.1 84.7h0M186.0 171.6h0M57.6 85.5h0M158.5 152.5h0M106.2 63.5h0M103.8 80.0h0M90.3 123.5h0M68.1 74.5h0M107.0 63.1h0M118.7 159.3h0M77.7 125.4h0M40.9 119.2h0M106.1 79.1h0M147.7 108.1h0M49.7 158.0h0M76.0 151.9h0M161.6 91.0h0M93.5 151.8h0M157.5 168.5h0M125.7 174.1h0M91.1 75.8h0M169.4 163.8h0M118.6 52.5h0M156.8 128.2h0M80.1 187.7h0M145.8 99.8h0M104.3 148.6h0M129.9 146.9h0M113.5 131.3h0M194.3 164.4h0M145.0 75.9h0M151.4 71.4h0M174.4 102.9h0M54.3 147.4h0M79.4 76.6h0M150.5 77.2h0M44.6 132.7h0M88.2 205.4h0M171.2 180.5h0M79.5 87.9h0M119.4 89.7h0M86.3 146.0h0M81.6 78.5h0M101.3 125.7h0M188.9 164.3h0M111.5 182.9h0M146.2 166.1h0M192.0 124.8h0M158.6 165.1h0M180.5 107.5h0M170.4 176.0h0M85.0 173.4h0M122.5 142.8h0M111.7 191.0h0M159.3 176.4h0M138.7 132.8h0M83.3 205.5h0M144.1 132.6h0M50.9 155.2h0M113.5 205.2h0M59.7 136.8h0M93.3 180.7h0M171.4 180.8h0M97.4 164.3h0M166.4 146.4h0M190.9 158.1h0M56.4 154.8h0M159.4 97.1h0M42.3 161.4h0M193.8 125.7h0M80.0 89.1h0M135.9 121.8h0M136.1 84.6h0M47.9 153.5h0M194.2 142.1h0M87.7 137.0h0M72.8 142.9h0M140.1 119.4h0M47.2 74.6h0M57.1 132.2h0M156.8 64.7h0M142.6 113.0h0M194.3 103.7h0M190.2 84.5h0M77.2 70.8h0M111.5 195.6h0M169.3 108.6h0M84.7 96.3h0M152.1 111.5h0M192.6 116.7h0M78.6 68.3h0M110.3 76.5h0M43.4 131.2h0M158.5 128.1h0M80.7 78.4h0M77.3 96.5h0M78.3 199.3h0M65.3 92.1h0M84.3 126.8h0M60.7 73.1h0M167.4 107.8h0M50.2 122.7h0M92.1 181.8h0M145.4 135.7h0M181.5 166.4h0M96.3 182.2h0M109.0 149.2h0M88.3 176.6h0M107.6 135.9h0M46.9 153.1h0M132.5 125.7h0M108.2 147.1h0M131.0 139.2h0M172.5 158.2h0M133.9 89.8h0M112.7 112.9h0M106.8 193.1h0M117.0 140.1h0M99.0 119.5h0M57.6 72.9h0M91.5 74.3h0M56.0 165.6h0M162.1 65.2h0M194.5 147.4h0M84.9 126.5h0M169.4 71.1h0M170.9 71.1h0M191.7 127.3h0M95.7 118.3h0M167.6 161.4h0M71.6 141.9h0M193.9 148.3h0M77.5 99.2h0M100.1 109.3h0M171.8 105.9h0M46.1 152.8h0M66.9 139.3h0M76.8 108.5h0M133.7 90.9h0M148.6 158.1h0M68.1 156.3h0M146.4 108.1h0M79.8 191.5h0M81.5 182.8h0M132.2 128.6h0M42.5 122.8h0M59.7 177.0h0M180.4 166.8h0M64.7 115.8h0" stroke="#2cff2c" stroke-width="2.31" stroke-opacity="1.00" stroke-linecap="round" fill="none"/></g></svg>
<rect x="980.7" y="1318.8" width="62" height="4.6" fill="#fff"/>
<text x="-0.50" y="34.70" font-size="30" text-anchor="start" font-weight="bold" fill="#231f20">a</text>
<text x="-0.50" y="769.60" font-size="30" text-anchor="start" font-weight="bold" fill="#231f20">c</text>
<text x="1113.50" y="34.70" font-size="30" text-anchor="start" font-weight="bold" fill="#231f20">b</text>
<text x="1129.00" y="770.50" font-size="30" text-anchor="start" font-weight="bold" fill="#231f20">d</text>
<text x="186.75" y="79.60" font-size="29" text-anchor="middle" fill="#000">Ctrl</text>
<text x="445.05" y="79.70" font-size="29" text-anchor="middle" fill="#000"><tspan font-style="italic">Swsap1</tspan> KO</text>
<text x="685.75" y="79.00" font-size="26.7" text-anchor="middle" fill="#000"><tspan font-style="italic">Fignl1</tspan> cKO</text>
<text x="934.75" y="54.80" font-size="29" text-anchor="middle" fill="#000"><tspan font-style="italic">Swsap1</tspan> KO</text>
<text x="934.25" y="89.60" font-size="29" text-anchor="middle" fill="#000"><tspan font-style="italic">Fignl1</tspan> cKO</text>
<text x="186.75" y="815.90" font-size="29" text-anchor="middle" fill="#000">Ctrl</text>
<text x="445.05" y="816.00" font-size="29" text-anchor="middle" fill="#000"><tspan font-style="italic">Swsap1</tspan> KO</text>
<text x="680.25" y="815.30" font-size="29" text-anchor="middle" fill="#000"><tspan font-style="italic">Fignl1</tspan> cKO</text>
<text x="934.75" y="791.10" font-size="29" text-anchor="middle" fill="#000"><tspan font-style="italic">Swsap1</tspan> KO</text>
<text x="934.25" y="825.90" font-size="29" text-anchor="middle" fill="#000"><tspan font-style="italic">Fignl1</tspan> cKO</text>
<text transform="translate(39.8 352.0) rotate(-90)" font-size="29.4" text-anchor="middle" fill="#000">Early zygonema</text>
<text transform="translate(39.8 1088.6) rotate(-90)" font-size="29.4" text-anchor="middle" fill="#000">Early zygonema</text>
<text x="74.00" y="141.80" font-size="29.5" fill="#ffffff" stroke="#ffffff" stroke-width="0.35" textLength="90.5" lengthAdjust="spacingAndGlyphs">RAD51</text>
<text x="74.00" y="390.80" font-size="29.5" fill="#22ff22" stroke="#22ff22" stroke-width="0.35" textLength="90.5" lengthAdjust="spacingAndGlyphs">RAD51</text>
<text x="74.00" y="425.80" font-size="29.5" fill="#ff22ff" stroke="#ff22ff" stroke-width="0.35" textLength="93.5" lengthAdjust="spacingAndGlyphs">SYCP3</text>
<text x="74.00" y="877.70" font-size="29.5" fill="#ffffff" stroke="#ffffff" stroke-width="0.35" textLength="84.0" lengthAdjust="spacingAndGlyphs">DMC1</text>
<text x="74.00" y="1127.50" font-size="29.5" fill="#22ff22" stroke="#22ff22" stroke-width="0.35" textLength="84.0" lengthAdjust="spacingAndGlyphs">DMC1</text>
<text x="74.00" y="1162.50" font-size="29.5" fill="#ff22ff" stroke="#ff22ff" stroke-width="0.35" textLength="93.5" lengthAdjust="spacingAndGlyphs">SYCP3</text>
<line x1="1231.60" y1="250.10" x2="1231.60" y2="554.50" stroke="#000" stroke-width="2.8"/>
<line x1="1226.20" y1="554.50" x2="1989.00" y2="554.50" stroke="#000" stroke-width="3"/>
<text x="1219.50" y="562.60" font-size="23" text-anchor="end" fill="#000">0</text>
<line x1="1226.20" y1="493.90" x2="1231.60" y2="493.90" stroke="#000" stroke-width="2.8"/>
<text x="1219.50" y="502.00" font-size="23" text-anchor="end" fill="#000">200</text>
<line x1="1226.20" y1="433.30" x2="1231.60" y2="433.30" stroke="#000" stroke-width="2.8"/>
<text x="1219.50" y="441.40" font-size="23" text-anchor="end" fill="#000">400</text>
<line x1="1226.20" y1="372.70" x2="1231.60" y2="372.70" stroke="#000" stroke-width="2.8"/>
<text x="1219.50" y="380.80" font-size="23" text-anchor="end" fill="#000">600</text>
<line x1="1226.20" y1="312.10" x2="1231.60" y2="312.10" stroke="#000" stroke-width="2.8"/>
<text x="1219.50" y="320.20" font-size="23" text-anchor="end" fill="#000">800</text>
<line x1="1226.20" y1="251.50" x2="1231.60" y2="251.50" stroke="#000" stroke-width="2.8"/>
<text x="1219.50" y="259.60" font-size="23" text-anchor="end" fill="#000">1000</text>
<line x1="1262.30" y1="554.50" x2="1262.30" y2="560.00" stroke="#000" stroke-width="2.6"/>
<line x1="1308.52" y1="554.50" x2="1308.52" y2="560.00" stroke="#000" stroke-width="2.6"/>
<line x1="1354.74" y1="554.50" x2="1354.74" y2="560.00" stroke="#000" stroke-width="2.6"/>
<line x1="1400.96" y1="554.50" x2="1400.96" y2="560.00" stroke="#000" stroke-width="2.6"/>
<line x1="1447.18" y1="554.50" x2="1447.18" y2="560.00" stroke="#000" stroke-width="2.6"/>
<line x1="1493.40" y1="554.50" x2="1493.40" y2="560.00" stroke="#000" stroke-width="2.6"/>
<line x1="1539.62" y1="554.50" x2="1539.62" y2="560.00" stroke="#000" stroke-width="2.6"/>
<line x1="1585.84" y1="554.50" x2="1585.84" y2="560.00" stroke="#000" stroke-width="2.6"/>
<line x1="1632.06" y1="554.50" x2="1632.06" y2="560.00" stroke="#000" stroke-width="2.6"/>
<line x1="1678.28" y1="554.50" x2="1678.28" y2="560.00" stroke="#000" stroke-width="2.6"/>
<line x1="1724.50" y1="554.50" x2="1724.50" y2="560.00" stroke="#000" stroke-width="2.6"/>
<line x1="1770.72" y1="554.50" x2="1770.72" y2="560.00" stroke="#000" stroke-width="2.6"/>
<line x1="1816.94" y1="554.50" x2="1816.94" y2="560.00" stroke="#000" stroke-width="2.6"/>
<line x1="1863.16" y1="554.50" x2="1863.16" y2="560.00" stroke="#000" stroke-width="2.6"/>
<line x1="1909.38" y1="554.50" x2="1909.38" y2="560.00" stroke="#000" stroke-width="2.6"/>
<line x1="1955.60" y1="554.50" x2="1955.60" y2="560.00" stroke="#000" stroke-width="2.6"/>
<line x1="1424.90" y1="247.0" x2="1424.90" y2="561.0" stroke="#000" stroke-width="2.1" stroke-dasharray="4.2 4.2"/>
<line x1="1607.80" y1="247.0" x2="1607.80" y2="561.0" stroke="#000" stroke-width="2.1" stroke-dasharray="4.2 4.2"/>
<line x1="1791.70" y1="247.0" x2="1791.70" y2="561.0" stroke="#000" stroke-width="2.1" stroke-dasharray="4.2 4.2"/>
<g fill="#000000"><circle cx="1266.0" cy="492.4" r="4.6"/><circle cx="1258.6" cy="496.9" r="4.6"/><circle cx="1262.3" cy="498.4" r="4.6"/><circle cx="1262.3" cy="515.0" r="4.6"/><circle cx="1262.3" cy="507.2" r="4.6"/><circle cx="1265.8" cy="504.2" r="4.6"/><circle cx="1251.8" cy="511.5" r="4.6"/><circle cx="1272.8" cy="515.5" r="4.6"/><circle cx="1255.3" cy="509.4" r="4.6"/><circle cx="1258.8" cy="506.7" r="4.6"/><circle cx="1269.7" cy="503.7" r="4.6"/><circle cx="1267.5" cy="514.9" r="4.6"/><circle cx="1257.0" cy="515.3" r="4.6"/><circle cx="1272.8" cy="505.6" r="4.6"/><circle cx="1269.3" cy="506.8" r="4.6"/><circle cx="1254.9" cy="501.6" r="4.6"/><circle cx="1251.8" cy="504.3" r="4.6"/><circle cx="1262.3" cy="528.5" r="4.6"/><circle cx="1265.8" cy="529.7" r="4.6"/><circle cx="1269.3" cy="529.8" r="4.6"/><circle cx="1258.6" cy="533.1" r="4.6"/><circle cx="1266.0" cy="535.4" r="4.6"/><circle cx="1255.3" cy="527.2" r="4.6"/><circle cx="1272.8" cy="526.9" r="4.6"/><circle cx="1251.8" cy="530.1" r="4.6"/><circle cx="1258.8" cy="528.3" r="4.6"/><circle cx="1254.9" cy="526.0" r="4.6"/><circle cx="1269.7" cy="523.2" r="4.6"/><circle cx="1262.3" cy="520.5" r="4.6"/><circle cx="1269.7" cy="553.8" r="4.6"/><circle cx="1254.9" cy="551.6" r="4.6"/><circle cx="1262.3" cy="550.5" r="4.6"/><circle cx="1272.8" cy="548.8" r="4.6"/><circle cx="1265.8" cy="547.4" r="4.6"/><circle cx="1258.8" cy="545.6" r="4.6"/><circle cx="1251.8" cy="544.3" r="4.6"/><circle cx="1254.9" cy="543.0" r="4.6"/><circle cx="1269.7" cy="540.3" r="4.6"/><circle cx="1262.3" cy="538.8" r="4.6"/></g>
<g fill="#ff8f00"><circle cx="1308.5" cy="510.6" r="4.6"/><circle cx="1308.5" cy="518.1" r="4.6"/><circle cx="1301.1" cy="527.2" r="4.6"/><circle cx="1308.5" cy="530.3" r="4.6"/><circle cx="1315.9" cy="532.7" r="4.6"/><circle cx="1298.0" cy="540.2" r="4.6"/><circle cx="1319.0" cy="542.2" r="4.6"/><circle cx="1306.4" cy="538.6" r="4.6"/><circle cx="1310.6" cy="537.8" r="4.6"/><circle cx="1314.8" cy="540.6" r="4.6"/><circle cx="1302.2" cy="539.4" r="4.6"/><circle cx="1306.6" cy="554.3" r="4.6"/><circle cx="1315.2" cy="554.3" r="4.6"/><circle cx="1301.8" cy="554.0" r="4.6"/><circle cx="1313.3" cy="553.7" r="4.6"/><circle cx="1312.3" cy="553.5" r="4.6"/><circle cx="1307.6" cy="553.4" r="4.6"/><circle cx="1305.7" cy="553.1" r="4.6"/><circle cx="1304.7" cy="552.7" r="4.6"/><circle cx="1299.9" cy="552.6" r="4.6"/><circle cx="1317.1" cy="552.4" r="4.6"/><circle cx="1309.5" cy="552.2" r="4.6"/><circle cx="1308.5" cy="552.0" r="4.6"/><circle cx="1311.4" cy="551.6" r="4.6"/><circle cx="1303.7" cy="551.6" r="4.6"/><circle cx="1299.0" cy="551.2" r="4.6"/><circle cx="1316.2" cy="551.0" r="4.6"/><circle cx="1319.0" cy="550.8" r="4.6"/><circle cx="1302.8" cy="550.5" r="4.6"/><circle cx="1314.2" cy="550.5" r="4.6"/><circle cx="1310.4" cy="550.3" r="4.6"/><circle cx="1318.1" cy="549.9" r="4.6"/><circle cx="1300.9" cy="549.7" r="4.6"/><circle cx="1298.0" cy="549.5" r="4.6"/><circle cx="1302.4" cy="549.4" r="4.6"/><circle cx="1317.3" cy="549.2" r="4.6"/><circle cx="1298.9" cy="548.9" r="4.6"/><circle cx="1310.3" cy="548.8" r="4.6"/><circle cx="1305.0" cy="548.4" r="4.6"/><circle cx="1308.5" cy="548.1" r="4.6"/><circle cx="1301.5" cy="548.0" r="4.6"/><circle cx="1303.3" cy="547.9" r="4.6"/><circle cx="1299.8" cy="547.6" r="4.6"/><circle cx="1304.1" cy="547.3" r="4.6"/><circle cx="1305.9" cy="547.2" r="4.6"/><circle cx="1319.0" cy="546.9" r="4.6"/><circle cx="1315.5" cy="546.6" r="4.6"/><circle cx="1311.1" cy="546.5" r="4.6"/><circle cx="1307.6" cy="546.2" r="4.6"/><circle cx="1313.8" cy="545.9" r="4.6"/><circle cx="1316.4" cy="545.9" r="4.6"/><circle cx="1300.6" cy="545.6" r="4.6"/><circle cx="1314.6" cy="545.3" r="4.6"/><circle cx="1309.4" cy="545.2" r="4.6"/><circle cx="1312.9" cy="544.9" r="4.6"/><circle cx="1318.1" cy="544.6" r="4.6"/><circle cx="1312.0" cy="544.4" r="4.6"/><circle cx="1298.0" cy="544.3" r="4.6"/><circle cx="1306.8" cy="544.0" r="4.6"/></g>
<g fill="none" stroke="#0a2aff" stroke-width="2.9"><circle cx="1354.7" cy="266.7" r="4.5"/><circle cx="1354.7" cy="350.9" r="4.5"/><circle cx="1354.7" cy="368.2" r="4.5"/><circle cx="1354.7" cy="377.9" r="4.5"/><circle cx="1351.0" cy="383.9" r="4.5"/><circle cx="1349.5" cy="426.1" r="4.5"/><circle cx="1358.4" cy="458.9" r="4.5"/><circle cx="1347.3" cy="445.1" r="4.5"/><circle cx="1361.0" cy="439.5" r="4.5"/><circle cx="1355.9" cy="418.3" r="4.5"/><circle cx="1365.2" cy="423.1" r="4.5"/><circle cx="1358.2" cy="416.4" r="4.5"/><circle cx="1360.0" cy="427.5" r="4.5"/><circle cx="1351.2" cy="425.7" r="4.5"/><circle cx="1354.7" cy="405.7" r="4.5"/><circle cx="1346.6" cy="414.2" r="4.5"/><circle cx="1351.2" cy="416.2" r="4.5"/><circle cx="1362.9" cy="415.4" r="4.5"/><circle cx="1365.2" cy="439.2" r="4.5"/><circle cx="1344.2" cy="415.7" r="4.5"/><circle cx="1349.5" cy="408.4" r="4.5"/><circle cx="1356.5" cy="422.0" r="4.5"/><circle cx="1344.2" cy="431.5" r="4.5"/><circle cx="1365.2" cy="403.6" r="4.5"/><circle cx="1358.2" cy="425.3" r="4.5"/><circle cx="1344.2" cy="402.0" r="4.5"/><circle cx="1365.2" cy="409.8" r="4.5"/><circle cx="1358.4" cy="386.9" r="4.5"/><circle cx="1347.7" cy="403.0" r="4.5"/><circle cx="1353.6" cy="416.6" r="4.5"/><circle cx="1361.7" cy="422.9" r="4.5"/><circle cx="1347.7" cy="424.5" r="4.5"/><circle cx="1360.0" cy="421.2" r="4.5"/><circle cx="1354.7" cy="431.3" r="4.5"/><circle cx="1360.0" cy="437.6" r="4.5"/><circle cx="1360.0" cy="413.6" r="4.5"/><circle cx="1349.5" cy="420.6" r="4.5"/><circle cx="1354.7" cy="413.0" r="4.5"/><circle cx="1348.9" cy="415.9" r="4.5"/><circle cx="1353.0" cy="422.1" r="4.5"/><circle cx="1358.2" cy="400.8" r="4.5"/><circle cx="1356.8" cy="443.4" r="4.5"/><circle cx="1365.2" cy="428.7" r="4.5"/><circle cx="1352.6" cy="441.6" r="4.5"/><circle cx="1354.7" cy="445.1" r="4.5"/><circle cx="1360.6" cy="415.5" r="4.5"/><circle cx="1348.4" cy="444.7" r="4.5"/><circle cx="1346.0" cy="424.0" r="4.5"/><circle cx="1363.5" cy="424.3" r="4.5"/><circle cx="1344.2" cy="413.3" r="4.5"/><circle cx="1365.2" cy="414.3" r="4.5"/><circle cx="1362.1" cy="395.2" r="4.5"/><circle cx="1354.7" cy="398.9" r="4.5"/><circle cx="1365.2" cy="433.3" r="4.5"/><circle cx="1344.2" cy="440.4" r="4.5"/><circle cx="1351.2" cy="406.2" r="4.5"/><circle cx="1349.5" cy="432.6" r="4.5"/><circle cx="1361.7" cy="404.3" r="4.5"/><circle cx="1347.3" cy="400.0" r="4.5"/><circle cx="1351.0" cy="453.9" r="4.5"/><circle cx="1344.2" cy="425.0" r="4.5"/><circle cx="1362.1" cy="446.1" r="4.5"/><circle cx="1344.2" cy="435.8" r="4.5"/><circle cx="1354.7" cy="421.0" r="4.5"/><circle cx="1354.7" cy="433.5" r="4.5"/><circle cx="1354.7" cy="503.0" r="4.5"/><circle cx="1354.7" cy="509.1" r="4.5"/><circle cx="1354.7" cy="521.2" r="4.5"/><circle cx="1358.4" cy="531.8" r="4.5"/><circle cx="1351.0" cy="535.7" r="4.5"/><circle cx="1351.0" cy="539.4" r="4.5"/><circle cx="1358.4" cy="544.5" r="4.5"/><circle cx="1354.7" cy="554.5" r="4.5"/></g>
<g fill="none" stroke="#93208f" stroke-width="2.9"><circle cx="1401.0" cy="266.7" r="4.5"/><circle cx="1401.0" cy="318.5" r="4.5"/><circle cx="1401.0" cy="333.3" r="4.5"/><circle cx="1401.0" cy="375.1" r="4.5"/><circle cx="1408.5" cy="418.4" r="4.5"/><circle cx="1404.7" cy="393.2" r="4.5"/><circle cx="1390.5" cy="438.3" r="4.5"/><circle cx="1405.5" cy="420.1" r="4.5"/><circle cx="1404.5" cy="402.6" r="4.5"/><circle cx="1397.5" cy="427.2" r="4.5"/><circle cx="1405.5" cy="425.5" r="4.5"/><circle cx="1404.7" cy="466.5" r="4.5"/><circle cx="1390.5" cy="422.1" r="4.5"/><circle cx="1393.5" cy="420.4" r="4.5"/><circle cx="1398.9" cy="411.3" r="4.5"/><circle cx="1406.2" cy="450.0" r="4.5"/><circle cx="1397.5" cy="397.9" r="4.5"/><circle cx="1395.7" cy="461.9" r="4.5"/><circle cx="1411.5" cy="433.0" r="4.5"/><circle cx="1390.5" cy="427.8" r="4.5"/><circle cx="1411.5" cy="453.0" r="4.5"/><circle cx="1411.5" cy="415.0" r="4.5"/><circle cx="1390.5" cy="399.4" r="4.5"/><circle cx="1404.5" cy="431.0" r="4.5"/><circle cx="1408.4" cy="441.4" r="4.5"/><circle cx="1406.2" cy="461.3" r="4.5"/><circle cx="1399.5" cy="419.0" r="4.5"/><circle cx="1403.1" cy="408.9" r="4.5"/><circle cx="1393.6" cy="441.4" r="4.5"/><circle cx="1397.3" cy="474.0" r="4.5"/><circle cx="1395.7" cy="449.6" r="4.5"/><circle cx="1411.5" cy="411.9" r="4.5"/><circle cx="1397.3" cy="463.0" r="4.5"/><circle cx="1411.5" cy="420.8" r="4.5"/><circle cx="1396.5" cy="417.9" r="4.5"/><circle cx="1397.3" cy="391.5" r="4.5"/><circle cx="1394.7" cy="414.3" r="4.5"/><circle cx="1401.0" cy="460.3" r="4.5"/><circle cx="1411.5" cy="432.1" r="4.5"/><circle cx="1401.0" cy="445.2" r="4.5"/><circle cx="1404.7" cy="468.7" r="4.5"/><circle cx="1411.5" cy="399.0" r="4.5"/><circle cx="1397.5" cy="433.0" r="4.5"/><circle cx="1402.5" cy="423.4" r="4.5"/><circle cx="1401.0" cy="449.4" r="4.5"/><circle cx="1401.0" cy="388.5" r="4.5"/><circle cx="1390.5" cy="454.3" r="4.5"/><circle cx="1404.5" cy="434.6" r="4.5"/><circle cx="1408.5" cy="420.5" r="4.5"/><circle cx="1390.5" cy="457.3" r="4.5"/><circle cx="1402.5" cy="417.6" r="4.5"/><circle cx="1399.5" cy="425.6" r="4.5"/><circle cx="1411.5" cy="456.6" r="4.5"/><circle cx="1393.6" cy="385.3" r="4.5"/><circle cx="1396.5" cy="420.9" r="4.5"/><circle cx="1408.4" cy="388.7" r="4.5"/><circle cx="1390.5" cy="411.7" r="4.5"/><circle cx="1390.5" cy="418.6" r="4.5"/><circle cx="1407.3" cy="409.4" r="4.5"/><circle cx="1393.5" cy="425.6" r="4.5"/><circle cx="1394.0" cy="554.4" r="4.5"/><circle cx="1401.0" cy="553.6" r="4.5"/><circle cx="1408.0" cy="552.8" r="4.5"/><circle cx="1390.5" cy="552.2" r="4.5"/><circle cx="1404.5" cy="551.7" r="4.5"/><circle cx="1397.5" cy="550.9" r="4.5"/><circle cx="1411.5" cy="550.6" r="4.5"/><circle cx="1401.0" cy="549.7" r="4.5"/><circle cx="1403.6" cy="549.6" r="4.5"/><circle cx="1406.2" cy="548.9" r="4.5"/><circle cx="1393.1" cy="548.1" r="4.5"/><circle cx="1390.5" cy="547.7" r="4.5"/><circle cx="1398.3" cy="546.8" r="4.5"/><circle cx="1408.8" cy="546.2" r="4.5"/><circle cx="1395.7" cy="545.7" r="4.5"/><circle cx="1411.5" cy="544.9" r="4.5"/><circle cx="1406.2" cy="544.5" r="4.5"/><circle cx="1401.0" cy="544.0" r="4.5"/><circle cx="1395.7" cy="543.4" r="4.5"/><circle cx="1390.5" cy="542.5" r="4.5"/><circle cx="1411.5" cy="539.4" r="4.5"/><circle cx="1397.3" cy="536.3" r="4.5"/><circle cx="1404.7" cy="533.3" r="4.5"/></g>
<g fill="#000000"><circle cx="1447.2" cy="521.2" r="4.6"/><circle cx="1447.2" cy="512.1" r="4.6"/><circle cx="1439.7" cy="501.6" r="4.6"/><circle cx="1440.2" cy="500.7" r="4.6"/><circle cx="1445.7" cy="505.8" r="4.6"/><circle cx="1454.2" cy="498.7" r="4.6"/><circle cx="1443.7" cy="500.0" r="4.6"/><circle cx="1442.7" cy="504.7" r="4.6"/><circle cx="1454.7" cy="505.2" r="4.6"/><circle cx="1448.7" cy="503.3" r="4.6"/><circle cx="1436.7" cy="502.9" r="4.6"/><circle cx="1447.2" cy="495.9" r="4.6"/><circle cx="1457.7" cy="503.3" r="4.6"/><circle cx="1450.7" cy="498.8" r="4.6"/><circle cx="1457.7" cy="496.5" r="4.6"/><circle cx="1451.7" cy="504.8" r="4.6"/><circle cx="1436.7" cy="500.9" r="4.6"/></g>
<g fill="#ff8f00"><circle cx="1493.4" cy="532.1" r="4.6"/><circle cx="1489.7" cy="537.8" r="4.6"/><circle cx="1499.7" cy="554.1" r="4.6"/><circle cx="1491.3" cy="553.9" r="4.6"/><circle cx="1485.0" cy="553.4" r="4.6"/><circle cx="1482.9" cy="552.6" r="4.6"/><circle cx="1495.5" cy="552.3" r="4.6"/><circle cx="1497.6" cy="551.6" r="4.6"/><circle cx="1489.2" cy="551.4" r="4.6"/><circle cx="1487.1" cy="550.8" r="4.6"/><circle cx="1503.9" cy="550.1" r="4.6"/><circle cx="1501.8" cy="549.9" r="4.6"/><circle cx="1493.4" cy="549.3" r="4.6"/><circle cx="1502.0" cy="548.6" r="4.6"/><circle cx="1500.1" cy="548.0" r="4.6"/><circle cx="1488.6" cy="547.4" r="4.6"/><circle cx="1486.7" cy="547.4" r="4.6"/><circle cx="1494.4" cy="546.7" r="4.6"/><circle cx="1498.2" cy="546.0" r="4.6"/><circle cx="1492.4" cy="545.7" r="4.6"/><circle cx="1490.5" cy="545.1" r="4.6"/><circle cx="1482.9" cy="544.8" r="4.6"/><circle cx="1503.9" cy="544.4" r="4.6"/><circle cx="1484.8" cy="543.8" r="4.6"/><circle cx="1496.3" cy="543.4" r="4.6"/><circle cx="1497.1" cy="542.6" r="4.6"/></g>
<g fill="none" stroke="#0a2aff" stroke-width="2.9"><circle cx="1539.6" cy="508.4" r="4.5"/><circle cx="1539.6" cy="493.3" r="4.5"/><circle cx="1539.6" cy="470.9" r="4.5"/><circle cx="1539.6" cy="457.5" r="4.5"/><circle cx="1539.6" cy="451.5" r="4.5"/><circle cx="1535.9" cy="446.9" r="4.5"/><circle cx="1543.3" cy="442.4" r="4.5"/><circle cx="1535.9" cy="437.8" r="4.5"/><circle cx="1543.3" cy="433.3" r="4.5"/><circle cx="1539.6" cy="427.2" r="4.5"/><circle cx="1539.6" cy="423.6" r="4.5"/><circle cx="1532.2" cy="421.2" r="4.5"/><circle cx="1547.0" cy="418.8" r="4.5"/><circle cx="1539.6" cy="410.6" r="4.5"/><circle cx="1543.3" cy="406.0" r="4.5"/><circle cx="1535.9" cy="402.1" r="4.5"/></g>
<g fill="none" stroke="#93208f" stroke-width="2.9"><circle cx="1582.1" cy="553.3" r="4.5"/><circle cx="1589.5" cy="552.9" r="4.5"/><circle cx="1575.3" cy="551.1" r="4.5"/><circle cx="1596.3" cy="549.3" r="4.5"/><circle cx="1591.1" cy="548.4" r="4.5"/><circle cx="1585.8" cy="547.3" r="4.5"/><circle cx="1580.6" cy="546.0" r="4.5"/><circle cx="1582.3" cy="544.2" r="4.5"/><circle cx="1575.3" cy="543.5" r="4.5"/><circle cx="1596.3" cy="540.9" r="4.5"/><circle cx="1589.3" cy="539.6" r="4.5"/><circle cx="1585.8" cy="476.6" r="4.5"/><circle cx="1585.8" cy="463.6" r="4.5"/><circle cx="1585.8" cy="454.5" r="4.5"/><circle cx="1585.8" cy="445.4" r="4.5"/><circle cx="1585.8" cy="437.8" r="4.5"/><circle cx="1593.2" cy="422.8" r="4.5"/><circle cx="1578.4" cy="420.4" r="4.5"/><circle cx="1585.8" cy="418.8" r="4.5"/><circle cx="1585.8" cy="417.2" r="4.5"/><circle cx="1593.2" cy="414.7" r="4.5"/><circle cx="1578.4" cy="412.8" r="4.5"/><circle cx="1593.2" cy="409.8" r="4.5"/><circle cx="1578.4" cy="408.1" r="4.5"/><circle cx="1585.8" cy="407.1" r="4.5"/><circle cx="1585.8" cy="403.7" r="4.5"/><circle cx="1578.4" cy="402.0" r="4.5"/><circle cx="1593.2" cy="399.9" r="4.5"/><circle cx="1585.8" cy="397.7" r="4.5"/><circle cx="1593.2" cy="396.5" r="4.5"/><circle cx="1578.4" cy="393.4" r="4.5"/><circle cx="1578.4" cy="391.4" r="4.5"/><circle cx="1585.8" cy="389.7" r="4.5"/><circle cx="1593.2" cy="387.5" r="4.5"/><circle cx="1589.3" cy="385.4" r="4.5"/><circle cx="1596.3" cy="384.1" r="4.5"/><circle cx="1575.3" cy="381.4" r="4.5"/><circle cx="1582.3" cy="380.7" r="4.5"/></g>
<g fill="#000000"><circle cx="1628.4" cy="530.3" r="4.6"/><circle cx="1635.8" cy="525.7" r="4.6"/><circle cx="1623.5" cy="501.1" r="4.6"/><circle cx="1635.8" cy="494.1" r="4.6"/><circle cx="1636.8" cy="501.2" r="4.6"/><circle cx="1625.4" cy="502.7" r="4.6"/><circle cx="1625.8" cy="507.0" r="4.6"/><circle cx="1627.3" cy="504.0" r="4.6"/><circle cx="1629.2" cy="501.3" r="4.6"/><circle cx="1639.9" cy="500.4" r="4.6"/><circle cx="1624.2" cy="496.8" r="4.6"/><circle cx="1637.3" cy="498.6" r="4.6"/><circle cx="1626.8" cy="499.7" r="4.6"/><circle cx="1634.7" cy="496.0" r="4.6"/><circle cx="1638.4" cy="506.7" r="4.6"/><circle cx="1634.9" cy="503.2" r="4.6"/><circle cx="1642.6" cy="510.6" r="4.6"/><circle cx="1634.2" cy="509.5" r="4.6"/><circle cx="1621.6" cy="510.8" r="4.6"/><circle cx="1632.1" cy="495.1" r="4.6"/><circle cx="1642.6" cy="498.6" r="4.6"/><circle cx="1631.1" cy="502.3" r="4.6"/><circle cx="1640.7" cy="504.2" r="4.6"/><circle cx="1621.6" cy="499.1" r="4.6"/><circle cx="1642.6" cy="503.9" r="4.6"/><circle cx="1638.7" cy="506.0" r="4.6"/><circle cx="1633.0" cy="501.7" r="4.6"/><circle cx="1630.0" cy="510.7" r="4.6"/><circle cx="1621.6" cy="502.1" r="4.6"/><circle cx="1628.4" cy="488.8" r="4.6"/><circle cx="1629.4" cy="497.1" r="4.6"/></g>
<g fill="#ff8f00"><circle cx="1684.6" cy="554.2" r="4.6"/><circle cx="1672.0" cy="553.5" r="4.6"/><circle cx="1688.8" cy="553.2" r="4.6"/><circle cx="1680.4" cy="552.3" r="4.6"/><circle cx="1667.8" cy="552.1" r="4.6"/><circle cx="1676.2" cy="551.3" r="4.6"/><circle cx="1679.4" cy="550.9" r="4.6"/><circle cx="1681.8" cy="550.1" r="4.6"/><circle cx="1688.8" cy="549.9" r="4.6"/><circle cx="1670.1" cy="549.3" r="4.6"/><circle cx="1674.8" cy="548.4" r="4.6"/><circle cx="1677.1" cy="547.7" r="4.6"/><circle cx="1686.4" cy="547.6" r="4.6"/><circle cx="1672.4" cy="546.6" r="4.6"/><circle cx="1667.8" cy="546.4" r="4.6"/><circle cx="1684.1" cy="545.6" r="4.6"/><circle cx="1678.3" cy="542.4" r="4.6"/><circle cx="1670.9" cy="539.4" r="4.6"/><circle cx="1685.7" cy="536.9" r="4.6"/></g>
<g fill="none" stroke="#0a2aff" stroke-width="2.9"><circle cx="1728.2" cy="422.7" r="4.5"/><circle cx="1720.8" cy="425.7" r="4.5"/><circle cx="1728.2" cy="428.8" r="4.5"/><circle cx="1720.8" cy="431.8" r="4.5"/><circle cx="1724.5" cy="434.8" r="4.5"/><circle cx="1719.2" cy="457.1" r="4.5"/><circle cx="1714.0" cy="457.9" r="4.5"/><circle cx="1724.5" cy="457.6" r="4.5"/><circle cx="1717.1" cy="447.7" r="4.5"/><circle cx="1731.9" cy="452.1" r="4.5"/><circle cx="1729.8" cy="455.1" r="4.5"/><circle cx="1735.0" cy="453.6" r="4.5"/><circle cx="1724.5" cy="450.8" r="4.5"/><circle cx="1720.8" cy="463.6" r="4.5"/><circle cx="1728.2" cy="468.1" r="4.5"/><circle cx="1728.2" cy="472.7" r="4.5"/><circle cx="1720.8" cy="477.2" r="4.5"/><circle cx="1720.8" cy="490.6" r="4.5"/><circle cx="1720.8" cy="485.8" r="4.5"/><circle cx="1728.2" cy="487.9" r="4.5"/><circle cx="1728.2" cy="482.3" r="4.5"/><circle cx="1723.0" cy="506.3" r="4.5"/><circle cx="1720.0" cy="509.3" r="4.5"/><circle cx="1726.0" cy="510.9" r="4.5"/><circle cx="1729.0" cy="510.3" r="4.5"/><circle cx="1735.0" cy="508.1" r="4.5"/><circle cx="1714.0" cy="509.2" r="4.5"/><circle cx="1732.0" cy="507.9" r="4.5"/><circle cx="1717.0" cy="505.5" r="4.5"/></g>
<g fill="none" stroke="#93208f" stroke-width="2.9"><circle cx="1781.2" cy="554.2" r="4.5"/><circle cx="1772.8" cy="553.7" r="4.5"/><circle cx="1760.2" cy="553.3" r="4.5"/><circle cx="1777.0" cy="552.7" r="4.5"/><circle cx="1768.6" cy="552.4" r="4.5"/><circle cx="1764.4" cy="551.8" r="4.5"/><circle cx="1771.7" cy="551.1" r="4.5"/><circle cx="1775.5" cy="550.5" r="4.5"/><circle cx="1769.8" cy="550.4" r="4.5"/><circle cx="1781.2" cy="549.9" r="4.5"/><circle cx="1767.9" cy="549.0" r="4.5"/><circle cx="1779.3" cy="548.6" r="4.5"/><circle cx="1762.1" cy="548.1" r="4.5"/><circle cx="1773.6" cy="547.8" r="4.5"/><circle cx="1764.0" cy="547.2" r="4.5"/><circle cx="1760.2" cy="546.8" r="4.5"/><circle cx="1777.4" cy="546.0" r="4.5"/><circle cx="1765.9" cy="545.7" r="4.5"/><circle cx="1770.7" cy="531.5" r="4.5"/><circle cx="1770.7" cy="403.9" r="4.5"/><circle cx="1770.7" cy="421.2" r="4.5"/><circle cx="1770.7" cy="427.2" r="4.5"/><circle cx="1770.7" cy="433.3" r="4.5"/><circle cx="1770.7" cy="439.4" r="4.5"/><circle cx="1767.0" cy="445.4" r="4.5"/><circle cx="1774.4" cy="450.0" r="4.5"/><circle cx="1770.7" cy="454.5" r="4.5"/><circle cx="1770.7" cy="460.6" r="4.5"/><circle cx="1770.7" cy="466.6" r="4.5"/><circle cx="1770.7" cy="472.7" r="4.5"/><circle cx="1767.0" cy="478.8" r="4.5"/><circle cx="1774.4" cy="480.9" r="4.5"/></g>
<g fill="#000000"><circle cx="1814.1" cy="527.6" r="4.6"/><circle cx="1827.4" cy="505.1" r="4.6"/><circle cx="1827.4" cy="530.8" r="4.6"/><circle cx="1806.4" cy="528.5" r="4.6"/><circle cx="1806.4" cy="534.6" r="4.6"/><circle cx="1822.2" cy="520.7" r="4.6"/><circle cx="1816.0" cy="528.8" r="4.6"/><circle cx="1822.2" cy="506.8" r="4.6"/><circle cx="1806.4" cy="518.9" r="4.6"/><circle cx="1816.9" cy="509.9" r="4.6"/><circle cx="1814.8" cy="529.2" r="4.6"/><circle cx="1806.4" cy="506.0" r="4.6"/><circle cx="1819.8" cy="524.9" r="4.6"/><circle cx="1819.0" cy="513.5" r="4.6"/><circle cx="1820.6" cy="535.2" r="4.6"/><circle cx="1823.2" cy="530.7" r="4.6"/><circle cx="1827.4" cy="523.6" r="4.6"/><circle cx="1810.3" cy="527.1" r="4.6"/><circle cx="1821.7" cy="525.8" r="4.6"/><circle cx="1812.2" cy="526.6" r="4.6"/><circle cx="1816.9" cy="519.7" r="4.6"/><circle cx="1811.7" cy="508.7" r="4.6"/><circle cx="1808.3" cy="523.7" r="4.6"/><circle cx="1825.5" cy="524.5" r="4.6"/><circle cx="1819.6" cy="521.5" r="4.6"/><circle cx="1811.7" cy="520.3" r="4.6"/><circle cx="1827.4" cy="522.7" r="4.6"/><circle cx="1817.9" cy="525.8" r="4.6"/><circle cx="1810.6" cy="530.5" r="4.6"/><circle cx="1823.2" cy="517.5" r="4.6"/><circle cx="1819.0" cy="533.5" r="4.6"/><circle cx="1823.6" cy="526.5" r="4.6"/><circle cx="1806.4" cy="515.4" r="4.6"/><circle cx="1810.6" cy="515.2" r="4.6"/><circle cx="1827.4" cy="512.5" r="4.6"/><circle cx="1814.3" cy="519.7" r="4.6"/><circle cx="1809.1" cy="518.1" r="4.6"/><circle cx="1813.2" cy="536.0" r="4.6"/><circle cx="1814.8" cy="516.8" r="4.6"/><circle cx="1824.8" cy="519.1" r="4.6"/></g>
<g fill="#ff8f00"><circle cx="1855.7" cy="554.2" r="4.6"/><circle cx="1852.7" cy="553.5" r="4.6"/><circle cx="1867.7" cy="552.6" r="4.6"/><circle cx="1864.7" cy="552.0" r="4.6"/><circle cx="1870.7" cy="551.1" r="4.6"/><circle cx="1858.7" cy="550.8" r="4.6"/><circle cx="1861.7" cy="549.8" r="4.6"/><circle cx="1873.7" cy="549.3" r="4.6"/></g>
<g fill="none" stroke="#0a2aff" stroke-width="2.9"><circle cx="1913.1" cy="540.9" r="4.5"/><circle cx="1905.7" cy="536.3" r="4.5"/><circle cx="1913.1" cy="527.2" r="4.5"/><circle cx="1905.7" cy="522.7" r="4.5"/><circle cx="1909.4" cy="515.1" r="4.5"/><circle cx="1909.4" cy="509.1" r="4.5"/><circle cx="1905.7" cy="503.0" r="4.5"/><circle cx="1913.1" cy="498.4" r="4.5"/><circle cx="1905.7" cy="493.9" r="4.5"/><circle cx="1913.1" cy="489.4" r="4.5"/><circle cx="1909.4" cy="483.3" r="4.5"/><circle cx="1913.1" cy="478.8" r="4.5"/><circle cx="1905.7" cy="475.7" r="4.5"/><circle cx="1909.4" cy="469.7" r="4.5"/><circle cx="1909.4" cy="463.9" r="4.5"/></g>
<g fill="none" stroke="#93208f" stroke-width="2.9"><circle cx="1960.8" cy="553.9" r="4.5"/><circle cx="1945.1" cy="553.7" r="4.5"/><circle cx="1950.3" cy="553.2" r="4.5"/><circle cx="1947.7" cy="552.3" r="4.5"/><circle cx="1953.0" cy="551.7" r="4.5"/><circle cx="1958.2" cy="551.3" r="4.5"/><circle cx="1963.5" cy="550.6" r="4.5"/><circle cx="1955.6" cy="549.9" r="4.5"/><circle cx="1966.1" cy="549.5" r="4.5"/><circle cx="1955.6" cy="542.1" r="4.5"/></g>
<rect x="1246.8" y="518.6" width="31" height="6" fill="#ff2a00"/>
<rect x="1293.0" y="542.5" width="31" height="6" fill="#ff2a00"/>
<rect x="1339.2" y="430.9" width="31" height="6" fill="#ff2a00"/>
<rect x="1385.5" y="454.8" width="31" height="6" fill="#ff2a00"/>
<rect x="1431.7" y="500.3" width="31" height="6" fill="#ff2a00"/>
<rect x="1477.9" y="545.1" width="31" height="6" fill="#ff2a00"/>
<rect x="1524.1" y="437.9" width="31" height="6" fill="#ff2a00"/>
<rect x="1570.3" y="458.2" width="31" height="6" fill="#ff2a00"/>
<rect x="1616.6" y="504.2" width="31" height="6" fill="#ff2a00"/>
<rect x="1662.8" y="546.0" width="31" height="6" fill="#ff2a00"/>
<rect x="1709.0" y="466.7" width="31" height="6" fill="#ff2a00"/>
<rect x="1755.2" y="493.0" width="31" height="6" fill="#ff2a00"/>
<rect x="1801.4" y="518.5" width="31" height="6" fill="#ff2a00"/>
<rect x="1847.7" y="549.7" width="31" height="6" fill="#ff2a00"/>
<rect x="1893.9" y="494.8" width="31" height="6" fill="#ff2a00"/>
<rect x="1940.1" y="549.1" width="31" height="6" fill="#ff2a00"/>
<text x="1189.30" y="592.90" font-size="21" text-anchor="start" fill="#000">n=</text>
<text x="1259.10" y="592.90" font-size="21" text-anchor="middle" fill="#000">39</text>
<text x="1305.32" y="592.90" font-size="21" text-anchor="middle" fill="#000">59</text>
<text x="1351.54" y="592.90" font-size="21" text-anchor="middle" fill="#000">73</text>
<text x="1397.76" y="592.90" font-size="21" text-anchor="middle" fill="#000">83</text>
<text x="1443.98" y="592.90" font-size="21" text-anchor="middle" fill="#000">17</text>
<text x="1490.20" y="592.90" font-size="21" text-anchor="middle" fill="#000">26</text>
<text x="1536.42" y="592.90" font-size="21" text-anchor="middle" fill="#000">16</text>
<text x="1582.64" y="592.90" font-size="21" text-anchor="middle" fill="#000">38</text>
<text x="1628.86" y="592.90" font-size="21" text-anchor="middle" fill="#000">31</text>
<text x="1675.08" y="592.90" font-size="21" text-anchor="middle" fill="#000">19</text>
<text x="1721.30" y="592.90" font-size="21" text-anchor="middle" fill="#000">29</text>
<text x="1767.52" y="592.90" font-size="21" text-anchor="middle" fill="#000">32</text>
<text x="1813.74" y="592.90" font-size="21" text-anchor="middle" fill="#000">40</text>
<text x="1859.96" y="592.90" font-size="21" text-anchor="middle" fill="#000">8</text>
<text x="1906.18" y="592.90" font-size="21" text-anchor="middle" fill="#000">15</text>
<text x="1952.40" y="592.90" font-size="21" text-anchor="middle" fill="#000">10</text>
<text x="1334.90" y="660.60" font-size="29.4" text-anchor="middle" fill="#231f20">Leptonema</text>
<text x="1517.50" y="639.50" font-size="29.4" text-anchor="middle" fill="#231f20">Early</text>
<text x="1516.80" y="674.80" font-size="29.4" text-anchor="middle" fill="#231f20">zygonema</text>
<text x="1702.20" y="639.50" font-size="29.4" text-anchor="middle" fill="#231f20">Mid</text>
<text x="1701.50" y="674.80" font-size="29.4" text-anchor="middle" fill="#231f20">zygonema</text>
<text x="1886.60" y="639.50" font-size="29.4" text-anchor="middle" fill="#231f20">Late</text>
<text x="1885.90" y="674.80" font-size="29.4" text-anchor="middle" fill="#231f20">zygonema</text>
<text transform="translate(1133.7 403.7) rotate(-90)" font-size="24.3" text-anchor="middle" fill="#000">RAD51 foci per nucleus</text>
<path d="M1262.30 233.10 V226.30 H1309.52 V233.10" fill="none" stroke="#000" stroke-width="2.6" stroke-linecap="round"/>
<text x="1286.21" y="225.20" font-size="25" text-anchor="middle" fill="#000">****</text>
<path d="M1354.74 233.10 V226.30 H1401.96 V233.10" fill="none" stroke="#000" stroke-width="2.6" stroke-linecap="round"/>
<text x="1381.35" y="215.00" font-size="25" text-anchor="middle" fill="#000"><tspan font-style="italic">p</tspan>=<tspan dx="3">0.0701</tspan></text>
<path d="M1447.18 233.10 V226.30 H1494.40 V233.10" fill="none" stroke="#000" stroke-width="2.6" stroke-linecap="round"/>
<text x="1471.09" y="225.20" font-size="25" text-anchor="middle" fill="#000">****</text>
<path d="M1539.62 233.10 V226.30 H1586.84 V233.10" fill="none" stroke="#000" stroke-width="2.6" stroke-linecap="round"/>
<text x="1566.23" y="215.00" font-size="25" text-anchor="middle" fill="#000"><tspan font-style="italic">p</tspan>=<tspan dx="3">0.9664</tspan></text>
<path d="M1632.06 233.10 V226.30 H1679.28 V233.10" fill="none" stroke="#000" stroke-width="2.6" stroke-linecap="round"/>
<text x="1655.97" y="225.20" font-size="25" text-anchor="middle" fill="#000">****</text>
<path d="M1724.50 233.10 V226.30 H1771.72 V233.10" fill="none" stroke="#000" stroke-width="2.6" stroke-linecap="round"/>
<text x="1751.11" y="215.00" font-size="25" text-anchor="middle" fill="#000"><tspan font-style="italic">p</tspan>=<tspan dx="3">0.1053</tspan></text>
<path d="M1816.94 233.10 V226.30 H1864.16 V233.10" fill="none" stroke="#000" stroke-width="2.6" stroke-linecap="round"/>
<text x="1840.85" y="225.20" font-size="25" text-anchor="middle" fill="#000">****</text>
<path d="M1909.38 233.10 V226.30 H1956.60 V233.10" fill="none" stroke="#000" stroke-width="2.6" stroke-linecap="round"/>
<text x="1933.29" y="225.20" font-size="25" text-anchor="middle" fill="#000">****</text>
<line x1="1232.50" y1="987.40" x2="1232.50" y2="1293.20" stroke="#000" stroke-width="2.8"/>
<line x1="1227.10" y1="1293.20" x2="1992.50" y2="1293.20" stroke="#000" stroke-width="3"/>
<text x="1219.50" y="1301.50" font-size="23.5" text-anchor="end" fill="#000">0</text>
<line x1="1227.10" y1="1217.10" x2="1232.50" y2="1217.10" stroke="#000" stroke-width="2.8"/>
<text x="1219.50" y="1225.40" font-size="23.5" text-anchor="end" fill="#000">200</text>
<line x1="1227.10" y1="1141.00" x2="1232.50" y2="1141.00" stroke="#000" stroke-width="2.8"/>
<text x="1219.50" y="1149.30" font-size="23.5" text-anchor="end" fill="#000">400</text>
<line x1="1227.10" y1="1064.90" x2="1232.50" y2="1064.90" stroke="#000" stroke-width="2.8"/>
<text x="1219.50" y="1073.20" font-size="23.5" text-anchor="end" fill="#000">600</text>
<line x1="1227.10" y1="988.80" x2="1232.50" y2="988.80" stroke="#000" stroke-width="2.8"/>
<text x="1219.50" y="997.10" font-size="23.5" text-anchor="end" fill="#000">800</text>
<line x1="1263.00" y1="1293.20" x2="1263.00" y2="1298.70" stroke="#000" stroke-width="2.6"/>
<line x1="1309.40" y1="1293.20" x2="1309.40" y2="1298.70" stroke="#000" stroke-width="2.6"/>
<line x1="1355.80" y1="1293.20" x2="1355.80" y2="1298.70" stroke="#000" stroke-width="2.6"/>
<line x1="1402.20" y1="1293.20" x2="1402.20" y2="1298.70" stroke="#000" stroke-width="2.6"/>
<line x1="1448.60" y1="1293.20" x2="1448.60" y2="1298.70" stroke="#000" stroke-width="2.6"/>
<line x1="1495.00" y1="1293.20" x2="1495.00" y2="1298.70" stroke="#000" stroke-width="2.6"/>
<line x1="1541.40" y1="1293.20" x2="1541.40" y2="1298.70" stroke="#000" stroke-width="2.6"/>
<line x1="1587.80" y1="1293.20" x2="1587.80" y2="1298.70" stroke="#000" stroke-width="2.6"/>
<line x1="1634.20" y1="1293.20" x2="1634.20" y2="1298.70" stroke="#000" stroke-width="2.6"/>
<line x1="1680.60" y1="1293.20" x2="1680.60" y2="1298.70" stroke="#000" stroke-width="2.6"/>
<line x1="1727.00" y1="1293.20" x2="1727.00" y2="1298.70" stroke="#000" stroke-width="2.6"/>
<line x1="1773.40" y1="1293.20" x2="1773.40" y2="1298.70" stroke="#000" stroke-width="2.6"/>
<line x1="1819.80" y1="1293.20" x2="1819.80" y2="1298.70" stroke="#000" stroke-width="2.6"/>
<line x1="1866.20" y1="1293.20" x2="1866.20" y2="1298.70" stroke="#000" stroke-width="2.6"/>
<line x1="1912.60" y1="1293.20" x2="1912.60" y2="1298.70" stroke="#000" stroke-width="2.6"/>
<line x1="1959.00" y1="1293.20" x2="1959.00" y2="1298.70" stroke="#000" stroke-width="2.6"/>
<line x1="1424.90" y1="984.0" x2="1424.90" y2="1299.7" stroke="#000" stroke-width="2.1" stroke-dasharray="4.2 4.2"/>
<line x1="1607.80" y1="984.0" x2="1607.80" y2="1299.7" stroke="#000" stroke-width="2.1" stroke-dasharray="4.2 4.2"/>
<line x1="1791.70" y1="984.0" x2="1791.70" y2="1299.7" stroke="#000" stroke-width="2.1" stroke-dasharray="4.2 4.2"/>
<g fill="#000000"><circle cx="1259.3" cy="1216.3" r="4.6"/><circle cx="1266.7" cy="1219.0" r="4.6"/><circle cx="1252.5" cy="1291.2" r="4.6"/><circle cx="1259.5" cy="1289.0" r="4.6"/><circle cx="1266.5" cy="1287.0" r="4.6"/><circle cx="1273.5" cy="1286.6" r="4.6"/><circle cx="1270.4" cy="1283.3" r="4.6"/><circle cx="1263.0" cy="1281.5" r="4.6"/><circle cx="1255.6" cy="1279.1" r="4.6"/><circle cx="1270.4" cy="1277.8" r="4.6"/><circle cx="1263.0" cy="1275.5" r="4.6"/><circle cx="1255.6" cy="1272.8" r="4.6"/><circle cx="1263.0" cy="1271.2" r="4.6"/><circle cx="1255.6" cy="1268.5" r="4.6"/><circle cx="1270.4" cy="1267.3" r="4.6"/><circle cx="1259.3" cy="1265.0" r="4.6"/><circle cx="1266.7" cy="1261.5" r="4.6"/><circle cx="1270.4" cy="1259.9" r="4.6"/><circle cx="1263.0" cy="1257.6" r="4.6"/><circle cx="1255.6" cy="1255.0" r="4.6"/><circle cx="1270.4" cy="1253.6" r="4.6"/><circle cx="1255.6" cy="1252.1" r="4.6"/><circle cx="1263.0" cy="1248.4" r="4.6"/><circle cx="1270.4" cy="1246.7" r="4.6"/><circle cx="1255.6" cy="1244.3" r="4.6"/><circle cx="1263.0" cy="1242.3" r="4.6"/><circle cx="1263.0" cy="1239.4" r="4.6"/><circle cx="1270.4" cy="1238.5" r="4.6"/><circle cx="1255.6" cy="1235.5" r="4.6"/><circle cx="1270.4" cy="1234.2" r="4.6"/><circle cx="1263.0" cy="1231.6" r="4.6"/><circle cx="1255.6" cy="1229.2" r="4.6"/></g>
<g fill="#ff8f00"><circle cx="1313.1" cy="1260.9" r="4.6"/><circle cx="1305.7" cy="1264.7" r="4.6"/><circle cx="1304.2" cy="1293.2" r="4.6"/><circle cx="1314.7" cy="1292.5" r="4.6"/><circle cx="1317.3" cy="1291.7" r="4.6"/><circle cx="1312.0" cy="1291.0" r="4.6"/><circle cx="1319.9" cy="1290.7" r="4.6"/><circle cx="1306.8" cy="1290.1" r="4.6"/><circle cx="1301.5" cy="1289.5" r="4.6"/><circle cx="1309.4" cy="1288.9" r="4.6"/><circle cx="1298.9" cy="1288.1" r="4.6"/><circle cx="1312.9" cy="1287.6" r="4.6"/><circle cx="1315.2" cy="1287.2" r="4.6"/><circle cx="1303.6" cy="1286.7" r="4.6"/><circle cx="1298.9" cy="1285.7" r="4.6"/><circle cx="1301.2" cy="1285.2" r="4.6"/><circle cx="1305.9" cy="1284.5" r="4.6"/><circle cx="1310.6" cy="1284.3" r="4.6"/><circle cx="1319.9" cy="1283.5" r="4.6"/><circle cx="1317.6" cy="1282.7" r="4.6"/><circle cx="1308.2" cy="1282.3" r="4.6"/><circle cx="1305.9" cy="1281.5" r="4.6"/><circle cx="1301.2" cy="1281.4" r="4.6"/><circle cx="1310.6" cy="1280.3" r="4.6"/><circle cx="1317.6" cy="1280.3" r="4.6"/><circle cx="1308.2" cy="1279.5" r="4.6"/><circle cx="1319.9" cy="1279.1" r="4.6"/><circle cx="1303.6" cy="1278.1" r="4.6"/><circle cx="1312.9" cy="1277.6" r="4.6"/><circle cx="1298.9" cy="1276.8" r="4.6"/><circle cx="1315.2" cy="1276.3" r="4.6"/><circle cx="1308.2" cy="1275.7" r="4.6"/><circle cx="1303.6" cy="1275.3" r="4.6"/><circle cx="1319.9" cy="1274.5" r="4.6"/><circle cx="1315.2" cy="1274.0" r="4.6"/><circle cx="1310.6" cy="1273.7" r="4.6"/><circle cx="1298.9" cy="1272.7" r="4.6"/><circle cx="1317.6" cy="1272.5" r="4.6"/><circle cx="1305.9" cy="1272.0" r="4.6"/><circle cx="1312.9" cy="1271.5" r="4.6"/><circle cx="1301.2" cy="1270.7" r="4.6"/></g>
<g fill="none" stroke="#0a2aff" stroke-width="2.9"><circle cx="1359.5" cy="1217.1" r="4.5"/><circle cx="1352.1" cy="1220.9" r="4.5"/><circle cx="1355.8" cy="1239.9" r="4.5"/><circle cx="1355.8" cy="1245.6" r="4.5"/><circle cx="1359.5" cy="1257.1" r="4.5"/><circle cx="1352.1" cy="1260.9" r="4.5"/><circle cx="1355.8" cy="1262.8" r="4.5"/><circle cx="1352.1" cy="1278.0" r="4.5"/><circle cx="1359.5" cy="1281.8" r="4.5"/><circle cx="1355.8" cy="1285.6" r="4.5"/><circle cx="1348.4" cy="1287.5" r="4.5"/><circle cx="1363.2" cy="1289.4" r="4.5"/><circle cx="1348.4" cy="1291.3" r="4.5"/><circle cx="1363.2" cy="1293.2" r="4.5"/><circle cx="1355.8" cy="1293.2" r="4.5"/><circle cx="1366.3" cy="1156.2" r="4.5"/><circle cx="1366.3" cy="1119.6" r="4.5"/><circle cx="1355.8" cy="1134.8" r="4.5"/><circle cx="1353.7" cy="1156.5" r="4.5"/><circle cx="1366.3" cy="1134.8" r="4.5"/><circle cx="1352.1" cy="1145.4" r="4.5"/><circle cx="1353.7" cy="1167.1" r="4.5"/><circle cx="1357.3" cy="1152.8" r="4.5"/><circle cx="1366.3" cy="1140.4" r="4.5"/><circle cx="1355.8" cy="1116.2" r="4.5"/><circle cx="1366.3" cy="1165.4" r="4.5"/><circle cx="1345.3" cy="1138.7" r="4.5"/><circle cx="1352.3" cy="1143.3" r="4.5"/><circle cx="1359.5" cy="1144.7" r="4.5"/><circle cx="1357.9" cy="1169.2" r="4.5"/><circle cx="1345.3" cy="1117.3" r="4.5"/><circle cx="1350.5" cy="1116.5" r="4.5"/><circle cx="1352.1" cy="1110.2" r="4.5"/><circle cx="1345.3" cy="1133.8" r="4.5"/><circle cx="1359.5" cy="1112.6" r="4.5"/><circle cx="1350.5" cy="1132.3" r="4.5"/><circle cx="1348.4" cy="1122.7" r="4.5"/><circle cx="1351.3" cy="1150.5" r="4.5"/><circle cx="1359.3" cy="1138.9" r="4.5"/><circle cx="1348.3" cy="1150.4" r="4.5"/><circle cx="1362.1" cy="1165.7" r="4.5"/><circle cx="1366.3" cy="1152.6" r="4.5"/><circle cx="1349.5" cy="1167.1" r="4.5"/><circle cx="1345.3" cy="1166.9" r="4.5"/><circle cx="1363.3" cy="1151.7" r="4.5"/><circle cx="1349.5" cy="1156.2" r="4.5"/><circle cx="1361.0" cy="1120.8" r="4.5"/><circle cx="1363.2" cy="1126.8" r="4.5"/><circle cx="1357.9" cy="1161.5" r="4.5"/><circle cx="1361.0" cy="1137.6" r="4.5"/><circle cx="1355.8" cy="1173.8" r="4.5"/><circle cx="1362.1" cy="1156.6" r="4.5"/><circle cx="1360.3" cy="1153.6" r="4.5"/><circle cx="1354.3" cy="1151.1" r="4.5"/><circle cx="1355.8" cy="1125.3" r="4.5"/><circle cx="1345.3" cy="1160.0" r="4.5"/><circle cx="1345.3" cy="1154.1" r="4.5"/></g>
<g fill="none" stroke="#93208f" stroke-width="2.9"><circle cx="1412.7" cy="1292.2" r="4.5"/><circle cx="1391.7" cy="1290.6" r="4.5"/><circle cx="1398.7" cy="1289.2" r="4.5"/><circle cx="1405.7" cy="1288.6" r="4.5"/><circle cx="1398.7" cy="1286.9" r="4.5"/><circle cx="1391.7" cy="1284.5" r="4.5"/><circle cx="1412.7" cy="1282.6" r="4.5"/><circle cx="1405.7" cy="1282.3" r="4.5"/><circle cx="1409.6" cy="1280.0" r="4.5"/><circle cx="1402.2" cy="1278.1" r="4.5"/><circle cx="1398.5" cy="1260.9" r="4.5"/><circle cx="1405.9" cy="1264.7" r="4.5"/><circle cx="1398.5" cy="1270.4" r="4.5"/><circle cx="1405.9" cy="1274.2" r="4.5"/><circle cx="1394.8" cy="1276.1" r="4.5"/><circle cx="1402.2" cy="1203.0" r="4.5"/><circle cx="1398.7" cy="1198.9" r="4.5"/><circle cx="1405.7" cy="1197.9" r="4.5"/><circle cx="1391.7" cy="1194.1" r="4.5"/><circle cx="1412.7" cy="1193.5" r="4.5"/><circle cx="1402.2" cy="1190.9" r="4.5"/><circle cx="1409.6" cy="1186.5" r="4.5"/><circle cx="1394.8" cy="1185.7" r="4.5"/><circle cx="1409.6" cy="1183.3" r="4.5"/><circle cx="1394.8" cy="1179.9" r="4.5"/><circle cx="1402.2" cy="1177.9" r="4.5"/><circle cx="1405.9" cy="1175.2" r="4.5"/><circle cx="1398.5" cy="1170.7" r="4.5"/><circle cx="1402.2" cy="1168.1" r="4.5"/><circle cx="1409.6" cy="1166.1" r="4.5"/><circle cx="1394.8" cy="1164.9" r="4.5"/><circle cx="1398.5" cy="1161.5" r="4.5"/><circle cx="1405.9" cy="1158.0" r="4.5"/><circle cx="1409.6" cy="1156.2" r="4.5"/><circle cx="1394.8" cy="1154.0" r="4.5"/><circle cx="1402.2" cy="1152.2" r="4.5"/><circle cx="1402.2" cy="1148.8" r="4.5"/><circle cx="1409.6" cy="1145.8" r="4.5"/><circle cx="1394.8" cy="1143.9" r="4.5"/><circle cx="1409.6" cy="1140.9" r="4.5"/><circle cx="1402.2" cy="1137.6" r="4.5"/><circle cx="1394.8" cy="1135.8" r="4.5"/><circle cx="1402.2" cy="1134.0" r="4.5"/><circle cx="1394.8" cy="1129.8" r="4.5"/><circle cx="1409.6" cy="1129.0" r="4.5"/><circle cx="1409.6" cy="1124.9" r="4.5"/><circle cx="1394.8" cy="1123.4" r="4.5"/><circle cx="1402.2" cy="1121.3" r="4.5"/><circle cx="1394.8" cy="1119.1" r="4.5"/><circle cx="1409.6" cy="1115.4" r="4.5"/><circle cx="1402.2" cy="1114.1" r="4.5"/><circle cx="1402.2" cy="1111.1" r="4.5"/><circle cx="1409.6" cy="1108.3" r="4.5"/><circle cx="1394.8" cy="1106.7" r="4.5"/><circle cx="1409.6" cy="1102.4" r="4.5"/><circle cx="1394.8" cy="1100.5" r="4.5"/><circle cx="1402.2" cy="1098.8" r="4.5"/><circle cx="1402.2" cy="1094.3" r="4.5"/><circle cx="1409.6" cy="1093.2" r="4.5"/><circle cx="1394.8" cy="1092.7" r="4.5"/><circle cx="1402.2" cy="1069.5" r="4.5"/></g>
<g fill="#000000"><circle cx="1448.6" cy="1251.4" r="4.6"/><circle cx="1444.9" cy="1249.8" r="4.6"/><circle cx="1452.3" cy="1245.6" r="4.6"/><circle cx="1441.2" cy="1241.4" r="4.6"/><circle cx="1448.6" cy="1238.8" r="4.6"/><circle cx="1456.0" cy="1237.7" r="4.6"/><circle cx="1444.9" cy="1234.8" r="4.6"/><circle cx="1452.3" cy="1229.9" r="4.6"/><circle cx="1444.9" cy="1227.6" r="4.6"/><circle cx="1452.3" cy="1223.0" r="4.6"/><circle cx="1444.9" cy="1219.0" r="4.6"/><circle cx="1452.3" cy="1216.0" r="4.6"/><circle cx="1452.3" cy="1214.3" r="4.6"/><circle cx="1444.9" cy="1209.7" r="4.6"/><circle cx="1452.3" cy="1207.4" r="4.6"/><circle cx="1444.9" cy="1202.5" r="4.6"/></g>
<g fill="#ff8f00"><circle cx="1495.0" cy="1254.8" r="4.6"/><circle cx="1495.0" cy="1262.8" r="4.6"/><circle cx="1491.5" cy="1292.3" r="4.6"/><circle cx="1484.5" cy="1291.6" r="4.6"/><circle cx="1498.5" cy="1290.4" r="4.6"/><circle cx="1505.5" cy="1288.3" r="4.6"/><circle cx="1500.2" cy="1287.5" r="4.6"/><circle cx="1495.0" cy="1286.0" r="4.6"/><circle cx="1505.5" cy="1284.6" r="4.6"/><circle cx="1489.8" cy="1284.5" r="4.6"/><circle cx="1484.5" cy="1282.7" r="4.6"/><circle cx="1489.8" cy="1280.9" r="4.6"/><circle cx="1505.5" cy="1280.7" r="4.6"/><circle cx="1500.2" cy="1279.2" r="4.6"/><circle cx="1495.0" cy="1277.6" r="4.6"/><circle cx="1484.5" cy="1276.5" r="4.6"/><circle cx="1500.2" cy="1275.0" r="4.6"/><circle cx="1495.0" cy="1274.6" r="4.6"/><circle cx="1489.8" cy="1272.2" r="4.6"/><circle cx="1484.5" cy="1270.9" r="4.6"/><circle cx="1505.5" cy="1270.0" r="4.6"/></g>
<g fill="none" stroke="#0a2aff" stroke-width="2.9"><circle cx="1537.7" cy="1223.9" r="4.5"/><circle cx="1545.1" cy="1220.9" r="4.5"/><circle cx="1541.4" cy="1188.2" r="4.5"/><circle cx="1551.9" cy="1134.5" r="4.5"/><circle cx="1547.7" cy="1139.2" r="4.5"/><circle cx="1544.9" cy="1159.5" r="4.5"/><circle cx="1551.9" cy="1131.0" r="4.5"/><circle cx="1530.9" cy="1128.4" r="4.5"/><circle cx="1545.1" cy="1153.2" r="4.5"/><circle cx="1544.9" cy="1132.0" r="4.5"/><circle cx="1537.7" cy="1168.7" r="4.5"/><circle cx="1537.7" cy="1146.0" r="4.5"/><circle cx="1530.9" cy="1163.3" r="4.5"/><circle cx="1537.9" cy="1132.6" r="4.5"/><circle cx="1539.3" cy="1135.2" r="4.5"/><circle cx="1543.5" cy="1139.1" r="4.5"/><circle cx="1537.7" cy="1151.6" r="4.5"/><circle cx="1551.9" cy="1157.8" r="4.5"/><circle cx="1537.7" cy="1140.2" r="4.5"/><circle cx="1545.1" cy="1150.8" r="4.5"/><circle cx="1530.9" cy="1137.3" r="4.5"/><circle cx="1537.9" cy="1163.2" r="4.5"/><circle cx="1545.1" cy="1140.1" r="4.5"/><circle cx="1535.1" cy="1139.1" r="4.5"/><circle cx="1545.1" cy="1171.0" r="4.5"/><circle cx="1545.1" cy="1097.2" r="4.5"/><circle cx="1537.7" cy="1093.8" r="4.5"/></g>
<g fill="none" stroke="#93208f" stroke-width="2.9"><circle cx="1577.3" cy="1292.1" r="4.5"/><circle cx="1591.3" cy="1291.4" r="4.5"/><circle cx="1598.3" cy="1289.0" r="4.5"/><circle cx="1584.3" cy="1287.8" r="4.5"/><circle cx="1584.3" cy="1286.5" r="4.5"/><circle cx="1577.3" cy="1284.4" r="4.5"/><circle cx="1598.3" cy="1282.4" r="4.5"/><circle cx="1591.3" cy="1281.6" r="4.5"/><circle cx="1584.3" cy="1279.6" r="4.5"/><circle cx="1598.3" cy="1277.4" r="4.5"/><circle cx="1577.3" cy="1277.2" r="4.5"/><circle cx="1591.3" cy="1275.6" r="4.5"/><circle cx="1584.1" cy="1178.5" r="4.5"/><circle cx="1577.3" cy="1138.6" r="4.5"/><circle cx="1584.3" cy="1151.9" r="4.5"/><circle cx="1594.8" cy="1149.2" r="4.5"/><circle cx="1591.3" cy="1140.3" r="4.5"/><circle cx="1580.4" cy="1134.7" r="4.5"/><circle cx="1591.5" cy="1117.8" r="4.5"/><circle cx="1591.3" cy="1154.6" r="4.5"/><circle cx="1584.1" cy="1131.2" r="4.5"/><circle cx="1593.0" cy="1154.9" r="4.5"/><circle cx="1591.5" cy="1180.4" r="4.5"/><circle cx="1582.5" cy="1158.7" r="4.5"/><circle cx="1591.5" cy="1102.5" r="4.5"/><circle cx="1584.1" cy="1107.8" r="4.5"/><circle cx="1584.3" cy="1168.1" r="4.5"/><circle cx="1584.3" cy="1120.7" r="4.5"/><circle cx="1591.5" cy="1126.2" r="4.5"/><circle cx="1598.3" cy="1170.3" r="4.5"/><circle cx="1591.3" cy="1120.2" r="4.5"/><circle cx="1591.5" cy="1113.1" r="4.5"/><circle cx="1584.3" cy="1141.5" r="4.5"/><circle cx="1598.3" cy="1150.3" r="4.5"/><circle cx="1577.3" cy="1152.3" r="4.5"/><circle cx="1587.8" cy="1132.1" r="4.5"/><circle cx="1580.8" cy="1151.4" r="4.5"/><circle cx="1595.2" cy="1132.5" r="4.5"/><circle cx="1598.3" cy="1123.0" r="4.5"/><circle cx="1591.5" cy="1174.4" r="4.5"/><circle cx="1577.3" cy="1172.0" r="4.5"/><circle cx="1587.8" cy="1157.4" r="4.5"/><circle cx="1577.3" cy="1123.6" r="4.5"/><circle cx="1584.1" cy="1108.4" r="4.5"/><circle cx="1598.3" cy="1157.0" r="4.5"/><circle cx="1577.3" cy="1155.7" r="4.5"/><circle cx="1598.3" cy="1137.8" r="4.5"/><circle cx="1587.8" cy="1149.6" r="4.5"/><circle cx="1584.1" cy="1114.2" r="4.5"/><circle cx="1584.1" cy="1181.8" r="4.5"/><circle cx="1591.3" cy="1170.7" r="4.5"/><circle cx="1591.5" cy="1095.3" r="4.5"/><circle cx="1584.1" cy="1090.4" r="4.5"/></g>
<g fill="#000000"><circle cx="1623.7" cy="1225.1" r="4.6"/><circle cx="1641.6" cy="1240.1" r="4.6"/><circle cx="1623.7" cy="1231.1" r="4.6"/><circle cx="1630.5" cy="1214.6" r="4.6"/><circle cx="1626.8" cy="1240.5" r="4.6"/><circle cx="1623.7" cy="1234.4" r="4.6"/><circle cx="1623.7" cy="1216.0" r="4.6"/><circle cx="1627.2" cy="1221.8" r="4.6"/><circle cx="1641.2" cy="1231.4" r="4.6"/><circle cx="1637.9" cy="1209.2" r="4.6"/><circle cx="1634.2" cy="1222.2" r="4.6"/><circle cx="1637.7" cy="1222.4" r="4.6"/><circle cx="1634.2" cy="1221.2" r="4.6"/><circle cx="1641.2" cy="1221.6" r="4.6"/><circle cx="1634.2" cy="1242.2" r="4.6"/><circle cx="1644.7" cy="1217.2" r="4.6"/><circle cx="1630.7" cy="1227.4" r="4.6"/><circle cx="1639.5" cy="1221.2" r="4.6"/><circle cx="1627.2" cy="1228.8" r="4.6"/><circle cx="1644.7" cy="1232.2" r="4.6"/><circle cx="1629.0" cy="1238.9" r="4.6"/><circle cx="1634.2" cy="1231.5" r="4.6"/><circle cx="1639.5" cy="1239.6" r="4.6"/><circle cx="1629.0" cy="1220.5" r="4.6"/><circle cx="1634.2" cy="1238.3" r="4.6"/><circle cx="1644.7" cy="1237.4" r="4.6"/><circle cx="1630.7" cy="1223.1" r="4.6"/><circle cx="1644.7" cy="1224.9" r="4.6"/><circle cx="1637.7" cy="1232.5" r="4.6"/></g>
<g fill="#ff8f00"><circle cx="1680.6" cy="1260.1" r="4.6"/><circle cx="1684.1" cy="1292.0" r="4.6"/><circle cx="1670.1" cy="1291.2" r="4.6"/><circle cx="1677.1" cy="1289.8" r="4.6"/><circle cx="1691.1" cy="1288.5" r="4.6"/><circle cx="1680.6" cy="1287.9" r="4.6"/><circle cx="1670.1" cy="1286.3" r="4.6"/><circle cx="1675.3" cy="1285.5" r="4.6"/><circle cx="1691.1" cy="1283.7" r="4.6"/><circle cx="1685.8" cy="1282.7" r="4.6"/><circle cx="1680.6" cy="1281.0" r="4.6"/><circle cx="1685.8" cy="1280.6" r="4.6"/><circle cx="1691.1" cy="1279.3" r="4.6"/><circle cx="1670.1" cy="1277.8" r="4.6"/><circle cx="1675.3" cy="1277.1" r="4.6"/><circle cx="1670.1" cy="1275.3" r="4.6"/><circle cx="1680.6" cy="1273.4" r="4.6"/><circle cx="1675.3" cy="1272.3" r="4.6"/><circle cx="1691.1" cy="1271.9" r="4.6"/><circle cx="1685.8" cy="1269.8" r="4.6"/></g>
<g fill="none" stroke="#0a2aff" stroke-width="2.9"><circle cx="1730.7" cy="1241.1" r="4.5"/><circle cx="1723.3" cy="1237.0" r="4.5"/><circle cx="1730.7" cy="1232.0" r="4.5"/><circle cx="1723.3" cy="1228.3" r="4.5"/><circle cx="1723.3" cy="1221.6" r="4.5"/><circle cx="1730.7" cy="1217.5" r="4.5"/><circle cx="1723.3" cy="1212.4" r="4.5"/><circle cx="1730.7" cy="1208.6" r="4.5"/><circle cx="1723.3" cy="1203.0" r="4.5"/><circle cx="1730.7" cy="1199.1" r="4.5"/><circle cx="1723.5" cy="1171.9" r="4.5"/><circle cx="1723.3" cy="1185.3" r="4.5"/><circle cx="1737.5" cy="1168.3" r="4.5"/><circle cx="1716.5" cy="1174.3" r="4.5"/><circle cx="1730.5" cy="1178.9" r="4.5"/><circle cx="1730.7" cy="1187.9" r="4.5"/><circle cx="1737.5" cy="1183.9" r="4.5"/><circle cx="1723.3" cy="1192.5" r="4.5"/><circle cx="1716.5" cy="1180.7" r="4.5"/><circle cx="1716.5" cy="1163.7" r="4.5"/><circle cx="1723.5" cy="1184.0" r="4.5"/><circle cx="1723.5" cy="1167.4" r="4.5"/><circle cx="1730.7" cy="1191.3" r="4.5"/><circle cx="1737.5" cy="1173.5" r="4.5"/><circle cx="1730.5" cy="1168.8" r="4.5"/><circle cx="1730.5" cy="1172.4" r="4.5"/><circle cx="1727.0" cy="1152.9" r="4.5"/><circle cx="1730.7" cy="1149.8" r="4.5"/><circle cx="1723.3" cy="1147.1" r="4.5"/><circle cx="1727.0" cy="1141.6" r="4.5"/><circle cx="1723.3" cy="1137.3" r="4.5"/><circle cx="1730.7" cy="1134.6" r="4.5"/></g>
<g fill="none" stroke="#93208f" stroke-width="2.9"><circle cx="1769.7" cy="1291.9" r="4.5"/><circle cx="1777.1" cy="1290.3" r="4.5"/><circle cx="1773.4" cy="1288.1" r="4.5"/><circle cx="1780.8" cy="1284.9" r="4.5"/><circle cx="1766.0" cy="1283.5" r="4.5"/><circle cx="1773.4" cy="1280.7" r="4.5"/><circle cx="1766.0" cy="1280.2" r="4.5"/><circle cx="1780.8" cy="1278.0" r="4.5"/><circle cx="1773.4" cy="1274.8" r="4.5"/><circle cx="1766.0" cy="1273.0" r="4.5"/><circle cx="1780.8" cy="1271.1" r="4.5"/><circle cx="1773.4" cy="1268.5" r="4.5"/><circle cx="1780.8" cy="1266.8" r="4.5"/><circle cx="1766.0" cy="1265.6" r="4.5"/><circle cx="1783.9" cy="1261.9" r="4.5"/><circle cx="1776.9" cy="1260.4" r="4.5"/><circle cx="1762.9" cy="1257.5" r="4.5"/><circle cx="1769.9" cy="1256.8" r="4.5"/><circle cx="1773.4" cy="1222.4" r="4.5"/><circle cx="1783.9" cy="1179.3" r="4.5"/><circle cx="1776.9" cy="1178.6" r="4.5"/><circle cx="1762.9" cy="1170.0" r="4.5"/><circle cx="1762.9" cy="1176.3" r="4.5"/><circle cx="1769.9" cy="1170.8" r="4.5"/><circle cx="1783.9" cy="1165.8" r="4.5"/><circle cx="1762.9" cy="1161.3" r="4.5"/><circle cx="1769.9" cy="1158.5" r="4.5"/><circle cx="1776.9" cy="1156.7" r="4.5"/><circle cx="1762.9" cy="1163.1" r="4.5"/><circle cx="1769.9" cy="1177.7" r="4.5"/><circle cx="1776.9" cy="1173.4" r="4.5"/><circle cx="1776.9" cy="1165.0" r="4.5"/><circle cx="1783.9" cy="1170.3" r="4.5"/><circle cx="1769.9" cy="1165.4" r="4.5"/><circle cx="1783.9" cy="1158.2" r="4.5"/></g>
<g fill="#000000"><circle cx="1811.4" cy="1257.0" r="4.6"/><circle cx="1812.4" cy="1259.8" r="4.6"/><circle cx="1809.3" cy="1235.9" r="4.6"/><circle cx="1828.2" cy="1255.4" r="4.6"/><circle cx="1816.1" cy="1227.1" r="4.6"/><circle cx="1816.3" cy="1249.2" r="4.6"/><circle cx="1827.3" cy="1244.5" r="4.6"/><circle cx="1819.8" cy="1273.1" r="4.6"/><circle cx="1812.4" cy="1266.7" r="4.6"/><circle cx="1817.7" cy="1240.3" r="4.6"/><circle cx="1821.3" cy="1245.6" r="4.6"/><circle cx="1809.3" cy="1247.3" r="4.6"/><circle cx="1821.9" cy="1240.1" r="4.6"/><circle cx="1815.3" cy="1243.3" r="4.6"/><circle cx="1818.3" cy="1243.1" r="4.6"/><circle cx="1809.3" cy="1244.2" r="4.6"/><circle cx="1830.3" cy="1253.9" r="4.6"/><circle cx="1819.8" cy="1252.9" r="4.6"/><circle cx="1821.9" cy="1253.4" r="4.6"/><circle cx="1824.3" cy="1245.0" r="4.6"/><circle cx="1830.3" cy="1249.2" r="4.6"/><circle cx="1830.3" cy="1236.7" r="4.6"/><circle cx="1824.0" cy="1255.3" r="4.6"/><circle cx="1819.8" cy="1267.6" r="4.6"/><circle cx="1813.5" cy="1235.3" r="4.6"/><circle cx="1826.1" cy="1238.3" r="4.6"/><circle cx="1830.3" cy="1242.4" r="4.6"/><circle cx="1817.7" cy="1254.0" r="4.6"/><circle cx="1827.2" cy="1264.7" r="4.6"/><circle cx="1819.8" cy="1259.4" r="4.6"/><circle cx="1826.1" cy="1258.2" r="4.6"/><circle cx="1823.3" cy="1251.4" r="4.6"/><circle cx="1812.3" cy="1241.5" r="4.6"/><circle cx="1823.5" cy="1227.8" r="4.6"/><circle cx="1815.6" cy="1257.6" r="4.6"/><circle cx="1827.2" cy="1265.6" r="4.6"/><circle cx="1813.5" cy="1257.6" r="4.6"/><circle cx="1809.3" cy="1257.5" r="4.6"/></g>
<g fill="#ff8f00"><circle cx="1866.2" cy="1270.8" r="4.6"/><circle cx="1860.9" cy="1287.3" r="4.6"/><circle cx="1855.7" cy="1285.9" r="4.6"/><circle cx="1866.2" cy="1284.8" r="4.6"/><circle cx="1871.4" cy="1283.8" r="4.6"/><circle cx="1876.7" cy="1282.8" r="4.6"/><circle cx="1876.7" cy="1280.9" r="4.6"/><circle cx="1860.9" cy="1280.5" r="4.6"/><circle cx="1871.4" cy="1279.1" r="4.6"/><circle cx="1866.2" cy="1278.3" r="4.6"/><circle cx="1855.7" cy="1276.4" r="4.6"/></g>
<g fill="none" stroke="#0a2aff" stroke-width="2.9"><circle cx="1912.6" cy="1269.6" r="4.5"/><circle cx="1912.6" cy="1262.0" r="4.5"/><circle cx="1912.6" cy="1237.3" r="4.5"/><circle cx="1905.2" cy="1217.1" r="4.5"/><circle cx="1920.0" cy="1217.1" r="4.5"/><circle cx="1912.6" cy="1215.6" r="4.5"/><circle cx="1908.9" cy="1207.2" r="4.5"/><circle cx="1916.3" cy="1204.5" r="4.5"/><circle cx="1908.9" cy="1193.9" r="4.5"/><circle cx="1916.3" cy="1193.1" r="4.5"/><circle cx="1908.9" cy="1175.2" r="4.5"/><circle cx="1916.3" cy="1169.9" r="4.5"/></g>
<g fill="none" stroke="#93208f" stroke-width="2.9"><circle cx="1962.7" cy="1290.2" r="4.5"/><circle cx="1955.3" cy="1287.1" r="4.5"/></g>
<rect x="1247.5" y="1255.2" width="31" height="6" fill="#ff2a00"/>
<rect x="1293.9" y="1278.0" width="31" height="6" fill="#ff2a00"/>
<rect x="1340.3" y="1174.9" width="31" height="6" fill="#ff2a00"/>
<rect x="1386.7" y="1189.7" width="31" height="6" fill="#ff2a00"/>
<rect x="1433.1" y="1223.2" width="31" height="6" fill="#ff2a00"/>
<rect x="1479.5" y="1275.4" width="31" height="6" fill="#ff2a00"/>
<rect x="1525.9" y="1150.2" width="31" height="6" fill="#ff2a00"/>
<rect x="1572.3" y="1177.2" width="31" height="6" fill="#ff2a00"/>
<rect x="1618.7" y="1225.1" width="31" height="6" fill="#ff2a00"/>
<rect x="1665.1" y="1278.0" width="31" height="6" fill="#ff2a00"/>
<rect x="1711.5" y="1183.3" width="31" height="6" fill="#ff2a00"/>
<rect x="1757.9" y="1220.9" width="31" height="6" fill="#ff2a00"/>
<rect x="1804.3" y="1245.3" width="31" height="6" fill="#ff2a00"/>
<rect x="1850.7" y="1280.3" width="31" height="6" fill="#ff2a00"/>
<rect x="1897.1" y="1210.7" width="31" height="6" fill="#ff2a00"/>
<rect x="1943.5" y="1285.6" width="31" height="6" fill="#ff2a00"/>
<text x="1189.30" y="1331.60" font-size="21" text-anchor="start" fill="#000">n=</text>
<text x="1259.80" y="1331.60" font-size="21" text-anchor="middle" fill="#000">32</text>
<text x="1306.20" y="1331.60" font-size="21" text-anchor="middle" fill="#000">41</text>
<text x="1352.60" y="1331.60" font-size="21" text-anchor="middle" fill="#000">57</text>
<text x="1399.00" y="1331.60" font-size="21" text-anchor="middle" fill="#000">61</text>
<text x="1445.40" y="1331.60" font-size="21" text-anchor="middle" fill="#000">16</text>
<text x="1491.80" y="1331.60" font-size="21" text-anchor="middle" fill="#000">21</text>
<text x="1538.20" y="1331.60" font-size="21" text-anchor="middle" fill="#000">27</text>
<text x="1584.60" y="1331.60" font-size="21" text-anchor="middle" fill="#000">53</text>
<text x="1631.00" y="1331.60" font-size="21" text-anchor="middle" fill="#000">29</text>
<text x="1677.40" y="1331.60" font-size="21" text-anchor="middle" fill="#000">20</text>
<text x="1723.80" y="1331.60" font-size="21" text-anchor="middle" fill="#000">32</text>
<text x="1770.20" y="1331.60" font-size="21" text-anchor="middle" fill="#000">35</text>
<text x="1816.60" y="1331.60" font-size="21" text-anchor="middle" fill="#000">38</text>
<text x="1863.00" y="1331.60" font-size="21" text-anchor="middle" fill="#000">11</text>
<text x="1909.40" y="1331.60" font-size="21" text-anchor="middle" fill="#000">12</text>
<text x="1955.80" y="1331.60" font-size="21" text-anchor="middle" fill="#000">2</text>
<text x="1334.90" y="1403.00" font-size="29.4" text-anchor="middle" fill="#231f20">Leptonema</text>
<text x="1517.50" y="1382.40" font-size="29.4" text-anchor="middle" fill="#231f20">Early</text>
<text x="1516.80" y="1417.00" font-size="29.4" text-anchor="middle" fill="#231f20">zygonema</text>
<text x="1702.20" y="1382.40" font-size="29.4" text-anchor="middle" fill="#231f20">Mid</text>
<text x="1701.50" y="1417.00" font-size="29.4" text-anchor="middle" fill="#231f20">zygonema</text>
<text x="1886.60" y="1382.40" font-size="29.4" text-anchor="middle" fill="#231f20">Late</text>
<text x="1885.90" y="1417.00" font-size="29.4" text-anchor="middle" fill="#231f20">zygonema</text>
<text transform="translate(1146.3 1141.0) rotate(-90)" font-size="24.3" text-anchor="middle" fill="#000">DMC1 foci per nucleus</text>
<path d="M1263.00 970.40 V963.60 H1310.40 V970.40" fill="none" stroke="#000" stroke-width="2.6" stroke-linecap="round"/>
<text x="1287.00" y="962.40" font-size="25" text-anchor="middle" fill="#000">****</text>
<path d="M1355.80 970.40 V963.60 H1403.20 V970.40" fill="none" stroke="#000" stroke-width="2.6" stroke-linecap="round"/>
<text x="1382.50" y="952.25" font-size="25" text-anchor="middle" fill="#000"><tspan font-style="italic">p</tspan>=<tspan dx="3">0.2678</tspan></text>
<path d="M1448.60 970.40 V963.60 H1496.00 V970.40" fill="none" stroke="#000" stroke-width="2.6" stroke-linecap="round"/>
<text x="1472.60" y="962.40" font-size="25" text-anchor="middle" fill="#000">****</text>
<path d="M1541.40 970.40 V963.60 H1588.80 V970.40" fill="none" stroke="#000" stroke-width="2.6" stroke-linecap="round"/>
<text x="1568.10" y="952.25" font-size="25" text-anchor="middle" fill="#000"><tspan font-style="italic">p</tspan>=<tspan dx="3">0.1281</tspan></text>
<path d="M1634.20 970.40 V963.60 H1681.60 V970.40" fill="none" stroke="#000" stroke-width="2.6" stroke-linecap="round"/>
<text x="1658.20" y="962.40" font-size="25" text-anchor="middle" fill="#000">****</text>
<path d="M1727.00 970.40 V963.60 H1774.40 V970.40" fill="none" stroke="#000" stroke-width="2.6" stroke-linecap="round"/>
<text x="1753.70" y="952.25" font-size="25" text-anchor="middle" fill="#000"><tspan font-style="italic">p</tspan>=<tspan dx="3">0.0087</tspan></text>
<path d="M1819.80 970.40 V963.60 H1867.20 V970.40" fill="none" stroke="#000" stroke-width="2.6" stroke-linecap="round"/>
<text x="1843.80" y="962.40" font-size="25" text-anchor="middle" fill="#000">****</text>
<path d="M1912.60 970.40 V963.60 H1960.00 V970.40" fill="none" stroke="#000" stroke-width="2.6" stroke-linecap="round"/>
<text x="1939.30" y="952.25" font-size="25" text-anchor="middle" fill="#000"><tspan font-style="italic">p</tspan>=<tspan dx="3">0.0220</tspan></text>
<circle cx="1672.4" cy="14.0" r="6.3" fill="#000"/>
<circle cx="1672.4" cy="60.3" r="6.3" fill="#ff8f00"/>
<circle cx="1672.4" cy="106.5" r="6.2" fill="none" stroke="#0000ff" stroke-width="1.9"/>
<circle cx="1672.4" cy="152.8" r="6.2" fill="none" stroke="#9900cc" stroke-width="1.9"/>
<text x="1692.60" y="25.40" font-size="29.4" text-anchor="start" fill="#231f20">Ctrl</text>
<text x="1692.60" y="71.30" font-size="29.4" text-anchor="start" fill="#231f20"><tspan font-style="italic">Swsap1</tspan> KO</text>
<text x="1692.60" y="117.60" font-size="29.4" text-anchor="start" fill="#231f20"><tspan font-style="italic">Fignl1</tspan> cKO</text>
<text x="1692.60" y="164.00" font-size="29.4" text-anchor="start" fill="#231f20"><tspan font-style="italic">Swsap1</tspan> KO <tspan font-style="italic">Fignl1</tspan> cKO</text>
<circle cx="1672.4" cy="756.7" r="6.3" fill="#000"/>
<circle cx="1672.4" cy="803.0" r="6.3" fill="#ff8f00"/>
<circle cx="1672.4" cy="849.2" r="6.2" fill="none" stroke="#0000ff" stroke-width="1.9"/>
<circle cx="1672.4" cy="895.5" r="6.2" fill="none" stroke="#9900cc" stroke-width="1.9"/>
<text x="1692.60" y="768.10" font-size="29.4" text-anchor="start" fill="#231f20">Ctrl</text>
<text x="1692.60" y="814.00" font-size="29.4" text-anchor="start" fill="#231f20"><tspan font-style="italic">Swsap1</tspan> KO</text>
<text x="1692.60" y="860.30" font-size="29.4" text-anchor="start" fill="#231f20"><tspan font-style="italic">Fignl1</tspan> cKO</text>
<text x="1692.60" y="906.70" font-size="29.4" text-anchor="start" fill="#231f20"><tspan font-style="italic">Swsap1</tspan> KO <tspan font-style="italic">Fignl1</tspan> cKO</text>
</svg>
</body></html>
